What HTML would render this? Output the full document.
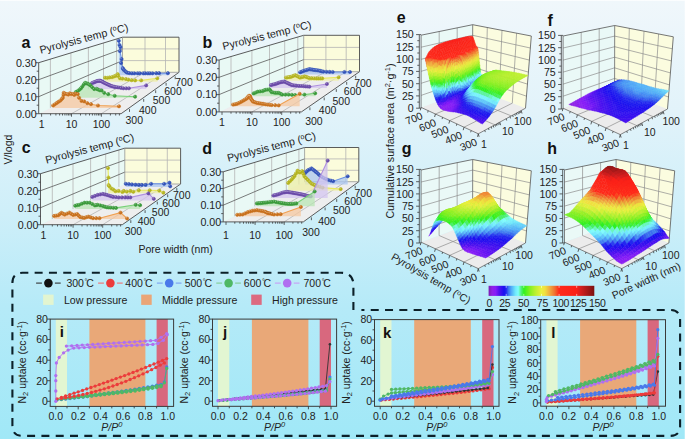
<!DOCTYPE html>
<html><head><meta charset="utf-8"><style>
html,body{margin:0;padding:0;width:685px;height:439px;overflow:hidden;background:#d8f0f8}
svg{display:block;font-family:"Liberation Sans", sans-serif}
</style></head><body>
<svg xmlns="http://www.w3.org/2000/svg" width="685" height="439" viewBox="0 0 685 439">
<defs><linearGradient id="bg" x1="0" y1="0" x2="0" y2="1">
<stop offset="0" stop-color="#f0f7fb"/>
<stop offset="0.25" stop-color="#e2f3fa"/>
<stop offset="0.48" stop-color="#cfeff9"/>
<stop offset="0.70" stop-color="#b5eaf8"/>
<stop offset="1" stop-color="#a0e8f7"/>
</linearGradient></defs>
<rect x="0" y="0" width="685" height="439" fill="url(#bg)"/>
<rect x="0" y="0" width="685" height="1" fill="#ffffff" fill-opacity="0.7"/>
<rect x="684" y="0" width="1" height="439" fill="#ffffff" fill-opacity="0.25"/>
<path d="M38.7 113.7L121.1 113.7L179 72.3L122.5 72.3Z" fill="#eeeeee"/>
<path d="M38.7 113.7L38.7 62.7L122.5 37.2L122.5 72.3Z" fill="#e9f9f5"/>
<path d="M122.5 72.3L179 72.3L179 37.2L122.5 37.2Z" fill="#fbfcdc"/>
<path d="M50.4 107.9L50.4 59.1M70.9 97.8L70.9 52.9M88.4 89.1L88.4 47.6M103.5 81.7L103.5 43M116.6 75.2L116.6 39M145 72.3L145 37.2M165.5 72.3L165.5 37.2M122.5 60.6L179 60.6M122.5 48.9L179 48.9M71.5 113.7L145 72.3M101.4 113.7L165.5 72.3" stroke="#b4b4b4" stroke-width="0.8" fill="none"/>
<path d="M38.7 96.7L122.5 60.6M38.7 79.7L122.5 48.9" stroke="#5a5a5a" stroke-width="0.8" fill="none"/>
<path d="M38.7 113.7L38.7 62.7L122.5 37.2L179 37.2L179 72.3L121.1 113.7L38.7 113.7" fill="none" stroke="#4a4a4a" stroke-width="0.9"/>
<path d="M122.5 37.2L122.5 72.3L179 72.3" fill="none" stroke="#8a8a8a" stroke-width="0.7"/>
<path d="M118.8 40.8L119.5 45L120.5 47.1L119.9 51.1L121.6 59.1L121.1 63L122.8 68.1L123.3 69.3L124.5 70.4L125.9 71.8L127.3 72.7L129.3 73.1L131.9 73.3L134.3 73.3L137.6 73.3L139.8 73.3L143.3 73.3L145.2 73.3L147.8 73.3L149.9 73.3L152.5 73.3L156.3 73.2L159.1 73.2L167.9 73.2L167.9 75.2L118.8 75.2Z" fill="#aac6f2" fill-opacity="0.75"/>
<path d="M118.8 40.8L119.5 45L120.5 47.1L119.9 51.1L121.6 59.1L121.1 63L122.8 68.1L123.3 69.3L124.5 70.4L125.9 71.8L127.3 72.7L129.3 73.1L131.9 73.3L134.3 73.3L137.6 73.3L139.8 73.3L143.3 73.3L145.2 73.3L147.8 73.3L149.9 73.3L152.5 73.3L156.3 73.2L159.1 73.2L167.9 73.2" fill="none" stroke="#6890e6" stroke-width="1.1"/>
<g fill="#3252b8" stroke="#3252b8" stroke-width="0.6"><circle cx="118.8" cy="40.8" r="1.6"/><circle cx="119.5" cy="45" r="1.6"/><circle cx="120.5" cy="47.1" r="1.6"/><circle cx="119.9" cy="51.1" r="1.6"/><circle cx="121.6" cy="59.1" r="1.6"/><circle cx="121.1" cy="63" r="1.6"/><circle cx="122.8" cy="68.1" r="1.6"/><circle cx="123.3" cy="69.3" r="1.6"/><circle cx="124.5" cy="70.4" r="1.6"/><circle cx="125.9" cy="71.8" r="1.6"/><circle cx="127.3" cy="72.7" r="1.6"/><circle cx="129.3" cy="73.1" r="1.6"/><circle cx="131.9" cy="73.3" r="1.6"/><circle cx="134.3" cy="73.3" r="1.6"/><circle cx="137.6" cy="73.3" r="1.6"/><circle cx="139.8" cy="73.3" r="1.6"/><circle cx="143.3" cy="73.3" r="1.6"/><circle cx="145.2" cy="73.3" r="1.6"/><circle cx="147.8" cy="73.3" r="1.6"/><circle cx="149.9" cy="73.3" r="1.6"/><circle cx="152.5" cy="73.3" r="1.6"/><circle cx="156.3" cy="73.2" r="1.6"/><circle cx="159.1" cy="73.2" r="1.6"/><circle cx="167.9" cy="73.2" r="1.6"/></g>
<g fill="#ffffff" fill-opacity="0.4"><circle cx="118.2" cy="40.1" r="0.55"/><circle cx="118.9" cy="44.3" r="0.55"/><circle cx="119.9" cy="46.4" r="0.55"/><circle cx="119.3" cy="50.4" r="0.55"/><circle cx="121" cy="58.4" r="0.55"/><circle cx="120.5" cy="62.3" r="0.55"/><circle cx="122.2" cy="67.4" r="0.55"/><circle cx="122.7" cy="68.6" r="0.55"/><circle cx="123.9" cy="69.7" r="0.55"/><circle cx="125.3" cy="71.1" r="0.55"/><circle cx="126.7" cy="72" r="0.55"/><circle cx="128.7" cy="72.4" r="0.55"/><circle cx="131.3" cy="72.6" r="0.55"/><circle cx="133.7" cy="72.6" r="0.55"/><circle cx="137" cy="72.6" r="0.55"/><circle cx="139.2" cy="72.6" r="0.55"/><circle cx="142.7" cy="72.6" r="0.55"/><circle cx="144.6" cy="72.6" r="0.55"/><circle cx="147.2" cy="72.6" r="0.55"/><circle cx="149.3" cy="72.6" r="0.55"/><circle cx="151.9" cy="72.6" r="0.55"/><circle cx="155.7" cy="72.5" r="0.55"/><circle cx="158.5" cy="72.5" r="0.55"/><circle cx="167.3" cy="72.5" r="0.55"/></g>
<path d="M105.1 77.7L107.4 77.8L109.6 77.4L112 77.2L113.8 76.5L115.4 75.9L116.5 75.3L117.7 74.2L118.2 75.9L120 78.3L122.4 78.6L125.9 79L128.3 79.6L131.6 80.2L135.1 80.4L141.2 80.4L157.3 78.3L157.3 81.7L105.1 81.7Z" fill="#eeeea4" fill-opacity="0.75"/>
<path d="M105.1 77.7L107.4 77.8L109.6 77.4L112 77.2L113.8 76.5L115.4 75.9L116.5 75.3L117.7 74.2L118.2 75.9L120 78.3L122.4 78.6L125.9 79L128.3 79.6L131.6 80.2L135.1 80.4L141.2 80.4L157.3 78.3" fill="none" stroke="#e8e860" stroke-width="1.1"/>
<g fill="#b4b41e" stroke="#b4b41e" stroke-width="0.6"><circle cx="105.1" cy="77.7" r="1.6"/><circle cx="107.4" cy="77.8" r="1.6"/><circle cx="109.6" cy="77.4" r="1.6"/><circle cx="112" cy="77.2" r="1.6"/><circle cx="113.8" cy="76.5" r="1.6"/><circle cx="115.4" cy="75.9" r="1.6"/><circle cx="116.5" cy="75.3" r="1.6"/><circle cx="117.7" cy="74.2" r="1.6"/><circle cx="118.2" cy="75.9" r="1.6"/><circle cx="120" cy="78.3" r="1.6"/><circle cx="122.4" cy="78.6" r="1.6"/><circle cx="125.9" cy="79" r="1.6"/><circle cx="128.3" cy="79.6" r="1.6"/><circle cx="131.6" cy="80.2" r="1.6"/><circle cx="135.1" cy="80.4" r="1.6"/><circle cx="141.2" cy="80.4" r="1.6"/><circle cx="157.3" cy="78.3" r="1.6"/></g>
<g fill="#ffffff" fill-opacity="0.4"><circle cx="104.5" cy="77" r="0.55"/><circle cx="106.8" cy="77.1" r="0.55"/><circle cx="109" cy="76.7" r="0.55"/><circle cx="111.4" cy="76.5" r="0.55"/><circle cx="113.2" cy="75.8" r="0.55"/><circle cx="114.8" cy="75.2" r="0.55"/><circle cx="115.9" cy="74.6" r="0.55"/><circle cx="117.1" cy="73.5" r="0.55"/><circle cx="117.6" cy="75.2" r="0.55"/><circle cx="119.4" cy="77.6" r="0.55"/><circle cx="121.8" cy="77.9" r="0.55"/><circle cx="125.3" cy="78.3" r="0.55"/><circle cx="127.7" cy="78.9" r="0.55"/><circle cx="131" cy="79.5" r="0.55"/><circle cx="134.5" cy="79.7" r="0.55"/><circle cx="140.6" cy="79.7" r="0.55"/><circle cx="156.7" cy="77.6" r="0.55"/></g>
<path d="M92.1 83L93.2 82.6L94.3 82.2L95.5 81.7L96.7 81.2L97.6 81L98.6 80.8L99.4 80.8L100.2 80.7L101.1 81.1L102 81.5L102.9 82L103.7 82.5L104.8 83L105.9 83.6L107.2 84.2L108.4 84.7L109.5 85.2L110.5 85.7L111.8 86.1L113 86.5L114.3 86.8L115.6 87.1L117.2 87.3L118.9 87.5L121.1 87.9L123.4 88.3L126.2 88.3L128.9 88.3L146.2 85.4L146.2 89.1L92.1 89.1Z" fill="#d4c6f0" fill-opacity="0.75"/>
<path d="M92.1 83L93.2 82.6L94.3 82.2L95.5 81.7L96.7 81.2L97.6 81L98.6 80.8L99.4 80.8L100.2 80.7L101.1 81.1L102 81.5L102.9 82L103.7 82.5L104.8 83L105.9 83.6L107.2 84.2L108.4 84.7L109.5 85.2L110.5 85.7L111.8 86.1L113 86.5L114.3 86.8L115.6 87.1L117.2 87.3L118.9 87.5L121.1 87.9L123.4 88.3L126.2 88.3L128.9 88.3L146.2 85.4" fill="none" stroke="#b090e0" stroke-width="1.1"/>
<g fill="#6a4aa8" stroke="#6a4aa8" stroke-width="0.6"><circle cx="92.1" cy="83" r="1.6"/><circle cx="93.2" cy="82.6" r="1.6"/><circle cx="94.3" cy="82.2" r="1.6"/><circle cx="95.5" cy="81.7" r="1.6"/><circle cx="96.7" cy="81.2" r="1.6"/><circle cx="97.6" cy="81" r="1.6"/><circle cx="98.6" cy="80.8" r="1.6"/><circle cx="99.4" cy="80.8" r="1.6"/><circle cx="100.2" cy="80.7" r="1.6"/><circle cx="101.1" cy="81.1" r="1.6"/><circle cx="102" cy="81.5" r="1.6"/><circle cx="102.9" cy="82" r="1.6"/><circle cx="103.7" cy="82.5" r="1.6"/><circle cx="104.8" cy="83" r="1.6"/><circle cx="105.9" cy="83.6" r="1.6"/><circle cx="107.2" cy="84.2" r="1.6"/><circle cx="108.4" cy="84.7" r="1.6"/><circle cx="109.5" cy="85.2" r="1.6"/><circle cx="110.5" cy="85.7" r="1.6"/><circle cx="111.8" cy="86.1" r="1.6"/><circle cx="113" cy="86.5" r="1.6"/><circle cx="114.3" cy="86.8" r="1.6"/><circle cx="115.6" cy="87.1" r="1.6"/><circle cx="117.2" cy="87.3" r="1.6"/><circle cx="118.9" cy="87.5" r="1.6"/><circle cx="121.1" cy="87.9" r="1.6"/><circle cx="123.4" cy="88.3" r="1.6"/><circle cx="126.2" cy="88.3" r="1.6"/><circle cx="128.9" cy="88.3" r="1.6"/><circle cx="146.2" cy="85.4" r="1.6"/></g>
<g fill="#ffffff" fill-opacity="0.4"><circle cx="91.5" cy="82.3" r="0.55"/><circle cx="92.6" cy="81.9" r="0.55"/><circle cx="93.7" cy="81.5" r="0.55"/><circle cx="94.9" cy="81" r="0.55"/><circle cx="96.1" cy="80.5" r="0.55"/><circle cx="97" cy="80.3" r="0.55"/><circle cx="98" cy="80.1" r="0.55"/><circle cx="98.8" cy="80.1" r="0.55"/><circle cx="99.6" cy="80" r="0.55"/><circle cx="100.5" cy="80.4" r="0.55"/><circle cx="101.4" cy="80.8" r="0.55"/><circle cx="102.3" cy="81.3" r="0.55"/><circle cx="103.1" cy="81.8" r="0.55"/><circle cx="104.2" cy="82.3" r="0.55"/><circle cx="105.3" cy="82.9" r="0.55"/><circle cx="106.6" cy="83.5" r="0.55"/><circle cx="107.8" cy="84" r="0.55"/><circle cx="108.9" cy="84.5" r="0.55"/><circle cx="109.9" cy="85" r="0.55"/><circle cx="111.2" cy="85.4" r="0.55"/><circle cx="112.4" cy="85.8" r="0.55"/><circle cx="113.7" cy="86.1" r="0.55"/><circle cx="115" cy="86.4" r="0.55"/><circle cx="116.6" cy="86.6" r="0.55"/><circle cx="118.3" cy="86.8" r="0.55"/><circle cx="120.5" cy="87.2" r="0.55"/><circle cx="122.8" cy="87.6" r="0.55"/><circle cx="125.6" cy="87.6" r="0.55"/><circle cx="128.3" cy="87.6" r="0.55"/><circle cx="145.6" cy="84.7" r="0.55"/></g>
<path d="M76 91.9L78.1 90.7L79.7 89.5L81.1 88.1L82.4 86.4L83.9 84.3L85.1 82.8L86.4 83.3L87.8 83.7L89.3 84.6L90.6 85.5L92.3 87.3L94.2 89.1L96.6 88.8L97.9 89.5L99.8 90.3L101.6 90.4L104.2 92.8L108.2 94.2L114.7 95.8L135.1 96.7L135.1 97.8L76 97.8Z" fill="#b8e6b4" fill-opacity="0.75"/>
<path d="M76 91.9L78.1 90.7L79.7 89.5L81.1 88.1L82.4 86.4L83.9 84.3L85.1 82.8L86.4 83.3L87.8 83.7L89.3 84.6L90.6 85.5L92.3 87.3L94.2 89.1L96.6 88.8L97.9 89.5L99.8 90.3L101.6 90.4L104.2 92.8L108.2 94.2L114.7 95.8L135.1 96.7" fill="none" stroke="#78d078" stroke-width="1.1"/>
<g fill="#3a9a3a" stroke="#3a9a3a" stroke-width="0.6"><circle cx="76" cy="91.9" r="1.6"/><circle cx="78.1" cy="90.7" r="1.6"/><circle cx="79.7" cy="89.5" r="1.6"/><circle cx="81.1" cy="88.1" r="1.6"/><circle cx="82.4" cy="86.4" r="1.6"/><circle cx="83.9" cy="84.3" r="1.6"/><circle cx="85.1" cy="82.8" r="1.6"/><circle cx="86.4" cy="83.3" r="1.6"/><circle cx="87.8" cy="83.7" r="1.6"/><circle cx="89.3" cy="84.6" r="1.6"/><circle cx="90.6" cy="85.5" r="1.6"/><circle cx="92.3" cy="87.3" r="1.6"/><circle cx="94.2" cy="89.1" r="1.6"/><circle cx="96.6" cy="88.8" r="1.6"/><circle cx="97.9" cy="89.5" r="1.6"/><circle cx="99.8" cy="90.3" r="1.6"/><circle cx="101.6" cy="90.4" r="1.6"/><circle cx="104.2" cy="92.8" r="1.6"/><circle cx="108.2" cy="94.2" r="1.6"/><circle cx="114.7" cy="95.8" r="1.6"/><circle cx="135.1" cy="96.7" r="1.6"/></g>
<g fill="#ffffff" fill-opacity="0.4"><circle cx="75.4" cy="91.2" r="0.55"/><circle cx="77.5" cy="90" r="0.55"/><circle cx="79.1" cy="88.8" r="0.55"/><circle cx="80.5" cy="87.4" r="0.55"/><circle cx="81.8" cy="85.7" r="0.55"/><circle cx="83.3" cy="83.6" r="0.55"/><circle cx="84.5" cy="82.1" r="0.55"/><circle cx="85.8" cy="82.6" r="0.55"/><circle cx="87.2" cy="83" r="0.55"/><circle cx="88.7" cy="83.9" r="0.55"/><circle cx="90" cy="84.8" r="0.55"/><circle cx="91.7" cy="86.6" r="0.55"/><circle cx="93.6" cy="88.4" r="0.55"/><circle cx="96" cy="88.1" r="0.55"/><circle cx="97.3" cy="88.8" r="0.55"/><circle cx="99.2" cy="89.6" r="0.55"/><circle cx="101" cy="89.7" r="0.55"/><circle cx="103.6" cy="92.1" r="0.55"/><circle cx="107.6" cy="93.5" r="0.55"/><circle cx="114.1" cy="95.1" r="0.55"/><circle cx="134.5" cy="96" r="0.55"/></g>
<path d="M53.1 105.5L54.9 104.3L56.9 102.9L58.6 101.7L60.4 100.6L61.8 99L62.8 97.8L63.5 94.9L63.7 92.8L65 93.6L66.8 94.1L68.3 94.6L69.7 93.3L71.3 94.1L73.1 93.8L74.3 94.9L75.8 93.6L77.8 94.1L79.1 97.8L81.5 100.9L84.2 101.4L87.4 103.2L91 104.2L98 105.5L119 106.3L119 107.9L53.1 107.9Z" fill="#f5c8a0" fill-opacity="0.75"/>
<path d="M53.1 105.5L54.9 104.3L56.9 102.9L58.6 101.7L60.4 100.6L61.8 99L62.8 97.8L63.5 94.9L63.7 92.8L65 93.6L66.8 94.1L68.3 94.6L69.7 93.3L71.3 94.1L73.1 93.8L74.3 94.9L75.8 93.6L77.8 94.1L79.1 97.8L81.5 100.9L84.2 101.4L87.4 103.2L91 104.2L98 105.5L119 106.3" fill="none" stroke="#f0a050" stroke-width="1.1"/>
<g fill="#c8701c" stroke="#c8701c" stroke-width="0.6"><circle cx="53.1" cy="105.5" r="1.6"/><circle cx="54.9" cy="104.3" r="1.6"/><circle cx="56.9" cy="102.9" r="1.6"/><circle cx="58.6" cy="101.7" r="1.6"/><circle cx="60.4" cy="100.6" r="1.6"/><circle cx="61.8" cy="99" r="1.6"/><circle cx="62.8" cy="97.8" r="1.6"/><circle cx="63.5" cy="94.9" r="1.6"/><circle cx="63.7" cy="92.8" r="1.6"/><circle cx="65" cy="93.6" r="1.6"/><circle cx="66.8" cy="94.1" r="1.6"/><circle cx="68.3" cy="94.6" r="1.6"/><circle cx="69.7" cy="93.3" r="1.6"/><circle cx="71.3" cy="94.1" r="1.6"/><circle cx="73.1" cy="93.8" r="1.6"/><circle cx="74.3" cy="94.9" r="1.6"/><circle cx="75.8" cy="93.6" r="1.6"/><circle cx="77.8" cy="94.1" r="1.6"/><circle cx="79.1" cy="97.8" r="1.6"/><circle cx="81.5" cy="100.9" r="1.6"/><circle cx="84.2" cy="101.4" r="1.6"/><circle cx="87.4" cy="103.2" r="1.6"/><circle cx="91" cy="104.2" r="1.6"/><circle cx="98" cy="105.5" r="1.6"/><circle cx="119" cy="106.3" r="1.6"/></g>
<g fill="#ffffff" fill-opacity="0.4"><circle cx="52.5" cy="104.8" r="0.55"/><circle cx="54.3" cy="103.6" r="0.55"/><circle cx="56.3" cy="102.2" r="0.55"/><circle cx="58" cy="101" r="0.55"/><circle cx="59.8" cy="99.9" r="0.55"/><circle cx="61.2" cy="98.3" r="0.55"/><circle cx="62.2" cy="97.1" r="0.55"/><circle cx="62.9" cy="94.2" r="0.55"/><circle cx="63.1" cy="92.1" r="0.55"/><circle cx="64.4" cy="92.9" r="0.55"/><circle cx="66.2" cy="93.4" r="0.55"/><circle cx="67.7" cy="93.9" r="0.55"/><circle cx="69.1" cy="92.6" r="0.55"/><circle cx="70.7" cy="93.4" r="0.55"/><circle cx="72.5" cy="93.1" r="0.55"/><circle cx="73.7" cy="94.2" r="0.55"/><circle cx="75.2" cy="92.9" r="0.55"/><circle cx="77.2" cy="93.4" r="0.55"/><circle cx="78.5" cy="97.1" r="0.55"/><circle cx="80.9" cy="100.2" r="0.55"/><circle cx="83.6" cy="100.7" r="0.55"/><circle cx="86.8" cy="102.5" r="0.55"/><circle cx="90.4" cy="103.5" r="0.55"/><circle cx="97.4" cy="104.8" r="0.55"/><circle cx="118.4" cy="105.6" r="0.55"/></g>
<path d="M38.7 113.7h-3M38.7 105.2h-2M38.7 96.7h-3M38.7 88.2h-2M38.7 79.7h-3M38.7 71.2h-2M38.7 62.7h-3M41.6 113.7v3M50.6 113.7v1.8M55.9 113.7v1.8M59.6 113.7v1.8M62.5 113.7v1.8M64.9 113.7v1.8M66.9 113.7v1.8M68.6 113.7v1.8M70.1 113.7v1.8M71.5 113.7v3M80.5 113.7v1.8M85.8 113.7v1.8M89.5 113.7v1.8M92.4 113.7v1.8M94.8 113.7v1.8M96.8 113.7v1.8M98.5 113.7v1.8M100 113.7v1.8M101.4 113.7v3M110.4 113.7v1.8M115.7 113.7v1.8M119.4 113.7v1.8M129.5 109.1v2.8M143.7 99v2.8M155.7 90.3v2.8M166.1 82.9v2.8M175.2 76.4v2.8" stroke="#3a3a3a" stroke-width="0.8" fill="none"/>
<text x="36.7" y="117.5" font-size="10.7" text-anchor="end" fill="#222">0.00</text>
<text x="36.7" y="100.5" font-size="10.7" text-anchor="end" fill="#222">0.10</text>
<text x="36.7" y="83.5" font-size="10.7" text-anchor="end" fill="#222">0.20</text>
<text x="36.7" y="66.5" font-size="10.7" text-anchor="end" fill="#222">0.30</text>
<text x="41.6" y="127.5" font-size="10.5" text-anchor="middle" fill="#222">1</text>
<text x="71.5" y="127.5" font-size="10.5" text-anchor="middle" fill="#222">10</text>
<text x="101.4" y="127.5" font-size="10.5" text-anchor="middle" fill="#222">100</text>
<text x="134.3" y="123.6" font-size="10.5" text-anchor="middle" fill="#222">300</text>
<text x="147.8" y="113.6" font-size="10.5" text-anchor="middle" fill="#222">400</text>
<text x="161.5" y="104.4" font-size="10.5" text-anchor="middle" fill="#222">500</text>
<text x="173" y="94.8" font-size="10.5" text-anchor="middle" fill="#222">600</text>
<text x="184" y="85.5" font-size="10.5" text-anchor="middle" fill="#222">700</text>
<text transform="translate(40.7 53.7) rotate(-14.7)" font-size="10.7" fill="#222">Pyrolysis temp (<tspan font-size="7" dy="-3.5">o</tspan><tspan dy="3.5">C)</tspan></text>
<text x="21.6" y="47.8" font-size="16" font-weight="bold" fill="#111">a</text>
<path d="M219.1 111.9L301.4 111.9L359.5 71.7L303.7 71.7Z" fill="#eeeeee"/>
<path d="M219.1 111.9L219.1 60L303.7 35.3L303.7 71.7Z" fill="#e9f9f5"/>
<path d="M303.7 71.7L359.5 71.7L359.5 35.3L303.7 35.3Z" fill="#fbfcdc"/>
<path d="M231 106.2L231 56.5M251.9 96.3L251.9 50.4M269.5 87.9L269.5 45.3M284.7 80.8L284.7 40.9M297.8 74.5L297.8 37M325.9 71.7L325.9 35.3M346.2 71.7L346.2 35.3M303.7 59.6L359.5 59.6M303.7 47.4L359.5 47.4M251.9 111.9L325.9 71.7M281.7 111.9L346.2 71.7" stroke="#b4b4b4" stroke-width="0.8" fill="none"/>
<path d="M219.1 94.6L303.7 59.6M219.1 77.3L303.7 47.4" stroke="#5a5a5a" stroke-width="0.8" fill="none"/>
<path d="M219.1 111.9L219.1 60L303.7 35.3L359.5 35.3L359.5 71.7L301.4 111.9L219.1 111.9" fill="none" stroke="#4a4a4a" stroke-width="0.9"/>
<path d="M303.7 35.3L303.7 71.7L359.5 71.7" fill="none" stroke="#8a8a8a" stroke-width="0.7"/>
<path d="M300.1 72.3L301.6 71.7L303.2 71.1L304.7 70.5L306.3 70.1L307.8 69.6L309.4 69.1L310.9 69.4L312.5 69.6L314 69.9L315.6 70.1L317.2 70.3L318.7 70.5L320.3 70.9L321.8 71.3L323.4 71.6L326.5 71.8L329.6 71.9L332.7 72L344.4 72L350 72L350 74.5L300.1 74.5Z" fill="#aac6f2" fill-opacity="0.75"/>
<path d="M300.1 72.3L301.6 71.7L303.2 71.1L304.7 70.5L306.3 70.1L307.8 69.6L309.4 69.1L310.9 69.4L312.5 69.6L314 69.9L315.6 70.1L317.2 70.3L318.7 70.5L320.3 70.9L321.8 71.3L323.4 71.6L326.5 71.8L329.6 71.9L332.7 72L344.4 72L350 72" fill="none" stroke="#6890e6" stroke-width="1.1"/>
<g fill="#3252b8" stroke="#3252b8" stroke-width="0.6"><circle cx="300.1" cy="72.3" r="1.6"/><circle cx="301.6" cy="71.7" r="1.6"/><circle cx="303.2" cy="71.1" r="1.6"/><circle cx="304.7" cy="70.5" r="1.6"/><circle cx="306.3" cy="70.1" r="1.6"/><circle cx="307.8" cy="69.6" r="1.6"/><circle cx="309.4" cy="69.1" r="1.6"/><circle cx="310.9" cy="69.4" r="1.6"/><circle cx="312.5" cy="69.6" r="1.6"/><circle cx="314" cy="69.9" r="1.6"/><circle cx="315.6" cy="70.1" r="1.6"/><circle cx="317.2" cy="70.3" r="1.6"/><circle cx="318.7" cy="70.5" r="1.6"/><circle cx="320.3" cy="70.9" r="1.6"/><circle cx="321.8" cy="71.3" r="1.6"/><circle cx="323.4" cy="71.6" r="1.6"/><circle cx="326.5" cy="71.8" r="1.6"/><circle cx="329.6" cy="71.9" r="1.6"/><circle cx="332.7" cy="72" r="1.6"/><circle cx="344.4" cy="72" r="1.6"/><circle cx="350" cy="72" r="1.6"/></g>
<g fill="#ffffff" fill-opacity="0.4"><circle cx="299.5" cy="71.6" r="0.55"/><circle cx="301" cy="71" r="0.55"/><circle cx="302.6" cy="70.4" r="0.55"/><circle cx="304.1" cy="69.8" r="0.55"/><circle cx="305.7" cy="69.4" r="0.55"/><circle cx="307.2" cy="68.9" r="0.55"/><circle cx="308.8" cy="68.4" r="0.55"/><circle cx="310.3" cy="68.7" r="0.55"/><circle cx="311.9" cy="68.9" r="0.55"/><circle cx="313.4" cy="69.2" r="0.55"/><circle cx="315" cy="69.4" r="0.55"/><circle cx="316.6" cy="69.6" r="0.55"/><circle cx="318.1" cy="69.8" r="0.55"/><circle cx="319.7" cy="70.2" r="0.55"/><circle cx="321.2" cy="70.6" r="0.55"/><circle cx="322.8" cy="70.9" r="0.55"/><circle cx="325.9" cy="71.1" r="0.55"/><circle cx="329" cy="71.2" r="0.55"/><circle cx="332.1" cy="71.3" r="0.55"/><circle cx="343.8" cy="71.3" r="0.55"/><circle cx="349.4" cy="71.3" r="0.55"/></g>
<path d="M286 77.6L287.6 77.3L289.1 77.1L290.7 76.9L292.3 76.3L293.8 75.7L295.4 75.2L296.9 76L298.5 76.8L300 77.6L301.6 77.2L303.2 76.8L304.7 76.4L306.3 76.9L307.8 77.5L309.4 78.1L311.7 78.2L314.1 78.3L316.4 78.4L318.3 78.4L320.3 78.4L322.2 78.4L338.6 77.3L338.6 80.8L286 80.8Z" fill="#eeeea4" fill-opacity="0.75"/>
<path d="M286 77.6L287.6 77.3L289.1 77.1L290.7 76.9L292.3 76.3L293.8 75.7L295.4 75.2L296.9 76L298.5 76.8L300 77.6L301.6 77.2L303.2 76.8L304.7 76.4L306.3 76.9L307.8 77.5L309.4 78.1L311.7 78.2L314.1 78.3L316.4 78.4L318.3 78.4L320.3 78.4L322.2 78.4L338.6 77.3" fill="none" stroke="#e8e860" stroke-width="1.1"/>
<g fill="#b4b41e" stroke="#b4b41e" stroke-width="0.6"><circle cx="286" cy="77.6" r="1.6"/><circle cx="287.6" cy="77.3" r="1.6"/><circle cx="289.1" cy="77.1" r="1.6"/><circle cx="290.7" cy="76.9" r="1.6"/><circle cx="292.3" cy="76.3" r="1.6"/><circle cx="293.8" cy="75.7" r="1.6"/><circle cx="295.4" cy="75.2" r="1.6"/><circle cx="296.9" cy="76" r="1.6"/><circle cx="298.5" cy="76.8" r="1.6"/><circle cx="300" cy="77.6" r="1.6"/><circle cx="301.6" cy="77.2" r="1.6"/><circle cx="303.2" cy="76.8" r="1.6"/><circle cx="304.7" cy="76.4" r="1.6"/><circle cx="306.3" cy="76.9" r="1.6"/><circle cx="307.8" cy="77.5" r="1.6"/><circle cx="309.4" cy="78.1" r="1.6"/><circle cx="311.7" cy="78.2" r="1.6"/><circle cx="314.1" cy="78.3" r="1.6"/><circle cx="316.4" cy="78.4" r="1.6"/><circle cx="318.3" cy="78.4" r="1.6"/><circle cx="320.3" cy="78.4" r="1.6"/><circle cx="322.2" cy="78.4" r="1.6"/><circle cx="338.6" cy="77.3" r="1.6"/></g>
<g fill="#ffffff" fill-opacity="0.4"><circle cx="285.4" cy="76.9" r="0.55"/><circle cx="287" cy="76.6" r="0.55"/><circle cx="288.5" cy="76.4" r="0.55"/><circle cx="290.1" cy="76.2" r="0.55"/><circle cx="291.7" cy="75.6" r="0.55"/><circle cx="293.2" cy="75" r="0.55"/><circle cx="294.8" cy="74.5" r="0.55"/><circle cx="296.3" cy="75.3" r="0.55"/><circle cx="297.9" cy="76.1" r="0.55"/><circle cx="299.4" cy="76.9" r="0.55"/><circle cx="301" cy="76.5" r="0.55"/><circle cx="302.6" cy="76.1" r="0.55"/><circle cx="304.1" cy="75.7" r="0.55"/><circle cx="305.7" cy="76.2" r="0.55"/><circle cx="307.2" cy="76.8" r="0.55"/><circle cx="308.8" cy="77.4" r="0.55"/><circle cx="311.1" cy="77.5" r="0.55"/><circle cx="313.5" cy="77.6" r="0.55"/><circle cx="315.8" cy="77.7" r="0.55"/><circle cx="317.7" cy="77.7" r="0.55"/><circle cx="319.7" cy="77.7" r="0.55"/><circle cx="321.6" cy="77.7" r="0.55"/><circle cx="338" cy="76.6" r="0.55"/></g>
<path d="M270.9 85.1L272.4 84.7L274 84.3L275.5 84L277.1 83.4L278.6 82.8L280.2 82.3L281.5 82L282.9 81.8L284.3 81.5L285.6 82.2L287 82.8L288.4 83.4L289.5 84L290.7 84.5L291.9 85.1L293.4 85.3L295 85.5L296.5 85.7L298.9 85.9L301.2 86L303.5 86.2L305.5 86.4L307.4 86.5L309.4 86.7L326.9 84L326.9 87.9L270.9 87.9Z" fill="#d4c6f0" fill-opacity="0.75"/>
<path d="M270.9 85.1L272.4 84.7L274 84.3L275.5 84L277.1 83.4L278.6 82.8L280.2 82.3L281.5 82L282.9 81.8L284.3 81.5L285.6 82.2L287 82.8L288.4 83.4L289.5 84L290.7 84.5L291.9 85.1L293.4 85.3L295 85.5L296.5 85.7L298.9 85.9L301.2 86L303.5 86.2L305.5 86.4L307.4 86.5L309.4 86.7L326.9 84" fill="none" stroke="#b090e0" stroke-width="1.1"/>
<g fill="#6a4aa8" stroke="#6a4aa8" stroke-width="0.6"><circle cx="270.9" cy="85.1" r="1.6"/><circle cx="272.4" cy="84.7" r="1.6"/><circle cx="274" cy="84.3" r="1.6"/><circle cx="275.5" cy="84" r="1.6"/><circle cx="277.1" cy="83.4" r="1.6"/><circle cx="278.6" cy="82.8" r="1.6"/><circle cx="280.2" cy="82.3" r="1.6"/><circle cx="281.5" cy="82" r="1.6"/><circle cx="282.9" cy="81.8" r="1.6"/><circle cx="284.3" cy="81.5" r="1.6"/><circle cx="285.6" cy="82.2" r="1.6"/><circle cx="287" cy="82.8" r="1.6"/><circle cx="288.4" cy="83.4" r="1.6"/><circle cx="289.5" cy="84" r="1.6"/><circle cx="290.7" cy="84.5" r="1.6"/><circle cx="291.9" cy="85.1" r="1.6"/><circle cx="293.4" cy="85.3" r="1.6"/><circle cx="295" cy="85.5" r="1.6"/><circle cx="296.5" cy="85.7" r="1.6"/><circle cx="298.9" cy="85.9" r="1.6"/><circle cx="301.2" cy="86" r="1.6"/><circle cx="303.5" cy="86.2" r="1.6"/><circle cx="305.5" cy="86.4" r="1.6"/><circle cx="307.4" cy="86.5" r="1.6"/><circle cx="309.4" cy="86.7" r="1.6"/><circle cx="326.9" cy="84" r="1.6"/></g>
<g fill="#ffffff" fill-opacity="0.4"><circle cx="270.3" cy="84.4" r="0.55"/><circle cx="271.8" cy="84" r="0.55"/><circle cx="273.4" cy="83.6" r="0.55"/><circle cx="274.9" cy="83.3" r="0.55"/><circle cx="276.5" cy="82.7" r="0.55"/><circle cx="278" cy="82.1" r="0.55"/><circle cx="279.6" cy="81.6" r="0.55"/><circle cx="280.9" cy="81.3" r="0.55"/><circle cx="282.3" cy="81.1" r="0.55"/><circle cx="283.7" cy="80.8" r="0.55"/><circle cx="285" cy="81.5" r="0.55"/><circle cx="286.4" cy="82.1" r="0.55"/><circle cx="287.8" cy="82.7" r="0.55"/><circle cx="288.9" cy="83.3" r="0.55"/><circle cx="290.1" cy="83.8" r="0.55"/><circle cx="291.3" cy="84.4" r="0.55"/><circle cx="292.8" cy="84.6" r="0.55"/><circle cx="294.4" cy="84.8" r="0.55"/><circle cx="295.9" cy="85" r="0.55"/><circle cx="298.3" cy="85.2" r="0.55"/><circle cx="300.6" cy="85.3" r="0.55"/><circle cx="302.9" cy="85.5" r="0.55"/><circle cx="304.9" cy="85.7" r="0.55"/><circle cx="306.8" cy="85.8" r="0.55"/><circle cx="308.8" cy="86" r="0.55"/><circle cx="326.3" cy="83.3" r="0.55"/></g>
<path d="M253.6 93.4L255.6 92.6L257.7 91.7L260 91.4L262.4 91.1L263.8 90.5L265.3 89.9L267.3 89.6L269.4 89.3L270.5 90.7L271.7 92.2L273.5 92.5L275.2 92.8L277 92.8L278.7 92.8L280.5 93.7L282.2 94.6L285.4 94.6L288.6 94.6L291.9 94.8L295.1 95L304.4 94.6L315.2 93.3L315.2 96.3L253.6 96.3Z" fill="#b8e6b4" fill-opacity="0.75"/>
<path d="M253.6 93.4L255.6 92.6L257.7 91.7L260 91.4L262.4 91.1L263.8 90.5L265.3 89.9L267.3 89.6L269.4 89.3L270.5 90.7L271.7 92.2L273.5 92.5L275.2 92.8L277 92.8L278.7 92.8L280.5 93.7L282.2 94.6L285.4 94.6L288.6 94.6L291.9 94.8L295.1 95L304.4 94.6L315.2 93.3" fill="none" stroke="#78d078" stroke-width="1.1"/>
<g fill="#3a9a3a" stroke="#3a9a3a" stroke-width="0.6"><circle cx="253.6" cy="93.4" r="1.6"/><circle cx="255.6" cy="92.6" r="1.6"/><circle cx="257.7" cy="91.7" r="1.6"/><circle cx="260" cy="91.4" r="1.6"/><circle cx="262.4" cy="91.1" r="1.6"/><circle cx="263.8" cy="90.5" r="1.6"/><circle cx="265.3" cy="89.9" r="1.6"/><circle cx="267.3" cy="89.6" r="1.6"/><circle cx="269.4" cy="89.3" r="1.6"/><circle cx="270.5" cy="90.7" r="1.6"/><circle cx="271.7" cy="92.2" r="1.6"/><circle cx="273.5" cy="92.5" r="1.6"/><circle cx="275.2" cy="92.8" r="1.6"/><circle cx="277" cy="92.8" r="1.6"/><circle cx="278.7" cy="92.8" r="1.6"/><circle cx="280.5" cy="93.7" r="1.6"/><circle cx="282.2" cy="94.6" r="1.6"/><circle cx="285.4" cy="94.6" r="1.6"/><circle cx="288.6" cy="94.6" r="1.6"/><circle cx="291.9" cy="94.8" r="1.6"/><circle cx="295.1" cy="95" r="1.6"/><circle cx="304.4" cy="94.6" r="1.6"/><circle cx="315.2" cy="93.3" r="1.6"/></g>
<g fill="#ffffff" fill-opacity="0.4"><circle cx="253" cy="92.7" r="0.55"/><circle cx="255" cy="91.9" r="0.55"/><circle cx="257.1" cy="91" r="0.55"/><circle cx="259.4" cy="90.7" r="0.55"/><circle cx="261.8" cy="90.4" r="0.55"/><circle cx="263.2" cy="89.8" r="0.55"/><circle cx="264.7" cy="89.2" r="0.55"/><circle cx="266.7" cy="88.9" r="0.55"/><circle cx="268.8" cy="88.6" r="0.55"/><circle cx="269.9" cy="90" r="0.55"/><circle cx="271.1" cy="91.5" r="0.55"/><circle cx="272.9" cy="91.8" r="0.55"/><circle cx="274.6" cy="92.1" r="0.55"/><circle cx="276.4" cy="92.1" r="0.55"/><circle cx="278.1" cy="92.1" r="0.55"/><circle cx="279.9" cy="93" r="0.55"/><circle cx="281.6" cy="93.9" r="0.55"/><circle cx="284.8" cy="93.9" r="0.55"/><circle cx="288" cy="93.9" r="0.55"/><circle cx="291.3" cy="94.1" r="0.55"/><circle cx="294.5" cy="94.3" r="0.55"/><circle cx="303.8" cy="93.9" r="0.55"/><circle cx="314.6" cy="92.6" r="0.55"/></g>
<path d="M233.1 104.6L234.9 104.3L236.7 103.9L238.5 103.1L240.2 102.3L241.9 101.4L243.7 100.4L245.1 99.5L246.6 98.6L247.2 97.9L247.8 97.1L248.4 96.5L249 95.8L249.5 96L250.1 96.3L250.7 97.8L251.3 99.3L252.2 100.4L253 101.6L254.8 102.2L256.5 102.8L258.3 103.1L260 103.4L261.8 103.7L263.5 103.9L265.6 104.3L267.6 104.6L269.7 104.8L271.7 105.1L275.2 105.2L278.7 105.4L299.7 93.8L299.7 106.2L233.1 106.2Z" fill="#f5c8a0" fill-opacity="0.75"/>
<path d="M233.1 104.6L234.9 104.3L236.7 103.9L238.5 103.1L240.2 102.3L241.9 101.4L243.7 100.4L245.1 99.5L246.6 98.6L247.2 97.9L247.8 97.1L248.4 96.5L249 95.8L249.5 96L250.1 96.3L250.7 97.8L251.3 99.3L252.2 100.4L253 101.6L254.8 102.2L256.5 102.8L258.3 103.1L260 103.4L261.8 103.7L263.5 103.9L265.6 104.3L267.6 104.6L269.7 104.8L271.7 105.1L275.2 105.2L278.7 105.4L299.7 93.8" fill="none" stroke="#f0a050" stroke-width="1.1"/>
<g fill="#c8701c" stroke="#c8701c" stroke-width="0.6"><circle cx="233.1" cy="104.6" r="1.6"/><circle cx="234.9" cy="104.3" r="1.6"/><circle cx="236.7" cy="103.9" r="1.6"/><circle cx="238.5" cy="103.1" r="1.6"/><circle cx="240.2" cy="102.3" r="1.6"/><circle cx="241.9" cy="101.4" r="1.6"/><circle cx="243.7" cy="100.4" r="1.6"/><circle cx="245.1" cy="99.5" r="1.6"/><circle cx="246.6" cy="98.6" r="1.6"/><circle cx="247.2" cy="97.9" r="1.6"/><circle cx="247.8" cy="97.1" r="1.6"/><circle cx="248.4" cy="96.5" r="1.6"/><circle cx="249" cy="95.8" r="1.6"/><circle cx="249.5" cy="96" r="1.6"/><circle cx="250.1" cy="96.3" r="1.6"/><circle cx="250.7" cy="97.8" r="1.6"/><circle cx="251.3" cy="99.3" r="1.6"/><circle cx="252.2" cy="100.4" r="1.6"/><circle cx="253" cy="101.6" r="1.6"/><circle cx="254.8" cy="102.2" r="1.6"/><circle cx="256.5" cy="102.8" r="1.6"/><circle cx="258.3" cy="103.1" r="1.6"/><circle cx="260" cy="103.4" r="1.6"/><circle cx="261.8" cy="103.7" r="1.6"/><circle cx="263.5" cy="103.9" r="1.6"/><circle cx="265.6" cy="104.3" r="1.6"/><circle cx="267.6" cy="104.6" r="1.6"/><circle cx="269.7" cy="104.8" r="1.6"/><circle cx="271.7" cy="105.1" r="1.6"/><circle cx="275.2" cy="105.2" r="1.6"/><circle cx="278.7" cy="105.4" r="1.6"/><circle cx="299.7" cy="93.8" r="1.6"/></g>
<g fill="#ffffff" fill-opacity="0.4"><circle cx="232.5" cy="103.9" r="0.55"/><circle cx="234.3" cy="103.6" r="0.55"/><circle cx="236.1" cy="103.2" r="0.55"/><circle cx="237.9" cy="102.4" r="0.55"/><circle cx="239.6" cy="101.6" r="0.55"/><circle cx="241.3" cy="100.7" r="0.55"/><circle cx="243.1" cy="99.7" r="0.55"/><circle cx="244.5" cy="98.8" r="0.55"/><circle cx="246" cy="97.9" r="0.55"/><circle cx="246.6" cy="97.2" r="0.55"/><circle cx="247.2" cy="96.4" r="0.55"/><circle cx="247.8" cy="95.8" r="0.55"/><circle cx="248.4" cy="95.1" r="0.55"/><circle cx="248.9" cy="95.3" r="0.55"/><circle cx="249.5" cy="95.6" r="0.55"/><circle cx="250.1" cy="97.1" r="0.55"/><circle cx="250.7" cy="98.6" r="0.55"/><circle cx="251.6" cy="99.7" r="0.55"/><circle cx="252.4" cy="100.9" r="0.55"/><circle cx="254.2" cy="101.5" r="0.55"/><circle cx="255.9" cy="102.1" r="0.55"/><circle cx="257.7" cy="102.4" r="0.55"/><circle cx="259.4" cy="102.7" r="0.55"/><circle cx="261.2" cy="103" r="0.55"/><circle cx="262.9" cy="103.2" r="0.55"/><circle cx="265" cy="103.6" r="0.55"/><circle cx="267" cy="103.9" r="0.55"/><circle cx="269.1" cy="104.1" r="0.55"/><circle cx="271.1" cy="104.4" r="0.55"/><circle cx="274.6" cy="104.5" r="0.55"/><circle cx="278.1" cy="104.7" r="0.55"/><circle cx="299.1" cy="93.1" r="0.55"/></g>
<path d="M219.1 111.9h-3M219.1 103.2h-2M219.1 94.6h-3M219.1 86h-2M219.1 77.3h-3M219.1 68.7h-2M219.1 60h-3M222 111.9v3M231 111.9v1.8M236.2 111.9v1.8M240 111.9v1.8M242.9 111.9v1.8M245.2 111.9v1.8M247.2 111.9v1.8M249 111.9v1.8M250.5 111.9v1.8M251.9 111.9v3M260.8 111.9v1.8M266.1 111.9v1.8M269.8 111.9v1.8M272.7 111.9v1.8M275.1 111.9v1.8M277.1 111.9v1.8M278.8 111.9v1.8M280.4 111.9v1.8M281.7 111.9v3M290.7 111.9v1.8M296 111.9v1.8M299.7 111.9v1.8M309.9 107.4v2.8M324.2 97.5v2.8M336.3 89.1v2.8M346.7 82v2.8M355.7 75.7v2.8" stroke="#3a3a3a" stroke-width="0.8" fill="none"/>
<text x="217.1" y="115.7" font-size="10.7" text-anchor="end" fill="#222">0.00</text>
<text x="217.1" y="98.4" font-size="10.7" text-anchor="end" fill="#222">0.10</text>
<text x="217.1" y="81.1" font-size="10.7" text-anchor="end" fill="#222">0.20</text>
<text x="217.1" y="63.8" font-size="10.7" text-anchor="end" fill="#222">0.30</text>
<text x="222" y="125.7" font-size="10.5" text-anchor="middle" fill="#222">1</text>
<text x="251.9" y="125.7" font-size="10.5" text-anchor="middle" fill="#222">10</text>
<text x="281.7" y="125.7" font-size="10.5" text-anchor="middle" fill="#222">100</text>
<text x="313.9" y="124.5" font-size="10.5" text-anchor="middle" fill="#222">300</text>
<text x="327.6" y="114.2" font-size="10.5" text-anchor="middle" fill="#222">400</text>
<text x="341.3" y="105.1" font-size="10.5" text-anchor="middle" fill="#222">500</text>
<text x="352.6" y="94.9" font-size="10.5" text-anchor="middle" fill="#222">600</text>
<text x="362.9" y="86.9" font-size="10.5" text-anchor="middle" fill="#222">700</text>
<text transform="translate(223.6 50) rotate(-14.1)" font-size="10.7" fill="#222">Pyrolysis temp (<tspan font-size="7" dy="-3.5">o</tspan><tspan dy="3.5">C)</tspan></text>
<text x="202.6" y="47.8" font-size="16" font-weight="bold" fill="#111">b</text>
<path d="M40.5 224.7L122.3 224.7L180.6 184L124.8 184Z" fill="#eeeeee"/>
<path d="M40.5 224.7L40.5 173.7L124.8 148.2L124.8 184Z" fill="#e9f9f5"/>
<path d="M124.8 184L180.6 184L180.6 148.2L124.8 148.2Z" fill="#fbfcdc"/>
<path d="M52.3 219L52.3 170.1M73 209L73 163.9M90.6 200.5L90.6 158.5M105.7 193.2L105.7 154M118.9 186.9L118.9 150M147 184L147 148.2M167.3 184L167.3 148.2M124.8 172.1L180.6 172.1M124.8 160.1L180.6 160.1M73.1 224.7L147 184M102.7 224.7L167.3 184" stroke="#b4b4b4" stroke-width="0.8" fill="none"/>
<path d="M40.5 207.7L124.8 172.1M40.5 190.7L124.8 160.1" stroke="#5a5a5a" stroke-width="0.8" fill="none"/>
<path d="M40.5 224.7L40.5 173.7L124.8 148.2L180.6 148.2L180.6 184L122.3 224.7L40.5 224.7" fill="none" stroke="#4a4a4a" stroke-width="0.9"/>
<path d="M124.8 148.2L124.8 184L180.6 184" fill="none" stroke="#8a8a8a" stroke-width="0.7"/>
<path d="M125.8 183.8L128.8 184L131.9 184.4L135.5 184.7L138.8 184.9L141.8 184.9L145.6 184.9L151.1 183.8L164.1 183.8L169.5 182.7L170.2 186.3L170.2 186.9L125.8 186.9Z" fill="#aac6f2" fill-opacity="0.75"/>
<path d="M125.8 183.8L128.8 184L131.9 184.4L135.5 184.7L138.8 184.9L141.8 184.9L145.6 184.9L151.1 183.8L164.1 183.8L169.5 182.7L170.2 186.3" fill="none" stroke="#6890e6" stroke-width="1.1"/>
<g fill="#3252b8" stroke="#3252b8" stroke-width="0.6"><circle cx="125.8" cy="183.8" r="1.6"/><circle cx="128.8" cy="184" r="1.6"/><circle cx="131.9" cy="184.4" r="1.6"/><circle cx="135.5" cy="184.7" r="1.6"/><circle cx="138.8" cy="184.9" r="1.6"/><circle cx="141.8" cy="184.9" r="1.6"/><circle cx="145.6" cy="184.9" r="1.6"/><circle cx="151.1" cy="183.8" r="1.6"/><circle cx="164.1" cy="183.8" r="1.6"/><circle cx="169.5" cy="182.7" r="1.6"/><circle cx="170.2" cy="186.3" r="1.6"/></g>
<g fill="#ffffff" fill-opacity="0.4"><circle cx="125.2" cy="183.1" r="0.55"/><circle cx="128.2" cy="183.3" r="0.55"/><circle cx="131.3" cy="183.7" r="0.55"/><circle cx="134.9" cy="184" r="0.55"/><circle cx="138.2" cy="184.2" r="0.55"/><circle cx="141.2" cy="184.2" r="0.55"/><circle cx="145" cy="184.2" r="0.55"/><circle cx="150.5" cy="183.1" r="0.55"/><circle cx="163.5" cy="183.1" r="0.55"/><circle cx="168.9" cy="182" r="0.55"/><circle cx="169.6" cy="185.6" r="0.55"/></g>
<path d="M108 168.1L108.4 177.5L108.6 185.1L109.4 186.3L111.4 188.5L113.3 189.5L115.5 191.2L118.6 190.9L122.4 192L123.8 190.9L126.8 191.6L130.4 190.9L133.3 191.8L138.8 190.3L149.7 190.3L159.3 190.6L163.4 192.7L163.4 193.2L108 193.2Z" fill="#eeeea4" fill-opacity="0.75"/>
<path d="M108 168.1L108.4 177.5L108.6 185.1L109.4 186.3L111.4 188.5L113.3 189.5L115.5 191.2L118.6 190.9L122.4 192L123.8 190.9L126.8 191.6L130.4 190.9L133.3 191.8L138.8 190.3L149.7 190.3L159.3 190.6L163.4 192.7" fill="none" stroke="#e8e860" stroke-width="1.1"/>
<g fill="#b4b41e" stroke="#b4b41e" stroke-width="0.6"><circle cx="108" cy="168.1" r="1.6"/><circle cx="108.4" cy="177.5" r="1.6"/><circle cx="108.6" cy="185.1" r="1.6"/><circle cx="109.4" cy="186.3" r="1.6"/><circle cx="111.4" cy="188.5" r="1.6"/><circle cx="113.3" cy="189.5" r="1.6"/><circle cx="115.5" cy="191.2" r="1.6"/><circle cx="118.6" cy="190.9" r="1.6"/><circle cx="122.4" cy="192" r="1.6"/><circle cx="123.8" cy="190.9" r="1.6"/><circle cx="126.8" cy="191.6" r="1.6"/><circle cx="130.4" cy="190.9" r="1.6"/><circle cx="133.3" cy="191.8" r="1.6"/><circle cx="138.8" cy="190.3" r="1.6"/><circle cx="149.7" cy="190.3" r="1.6"/><circle cx="159.3" cy="190.6" r="1.6"/><circle cx="163.4" cy="192.7" r="1.6"/></g>
<g fill="#ffffff" fill-opacity="0.4"><circle cx="107.4" cy="167.4" r="0.55"/><circle cx="107.8" cy="176.8" r="0.55"/><circle cx="108" cy="184.4" r="0.55"/><circle cx="108.8" cy="185.6" r="0.55"/><circle cx="110.8" cy="187.8" r="0.55"/><circle cx="112.7" cy="188.8" r="0.55"/><circle cx="114.9" cy="190.5" r="0.55"/><circle cx="118" cy="190.2" r="0.55"/><circle cx="121.8" cy="191.3" r="0.55"/><circle cx="123.2" cy="190.2" r="0.55"/><circle cx="126.2" cy="190.9" r="0.55"/><circle cx="129.8" cy="190.2" r="0.55"/><circle cx="132.7" cy="191.1" r="0.55"/><circle cx="138.2" cy="189.6" r="0.55"/><circle cx="149.1" cy="189.6" r="0.55"/><circle cx="158.7" cy="189.9" r="0.55"/><circle cx="162.8" cy="192" r="0.55"/></g>
<path d="M92.3 196.9L94.9 195.9L97.6 194.9L100.2 194.4L102.8 193.9L104.8 194.4L106.8 194.9L108.7 195.5L110.7 196.2L112 196.5L113.3 196.9L115.9 197.1L118.6 197.4L121.9 197.4L125.1 197.4L127.8 197.4L130.4 197.4L148.4 193.4L153.8 198.8L153.8 200.5L92.3 200.5Z" fill="#d4c6f0" fill-opacity="0.75"/>
<path d="M92.3 196.9L94.9 195.9L97.6 194.9L100.2 194.4L102.8 193.9L104.8 194.4L106.8 194.9L108.7 195.5L110.7 196.2L112 196.5L113.3 196.9L115.9 197.1L118.6 197.4L121.9 197.4L125.1 197.4L127.8 197.4L130.4 197.4L148.4 193.4L153.8 198.8" fill="none" stroke="#b090e0" stroke-width="1.1"/>
<g fill="#6a4aa8" stroke="#6a4aa8" stroke-width="0.6"><circle cx="92.3" cy="196.9" r="1.6"/><circle cx="94.9" cy="195.9" r="1.6"/><circle cx="97.6" cy="194.9" r="1.6"/><circle cx="100.2" cy="194.4" r="1.6"/><circle cx="102.8" cy="193.9" r="1.6"/><circle cx="104.8" cy="194.4" r="1.6"/><circle cx="106.8" cy="194.9" r="1.6"/><circle cx="108.7" cy="195.5" r="1.6"/><circle cx="110.7" cy="196.2" r="1.6"/><circle cx="112" cy="196.5" r="1.6"/><circle cx="113.3" cy="196.9" r="1.6"/><circle cx="115.9" cy="197.1" r="1.6"/><circle cx="118.6" cy="197.4" r="1.6"/><circle cx="121.9" cy="197.4" r="1.6"/><circle cx="125.1" cy="197.4" r="1.6"/><circle cx="127.8" cy="197.4" r="1.6"/><circle cx="130.4" cy="197.4" r="1.6"/><circle cx="148.4" cy="193.4" r="1.6"/><circle cx="153.8" cy="198.8" r="1.6"/></g>
<g fill="#ffffff" fill-opacity="0.4"><circle cx="91.7" cy="196.2" r="0.55"/><circle cx="94.3" cy="195.2" r="0.55"/><circle cx="97" cy="194.2" r="0.55"/><circle cx="99.6" cy="193.7" r="0.55"/><circle cx="102.2" cy="193.2" r="0.55"/><circle cx="104.2" cy="193.7" r="0.55"/><circle cx="106.2" cy="194.2" r="0.55"/><circle cx="108.1" cy="194.8" r="0.55"/><circle cx="110.1" cy="195.5" r="0.55"/><circle cx="111.4" cy="195.8" r="0.55"/><circle cx="112.7" cy="196.2" r="0.55"/><circle cx="115.3" cy="196.4" r="0.55"/><circle cx="118" cy="196.7" r="0.55"/><circle cx="121.3" cy="196.7" r="0.55"/><circle cx="124.5" cy="196.7" r="0.55"/><circle cx="127.2" cy="196.7" r="0.55"/><circle cx="129.8" cy="196.7" r="0.55"/><circle cx="147.8" cy="192.7" r="0.55"/><circle cx="153.2" cy="198.1" r="0.55"/></g>
<path d="M75.2 205.7L77.2 205.2L79.2 204.8L81.8 203.7L84.4 202.7L87 202.7L89.7 202.7L92.3 204L94.9 205.4L96.2 205.1L97.6 204.8L100.2 205.4L102.8 206L104.8 206.7L106.8 207.3L108.7 207.5L110.7 207.6L113.3 207.8L116 207.9L135.7 204.8L140.1 205.2L140.1 209L75.2 209Z" fill="#b8e6b4" fill-opacity="0.75"/>
<path d="M75.2 205.7L77.2 205.2L79.2 204.8L81.8 203.7L84.4 202.7L87 202.7L89.7 202.7L92.3 204L94.9 205.4L96.2 205.1L97.6 204.8L100.2 205.4L102.8 206L104.8 206.7L106.8 207.3L108.7 207.5L110.7 207.6L113.3 207.8L116 207.9L135.7 204.8L140.1 205.2" fill="none" stroke="#78d078" stroke-width="1.1"/>
<g fill="#3a9a3a" stroke="#3a9a3a" stroke-width="0.6"><circle cx="75.2" cy="205.7" r="1.6"/><circle cx="77.2" cy="205.2" r="1.6"/><circle cx="79.2" cy="204.8" r="1.6"/><circle cx="81.8" cy="203.7" r="1.6"/><circle cx="84.4" cy="202.7" r="1.6"/><circle cx="87" cy="202.7" r="1.6"/><circle cx="89.7" cy="202.7" r="1.6"/><circle cx="92.3" cy="204" r="1.6"/><circle cx="94.9" cy="205.4" r="1.6"/><circle cx="96.2" cy="205.1" r="1.6"/><circle cx="97.6" cy="204.8" r="1.6"/><circle cx="100.2" cy="205.4" r="1.6"/><circle cx="102.8" cy="206" r="1.6"/><circle cx="104.8" cy="206.7" r="1.6"/><circle cx="106.8" cy="207.3" r="1.6"/><circle cx="108.7" cy="207.5" r="1.6"/><circle cx="110.7" cy="207.6" r="1.6"/><circle cx="113.3" cy="207.8" r="1.6"/><circle cx="116" cy="207.9" r="1.6"/><circle cx="135.7" cy="204.8" r="1.6"/><circle cx="140.1" cy="205.2" r="1.6"/></g>
<g fill="#ffffff" fill-opacity="0.4"><circle cx="74.6" cy="205" r="0.55"/><circle cx="76.6" cy="204.5" r="0.55"/><circle cx="78.6" cy="204.1" r="0.55"/><circle cx="81.2" cy="203" r="0.55"/><circle cx="83.8" cy="202" r="0.55"/><circle cx="86.4" cy="202" r="0.55"/><circle cx="89.1" cy="202" r="0.55"/><circle cx="91.7" cy="203.3" r="0.55"/><circle cx="94.3" cy="204.7" r="0.55"/><circle cx="95.6" cy="204.4" r="0.55"/><circle cx="97" cy="204.1" r="0.55"/><circle cx="99.6" cy="204.7" r="0.55"/><circle cx="102.2" cy="205.3" r="0.55"/><circle cx="104.2" cy="206" r="0.55"/><circle cx="106.2" cy="206.6" r="0.55"/><circle cx="108.1" cy="206.8" r="0.55"/><circle cx="110.1" cy="206.9" r="0.55"/><circle cx="112.7" cy="207.1" r="0.55"/><circle cx="115.4" cy="207.2" r="0.55"/><circle cx="135.1" cy="204.1" r="0.55"/><circle cx="139.5" cy="204.5" r="0.55"/></g>
<path d="M54.1 215.9L56.2 215.6L58.2 215.3L59.8 214L61.4 212.8L63.1 213.7L64.7 214.6L67 213.6L69.3 212.6L71.3 213.8L73.2 214.9L75.2 214.5L77.2 214.1L78.8 215.7L80.5 217.2L82.4 217.5L84.4 217.9L86.4 217.2L88.4 216.6L90.7 217.4L93 218.2L96.2 218.2L99.5 218.2L120.5 212.6L127.1 218.5L127.1 219L54.1 219Z" fill="#f5c8a0" fill-opacity="0.75"/>
<path d="M54.1 215.9L56.2 215.6L58.2 215.3L59.8 214L61.4 212.8L63.1 213.7L64.7 214.6L67 213.6L69.3 212.6L71.3 213.8L73.2 214.9L75.2 214.5L77.2 214.1L78.8 215.7L80.5 217.2L82.4 217.5L84.4 217.9L86.4 217.2L88.4 216.6L90.7 217.4L93 218.2L96.2 218.2L99.5 218.2L120.5 212.6L127.1 218.5" fill="none" stroke="#f0a050" stroke-width="1.1"/>
<g fill="#c8701c" stroke="#c8701c" stroke-width="0.6"><circle cx="54.1" cy="215.9" r="1.6"/><circle cx="56.2" cy="215.6" r="1.6"/><circle cx="58.2" cy="215.3" r="1.6"/><circle cx="59.8" cy="214" r="1.6"/><circle cx="61.4" cy="212.8" r="1.6"/><circle cx="63.1" cy="213.7" r="1.6"/><circle cx="64.7" cy="214.6" r="1.6"/><circle cx="67" cy="213.6" r="1.6"/><circle cx="69.3" cy="212.6" r="1.6"/><circle cx="71.3" cy="213.8" r="1.6"/><circle cx="73.2" cy="214.9" r="1.6"/><circle cx="75.2" cy="214.5" r="1.6"/><circle cx="77.2" cy="214.1" r="1.6"/><circle cx="78.8" cy="215.7" r="1.6"/><circle cx="80.5" cy="217.2" r="1.6"/><circle cx="82.4" cy="217.5" r="1.6"/><circle cx="84.4" cy="217.9" r="1.6"/><circle cx="86.4" cy="217.2" r="1.6"/><circle cx="88.4" cy="216.6" r="1.6"/><circle cx="90.7" cy="217.4" r="1.6"/><circle cx="93" cy="218.2" r="1.6"/><circle cx="96.2" cy="218.2" r="1.6"/><circle cx="99.5" cy="218.2" r="1.6"/><circle cx="120.5" cy="212.6" r="1.6"/><circle cx="127.1" cy="218.5" r="1.6"/></g>
<g fill="#ffffff" fill-opacity="0.4"><circle cx="53.5" cy="215.2" r="0.55"/><circle cx="55.6" cy="214.9" r="0.55"/><circle cx="57.6" cy="214.6" r="0.55"/><circle cx="59.2" cy="213.3" r="0.55"/><circle cx="60.8" cy="212.1" r="0.55"/><circle cx="62.5" cy="213" r="0.55"/><circle cx="64.1" cy="213.9" r="0.55"/><circle cx="66.4" cy="212.9" r="0.55"/><circle cx="68.7" cy="211.9" r="0.55"/><circle cx="70.7" cy="213.1" r="0.55"/><circle cx="72.6" cy="214.2" r="0.55"/><circle cx="74.6" cy="213.8" r="0.55"/><circle cx="76.6" cy="213.4" r="0.55"/><circle cx="78.2" cy="215" r="0.55"/><circle cx="79.9" cy="216.5" r="0.55"/><circle cx="81.8" cy="216.8" r="0.55"/><circle cx="83.8" cy="217.2" r="0.55"/><circle cx="85.8" cy="216.5" r="0.55"/><circle cx="87.8" cy="215.9" r="0.55"/><circle cx="90.1" cy="216.7" r="0.55"/><circle cx="92.4" cy="217.5" r="0.55"/><circle cx="95.6" cy="217.5" r="0.55"/><circle cx="98.9" cy="217.5" r="0.55"/><circle cx="119.9" cy="211.9" r="0.55"/><circle cx="126.5" cy="217.8" r="0.55"/></g>
<path d="M40.5 224.7h-3M40.5 216.2h-2M40.5 207.7h-3M40.5 199.2h-2M40.5 190.7h-3M40.5 182.2h-2M40.5 173.7h-3M43.4 224.7v3M52.3 224.7v1.8M57.5 224.7v1.8M61.2 224.7v1.8M64.1 224.7v1.8M66.5 224.7v1.8M68.5 224.7v1.8M70.2 224.7v1.8M71.7 224.7v1.8M73.1 224.7v3M82 224.7v1.8M87.2 224.7v1.8M90.9 224.7v1.8M93.8 224.7v1.8M96.2 224.7v1.8M98.2 224.7v1.8M99.9 224.7v1.8M101.4 224.7v1.8M102.7 224.7v3M111.7 224.7v1.8M116.9 224.7v1.8M120.6 224.7v1.8M130.8 220.2v2.8M145.1 210.2v2.8M157.3 201.7v2.8M167.7 194.4v2.8M176.8 188.1v2.8" stroke="#3a3a3a" stroke-width="0.8" fill="none"/>
<text x="38.5" y="228.5" font-size="10.7" text-anchor="end" fill="#222">0.00</text>
<text x="38.5" y="211.5" font-size="10.7" text-anchor="end" fill="#222">0.10</text>
<text x="38.5" y="194.5" font-size="10.7" text-anchor="end" fill="#222">0.20</text>
<text x="38.5" y="177.5" font-size="10.7" text-anchor="end" fill="#222">0.30</text>
<text x="43.4" y="238.6" font-size="10.5" text-anchor="middle" fill="#222">1</text>
<text x="73.1" y="238.6" font-size="10.5" text-anchor="middle" fill="#222">10</text>
<text x="102.7" y="238.6" font-size="10.5" text-anchor="middle" fill="#222">100</text>
<text x="133.4" y="235.2" font-size="10.5" text-anchor="middle" fill="#222">300</text>
<text x="146.4" y="224.9" font-size="10.5" text-anchor="middle" fill="#222">400</text>
<text x="160.6" y="215.8" font-size="10.5" text-anchor="middle" fill="#222">500</text>
<text x="171" y="206.7" font-size="10.5" text-anchor="middle" fill="#222">600</text>
<text x="181.8" y="198.5" font-size="10.5" text-anchor="middle" fill="#222">700</text>
<text transform="translate(46.5 163.7) rotate(-14.6)" font-size="10.7" fill="#222">Pyrolysis temp (<tspan font-size="7" dy="-3.5">o</tspan><tspan dy="3.5">C)</tspan></text>
<text x="21.8" y="152.8" font-size="16" font-weight="bold" fill="#111">c</text>
<path d="M223.2 221.9L303.3 221.9L358.8 181.7L304.6 181.7Z" fill="#eeeeee"/>
<path d="M223.2 221.9L223.2 171.8L304.6 147.5L304.6 181.7Z" fill="#e9f9f5"/>
<path d="M304.6 181.7L358.8 181.7L358.8 147.5L304.6 147.5Z" fill="#fbfcdc"/>
<path d="M234.7 216.2L234.7 168.4M254.8 206.3L254.8 162.4M271.7 197.9L271.7 157.3M286.3 190.7L286.3 153M298.9 184.5L298.9 149.2M326.2 181.7L326.2 147.5M345.8 181.7L345.8 147.5M304.6 170.3L358.8 170.3M304.6 158.9L358.8 158.9M255.1 221.9L326.2 181.7M284.2 221.9L345.8 181.7" stroke="#b4b4b4" stroke-width="0.8" fill="none"/>
<path d="M223.2 205.2L304.6 170.3M223.2 188.5L304.6 158.9" stroke="#5a5a5a" stroke-width="0.8" fill="none"/>
<path d="M223.2 221.9L223.2 171.8L304.6 147.5L358.8 147.5L358.8 181.7L303.3 221.9L223.2 221.9" fill="none" stroke="#4a4a4a" stroke-width="0.9"/>
<path d="M304.6 147.5L304.6 181.7L358.8 181.7" fill="none" stroke="#8a8a8a" stroke-width="0.7"/>
<path d="M305.1 173L306.6 171.6L308 170.2L309.8 169.3L311.5 168.4L313 169.6L314.5 170.7L315.9 171.9L317.4 173L318.8 174.4L320.3 175.9L322.3 177.1L324.4 178.3L326.4 179.2L328.5 180L330.8 180.6L333.1 181.2L347.7 176.3L347.7 184.5L305.1 184.5Z" fill="#aac6f2" fill-opacity="0.75"/>
<path d="M305.1 173L306.6 171.6L308 170.2L309.8 169.3L311.5 168.4L313 169.6L314.5 170.7L315.9 171.9L317.4 173L318.8 174.4L320.3 175.9L322.3 177.1L324.4 178.3L326.4 179.2L328.5 180L330.8 180.6L333.1 181.2L347.7 176.3" fill="none" stroke="#6890e6" stroke-width="1.1"/>
<g fill="#3252b8" stroke="#3252b8" stroke-width="0.6"><circle cx="305.1" cy="173" r="1.6"/><circle cx="306.6" cy="171.6" r="1.6"/><circle cx="308" cy="170.2" r="1.6"/><circle cx="309.8" cy="169.3" r="1.6"/><circle cx="311.5" cy="168.4" r="1.6"/><circle cx="313" cy="169.6" r="1.6"/><circle cx="314.5" cy="170.7" r="1.6"/><circle cx="315.9" cy="171.9" r="1.6"/><circle cx="317.4" cy="173" r="1.6"/><circle cx="318.8" cy="174.4" r="1.6"/><circle cx="320.3" cy="175.9" r="1.6"/><circle cx="322.3" cy="177.1" r="1.6"/><circle cx="324.4" cy="178.3" r="1.6"/><circle cx="326.4" cy="179.2" r="1.6"/><circle cx="328.5" cy="180" r="1.6"/><circle cx="330.8" cy="180.6" r="1.6"/><circle cx="333.1" cy="181.2" r="1.6"/><circle cx="347.7" cy="176.3" r="1.6"/></g>
<g fill="#ffffff" fill-opacity="0.4"><circle cx="304.5" cy="172.3" r="0.55"/><circle cx="306" cy="170.9" r="0.55"/><circle cx="307.4" cy="169.5" r="0.55"/><circle cx="309.2" cy="168.6" r="0.55"/><circle cx="310.9" cy="167.7" r="0.55"/><circle cx="312.4" cy="168.9" r="0.55"/><circle cx="313.9" cy="170" r="0.55"/><circle cx="315.3" cy="171.2" r="0.55"/><circle cx="316.8" cy="172.3" r="0.55"/><circle cx="318.2" cy="173.7" r="0.55"/><circle cx="319.7" cy="175.2" r="0.55"/><circle cx="321.7" cy="176.4" r="0.55"/><circle cx="323.8" cy="177.6" r="0.55"/><circle cx="325.8" cy="178.5" r="0.55"/><circle cx="327.9" cy="179.3" r="0.55"/><circle cx="330.2" cy="179.9" r="0.55"/><circle cx="332.5" cy="180.5" r="0.55"/><circle cx="347.1" cy="175.6" r="0.55"/></g>
<path d="M288.2 182.9L289.9 181.2L291.7 179.4L293.1 177.7L294.6 176L296 173.4L297.5 170.7L298.7 171.6L299.8 172.5L301 171.8L302.2 171.2L303.4 173.9L304.5 176.5L306.3 178.3L308 180L309.8 181.8L311.5 183.6L313.3 184.4L315 185.3L316.2 185.7L317.4 186.1L320 186.8L322.6 187.6L340.7 189.1L340.7 190.7L288.2 190.7Z" fill="#eeeea4" fill-opacity="0.75"/>
<path d="M288.2 182.9L289.9 181.2L291.7 179.4L293.1 177.7L294.6 176L296 173.4L297.5 170.7L298.7 171.6L299.8 172.5L301 171.8L302.2 171.2L303.4 173.9L304.5 176.5L306.3 178.3L308 180L309.8 181.8L311.5 183.6L313.3 184.4L315 185.3L316.2 185.7L317.4 186.1L320 186.8L322.6 187.6L340.7 189.1" fill="none" stroke="#e8e860" stroke-width="1.1"/>
<g fill="#b4b41e" stroke="#b4b41e" stroke-width="0.6"><circle cx="288.2" cy="182.9" r="1.6"/><circle cx="289.9" cy="181.2" r="1.6"/><circle cx="291.7" cy="179.4" r="1.6"/><circle cx="293.1" cy="177.7" r="1.6"/><circle cx="294.6" cy="176" r="1.6"/><circle cx="296" cy="173.4" r="1.6"/><circle cx="297.5" cy="170.7" r="1.6"/><circle cx="298.7" cy="171.6" r="1.6"/><circle cx="299.8" cy="172.5" r="1.6"/><circle cx="301" cy="171.8" r="1.6"/><circle cx="302.2" cy="171.2" r="1.6"/><circle cx="303.4" cy="173.9" r="1.6"/><circle cx="304.5" cy="176.5" r="1.6"/><circle cx="306.3" cy="178.3" r="1.6"/><circle cx="308" cy="180" r="1.6"/><circle cx="309.8" cy="181.8" r="1.6"/><circle cx="311.5" cy="183.6" r="1.6"/><circle cx="313.3" cy="184.4" r="1.6"/><circle cx="315" cy="185.3" r="1.6"/><circle cx="316.2" cy="185.7" r="1.6"/><circle cx="317.4" cy="186.1" r="1.6"/><circle cx="320" cy="186.8" r="1.6"/><circle cx="322.6" cy="187.6" r="1.6"/><circle cx="340.7" cy="189.1" r="1.6"/></g>
<g fill="#ffffff" fill-opacity="0.4"><circle cx="287.6" cy="182.2" r="0.55"/><circle cx="289.3" cy="180.5" r="0.55"/><circle cx="291.1" cy="178.7" r="0.55"/><circle cx="292.5" cy="177" r="0.55"/><circle cx="294" cy="175.3" r="0.55"/><circle cx="295.4" cy="172.7" r="0.55"/><circle cx="296.9" cy="170" r="0.55"/><circle cx="298.1" cy="170.9" r="0.55"/><circle cx="299.2" cy="171.8" r="0.55"/><circle cx="300.4" cy="171.1" r="0.55"/><circle cx="301.6" cy="170.5" r="0.55"/><circle cx="302.8" cy="173.2" r="0.55"/><circle cx="303.9" cy="175.8" r="0.55"/><circle cx="305.7" cy="177.6" r="0.55"/><circle cx="307.4" cy="179.3" r="0.55"/><circle cx="309.2" cy="181.1" r="0.55"/><circle cx="310.9" cy="182.9" r="0.55"/><circle cx="312.7" cy="183.7" r="0.55"/><circle cx="314.4" cy="184.6" r="0.55"/><circle cx="315.6" cy="185" r="0.55"/><circle cx="316.8" cy="185.4" r="0.55"/><circle cx="319.4" cy="186.1" r="0.55"/><circle cx="322" cy="186.9" r="0.55"/><circle cx="340.1" cy="188.4" r="0.55"/></g>
<path d="M273.4 195.5L274.9 195.1L276.4 194.8L277.9 194.4L279.7 193.8L281.4 193.1L283.2 192.5L284.5 192.3L285.8 192.1L287.1 191.8L288.4 192.1L289.8 192.3L291.1 192.5L292.4 192.7L293.7 193L295 193.2L296.3 193.4L297.6 193.6L298.9 193.9L300.3 194.1L301.6 194.4L302.9 194.7L304.2 195L305.5 195.4L306.8 195.8L308.1 196L309.5 196.2L310.8 196.4L327.7 160.6L327.7 197.9L273.4 197.9Z" fill="#d4c6f0" fill-opacity="0.75"/>
<path d="M273.4 195.5L274.9 195.1L276.4 194.8L277.9 194.4L279.7 193.8L281.4 193.1L283.2 192.5L284.5 192.3L285.8 192.1L287.1 191.8L288.4 192.1L289.8 192.3L291.1 192.5L292.4 192.7L293.7 193L295 193.2L296.3 193.4L297.6 193.6L298.9 193.9L300.3 194.1L301.6 194.4L302.9 194.7L304.2 195L305.5 195.4L306.8 195.8L308.1 196L309.5 196.2L310.8 196.4L327.7 160.6" fill="none" stroke="#b090e0" stroke-width="1.1"/>
<g fill="#6a4aa8" stroke="#6a4aa8" stroke-width="0.6"><circle cx="273.4" cy="195.5" r="1.6"/><circle cx="274.9" cy="195.1" r="1.6"/><circle cx="276.4" cy="194.8" r="1.6"/><circle cx="277.9" cy="194.4" r="1.6"/><circle cx="279.7" cy="193.8" r="1.6"/><circle cx="281.4" cy="193.1" r="1.6"/><circle cx="283.2" cy="192.5" r="1.6"/><circle cx="284.5" cy="192.3" r="1.6"/><circle cx="285.8" cy="192.1" r="1.6"/><circle cx="287.1" cy="191.8" r="1.6"/><circle cx="288.4" cy="192.1" r="1.6"/><circle cx="289.8" cy="192.3" r="1.6"/><circle cx="291.1" cy="192.5" r="1.6"/><circle cx="292.4" cy="192.7" r="1.6"/><circle cx="293.7" cy="193" r="1.6"/><circle cx="295" cy="193.2" r="1.6"/><circle cx="296.3" cy="193.4" r="1.6"/><circle cx="297.6" cy="193.6" r="1.6"/><circle cx="298.9" cy="193.9" r="1.6"/><circle cx="300.3" cy="194.1" r="1.6"/><circle cx="301.6" cy="194.4" r="1.6"/><circle cx="302.9" cy="194.7" r="1.6"/><circle cx="304.2" cy="195" r="1.6"/><circle cx="305.5" cy="195.4" r="1.6"/><circle cx="306.8" cy="195.8" r="1.6"/><circle cx="308.1" cy="196" r="1.6"/><circle cx="309.5" cy="196.2" r="1.6"/><circle cx="310.8" cy="196.4" r="1.6"/><circle cx="327.7" cy="160.6" r="1.6"/></g>
<g fill="#ffffff" fill-opacity="0.4"><circle cx="272.8" cy="194.8" r="0.55"/><circle cx="274.3" cy="194.4" r="0.55"/><circle cx="275.8" cy="194.1" r="0.55"/><circle cx="277.3" cy="193.7" r="0.55"/><circle cx="279.1" cy="193.1" r="0.55"/><circle cx="280.8" cy="192.4" r="0.55"/><circle cx="282.6" cy="191.8" r="0.55"/><circle cx="283.9" cy="191.6" r="0.55"/><circle cx="285.2" cy="191.4" r="0.55"/><circle cx="286.5" cy="191.1" r="0.55"/><circle cx="287.8" cy="191.4" r="0.55"/><circle cx="289.2" cy="191.6" r="0.55"/><circle cx="290.5" cy="191.8" r="0.55"/><circle cx="291.8" cy="192" r="0.55"/><circle cx="293.1" cy="192.3" r="0.55"/><circle cx="294.4" cy="192.5" r="0.55"/><circle cx="295.7" cy="192.7" r="0.55"/><circle cx="297" cy="192.9" r="0.55"/><circle cx="298.3" cy="193.2" r="0.55"/><circle cx="299.7" cy="193.4" r="0.55"/><circle cx="301" cy="193.7" r="0.55"/><circle cx="302.3" cy="194" r="0.55"/><circle cx="303.6" cy="194.3" r="0.55"/><circle cx="304.9" cy="194.7" r="0.55"/><circle cx="306.2" cy="195.1" r="0.55"/><circle cx="307.5" cy="195.3" r="0.55"/><circle cx="308.9" cy="195.5" r="0.55"/><circle cx="310.2" cy="195.7" r="0.55"/><circle cx="327.1" cy="159.9" r="0.55"/></g>
<path d="M256.9 203.4L258.6 203.2L260.4 203.1L262.1 202.9L263.9 202.7L265.7 202.6L267.4 202.4L269.6 202.1L271.8 201.9L274 201.6L276.2 202.1L278.4 202.5L280.5 202.9L282.3 203.2L284.1 203.4L285.8 203.7L287.6 203.8L289.3 203.9L291.1 204L292.8 203.8L294.6 203.6L296.3 203.4L314.7 191.5L314.7 206.3L256.9 206.3Z" fill="#b8e6b4" fill-opacity="0.75"/>
<path d="M256.9 203.4L258.6 203.2L260.4 203.1L262.1 202.9L263.9 202.7L265.7 202.6L267.4 202.4L269.6 202.1L271.8 201.9L274 201.6L276.2 202.1L278.4 202.5L280.5 202.9L282.3 203.2L284.1 203.4L285.8 203.7L287.6 203.8L289.3 203.9L291.1 204L292.8 203.8L294.6 203.6L296.3 203.4L314.7 191.5" fill="none" stroke="#78d078" stroke-width="1.1"/>
<g fill="#3a9a3a" stroke="#3a9a3a" stroke-width="0.6"><circle cx="256.9" cy="203.4" r="1.6"/><circle cx="258.6" cy="203.2" r="1.6"/><circle cx="260.4" cy="203.1" r="1.6"/><circle cx="262.1" cy="202.9" r="1.6"/><circle cx="263.9" cy="202.7" r="1.6"/><circle cx="265.7" cy="202.6" r="1.6"/><circle cx="267.4" cy="202.4" r="1.6"/><circle cx="269.6" cy="202.1" r="1.6"/><circle cx="271.8" cy="201.9" r="1.6"/><circle cx="274" cy="201.6" r="1.6"/><circle cx="276.2" cy="202.1" r="1.6"/><circle cx="278.4" cy="202.5" r="1.6"/><circle cx="280.5" cy="202.9" r="1.6"/><circle cx="282.3" cy="203.2" r="1.6"/><circle cx="284.1" cy="203.4" r="1.6"/><circle cx="285.8" cy="203.7" r="1.6"/><circle cx="287.6" cy="203.8" r="1.6"/><circle cx="289.3" cy="203.9" r="1.6"/><circle cx="291.1" cy="204" r="1.6"/><circle cx="292.8" cy="203.8" r="1.6"/><circle cx="294.6" cy="203.6" r="1.6"/><circle cx="296.3" cy="203.4" r="1.6"/><circle cx="314.7" cy="191.5" r="1.6"/></g>
<g fill="#ffffff" fill-opacity="0.4"><circle cx="256.3" cy="202.7" r="0.55"/><circle cx="258" cy="202.5" r="0.55"/><circle cx="259.8" cy="202.4" r="0.55"/><circle cx="261.5" cy="202.2" r="0.55"/><circle cx="263.3" cy="202" r="0.55"/><circle cx="265.1" cy="201.9" r="0.55"/><circle cx="266.8" cy="201.7" r="0.55"/><circle cx="269" cy="201.4" r="0.55"/><circle cx="271.2" cy="201.2" r="0.55"/><circle cx="273.4" cy="200.9" r="0.55"/><circle cx="275.6" cy="201.4" r="0.55"/><circle cx="277.8" cy="201.8" r="0.55"/><circle cx="279.9" cy="202.2" r="0.55"/><circle cx="281.7" cy="202.5" r="0.55"/><circle cx="283.5" cy="202.7" r="0.55"/><circle cx="285.2" cy="203" r="0.55"/><circle cx="287" cy="203.1" r="0.55"/><circle cx="288.7" cy="203.2" r="0.55"/><circle cx="290.5" cy="203.3" r="0.55"/><circle cx="292.2" cy="203.1" r="0.55"/><circle cx="294" cy="202.9" r="0.55"/><circle cx="295.7" cy="202.7" r="0.55"/><circle cx="314.1" cy="190.8" r="0.55"/></g>
<path d="M237.2 214.8L239.9 214.6L242.5 214.5L245.1 213.4L247.7 212.2L250 211.5L252.3 210.8L254.6 210.5L256.9 210.2L258.9 210.5L260.8 210.8L262.8 211.2L264.8 211.6L266.1 212.2L267.4 212.9L268.7 213.2L270 213.5L272 214L274 214.5L277.3 214.3L280.6 214.2L300.9 207L300.9 216.2L237.2 216.2Z" fill="#f5c8a0" fill-opacity="0.75"/>
<path d="M237.2 214.8L239.9 214.6L242.5 214.5L245.1 213.4L247.7 212.2L250 211.5L252.3 210.8L254.6 210.5L256.9 210.2L258.9 210.5L260.8 210.8L262.8 211.2L264.8 211.6L266.1 212.2L267.4 212.9L268.7 213.2L270 213.5L272 214L274 214.5L277.3 214.3L280.6 214.2L300.9 207" fill="none" stroke="#f0a050" stroke-width="1.1"/>
<g fill="#c8701c" stroke="#c8701c" stroke-width="0.6"><circle cx="237.2" cy="214.8" r="1.6"/><circle cx="239.9" cy="214.6" r="1.6"/><circle cx="242.5" cy="214.5" r="1.6"/><circle cx="245.1" cy="213.4" r="1.6"/><circle cx="247.7" cy="212.2" r="1.6"/><circle cx="250" cy="211.5" r="1.6"/><circle cx="252.3" cy="210.8" r="1.6"/><circle cx="254.6" cy="210.5" r="1.6"/><circle cx="256.9" cy="210.2" r="1.6"/><circle cx="258.9" cy="210.5" r="1.6"/><circle cx="260.8" cy="210.8" r="1.6"/><circle cx="262.8" cy="211.2" r="1.6"/><circle cx="264.8" cy="211.6" r="1.6"/><circle cx="266.1" cy="212.2" r="1.6"/><circle cx="267.4" cy="212.9" r="1.6"/><circle cx="268.7" cy="213.2" r="1.6"/><circle cx="270" cy="213.5" r="1.6"/><circle cx="272" cy="214" r="1.6"/><circle cx="274" cy="214.5" r="1.6"/><circle cx="277.3" cy="214.3" r="1.6"/><circle cx="280.6" cy="214.2" r="1.6"/><circle cx="300.9" cy="207" r="1.6"/></g>
<g fill="#ffffff" fill-opacity="0.4"><circle cx="236.6" cy="214.1" r="0.55"/><circle cx="239.3" cy="213.9" r="0.55"/><circle cx="241.9" cy="213.8" r="0.55"/><circle cx="244.5" cy="212.7" r="0.55"/><circle cx="247.1" cy="211.5" r="0.55"/><circle cx="249.4" cy="210.8" r="0.55"/><circle cx="251.7" cy="210.1" r="0.55"/><circle cx="254" cy="209.8" r="0.55"/><circle cx="256.3" cy="209.5" r="0.55"/><circle cx="258.3" cy="209.8" r="0.55"/><circle cx="260.2" cy="210.1" r="0.55"/><circle cx="262.2" cy="210.5" r="0.55"/><circle cx="264.2" cy="210.9" r="0.55"/><circle cx="265.5" cy="211.5" r="0.55"/><circle cx="266.8" cy="212.2" r="0.55"/><circle cx="268.1" cy="212.5" r="0.55"/><circle cx="269.4" cy="212.8" r="0.55"/><circle cx="271.4" cy="213.3" r="0.55"/><circle cx="273.4" cy="213.8" r="0.55"/><circle cx="276.7" cy="213.6" r="0.55"/><circle cx="280" cy="213.5" r="0.55"/><circle cx="300.3" cy="206.3" r="0.55"/></g>
<path d="M223.2 221.9h-3M223.2 213.6h-2M223.2 205.2h-3M223.2 196.9h-2M223.2 188.5h-3M223.2 180.2h-2M223.2 171.8h-3M226 221.9v3M234.8 221.9v1.8M239.9 221.9v1.8M243.5 221.9v1.8M246.3 221.9v1.8M248.6 221.9v1.8M250.6 221.9v1.8M252.3 221.9v1.8M253.7 221.9v1.8M255.1 221.9v3M263.8 221.9v1.8M269 221.9v1.8M272.6 221.9v1.8M275.4 221.9v1.8M277.7 221.9v1.8M279.7 221.9v1.8M281.3 221.9v1.8M282.8 221.9v1.8M284.2 221.9v3M292.9 221.9v1.8M298 221.9v1.8M301.7 221.9v1.8M311.4 217.4v2.8M325.1 207.5v2.8M336.7 199.1v2.8M346.6 191.9v2.8M355.2 185.7v2.8" stroke="#3a3a3a" stroke-width="0.8" fill="none"/>
<text x="221.2" y="225.7" font-size="10.7" text-anchor="end" fill="#222">0.00</text>
<text x="221.2" y="209" font-size="10.7" text-anchor="end" fill="#222">0.10</text>
<text x="221.2" y="192.3" font-size="10.7" text-anchor="end" fill="#222">0.20</text>
<text x="221.2" y="175.6" font-size="10.7" text-anchor="end" fill="#222">0.30</text>
<text x="226" y="238.6" font-size="10.5" text-anchor="middle" fill="#222">1</text>
<text x="255.1" y="238.6" font-size="10.5" text-anchor="middle" fill="#222">10</text>
<text x="284.2" y="238.6" font-size="10.5" text-anchor="middle" fill="#222">100</text>
<text x="311" y="235.6" font-size="10.5" text-anchor="middle" fill="#222">300</text>
<text x="326.9" y="224.9" font-size="10.5" text-anchor="middle" fill="#222">400</text>
<text x="341.7" y="214" font-size="10.5" text-anchor="middle" fill="#222">500</text>
<text x="353.1" y="204.9" font-size="10.5" text-anchor="middle" fill="#222">600</text>
<text x="363.3" y="196.9" font-size="10.5" text-anchor="middle" fill="#222">700</text>
<text transform="translate(228.2 161.8) rotate(-14.4)" font-size="10.7" fill="#222">Pyrolysis temp (<tspan font-size="7" dy="-3.5">o</tspan><tspan dy="3.5">C)</tspan></text>
<text x="202.2" y="153.7" font-size="16" font-weight="bold" fill="#111">d</text>
<text transform="translate(11.5 149.5) rotate(-90)" font-size="10.5" text-anchor="middle" fill="#222">V/logd</text>
<text x="175.6" y="253" font-size="10.5" text-anchor="middle" fill="#222">Pore width (nm)</text>
<path d="M478.3 133.8L525.5 108.2L472.6 88.2L421.1 107.4Z" fill="#ececec"/>
<path d="M421.1 107.4L472.6 88.2L472.7 24.7L421.1 35.2Z" fill="#eaf9f7"/>
<path d="M472.6 88.2L525.5 108.2L531.3 36L472.7 24.7Z" fill="#fbfcdf"/>
<path d="M421.1 95.4L472.6 77.6M472.6 77.6L526.5 96.2M421.1 83.3L472.6 67M472.6 67L527.4 84.1M421.1 71.3L472.7 56.5M472.7 56.5L528.4 72.1M421.1 59.3L472.7 45.9M472.7 45.9L529.4 60.1M421.1 47.2L472.7 35.3M472.7 35.3L530.3 48M439.1 100.7L439.2 31.5M494.8 124.8L439.1 100.7M457.1 94L457.2 27.9M511.3 115.9L457.1 94M512.3 103.2L516.6 33.2M464 127.2L512.3 103.2M499.1 98.2L502 30.4M449.7 120.6L499.1 98.2M485.8 93.2L487.3 27.5M435.4 114L485.8 93.2" stroke="#8c8c8c" stroke-width="0.7" fill="none"/>
<path d="M421.1 35.2L472.7 24.7L531.3 36L525.5 108.2" fill="none" stroke="#555" stroke-width="0.8"/>
<path d="M472.6 88.2L472.7 24.7" fill="none" stroke="#666" stroke-width="0.8"/>
<path d="M421.1 35.2L421.1 107.4L478.3 133.8L525.5 108.2" fill="none" stroke="#666" stroke-width="0.8"/>
<g class="sf"><path class="q121" d="M471.7 37.9l1.8 0.5l-0.8-2l-1.8-0.2z"/><path class="q117" d="M472.5 40.2l1.9 0.7l-0.9-2.5l-1.8-0.5z"/><path class="q111" d="M473.4 42.8l1.8 0.6l-0.8-2.5l-1.9-0.7z"/><path class="q106" d="M474.2 45.1l1.8 0.4l-0.8-2.1l-1.8-0.6z"/><path class="q123" d="M469.9 37.2l1.8 0.7l-0.8-1.7l-1.9 0z"/><path class="q119" d="M470.7 39.2l1.8 1l-0.8-2.3l-1.8-0.7z"/><path class="q101" d="M475.9 47.6l1.8 0.3l-1.7-2.4l-1.8-0.4z"/><path class="q114" d="M471.6 41.7l1.8 1.1l-0.9-2.6l-1.8-1z"/><path class="q109" d="M472.4 44.2l1.8 0.9l-0.8-2.3l-1.8-1.1z"/><path class="q123" d="M468.9 38.2l1.8 1l-1.7-3l-1.8 0.4z"/><path class="q98" d="M476.3 48.6l1.8 1.2l-0.4-1.9l-1.8-0.3z"/><path class="q93" d="M476.7 50.7l1.7 1.9l-0.3-2.8l-1.8-1.2z"/><path class="q87" d="M477 53.6l1.8 2.3l-0.4-3.3l-1.7-1.9z"/><path class="q80" d="M477.4 57.1l1.8 2.5l-0.4-3.7l-1.8-2.3z"/><path class="q103" d="M474 47.9l1.9-0.3l-1.7-2.5l-1.8-0.9z"/><path class="q118" d="M469.7 40.3l1.9 1.4l-0.9-2.5l-1.8-1z"/><path class="q113" d="M470.6 42.8l1.8 1.4l-0.8-2.5l-1.9-1.4z"/><path class="q124" d="M467.1 37.6l1.8 0.6l-1.7-1.6l-1.8 0.4z"/><path class="q72" d="M477.7 60.1l1.8 2.5l-0.3-3l-1.8-2.5z"/><path class="q65" d="M478 63.2l1.8 2.3l-0.3-2.9l-1.8-2.5z"/><path class="q59" d="M478.3 66.3l1.8 2l-0.3-2.8l-1.8-2.3z"/><path class="q53" d="M478.6 69.2l1.8 1.5l-0.3-2.4l-1.8-2z"/><path class="q47" d="M478.9 71.7l1.7 1l-0.2-2l-1.8-1.5z"/><path class="q99" d="M475.5 48.5l0.9 0.7l-0.5-1.6l-1 0.2z"/><path class="q94" d="M476 51.2l0.9 1.3l-0.5-3.3l-0.9-0.7z"/><path class="q100" d="M474.6 48.3l0.9 0.2l-0.6-0.7l-0.9 0.1z"/><path class="q86" d="M476.5 55.3l0.9 1.8l-0.5-4.6l-0.9-1.3z"/><path class="q97" d="M475.1 49.9l0.9 1.3l-0.5-2.7l-0.9-0.2z"/><path class="q90" d="M475.6 53.5l0.9 1.8l-0.5-4.1l-0.9-1.3z"/><path class="q108" d="M471.4 45.3l1.8 1.1l-0.8-2.2l-1.8-1.4z"/><path class="q103" d="M472.2 47.4l1.8 0.5l-0.8-1.5l-1.8-1.1z"/><path class="q121" d="M467.9 39.1l1.8 1.2l-0.8-2.1l-1.8-0.6z"/><path class="q117" d="M468.8 41.3l1.8 1.5l-0.9-2.5l-1.8-1.2z"/><path class="q125" d="M465.3 37.8l1.8-0.2l-1.7-0.6l-1.8 0.4z"/><path class="q41" d="M479.6 75.7l1.8-1l-0.8-2l-1.7-1z"/><path class="q38" d="M480.4 76.1l1.8-1.1l-0.8-0.3l-1.8 1z"/><path class="q78" d="M476.8 58.3l0.9 1.8l-0.3-3l-0.9-1.8z"/><path class="q71" d="M477.1 61.4l0.9 1.8l-0.3-3.1l-0.9-1.8z"/><path class="q64" d="M477.4 64.6l0.9 1.7l-0.3-3.1l-0.9-1.8z"/><path class="q57" d="M477.7 67.7l0.9 1.5l-0.3-2.9l-0.9-1.7z"/><path class="q83" d="M475.9 56.2l0.9 2.1l-0.3-3l-0.9-1.8z"/><path class="q51" d="M478 70.6l0.9 1.1l-0.3-2.5l-0.9-1.5z"/><path class="q76" d="M476.2 59.3l0.9 2.1l-0.3-3.1l-0.9-2.1z"/><path class="q69" d="M476.5 62.5l0.9 2.1l-0.3-3.2l-0.9-2.1z"/><path class="q62" d="M476.8 65.8l0.9 1.9l-0.3-3.1l-0.9-2.1z"/><path class="q55" d="M477.1 68.9l0.9 1.7l-0.3-2.9l-0.9-1.9z"/><path class="q100" d="M474 48.6l0.9 0.2l-0.9-0.9l-0.9-0.2z"/><path class="q95" d="M474.8 51.7l0.8 1.8l-0.7-4.7l-0.9-0.2z"/><path class="q101" d="M473.1 48.7l0.9-0.1l-0.9-0.9l-0.9-0.3z"/><path class="q98" d="M473.9 50.2l0.9 1.5l-0.8-3.1l-0.9 0.1z"/><path class="q112" d="M469.6 43.9l1.8 1.4l-0.8-2.5l-1.8-1.5z"/><path class="q107" d="M470.4 46.4l1.8 1l-0.8-2.1l-1.8-1.4z"/><path class="q122" d="M467 40.1l1.8 1.2l-1.7-3.7l-1.8 0.2z"/><path class="q38" d="M482 76.4l1.8-1.2l-1.6-0.2l-1.8 1.1z"/><path class="q125" d="M463.4 38.3l1.9-0.5l-1.7-0.4l-1.9 0.5z"/><path class="q46" d="M477.6 73.4l1.8 1.4l-0.5-3.1l-1.8-2.8z"/><path class="q40" d="M478.1 76.5l1.8-0.5l-0.5-1.2l-1.8-1.4z"/><path class="q37" d="M478.6 77.5l1.8-1.4l-0.5-0.1l-1.8 0.5z"/><path class="q88" d="M475.1 54.1l0.8 2.1l-0.3-2.7l-0.8-1.8z"/><path class="q82" d="M475.4 56.9l0.8 2.4l-0.3-3.1l-0.8-2.1z"/><path class="q75" d="M475.7 60.1l0.8 2.4l-0.3-3.2l-0.8-2.4z"/><path class="q68" d="M475.9 63.5l0.9 2.3l-0.3-3.3l-0.8-2.4z"/><path class="q93" d="M474.2 52.1l0.9 2l-0.3-2.4l-0.9-1.5z"/><path class="q61" d="M476.2 66.8l0.9 2.1l-0.3-3.1l-0.9-2.3z"/><path class="q88" d="M474.5 54.6l0.9 2.3l-0.3-2.8l-0.9-2z"/><path class="q81" d="M474.8 57.5l0.9 2.6l-0.3-3.2l-0.9-2.3z"/><path class="q74" d="M475.1 60.8l0.8 2.7l-0.2-3.4l-0.9-2.6z"/><path class="q67" d="M475.4 64.2l0.8 2.6l-0.3-3.3l-0.8-2.7z"/><path class="q102" d="M472.1 49.5l1.8 0.7l-1.7-2.8l-1.8-1z"/><path class="q116" d="M467.8 42.4l1.8 1.5l-0.8-2.6l-1.8-1.2z"/><path class="q111" d="M468.6 45l1.8 1.4l-0.8-2.5l-1.8-1.5z"/><path class="q39" d="M483.6 76.2l1.8-1.1l-1.6 0.1l-1.8 1.2z"/><path class="q123" d="M465.1 39.4l1.9 0.7l-1.7-2.3l-1.9 0.5z"/><path class="q37" d="M480.2 77.8l1.8-1.4l-1.6-0.3l-1.8 1.4z"/><path class="q125" d="M461.6 38.7l1.8-0.4l-1.7-0.4l-1.8 0.4z"/><path class="q53" d="M476.6 70.7l0.9 1.7l-0.4-3.5l-0.9-2.1z"/><path class="q45" d="M476.9 74.1l0.9 1.1l-0.3-2.8l-0.9-1.7z"/><path class="q40" d="M477.3 76.7l0.9 0.3l-0.4-1.8l-0.9-1.1z"/><path class="q58" d="M475.7 68.5l0.9 2.2l-0.4-3.9l-0.8-2.6z"/><path class="q36" d="M477.7 78.1l0.9-0.6l-0.4-0.5l-0.9-0.3z"/><path class="q50" d="M476.1 72.4l0.8 1.7l-0.3-3.4l-0.9-2.2z"/><path class="q43" d="M476.4 75.7l0.9 1l-0.4-2.6l-0.8-1.7z"/><path class="q38" d="M476.8 78l0.9 0.1l-0.4-1.4l-0.9-1z"/><path class="q96" d="M473.4 50.9l0.9 1.7l-0.4-2.4l-0.9-0.8z"/><path class="q91" d="M473.8 53.7l0.8 2.3l-0.3-3.4l-0.9-1.7z"/><path class="q83" d="M474.1 57.3l0.9 2.7l-0.4-4l-0.8-2.3z"/><path class="q99" d="M472.5 49.9l0.9 1l-0.4-1.5l-0.9 0.1z"/><path class="q74" d="M474.5 61.4l0.9 2.8l-0.4-4.2l-0.9-2.7z"/><path class="q95" d="M472.9 51.7l0.9 2l-0.4-2.8l-0.9-1z"/><path class="q89" d="M473.3 54.7l0.8 2.6l-0.3-3.6l-0.9-2z"/><path class="q81" d="M473.6 58.6l0.9 2.8l-0.4-4.1l-0.8-2.6z"/><path class="q106" d="M469.4 47.4l1.8 1l-0.8-2l-1.8-1.4z"/><path class="q102" d="M470.3 49.3l1.8 0.2l-0.9-1.1l-1.8-1z"/><path class="q41" d="M485.3 75.7l1.8-1l-1.7 0.4l-1.8 1.1z"/><path class="q120" d="M466 41.4l1.8 1l-0.8-2.3l-1.9-0.7z"/><path class="q115" d="M466.8 43.8l1.8 1.2l-0.8-2.6l-1.8-1z"/><path class="q38" d="M481.8 77.5l1.8-1.3l-1.6 0.2l-1.8 1.4z"/><path class="q124" d="M463.3 39.3l1.8 0.1l-1.7-1.1l-1.8 0.4z"/><path class="q36" d="M478.4 79.2l1.8-1.4l-1.6-0.3l-1.8 0.5z"/><path class="q125" d="M459.8 39.1l1.8-0.4l-1.7-0.4l-1.8 0.4z"/><path class="q66" d="M474.8 65l0.8 2.7l-0.2-3.5l-0.9-2.8z"/><path class="q58" d="M475.1 68.5l0.8 2.4l-0.3-3.2l-0.8-2.7z"/><path class="q51" d="M475.3 71.8l0.9 2l-0.3-2.9l-0.8-2.4z"/><path class="q45" d="M475.6 74.7l0.9 1.5l-0.3-2.4l-0.9-2z"/><path class="q73" d="M473.9 62l0.9 3l-0.3-3.6l-0.9-2.8z"/><path class="q40" d="M475.9 77.2l0.9 0.8l-0.3-1.8l-0.9-1.5z"/><path class="q65" d="M474.2 65.7l0.9 2.8l-0.3-3.5l-0.9-3z"/><path class="q57" d="M474.5 69.3l0.8 2.5l-0.2-3.3l-0.9-2.8z"/><path class="q50" d="M474.8 72.7l0.8 2l-0.3-2.9l-0.8-2.5z"/><path class="q44" d="M475 75.7l0.9 1.5l-0.3-2.5l-0.8-2z"/><path class="q100" d="M471.7 49.9l0.9 0.5l-0.5-0.9l-0.9 0z"/><path class="q96" d="M472.3 51.7l0.8 1.9l-0.5-3.2l-0.9-0.5z"/><path class="q101" d="M470.8 50.1l0.9-0.2l-0.5-0.4l-0.9-0.2z"/><path class="q89" d="M472.8 55.9l0.8 2.7l-0.5-5l-0.8-1.9z"/><path class="q99" d="M471.4 50.6l0.9 1.1l-0.6-1.8l-0.9 0.2z"/><path class="q94" d="M471.9 53.6l0.9 2.3l-0.5-4.2l-0.9-1.1z"/><path class="q44" d="M486.9 75l1.8-0.9l-1.6 0.6l-1.8 1z"/><path class="q110" d="M467.6 46.5l1.8 0.9l-0.8-2.4l-1.8-1.2z"/><path class="q105" d="M468.5 48.8l1.8 0.5l-0.9-1.9l-1.8-0.9z"/><path class="q40" d="M483.5 76.9l1.8-1.2l-1.7 0.5l-1.8 1.3z"/><path class="q122" d="M464.2 40.8l1.8 0.6l-0.9-2l-1.8-0.1z"/><path class="q118" d="M465 43.1l1.8 0.7l-0.8-2.4l-1.8-0.6z"/><path class="q36" d="M480 78.9l1.8-1.4l-1.6 0.3l-1.8 1.4z"/><path class="q125" d="M461.5 39.5l1.8-0.2l-1.7-0.6l-1.8 0.4z"/><path class="q36" d="M475.8 80.4l1.8-1.2l-0.8-1.2l-1.8-2.3z"/><path class="q34" d="M476.6 80.7l1.8-1.5l-0.8 0l-1.8 1.2z"/><path class="q125" d="M458 39.6l1.8-0.5l-1.7-0.4l-1.8 0.5z"/><path class="q80" d="M473.1 59.1l0.8 2.9l-0.3-3.4l-0.8-2.7z"/><path class="q72" d="M473.3 62.7l0.9 3l-0.3-3.7l-0.8-2.9z"/><path class="q64" d="M473.6 66.5l0.9 2.8l-0.3-3.6l-0.9-3z"/><path class="q56" d="M473.9 70.2l0.9 2.5l-0.3-3.4l-0.9-2.8z"/><path class="q87" d="M472.2 56.5l0.9 2.6l-0.3-3.2l-0.9-2.3z"/><path class="q49" d="M474.2 73.6l0.8 2.1l-0.2-3l-0.9-2.5z"/><path class="q79" d="M472.5 59.9l0.8 2.8l-0.2-3.6l-0.9-2.6z"/><path class="q71" d="M472.8 63.6l0.8 2.9l-0.3-3.8l-0.8-2.8z"/><path class="q63" d="M473 67.5l0.9 2.7l-0.3-3.7l-0.8-2.9z"/><path class="q55" d="M473.3 71.3l0.9 2.3l-0.3-3.4l-0.9-2.7z"/><path class="q47" d="M488.6 74l1.7-0.8l-1.6 0.9l-1.8 0.9z"/><path class="q102" d="M469.3 50.4l1.8-0.2l-0.8-0.9l-1.8-0.5z"/><path class="q98" d="M470.1 51.3l1.8 2.3l-0.8-3.4l-1.8 0.2z"/><path class="q43" d="M485.1 76l1.8-1l-1.6 0.7l-1.8 1.2z"/><path class="q113" d="M465.8 45.7l1.8 0.8l-0.8-2.7l-1.8-0.7z"/><path class="q108" d="M466.6 48.2l1.9 0.6l-0.9-2.3l-1.8-0.8z"/><path class="q39" d="M481.7 78.1l1.8-1.2l-1.7 0.6l-1.8 1.4z"/><path class="q121" d="M463.2 42.3l1.8 0.8l-1.7-3.8l-1.8 0.2z"/><path class="q35" d="M478.2 80.3l1.8-1.4l-1.6 0.3l-1.8 1.5z"/><path class="q125" d="M459.7 40l1.8-0.5l-1.7-0.4l-1.8 0.5z"/><path class="q41" d="M474.6 78.4l0.9 1l-0.5-3.7l-0.8-2.1z"/><path class="q34" d="M475.1 81.1l0.9-0.4l-0.5-1.3l-0.9-1z"/><path class="q45" d="M473.8 76.9l0.8 1.5l-0.4-4.8l-0.9-2.3z"/><path class="q32" d="M475.7 81.4l0.9-0.7l-0.6 0l-0.9 0.4z"/><path class="q36" d="M474.2 80.8l0.9 0.3l-0.5-2.7l-0.8-1.5z"/><path class="q32" d="M474.8 82.1l0.9-0.7l-0.6-0.3l-0.9-0.3z"/><path class="q125" d="M456.1 40l1.9-0.4l-1.7-0.4l-1.9 0.4z"/><path class="q50" d="M490.2 72.7l1.8-0.8l-1.7 1.3l-1.7 0.8z"/><path class="q92" d="M471.3 54.3l0.9 2.2l-0.3-2.9l-0.9-1.6z"/><path class="q86" d="M471.6 57.3l0.9 2.6l-0.3-3.4l-0.9-2.2z"/><path class="q78" d="M471.9 60.8l0.9 2.8l-0.3-3.7l-0.9-2.6z"/><path class="q70" d="M472.2 64.7l0.8 2.8l-0.2-3.9l-0.9-2.8z"/><path class="q96" d="M470.4 53l0.9 1.3l-0.3-2.3l-0.9-0.7z"/><path class="q62" d="M472.4 68.8l0.9 2.5l-0.3-3.8l-0.8-2.8z"/><path class="q91" d="M470.7 55.6l0.9 1.7l-0.3-3l-0.9-1.3z"/><path class="q84" d="M471 59l0.9 1.8l-0.3-3.5l-0.9-1.7z"/><path class="q76" d="M471.3 62.8l0.9 1.9l-0.3-3.9l-0.9-1.8z"/><path class="q67" d="M471.6 66.9l0.8 1.9l-0.2-4.1l-0.9-1.9z"/><path class="q46" d="M486.8 74.9l1.8-0.9l-1.7 1l-1.8 1z"/><path class="q102" d="M468.3 51.4l1.8-0.1l-1.6-2.5l-1.9-0.6z"/><path class="q42" d="M483.3 77.2l1.8-1.2l-1.6 0.9l-1.8 1.2z"/><path class="q116" d="M464 44.8l1.8 0.9l-0.8-2.6l-1.8-0.8z"/><path class="q110" d="M464.8 47.4l1.8 0.8l-0.8-2.5l-1.8-0.9z"/><path class="q37" d="M479.8 79.5l1.9-1.4l-1.7 0.8l-1.8 1.4z"/><path class="q123" d="M461.4 41.7l1.8 0.6l-1.7-2.8l-1.8 0.5z"/><path class="q33" d="M476.4 81.6l1.8-1.3l-1.6 0.4l-1.8 1.4z"/><path class="q125" d="M457.8 40.4l1.9-0.4l-1.7-0.4l-1.9 0.4z"/><path class="q54" d="M491.9 71.4l1.8-0.6l-1.7 1.1l-1.8 0.8z"/><path class="q53" d="M472.7 72.6l0.9 2.2l-0.3-3.5l-0.9-2.5z"/><path class="q46" d="M473 76.2l0.9 1.6l-0.3-3l-0.9-2.2z"/><path class="q39" d="M473.3 79.2l0.9 1l-0.3-2.4l-0.9-1.6z"/><path class="q34" d="M473.6 81.4l0.9 0.3l-0.3-1.5l-0.9-1z"/><path class="q58" d="M471.8 71l0.9 1.6l-0.3-3.8l-0.8-1.9z"/><path class="q32" d="M473.9 82.6l0.9-0.5l-0.3-0.4l-0.9-0.3z"/><path class="q50" d="M472.1 74.9l0.9 1.3l-0.3-3.6l-0.9-1.6z"/><path class="q43" d="M472.4 78.4l0.9 0.8l-0.3-3l-0.9-1.3z"/><path class="q36" d="M472.7 81.1l0.9 0.3l-0.3-2.2l-0.9-0.8z"/><path class="q32" d="M473 82.9l0.9-0.3l-0.3-1.2l-0.9-0.3z"/><path class="q125" d="M454.3 40.5l1.8-0.5l-1.7-0.4l-1.8 0.5z"/><path class="q50" d="M488.4 73.4l1.8-0.7l-1.6 1.3l-1.8 0.9z"/><path class="q98" d="M469.5 52.2l0.9 0.8l-0.3-1.7l-0.9-0.1z"/><path class="q94" d="M469.8 54.3l0.9 1.3l-0.3-2.6l-0.9-0.8z"/><path class="q88" d="M470.1 57.3l0.9 1.7l-0.3-3.4l-0.9-1.3z"/><path class="q81" d="M470.4 61l0.9 1.8l-0.3-3.8l-0.9-1.7z"/><path class="q99" d="M468.6 51.7l0.9 0.5l-0.3-1l-0.9 0.2z"/><path class="q72" d="M470.7 65.2l0.9 1.7l-0.3-4.1l-0.9-1.8z"/><path class="q97" d="M469 53.1l0.8 1.2l-0.3-2.1l-0.9-0.5z"/><path class="q92" d="M469.3 55.7l0.8 1.6l-0.3-3l-0.8-1.2z"/><path class="q85" d="M469.5 59.2l0.9 1.8l-0.3-3.7l-0.8-1.6z"/><path class="q77" d="M469.8 63.3l0.9 1.9l-0.3-4.2l-0.9-1.8z"/><path class="q45" d="M485 75.9l1.8-1l-1.7 1.1l-1.8 1.2z"/><path class="q105" d="M465.7 49.8l1.8 0.5l-0.9-2.1l-1.8-0.8z"/><path class="q102" d="M466.5 51.5l1.8-0.1l-0.8-1.1l-1.8-0.5z"/><path class="q40" d="M481.5 78.4l1.8-1.2l-1.6 0.9l-1.9 1.4z"/><path class="q118" d="M462.2 43.9l1.8 0.9l-0.8-2.5l-1.8-0.6z"/><path class="q113" d="M463 46.5l1.8 0.9l-0.8-2.6l-1.8-0.9z"/><path class="q36" d="M478 80.8l1.8-1.3l-1.6 0.8l-1.8 1.3z"/><path class="q124" d="M459.6 41.4l1.8 0.3l-1.7-1.7l-1.9 0.4z"/><path class="q57" d="M493.6 70.8l1.7-0.6l-1.6 0.6l-1.8 0.6z"/><path class="q32" d="M474.6 83l1.8-1.4l-1.6 0.5l-1.8 0.8z"/><path class="q125" d="M456 40.9l1.8-0.5l-1.7-0.4l-1.8 0.5z"/><path class="q54" d="M490.1 72.1l1.8-0.7l-1.7 1.3l-1.8 0.7z"/><path class="q64" d="M470.9 68.7l0.9 1.6l-0.2-3.4l-0.9-1.7z"/><path class="q56" d="M471.1 72.3l0.9 1.4l-0.2-3.4l-0.9-1.6z"/><path class="q49" d="M471.4 75.6l0.9 1.1l-0.3-3l-0.9-1.4z"/><path class="q42" d="M471.6 78.6l0.9 0.8l-0.2-2.7l-0.9-1.1z"/><path class="q68" d="M470.1 66.9l0.8 1.8l-0.2-3.5l-0.9-1.9z"/><path class="q37" d="M471.8 81.1l0.9 0.4l-0.2-2.1l-0.9-0.8z"/><path class="q60" d="M470.3 70.6l0.8 1.7l-0.2-3.6l-0.8-1.8z"/><path class="q33" d="M472.1 82.9l0.9 0l-0.3-1.4l-0.9-0.4z"/><path class="q53" d="M470.5 74.2l0.9 1.4l-0.3-3.3l-0.8-1.7z"/><path class="q46" d="M470.7 77.5l0.9 1.1l-0.2-3l-0.9-1.4z"/><path class="q39" d="M470.9 80.4l0.9 0.7l-0.2-2.5l-0.9-1.1z"/><path class="q34" d="M471.2 82.7l0.9 0.2l-0.3-1.8l-0.9-0.7z"/><path class="q125" d="M452.5 41l1.8-0.5l-1.7-0.4l-1.8 0.4z"/><path class="q50" d="M486.6 74.3l1.8-0.9l-1.6 1.5l-1.8 1z"/><path class="q100" d="M467.8 51.8l0.9 0.1l-0.4-0.5l-0.9 0.1z"/><path class="q98" d="M468.2 53.1l0.9 1.2l-0.4-2.4l-0.9-0.1z"/><path class="q92" d="M468.6 56.5l0.9 1.8l-0.4-4l-0.9-1.2z"/><path class="q100" d="M466.9 52l0.9-0.2l-0.4-0.3l-0.9 0z"/><path class="q83" d="M469 61.2l0.8 2.1l-0.3-5l-0.9-1.8z"/><path class="q99" d="M467.3 52.4l0.9 0.7l-0.4-1.3l-0.9 0.2z"/><path class="q95" d="M467.7 54.8l0.9 1.7l-0.4-3.4l-0.9-0.7z"/><path class="q87" d="M468.1 59.1l0.9 2.1l-0.4-4.7l-0.9-1.7z"/><path class="q44" d="M483.2 77l1.8-1.1l-1.7 1.3l-1.8 1.2z"/><path class="q108" d="M463.9 49.1l1.8 0.7l-0.9-2.4l-1.8-0.9z"/><path class="q104" d="M464.7 51.3l1.8 0.2l-0.8-1.7l-1.8-0.7z"/><path class="q39" d="M479.7 79.7l1.8-1.3l-1.7 1.1l-1.8 1.3z"/><path class="q121" d="M460.4 43.2l1.8 0.7l-0.8-2.2l-1.8-0.3z"/><path class="q116" d="M461.2 45.6l1.8 0.9l-0.8-2.6l-1.8-0.7z"/><path class="q59" d="M495.2 70.8l1.8-0.6l-1.7 0l-1.7 0.6z"/><path class="q34" d="M476.2 82.1l1.8-1.3l-1.6 0.8l-1.8 1.4z"/><path class="q124" d="M457.7 41.4l1.9 0l-1.8-1l-1.8 0.5z"/><path class="q58" d="M491.8 71.4l1.8-0.6l-1.7 0.6l-1.8 0.7z"/><path class="q31" d="M472.8 84.4l1.8-1.4l-1.6-0.1l-1.8-0.2z"/><path class="q125" d="M454.2 41.4l1.8-0.5l-1.7-0.4l-1.8 0.5z"/><path class="q54" d="M488.3 72.7l1.8-0.6l-1.7 1.3l-1.8 0.9z"/><path class="q74" d="M469.1 64.3l0.9 2.1l-0.2-3.1l-0.8-2.1z"/><path class="q67" d="M469.3 67.6l0.9 1.9l-0.2-3.1l-0.9-2.1z"/><path class="q60" d="M469.5 70.9l0.9 1.8l-0.2-3.2l-0.9-1.9z"/><path class="q53" d="M469.7 74.1l0.9 1.6l-0.2-3l-0.9-1.8z"/><path class="q47" d="M469.9 77.2l0.9 1.2l-0.2-2.7l-0.9-1.6z"/><path class="q79" d="M468.3 62.1l0.8 2.2l-0.1-3.1l-0.9-2.1z"/><path class="q41" d="M470.1 79.9l0.9 0.9l-0.2-2.4l-0.9-1.2z"/><path class="q72" d="M468.5 65.4l0.8 2.2l-0.2-3.3l-0.8-2.2z"/><path class="q36" d="M470.3 82.2l0.9 0.5l-0.2-1.9l-0.9-0.9z"/><path class="q65" d="M468.7 68.8l0.8 2.1l-0.2-3.3l-0.8-2.2z"/><path class="q58" d="M468.8 72.3l0.9 1.8l-0.2-3.2l-0.8-2.1z"/><path class="q51" d="M469 75.6l0.9 1.6l-0.2-3.1l-0.9-1.8z"/><path class="q44" d="M469.2 78.7l0.9 1.2l-0.2-2.7l-0.9-1.6z"/><path class="q38" d="M469.4 81.4l0.9 0.8l-0.2-2.3l-0.9-1.2z"/><path class="q125" d="M450.7 41.5l1.8-0.5l-1.7-0.5l-1.8 0.5z"/><path class="q49" d="M484.8 75.2l1.8-0.9l-1.6 1.6l-1.8 1.1z"/><path class="q100" d="M466.4 52.4l0.9 0l-0.8-0.9l-0.9-0.1z"/><path class="q94" d="M467.2 57.1l0.9 2l-0.8-6.7l-0.9 0z"/><path class="q101" d="M465.5 52.6l0.9-0.2l-0.8-1l-0.9-0.1z"/><path class="q96" d="M466.3 55.3l0.9 1.8l-0.8-4.7l-0.9 0.2z"/><path class="q43" d="M481.4 78.1l1.8-1.1l-1.7 1.4l-1.8 1.3z"/><path class="q111" d="M462.1 48.3l1.8 0.8l-0.9-2.6l-1.8-0.9z"/><path class="q106" d="M462.9 50.8l1.8 0.5l-0.8-2.2l-1.8-0.8z"/><path class="q60" d="M496.8 70.9l1.8-0.5l-1.6-0.2l-1.8 0.6z"/><path class="q38" d="M477.9 81l1.8-1.3l-1.7 1.1l-1.8 1.3z"/><path class="q123" d="M458.6 42.7l1.8 0.5l-0.8-1.8l-1.9 0z"/><path class="q119" d="M459.4 44.9l1.8 0.7l-0.8-2.4l-1.8-0.5z"/><path class="q59" d="M493.4 71.3l1.8-0.5l-1.6 0l-1.8 0.6z"/><path class="q32" d="M474.4 83.6l1.8-1.5l-1.6 0.9l-1.8 1.4z"/><path class="q125" d="M455.9 41.8l1.8-0.4l-1.7-0.5l-1.8 0.5z"/><path class="q58" d="M490 72l1.8-0.6l-1.7 0.7l-1.8 0.6z"/><path class="q31" d="M470.2 86.2l1.8-1.5l-0.8-2l-1.8-1.3z"/><path class="q29" d="M471 85.9l1.8-1.5l-0.8 0.3l-1.8 1.5z"/><path class="q125" d="M452.4 41.9l1.8-0.5l-1.7-0.4l-1.8 0.5z"/><path class="q54" d="M486.5 73.5l1.8-0.8l-1.7 1.6l-1.8 0.9z"/><path class="q84" d="M467.4 59.9l0.9 2.2l-0.2-3l-0.9-2z"/><path class="q78" d="M467.6 63.1l0.9 2.3l-0.2-3.3l-0.9-2.2z"/><path class="q71" d="M467.8 66.6l0.9 2.2l-0.2-3.4l-0.9-2.3z"/><path class="q63" d="M468 70.2l0.8 2.1l-0.1-3.5l-0.9-2.2z"/><path class="q56" d="M468.2 73.7l0.8 1.9l-0.2-3.3l-0.8-2.1z"/><path class="q90" d="M466.5 57.7l0.9 2.2l-0.2-2.8l-0.9-1.8z"/><path class="q48" d="M468.4 77.1l0.8 1.6l-0.2-3.1l-0.8-1.9z"/><path class="q83" d="M466.7 60.7l0.9 2.4l-0.2-3.2l-0.9-2.2z"/><path class="q42" d="M468.5 80.2l0.9 1.2l-0.2-2.7l-0.8-1.6z"/><path class="q76" d="M466.9 64.1l0.9 2.5l-0.2-3.5l-0.9-2.4z"/><path class="q69" d="M467.1 67.8l0.9 2.4l-0.2-3.6l-0.9-2.5z"/><path class="q61" d="M467.3 71.6l0.9 2.1l-0.2-3.5l-0.9-2.4z"/><path class="q53" d="M467.5 75.2l0.9 1.9l-0.2-3.4l-0.9-2.1z"/><path class="q46" d="M467.7 78.7l0.8 1.5l-0.1-3.1l-0.9-1.9z"/><path class="q124" d="M448.8 42l1.9-0.5l-1.7-0.5l-1.9 0.5z"/><path class="q48" d="M483.1 76.2l1.7-1l-1.6 1.8l-1.8 1.1z"/><path class="q100" d="M464.5 53.5l1.8 1.8l-1.6-4l-1.8-0.5z"/><path class="q61" d="M498.5 71.2l1.7-0.6l-1.6-0.2l-1.8 0.5z"/><path class="q42" d="M479.6 79.3l1.8-1.2l-1.7 1.6l-1.8 1.3z"/><path class="q114" d="M460.2 47.5l1.9 0.8l-0.9-2.7l-1.8-0.7z"/><path class="q109" d="M461.1 50.1l1.8 0.7l-0.8-2.5l-1.9-0.8z"/><path class="q60" d="M495.1 71.5l1.7-0.6l-1.6-0.1l-1.8 0.5z"/><path class="q36" d="M476.1 82.4l1.8-1.4l-1.7 1.1l-1.8 1.5z"/><path class="q122" d="M457.6 44.4l1.8 0.5l-1.7-3.5l-1.8 0.4z"/><path class="q60" d="M491.6 71.9l1.8-0.6l-1.6 0.1l-1.8 0.6z"/><path class="q31" d="M472.6 85.1l1.8-1.5l-1.6 0.8l-1.8 1.5z"/><path class="q125" d="M454.1 42.3l1.8-0.5l-1.7-0.4l-1.8 0.5z"/><path class="q57" d="M488.2 72.7l1.8-0.7l-1.7 0.7l-1.8 0.8z"/><path class="q35" d="M468.1 85.1l1.8 0.4l-0.5-4.1l-1.7-2.7z"/><path class="q28" d="M468.6 87.5l1.8-1.4l-0.5-0.6l-1.8-0.4z"/><path class="q27" d="M469.2 87.3l1.8-1.4l-0.6 0.2l-1.8 1.4z"/><path class="q124" d="M450.6 42.4l1.8-0.5l-1.7-0.4l-1.9 0.5z"/><path class="q53" d="M484.7 74.3l1.8-0.8l-1.7 1.7l-1.7 1z"/><path class="q94" d="M465.7 55.9l0.8 1.8l-0.2-2.4l-0.9-1.3z"/><path class="q89" d="M465.9 58.5l0.8 2.2l-0.2-3l-0.8-1.8z"/><path class="q82" d="M466.1 61.7l0.8 2.4l-0.2-3.4l-0.8-2.2z"/><path class="q75" d="M466.2 65.3l0.9 2.5l-0.2-3.7l-0.8-2.4z"/><path class="q67" d="M466.4 69.1l0.9 2.5l-0.2-3.8l-0.9-2.5z"/><path class="q98" d="M464.8 54.5l0.9 1.4l-0.3-1.9l-0.9-0.5z"/><path class="q59" d="M466.6 73.1l0.9 2.1l-0.2-3.6l-0.9-2.5z"/><path class="q94" d="M465 56.5l0.9 2l-0.2-2.6l-0.9-1.4z"/><path class="q51" d="M466.8 76.9l0.9 1.8l-0.2-3.5l-0.9-2.1z"/><path class="q88" d="M465.2 59.3l0.9 2.4l-0.2-3.2l-0.9-2z"/><path class="q81" d="M465.4 62.7l0.8 2.6l-0.1-3.6l-0.9-2.4z"/><path class="q73" d="M465.6 66.6l0.8 2.5l-0.2-3.8l-0.8-2.6z"/><path class="q64" d="M465.8 70.7l0.8 2.4l-0.2-4l-0.8-2.5z"/><path class="q56" d="M465.9 74.8l0.9 2.1l-0.2-3.8l-0.8-2.4z"/><path class="q124" d="M447 42.5l1.8-0.5l-1.7-0.5l-1.8 0.6z"/><path class="q61" d="M500.1 71.4l1.8-0.5l-1.7-0.3l-1.7 0.6z"/><path class="q47" d="M481.3 77.2l1.8-1l-1.7 1.9l-1.8 1.2z"/><path class="q103" d="M462.7 53.8l1.8-0.3l-1.6-2.7l-1.8-0.7z"/><path class="q61" d="M496.7 71.7l1.8-0.5l-1.7-0.3l-1.7 0.6z"/><path class="q40" d="M477.8 80.6l1.8-1.3l-1.7 1.7l-1.8 1.4z"/><path class="q116" d="M458.4 46.8l1.8 0.7l-0.8-2.6l-1.8-0.5z"/><path class="q111" d="M459.3 49.5l1.8 0.6l-0.9-2.6l-1.8-0.7z"/><path class="q61" d="M493.3 72l1.8-0.5l-1.7-0.2l-1.8 0.6z"/><path class="q34" d="M474.3 83.9l1.8-1.5l-1.7 1.2l-1.8 1.5z"/><path class="q123" d="M455.8 44.2l1.8 0.2l-1.7-2.6l-1.8 0.5z"/><path class="q60" d="M489.9 72.5l1.7-0.6l-1.6 0.1l-1.8 0.7z"/><path class="q29" d="M470.8 86.6l1.8-1.5l-1.6 0.8l-1.8 1.4z"/><path class="q124" d="M452.3 42.8l1.8-0.5l-1.7-0.4l-1.8 0.5z"/><path class="q57" d="M486.4 73.4l1.8-0.7l-1.7 0.8l-1.8 0.8z"/><path class="q41" d="M467.1 82.7l0.9 1.1l-0.3-5.1l-0.9-1.8z"/><path class="q31" d="M467.5 86.8l0.9 0.1l-0.4-3.1l-0.9-1.1z"/><path class="q27" d="M467.9 88.1l0.9-0.7l-0.4-0.5l-0.9-0.1z"/><path class="q45" d="M466.2 81.3l0.9 1.4l-0.3-5.8l-0.9-2.1z"/><path class="q26" d="M468.3 88l0.9-0.7l-0.4 0.1l-0.9 0.7z"/><path class="q34" d="M466.6 86.3l0.9 0.5l-0.4-4.1l-0.9-1.4z"/><path class="q27" d="M467 88.7l0.9-0.6l-0.4-1.3l-0.9-0.5z"/><path class="q25" d="M467.4 88.7l0.9-0.7l-0.4 0.1l-0.9 0.6z"/><path class="q124" d="M448.7 43l1.9-0.6l-1.8-0.4l-1.8 0.5z"/><path class="q62" d="M501.8 71.6l1.7-0.6l-1.6-0.1l-1.8 0.5z"/><path class="q53" d="M483 75.2l1.7-0.9l-1.6 1.9l-1.8 1z"/><path class="q99" d="M463.9 53.9l0.9 0.8l-0.3-1.2l-0.9 0.1z"/><path class="q96" d="M464.2 55.6l0.9 1.7l-0.3-2.6l-0.9-0.8z"/><path class="q90" d="M464.4 58.6l0.9 2.3l-0.2-3.6l-0.9-1.7z"/><path class="q82" d="M464.6 62.7l0.9 2.6l-0.2-4.4l-0.9-2.3z"/><path class="q100" d="M463 54l0.9-0.1l-0.3-0.3l-0.9 0.2z"/><path class="q73" d="M464.9 67.4l0.8 2.6l-0.2-4.7l-0.9-2.6z"/><path class="q99" d="M463.3 54.5l0.9 1.1l-0.3-1.7l-0.9 0.1z"/><path class="q62" d="M465.1 72.4l0.8 2.4l-0.2-4.8l-0.8-2.6z"/><path class="q95" d="M463.5 56.7l0.9 1.9l-0.2-3l-0.9-1.1z"/><path class="q88" d="M463.8 60.3l0.8 2.4l-0.2-4.1l-0.9-1.9z"/><path class="q79" d="M464 64.8l0.9 2.6l-0.3-4.7l-0.8-2.4z"/><path class="q68" d="M464.2 69.9l0.9 2.5l-0.2-5l-0.9-2.6z"/><path class="q124" d="M445.2 43.1l1.8-0.6l-1.7-0.4l-1.8 0.5z"/><path class="q62" d="M498.4 71.9l1.7-0.5l-1.6-0.2l-1.8 0.5z"/><path class="q46" d="M479.5 78.3l1.8-1.1l-1.7 2.1l-1.8 1.3z"/><path class="q106" d="M460.1 52l1.8 0.4l-0.8-2.3l-1.8-0.6z"/><path class="q102" d="M460.9 53.9l1.8-0.1l-0.8-1.4l-1.8-0.4z"/><path class="q61" d="M494.9 72.2l1.8-0.5l-1.6-0.2l-1.8 0.5z"/><path class="q39" d="M476 82.1l1.8-1.5l-1.7 1.8l-1.8 1.5z"/><path class="q118" d="M456.6 46.4l1.8 0.4l-0.8-2.4l-1.8-0.2z"/><path class="q113" d="M457.5 49.1l1.8 0.4l-0.9-2.7l-1.8-0.4z"/><path class="q61" d="M491.5 72.6l1.8-0.6l-1.7-0.1l-1.7 0.6z"/><path class="q32" d="M472.5 85.5l1.8-1.6l-1.7 1.2l-1.8 1.5z"/><path class="q123" d="M454 44.2l1.8 0l-1.7-1.9l-1.8 0.5z"/><path class="q59" d="M488.1 73.2l1.8-0.7l-1.7 0.2l-1.8 0.7z"/><path class="q27" d="M469 88.2l1.8-1.6l-1.6 0.7l-1.8 1.4z"/><path class="q124" d="M450.4 43.4l1.9-0.6l-1.7-0.4l-1.9 0.6z"/><path class="q63" d="M503.4 71.8l1.8-0.6l-1.7-0.2l-1.7 0.6z"/><path class="q57" d="M484.6 74.1l1.8-0.7l-1.7 0.9l-1.7 0.9z"/><path class="q52" d="M465.3 77.4l0.8 1.9l-0.2-4.5l-0.8-2.4z"/><path class="q43" d="M465.5 81.9l0.9 1.3l-0.3-3.9l-0.8-1.9z"/><path class="q34" d="M465.7 85.6l0.9 0.7l-0.2-3.1l-0.9-1.3z"/><path class="q28" d="M465.9 88.2l0.9 0.1l-0.2-2l-0.9-0.7z"/><path class="q58" d="M464.4 75.2l0.9 2.2l-0.2-5l-0.9-2.5z"/><path class="q25" d="M466.2 89.4l0.9-0.6l-0.3-0.5l-0.9-0.1z"/><path class="q47" d="M464.6 80.2l0.9 1.7l-0.2-4.5l-0.9-2.2z"/><path class="q25" d="M466.5 89.4l0.9-0.7l-0.3 0.1l-0.9 0.6z"/><path class="q38" d="M464.8 84.6l0.9 1l-0.2-3.7l-0.9-1.7z"/><path class="q30" d="M465 87.9l0.9 0.3l-0.2-2.6l-0.9-1z"/><path class="q26" d="M465.3 89.8l0.9-0.4l-0.3-1.2l-0.9-0.3z"/><path class="q24" d="M465.6 90.1l0.9-0.7l-0.3 0l-0.9 0.4z"/><path class="q124" d="M446.9 43.5l1.8-0.5l-1.7-0.5l-1.8 0.6z"/><path class="q62" d="M500 72.1l1.8-0.5l-1.7-0.2l-1.7 0.5z"/><path class="q52" d="M481.2 76.1l1.8-0.9l-1.7 2l-1.8 1.1z"/><path class="q100" d="M462.2 54.2l0.9-0.2l-0.4-0.2l-0.9 0z"/><path class="q99" d="M462.5 54.5l0.9 0.7l-0.3-1.2l-0.9 0.2z"/><path class="q96" d="M462.8 56.8l0.9 1.9l-0.3-3.5l-0.9-0.7z"/><path class="q87" d="M463.1 61.4l0.9 2.5l-0.3-5.2l-0.9-1.9z"/><path class="q101" d="M461.3 54.3l0.9-0.1l-0.4-0.4l-0.9 0.1z"/><path class="q76" d="M463.3 67.4l0.9 2.5l-0.2-6l-0.9-2.5z"/><path class="q100" d="M461.6 54.6l0.9-0.1l-0.3-0.3l-0.9 0.1z"/><path class="q98" d="M461.9 55.6l0.9 1.2l-0.3-2.3l-0.9 0.1z"/><path class="q92" d="M462.2 59.3l0.9 2.1l-0.3-4.6l-0.9-1.2z"/><path class="q81" d="M462.5 65l0.8 2.4l-0.2-6l-0.9-2.1z"/><path class="q123" d="M443.4 43.7l1.8-0.6l-1.7-0.5l-1.8 0.7z"/><path class="q62" d="M496.6 72.4l1.8-0.5l-1.7-0.2l-1.8 0.5z"/><path class="q44" d="M477.7 79.7l1.8-1.4l-1.7 2.3l-1.8 1.5z"/><path class="q108" d="M458.3 51.7l1.8 0.3l-0.8-2.5l-1.8-0.4z"/><path class="q104" d="M459.1 53.8l1.8 0.1l-0.8-1.9l-1.8-0.3z"/><path class="q61" d="M493.2 72.8l1.7-0.6l-1.6-0.2l-1.8 0.6z"/><path class="q37" d="M474.1 83.7l1.9-1.6l-1.7 1.8l-1.8 1.6z"/><path class="q120" d="M454.8 46.3l1.8 0.1l-0.8-2.2l-1.8 0z"/><path class="q115" d="M455.6 48.9l1.9 0.2l-0.9-2.7l-1.8-0.1z"/><path class="q61" d="M489.7 73.3l1.8-0.7l-1.6-0.1l-1.8 0.7z"/><path class="q30" d="M470.7 87.2l1.8-1.7l-1.7 1.1l-1.8 1.6z"/><path class="q123" d="M452.2 44.6l1.8-0.4l-1.7-1.4l-1.9 0.6z"/><path class="q63" d="M505 72l1.8-0.6l-1.6-0.2l-1.8 0.6z"/><path class="q59" d="M486.3 73.9l1.8-0.7l-1.7 0.2l-1.8 0.7z"/><path class="q25" d="M467.2 89.8l1.8-1.6l-1.6 0.5l-1.8 1.4z"/><path class="q124" d="M448.6 44l1.8-0.6l-1.7-0.4l-1.8 0.5z"/><path class="q63" d="M501.6 72.3l1.8-0.5l-1.6-0.2l-1.8 0.5z"/><path class="q56" d="M482.9 75l1.7-0.9l-1.6 1.1l-1.8 0.9z"/><path class="q65" d="M463.5 71.5l0.9 2.4l-0.2-4l-0.9-2.5z"/><path class="q56" d="M463.6 75.7l0.9 2.1l-0.1-3.9l-0.9-2.4z"/><path class="q48" d="M463.8 79.7l0.9 1.7l-0.2-3.6l-0.9-2.1z"/><path class="q40" d="M463.9 83.4l0.9 1.2l-0.1-3.2l-0.9-1.7z"/><path class="q33" d="M464.1 86.5l0.9 0.7l-0.2-2.6l-0.9-1.2z"/><path class="q71" d="M462.6 69.2l0.9 2.3l-0.2-4.1l-0.8-2.4z"/><path class="q28" d="M464.3 88.9l0.9 0.2l-0.2-1.9l-0.9-0.7z"/><path class="q62" d="M462.8 73.5l0.8 2.2l-0.1-4.2l-0.9-2.3z"/><path class="q25" d="M464.5 90.4l0.9-0.4l-0.2-0.9l-0.9-0.2z"/><path class="q53" d="M462.9 77.9l0.9 1.8l-0.2-4l-0.8-2.2z"/><path class="q23" d="M464.7 90.8l0.9-0.7l-0.2-0.1l-0.9 0.4z"/><path class="q44" d="M463.1 82l0.8 1.4l-0.1-3.7l-0.9-1.8z"/><path class="q37" d="M463.2 85.6l0.9 0.9l-0.2-3.1l-0.8-1.4z"/><path class="q30" d="M463.4 88.5l0.9 0.4l-0.2-2.4l-0.9-0.9z"/><path class="q25" d="M463.6 90.6l0.9-0.2l-0.2-1.5l-0.9-0.4z"/><path class="q23" d="M463.8 91.5l0.9-0.7l-0.2-0.4l-0.9 0.2z"/><path class="q123" d="M445.1 44.2l1.8-0.7l-1.7-0.4l-1.8 0.6z"/><path class="q63" d="M498.2 72.6l1.8-0.5l-1.6-0.2l-1.8 0.5z"/><path class="q51" d="M479.4 77.4l1.8-1.3l-1.7 2.2l-1.8 1.4z"/><path class="q101" d="M460.6 54.7l0.9-0.2l-0.6-0.6l-0.9-0.1z"/><path class="q99" d="M461.1 55.5l0.9 1l-0.5-2l-0.9 0.2z"/><path class="q101" d="M459.7 54.8l0.9-0.1l-0.6-0.9l-0.9 0z"/><path class="q89" d="M461.6 62.8l0.9 2.2l-0.5-8.5l-0.9-1z"/><path class="q100" d="M460.2 55.2l0.9 0.3l-0.5-0.8l-0.9 0.1z"/><path class="q93" d="M460.7 60.9l0.9 1.9l-0.5-7.3l-0.9-0.3z"/><path class="q123" d="M441.5 44.4l1.9-0.7l-1.7-0.4l-1.9 0.7z"/><path class="q62" d="M494.8 73l1.8-0.6l-1.7-0.2l-1.7 0.6z"/><path class="q43" d="M475.9 81.3l1.8-1.6l-1.7 2.4l-1.9 1.6z"/><path class="q110" d="M456.5 51.6l1.8 0.1l-0.8-2.6l-1.9-0.2z"/><path class="q105" d="M457.3 53.9l1.8-0.1l-0.8-2.1l-1.8-0.1z"/><path class="q62" d="M491.4 73.4l1.8-0.6l-1.7-0.2l-1.8 0.7z"/><path class="q35" d="M472.3 85.4l1.8-1.7l-1.6 1.8l-1.8 1.7z"/><path class="q120" d="M453 46.5l1.8-0.2l-0.8-2.1l-1.8 0.4z"/><path class="q116" d="M453.8 49l1.8-0.1l-0.8-2.6l-1.8 0.2z"/><path class="q64" d="M506.7 72.2l1.7-0.6l-1.6-0.2l-1.8 0.6z"/><path class="q61" d="M488 73.9l1.7-0.6l-1.6-0.1l-1.8 0.7z"/><path class="q28" d="M468.9 88.9l1.8-1.7l-1.7 1l-1.8 1.6z"/><path class="q123" d="M450.3 45l1.9-0.4l-1.8-1.2l-1.8 0.6z"/><path class="q63" d="M503.3 72.5l1.7-0.5l-1.6-0.2l-1.8 0.5z"/><path class="q59" d="M484.5 74.7l1.8-0.8l-1.7 0.2l-1.7 0.9z"/><path class="q24" d="M465.4 91.4l1.8-1.6l-1.6 0.3l-1.8 1.4z"/><path class="q123" d="M446.8 44.6l1.8-0.6l-1.7-0.5l-1.8 0.7z"/><path class="q63" d="M499.9 72.9l1.7-0.6l-1.6-0.2l-1.8 0.5z"/><path class="q56" d="M481.1 76.1l1.8-1.1l-1.7 1.1l-1.8 1.3z"/><path class="q77" d="M461.7 66.4l0.9 2.3l-0.1-3.7l-0.9-2.2z"/><path class="q69" d="M461.9 70.3l0.8 2.2l-0.1-3.8l-0.9-2.3z"/><path class="q60" d="M462 74.4l0.9 2l-0.2-3.9l-0.8-2.2z"/><path class="q52" d="M462.1 78.5l0.9 1.7l-0.1-3.8l-0.9-2z"/><path class="q44" d="M462.3 82.3l0.8 1.3l-0.1-3.4l-0.9-1.7z"/><path class="q37" d="M462.4 85.8l0.9 0.8l-0.2-3l-0.8-1.3z"/><path class="q82" d="M460.9 64.4l0.8 2l-0.1-3.6l-0.9-1.9z"/><path class="q31" d="M462.5 88.6l0.9 0.5l-0.1-2.5l-0.9-0.8z"/><path class="q74" d="M461 68.3l0.9 2l-0.2-3.9l-0.8-2z"/><path class="q26" d="M462.7 90.8l0.9-0.1l-0.2-1.6l-0.9-0.5z"/><path class="q65" d="M461.1 72.5l0.9 1.9l-0.1-4.1l-0.9-2z"/><path class="q23" d="M462.9 92l0.9-0.5l-0.2-0.8l-0.9 0.1z"/><path class="q57" d="M461.3 76.8l0.8 1.7l-0.1-4.1l-0.9-1.9z"/><path class="q48" d="M461.4 81l0.9 1.3l-0.2-3.8l-0.8-1.7z"/><path class="q40" d="M461.5 84.8l0.9 1l-0.1-3.5l-0.9-1.3z"/><path class="q33" d="M461.7 88.1l0.8 0.5l-0.1-2.8l-0.9-1z"/><path class="q27" d="M461.8 90.7l0.9 0.1l-0.2-2.2l-0.8-0.5z"/><path class="q23" d="M462 92.4l0.9-0.4l-0.2-1.2l-0.9-0.1z"/><path class="q123" d="M443.3 44.9l1.8-0.7l-1.7-0.5l-1.9 0.7z"/><path class="q63" d="M496.5 73.2l1.7-0.6l-1.6-0.2l-1.8 0.6z"/><path class="q49" d="M477.6 78.9l1.8-1.5l-1.7 2.3l-1.8 1.6z"/><path class="q102" d="M458.1 55.4l1.8-0.3l-0.8-1.3l-1.8 0.1z"/><path class="q96" d="M459 58.4l1.7 2.5l-0.8-5.8l-1.8 0.3z"/><path class="q122" d="M439.7 45.2l1.8-0.8l-1.7-0.4l-1.8 0.8z"/><path class="q62" d="M493 73.7l1.8-0.7l-1.6-0.2l-1.8 0.6z"/><path class="q40" d="M474 83l1.9-1.7l-1.8 2.4l-1.8 1.7z"/><path class="q111" d="M454.7 51.7l1.8-0.1l-0.9-2.7l-1.8 0.1z"/><path class="q106" d="M455.5 54.1l1.8-0.2l-0.8-2.3l-1.8 0.1z"/><path class="q64" d="M508.3 72.4l1.8-0.6l-1.7-0.2l-1.7 0.6z"/><path class="q62" d="M489.6 74.1l1.8-0.7l-1.7-0.1l-1.7 0.6z"/><path class="q32" d="M470.5 87.3l1.8-1.9l-1.6 1.8l-1.8 1.7z"/><path class="q121" d="M451.2 46.9l1.8-0.4l-0.8-1.9l-1.9 0.4z"/><path class="q116" d="M452 49.4l1.8-0.4l-0.8-2.5l-1.8 0.4z"/><path class="q64" d="M504.9 72.8l1.8-0.6l-1.7-0.2l-1.7 0.5z"/><path class="q60" d="M486.2 74.7l1.8-0.8l-1.7 0l-1.8 0.8z"/><path class="q26" d="M467.1 90.8l1.8-1.9l-1.7 0.9l-1.8 1.6z"/><path class="q123" d="M448.5 45.7l1.8-0.7l-1.7-1l-1.8 0.6z"/><path class="q64" d="M501.5 73.1l1.8-0.6l-1.7-0.2l-1.7 0.6z"/><path class="q58" d="M482.7 75.8l1.8-1.1l-1.6 0.3l-1.8 1.1z"/><path class="q22" d="M463.6 93l1.8-1.6l-1.6 0.1l-1.8 0.9z"/><path class="q123" d="M445 45.4l1.8-0.8l-1.7-0.4l-1.8 0.7z"/><path class="q63" d="M498.1 73.4l1.8-0.5l-1.7-0.3l-1.7 0.6z"/><path class="q54" d="M479.3 77.6l1.8-1.5l-1.7 1.3l-1.8 1.5z"/><path class="q88" d="M459.1 61l1.8 3l-0.2-3.1l-1.7-2.5z"/><path class="q82" d="M459.2 64.3l1.8 3.2l-0.1-3.5l-1.8-3z"/><path class="q74" d="M459.3 68.1l1.8 3.1l-0.1-3.7l-1.8-3.2z"/><path class="q66" d="M459.5 72.2l1.7 2.9l-0.1-3.9l-1.8-3.1z"/><path class="q58" d="M459.6 76.4l1.7 2.5l-0.1-3.8l-1.7-2.9z"/><path class="q49" d="M459.7 80.5l1.7 2l-0.1-3.6l-1.7-2.5z"/><path class="q41" d="M459.8 84.4l1.8 1.5l-0.2-3.4l-1.7-2z"/><path class="q34" d="M459.9 87.9l1.8 0.8l-0.1-2.8l-1.8-1.5z"/><path class="q28" d="M460 90.9l1.8 0l-0.1-2.2l-1.8-0.8z"/><path class="q23" d="M460.2 93l1.8-0.6l-0.2-1.5l-1.8 0z"/><path class="q122" d="M441.4 45.7l1.9-0.8l-1.8-0.5l-1.8 0.8z"/><path class="q63" d="M494.7 73.8l1.8-0.6l-1.7-0.2l-1.8 0.7z"/><path class="q47" d="M475.8 80.5l1.8-1.6l-1.7 2.4l-1.9 1.7z"/><path class="q102" d="M456.3 55.8l1.8-0.4l-0.8-1.5l-1.8 0.2z"/><path class="q98" d="M457.2 57.5l1.8 0.9l-0.9-3l-1.8 0.4z"/><path class="q121" d="M437.9 46.2l1.8-1l-1.7-0.4l-1.8 0.9z"/><path class="q65" d="M510 72.7l1.7-0.7l-1.6-0.2l-1.8 0.6z"/><path class="q62" d="M491.3 74.3l1.7-0.6l-1.6-0.3l-1.8 0.7z"/><path class="q38" d="M472.2 84.8l1.8-1.8l-1.7 2.4l-1.8 1.9z"/><path class="q111" d="M452.8 52l1.9-0.3l-0.9-2.7l-1.8 0.4z"/><path class="q106" d="M453.7 54.5l1.8-0.4l-0.8-2.4l-1.9 0.3z"/><path class="q65" d="M506.6 73l1.7-0.6l-1.6-0.2l-1.8 0.6z"/><path class="q61" d="M487.8 74.8l1.8-0.7l-1.6-0.2l-1.8 0.8z"/><path class="q30" d="M468.7 89.2l1.8-1.9l-1.6 1.6l-1.8 1.9z"/><path class="q120" d="M449.4 47.5l1.8-0.6l-0.9-1.9l-1.8 0.7z"/><path class="q116" d="M450.2 50l1.8-0.6l-0.8-2.5l-1.8 0.6z"/><path class="q64" d="M503.2 73.3l1.7-0.5l-1.6-0.3l-1.8 0.6z"/><path class="q60" d="M484.4 75.7l1.8-1l-1.7 0l-1.8 1.1z"/><path class="q24" d="M465.2 92.6l1.9-1.8l-1.7 0.6l-1.8 1.6z"/><path class="q122" d="M446.7 46.5l1.8-0.8l-1.7-1.1l-1.8 0.8z"/><path class="q64" d="M499.8 73.7l1.7-0.6l-1.6-0.2l-1.8 0.5z"/><path class="q57" d="M480.9 77.1l1.8-1.3l-1.6 0.3l-1.8 1.5z"/><path class="q21" d="M461.8 94.6l1.8-1.6l-1.6-0.6l-1.8 0.6z"/><path class="q122" d="M443.2 46.2l1.8-0.8l-1.7-0.5l-1.9 0.8z"/><path class="q63" d="M496.4 74.1l1.7-0.7l-1.6-0.2l-1.8 0.6z"/><path class="q52" d="M477.4 79.1l1.9-1.5l-1.7 1.3l-1.8 1.6z"/><path class="q94" d="M457.3 59.6l1.8 1.4l-0.1-2.6l-1.8-0.9z"/><path class="q88" d="M457.4 62.7l1.8 1.6l-0.1-3.3l-1.8-1.4z"/><path class="q80" d="M457.6 66.5l1.7 1.6l-0.1-3.8l-1.8-1.6z"/><path class="q72" d="M457.7 70.7l1.8 1.5l-0.2-4.1l-1.7-1.6z"/><path class="q63" d="M457.8 75.2l1.8 1.2l-0.1-4.2l-1.8-1.5z"/><path class="q54" d="M457.9 79.8l1.8 0.7l-0.1-4.1l-1.8-1.2z"/><path class="q45" d="M458 84.2l1.8 0.2l-0.1-3.9l-1.8-0.7z"/><path class="q37" d="M458.1 88.2l1.8-0.3l-0.1-3.5l-1.8-0.2z"/><path class="q29" d="M458.2 91.5l1.8-0.6l-0.1-3l-1.8 0.3z"/><path class="q24" d="M458.4 94.1l1.8-1.1l-0.2-2.1l-1.8 0.6z"/><path class="q121" d="M439.6 46.7l1.8-1l-1.7-0.5l-1.8 1z"/><path class="q66" d="M511.6 72.9l1.8-0.6l-1.7-0.3l-1.7 0.7z"/><path class="q63" d="M492.9 74.5l1.8-0.7l-1.7-0.1l-1.7 0.6z"/><path class="q45" d="M473.9 82.4l1.9-1.9l-1.8 2.5l-1.8 1.8z"/><path class="q101" d="M455.4 57.5l1.8 0l-1.7-3.4l-1.8 0.4z"/><path class="q120" d="M436.1 47.3l1.8-1.1l-1.7-0.5l-1.8 1.1z"/><path class="q65" d="M508.2 73.3l1.8-0.6l-1.7-0.3l-1.7 0.6z"/><path class="q62" d="M489.5 75l1.8-0.7l-1.7-0.2l-1.8 0.7z"/><path class="q35" d="M470.4 86.8l1.8-2l-1.7 2.5l-1.8 1.9z"/><path class="q111" d="M451 52.6l1.8-0.6l-0.8-2.6l-1.8 0.6z"/><path class="q106" d="M451.9 55l1.8-0.5l-0.9-2.5l-1.8 0.6z"/><path class="q65" d="M504.8 73.6l1.8-0.6l-1.7-0.2l-1.7 0.5z"/><path class="q61" d="M486.1 75.8l1.7-1l-1.6-0.1l-1.8 1z"/><path class="q27" d="M466.9 91.1l1.8-1.9l-1.6 1.6l-1.9 1.8z"/><path class="q120" d="M447.5 48.4l1.9-0.9l-0.9-1.8l-1.8 0.8z"/><path class="q116" d="M448.4 50.8l1.8-0.8l-0.8-2.5l-1.9 0.9z"/><path class="q64" d="M501.4 74l1.8-0.7l-1.7-0.2l-1.7 0.6z"/><path class="q59" d="M482.6 76.9l1.8-1.2l-1.7 0.1l-1.8 1.3z"/><path class="q22" d="M463.4 94.3l1.8-1.7l-1.6 0.4l-1.8 1.6z"/><path class="q121" d="M444.9 47.5l1.8-1l-1.7-1.1l-1.8 0.8z"/><path class="q64" d="M498 74.3l1.8-0.6l-1.7-0.3l-1.7 0.7z"/><path class="q55" d="M479.1 78.6l1.8-1.5l-1.6 0.5l-1.9 1.5z"/><path class="q20" d="M460 96.2l1.8-1.6l-1.6-1.6l-1.8 1.1z"/><path class="q121" d="M441.3 47.1l1.9-0.9l-1.8-0.5l-1.8 1z"/><path class="q66" d="M513.3 73.2l1.7-0.7l-1.6-0.2l-1.8 0.6z"/><path class="q63" d="M494.6 74.7l1.8-0.6l-1.7-0.3l-1.8 0.7z"/><path class="q50" d="M475.6 80.9l1.8-1.8l-1.6 1.4l-1.9 1.9z"/><path class="q96" d="M455.5 59.3l1.8 0.1l-0.1-1.9l-1.8 0z"/><path class="q92" d="M455.6 62l1.8 0.1l-0.1-2.7l-1.8-0.1z"/><path class="q85" d="M455.7 65.5l1.8-0.1l-0.1-3.3l-1.8-0.1z"/><path class="q77" d="M455.8 69.6l1.8-0.5l-0.1-3.7l-1.8 0.1z"/><path class="q69" d="M455.9 73.9l1.8-0.7l-0.1-4.1l-1.8 0.5z"/><path class="q60" d="M456 78.5l1.8-1.2l-0.1-4.1l-1.8 0.7z"/><path class="q51" d="M456.1 82.9l1.8-1.5l-0.1-4.1l-1.8 1.2z"/><path class="q42" d="M456.2 87.1l1.8-1.8l-0.1-3.9l-1.8 1.5z"/><path class="q34" d="M456.3 90.9l1.8-2.1l-0.1-3.5l-1.8 1.8z"/><path class="q27" d="M456.4 93.9l1.9-2.1l-0.2-3l-1.8 2.1z"/><path class="q22" d="M456.6 96.1l1.8-2l-0.1-2.3l-1.9 2.1z"/><path class="q120" d="M437.8 47.8l1.8-1.1l-1.7-0.5l-1.8 1.1z"/><path class="q66" d="M509.9 73.5l1.7-0.6l-1.6-0.2l-1.8 0.6z"/><path class="q63" d="M491.2 75.2l1.7-0.7l-1.6-0.2l-1.8 0.7z"/><path class="q42" d="M472.1 84.4l1.8-2l-1.7 2.4l-1.8 2z"/><path class="q101" d="M453.5 58.2l1.9-0.7l-1.7-3l-1.8 0.5z"/><path class="q118" d="M434.2 48.7l1.9-1.4l-1.7-0.5l-1.9 1.4z"/><path class="q65" d="M506.5 73.9l1.7-0.6l-1.6-0.3l-1.8 0.6z"/><path class="q62" d="M487.7 75.9l1.8-0.9l-1.7-0.2l-1.7 1z"/><path class="q33" d="M468.6 88.9l1.8-2.1l-1.7 2.4l-1.8 1.9z"/><path class="q111" d="M449.2 53.4l1.8-0.8l-0.8-2.6l-1.8 0.8z"/><path class="q106" d="M450 55.7l1.9-0.7l-0.9-2.4l-1.8 0.8z"/><path class="q65" d="M503.1 74.2l1.7-0.6l-1.6-0.3l-1.8 0.7z"/><path class="q60" d="M484.3 76.9l1.8-1.1l-1.7-0.1l-1.8 1.2z"/><path class="q25" d="M465.1 93.1l1.8-2l-1.7 1.5l-1.8 1.7z"/><path class="q119" d="M445.7 49.4l1.8-1l-0.8-1.9l-1.8 1z"/><path class="q115" d="M446.6 51.8l1.8-1l-0.9-2.4l-1.8 1z"/><path class="q65" d="M499.7 74.6l1.7-0.6l-1.6-0.3l-1.8 0.6z"/><path class="q57" d="M480.8 78.2l1.8-1.3l-1.7 0.2l-1.8 1.5z"/><path class="q20" d="M461.6 96l1.8-1.7l-1.6 0.3l-1.8 1.6z"/><path class="q120" d="M443 48.7l1.9-1.2l-1.7-1.3l-1.9 0.9z"/><path class="q66" d="M514.9 73.6l1.8-0.7l-1.7-0.4l-1.7 0.7z"/><path class="q64" d="M496.2 75l1.8-0.7l-1.6-0.2l-1.8 0.6z"/><path class="q53" d="M477.3 80.2l1.8-1.6l-1.7 0.5l-1.8 1.8z"/><path class="q18" d="M458.2 97.7l1.8-1.5l-1.6-2.1l-1.8 2z"/><path class="q120" d="M439.5 48.3l1.8-1.2l-1.7-0.4l-1.8 1.1z"/><path class="q66" d="M511.5 73.9l1.8-0.7l-1.7-0.3l-1.7 0.6z"/><path class="q63" d="M492.8 75.5l1.8-0.8l-1.7-0.2l-1.7 0.7z"/><path class="q47" d="M473.8 82.8l1.8-1.9l-1.7 1.5l-1.8 2z"/><path class="q97" d="M453.7 60.3l1.8-1l-0.1-1.8l-1.9 0.7z"/><path class="q91" d="M453.8 63.4l1.8-1.4l-0.1-2.7l-1.8 1z"/><path class="q84" d="M453.9 67.4l1.8-1.9l-0.1-3.5l-1.8 1.4z"/><path class="q76" d="M454 72l1.8-2.4l-0.1-4.1l-1.8 1.9z"/><path class="q67" d="M454.1 76.8l1.8-2.9l-0.1-4.3l-1.8 2.4z"/><path class="q57" d="M454.2 81.8l1.8-3.3l-0.1-4.6l-1.8 2.9z"/><path class="q47" d="M454.3 86.5l1.8-3.6l-0.1-4.4l-1.8 3.3z"/><path class="q38" d="M454.4 90.8l1.8-3.7l-0.1-4.2l-1.8 3.6z"/><path class="q30" d="M454.5 94.4l1.8-3.5l-0.1-3.8l-1.8 3.7z"/><path class="q23" d="M454.6 97.1l1.8-3.2l-0.1-3l-1.8 3.5z"/><path class="q18" d="M454.8 98.6l1.8-2.5l-0.2-2.2l-1.8 3.2z"/><path class="q118" d="M436 49.2l1.8-1.4l-1.7-0.5l-1.9 1.4z"/><path class="q66" d="M508.1 74.2l1.8-0.7l-1.7-0.2l-1.7 0.6z"/><path class="q62" d="M489.4 76.1l1.8-0.9l-1.7-0.2l-1.8 0.9z"/><path class="q39" d="M470.3 86.5l1.8-2.1l-1.7 2.4l-1.8 2.1z"/><path class="q101" d="M451.7 59.6l1.8-1.4l-1.6-3.2l-1.9 0.7z"/><path class="q116" d="M432.4 50.4l1.8-1.7l-1.7-0.5l-1.8 1.7z"/><path class="q65" d="M504.7 74.6l1.8-0.7l-1.7-0.3l-1.7 0.6z"/><path class="q61" d="M485.9 77l1.8-1.1l-1.6-0.1l-1.8 1.1z"/><path class="q30" d="M466.8 91l1.8-2.1l-1.7 2.2l-1.8 2z"/><path class="q110" d="M447.4 54.3l1.8-0.9l-0.8-2.6l-1.8 1z"/><path class="q105" d="M448.2 56.5l1.8-0.8l-0.8-2.3l-1.8 0.9z"/><path class="q65" d="M501.3 74.9l1.8-0.7l-1.7-0.2l-1.7 0.6z"/><path class="q59" d="M482.5 78l1.8-1.1l-1.7 0l-1.8 1.3z"/><path class="q22" d="M463.3 95l1.8-1.9l-1.7 1.2l-1.8 1.7z"/><path class="q117" d="M443.9 50.6l1.8-1.2l-0.8-1.9l-1.9 1.2z"/><path class="q113" d="M444.7 53l1.9-1.2l-0.9-2.4l-1.8 1.2z"/><path class="q67" d="M516.6 73.9l1.7-0.7l-1.6-0.3l-1.8 0.7z"/><path class="q64" d="M497.9 75.3l1.8-0.7l-1.7-0.3l-1.8 0.7z"/><path class="q56" d="M479 79.6l1.8-1.4l-1.7 0.4l-1.8 1.6z"/><path class="q18" d="M459.8 97.7l1.8-1.7l-1.6 0.2l-1.8 1.5z"/><path class="q119" d="M441.2 50.1l1.8-1.4l-1.7-1.6l-1.8 1.2z"/><path class="q66" d="M513.2 74.3l1.7-0.7l-1.6-0.4l-1.8 0.7z"/><path class="q64" d="M494.5 75.8l1.7-0.8l-1.6-0.3l-1.8 0.8z"/><path class="q51" d="M475.5 81.9l1.8-1.7l-1.7 0.7l-1.8 1.9z"/><path class="q16" d="M456.4 99.3l1.8-1.6l-1.6-1.6l-1.8 2.5z"/><path class="q118" d="M437.7 49.6l1.8-1.3l-1.7-0.5l-1.8 1.4z"/><path class="q66" d="M509.8 74.6l1.7-0.7l-1.6-0.4l-1.8 0.7z"/><path class="q63" d="M491 76.4l1.8-0.9l-1.6-0.3l-1.8 0.9z"/><path class="q44" d="M472 84.9l1.8-2.1l-1.7 1.6l-1.8 2.1z"/><path class="q95" d="M451.8 62.6l1.9-2.3l-0.2-2.1l-1.8 1.4z"/><path class="q88" d="M452 66.5l1.8-3.1l-0.1-3.1l-1.9 2.3z"/><path class="q80" d="M452.1 71.3l1.8-3.9l-0.1-4l-1.8 3.1z"/><path class="q71" d="M452.2 76.4l1.8-4.4l-0.1-4.6l-1.8 3.9z"/><path class="q60" d="M452.3 81.8l1.8-5l-0.1-4.8l-1.8 4.4z"/><path class="q50" d="M452.4 86.9l1.8-5.1l-0.1-5l-1.8 5z"/><path class="q39" d="M452.5 91.6l1.8-5.1l-0.1-4.7l-1.8 5.1z"/><path class="q30" d="M452.6 95.6l1.8-4.8l-0.1-4.3l-1.8 5.1z"/><path class="q23" d="M452.7 98.5l1.8-4.1l-0.1-3.6l-1.8 4.8z"/><path class="q17" d="M452.8 100l1.8-2.9l-0.1-2.7l-1.8 4.1z"/><path class="q14" d="M453 100.2l1.8-1.6l-0.2-1.5l-1.8 2.9z"/><path class="q116" d="M434.1 50.9l1.9-1.7l-1.8-0.5l-1.8 1.7z"/><path class="q66" d="M506.4 74.9l1.7-0.7l-1.6-0.3l-1.8 0.7z"/><path class="q62" d="M487.6 77.1l1.8-1l-1.7-0.2l-1.8 1.1z"/><path class="q36" d="M468.5 88.8l1.8-2.3l-1.7 2.4l-1.8 2.1z"/><path class="q102" d="M449.1 58l1.8-0.7l-0.9-1.6l-1.8 0.8z"/><path class="q97" d="M449.9 62.6l1.8-3l-0.8-2.3l-1.8 0.7z"/><path class="q113" d="M430.6 52.5l1.8-2.1l-1.7-0.5l-1.8 2.1z"/><path class="q65" d="M503 75.3l1.7-0.7l-1.6-0.4l-1.8 0.7z"/><path class="q60" d="M484.1 77.9l1.8-0.9l-1.6-0.1l-1.8 1.1z"/><path class="q27" d="M465 93.2l1.8-2.2l-1.7 2.1l-1.8 1.9z"/><path class="q109" d="M445.6 55.3l1.8-1l-0.8-2.5l-1.9 1.2z"/><path class="q105" d="M446.4 57.3l1.8-0.8l-0.8-2.2l-1.8 1z"/><path class="q67" d="M518.2 74.3l1.7-0.8l-1.6-0.3l-1.7 0.7z"/><path class="q65" d="M499.5 75.7l1.8-0.8l-1.6-0.3l-1.8 0.7z"/><path class="q58" d="M480.7 79.2l1.8-1.2l-1.7 0.2l-1.8 1.4z"/><path class="q20" d="M461.5 97l1.8-2l-1.7 1l-1.8 1.7z"/><path class="q116" d="M442.1 52l1.8-1.4l-0.9-1.9l-1.8 1.4z"/><path class="q112" d="M442.9 54.3l1.8-1.3l-0.8-2.4l-1.8 1.4z"/><path class="q67" d="M514.8 74.6l1.8-0.7l-1.7-0.3l-1.7 0.7z"/><path class="q64" d="M496.1 76.1l1.8-0.8l-1.7-0.3l-1.7 0.8z"/><path class="q54" d="M477.2 81.2l1.8-1.6l-1.7 0.6l-1.8 1.7z"/><path class="q16" d="M458 99.4l1.8-1.7l-1.6 0l-1.8 1.6z"/><path class="q117" d="M439.4 51.7l1.8-1.6l-1.7-1.8l-1.8 1.3z"/><path class="q66" d="M511.4 75l1.8-0.7l-1.7-0.4l-1.7 0.7z"/><path class="q64" d="M492.7 76.7l1.8-0.9l-1.7-0.3l-1.8 0.9z"/><path class="q48" d="M473.7 83.9l1.8-2l-1.7 0.9l-1.8 2.1z"/><path class="q13" d="M454.6 100.7l1.8-1.4l-1.6-0.7l-1.8 1.6z"/><path class="q116" d="M435.9 51.7l1.8-2.1l-1.7-0.4l-1.9 1.7z"/><path class="q66" d="M508 75.3l1.8-0.7l-1.7-0.4l-1.7 0.7z"/><path class="q63" d="M489.3 77.4l1.7-1l-1.6-0.3l-1.8 1z"/><path class="q41" d="M470.2 87.2l1.8-2.3l-1.7 1.6l-1.8 2.3z"/><path class="q90" d="M450 66.6l1.8-4l-0.1-3l-1.8 3z"/><path class="q82" d="M450.1 71.6l1.9-5.1l-0.2-3.9l-1.8 4z"/><path class="q72" d="M450.2 77l1.9-5.7l-0.1-4.8l-1.9 5.1z"/><path class="q61" d="M450.3 82.6l1.9-6.2l-0.1-5.1l-1.9 5.7z"/><path class="q50" d="M450.4 88l1.9-6.2l-0.1-5.4l-1.9 6.2z"/><path class="q39" d="M450.5 92.9l1.9-6l-0.1-5.1l-1.9 6.2z"/><path class="q29" d="M450.6 97l1.9-5.4l-0.1-4.7l-1.9 6z"/><path class="q21" d="M450.7 100l1.9-4.4l-0.1-4l-1.9 5.4z"/><path class="q16" d="M450.9 101.4l1.8-2.9l-0.1-2.9l-1.9 4.4z"/><path class="q13" d="M451 101.5l1.8-1.5l-0.1-1.5l-1.8 2.9z"/><path class="q12" d="M451.2 101.6l1.8-1.4l-0.2-0.2l-1.8 1.5z"/><path class="q113" d="M432.3 53.4l1.8-2.5l-1.7-0.5l-1.8 2.1z"/><path class="q66" d="M504.6 75.7l1.8-0.8l-1.7-0.3l-1.7 0.7z"/><path class="q61" d="M485.8 78l1.8-0.9l-1.7-0.1l-1.8 0.9z"/><path class="q33" d="M466.7 91.3l1.8-2.5l-1.7 2.2l-1.8 2.2z"/><path class="q102" d="M447.9 57.9l0.9-0.3l-0.6-1.1l-0.9 0.4z"/><path class="q101" d="M448.5 58.5l0.9-0.3l-0.6-0.6l-0.9 0.3z"/><path class="q102" d="M447 58.3l0.9-0.4l-0.6-1l-0.9 0.4z"/><path class="q95" d="M449 64.8l0.9-2.2l-0.5-4.4l-0.9 0.3z"/><path class="q100" d="M447.5 58.8l1-0.3l-0.6-0.6l-0.9 0.4z"/><path class="q92" d="M448 67.4l1-2.6l-0.5-6.3l-1 0.3z"/><path class="q110" d="M429.7 54.2l0.9-1.7l-1.7-0.5l-0.9 1.3z"/><path class="q106" d="M428.8 57.3l0.9-3.1l-1.7-0.9l-0.9 2.1z"/><path class="q67" d="M519.8 74.7l1.8-0.8l-1.7-0.4l-1.7 0.8z"/><path class="q65" d="M501.2 76l1.8-0.7l-1.7-0.4l-1.8 0.8z"/><path class="q59" d="M482.4 79l1.7-1.1l-1.6 0.1l-1.8 1.2z"/><path class="q24" d="M463.2 95.6l1.8-2.4l-1.7 1.8l-1.8 2z"/><path class="q107" d="M443.8 56.4l1.8-1.1l-0.9-2.3l-1.8 1.3z"/><path class="q104" d="M444.6 58.2l1.8-0.9l-0.8-2l-1.8 1.1z"/><path class="q67" d="M516.4 75.1l1.8-0.8l-1.6-0.4l-1.8 0.7z"/><path class="q65" d="M497.8 76.4l1.7-0.7l-1.6-0.4l-1.8 0.8z"/><path class="q56" d="M478.9 80.6l1.8-1.4l-1.7 0.4l-1.8 1.6z"/><path class="q18" d="M459.7 99l1.8-2l-1.7 0.7l-1.8 1.7z"/><path class="q112" d="M441.1 55.6l1.8-1.3l-1.7-4.2l-1.8 1.6z"/><path class="q67" d="M513.1 75.4l1.7-0.8l-1.6-0.3l-1.8 0.7z"/><path class="q64" d="M494.4 77l1.7-0.9l-1.6-0.3l-1.8 0.9z"/><path class="q51" d="M475.4 83l1.8-1.8l-1.7 0.7l-1.8 2z"/><path class="q14" d="M456.3 101l1.7-1.6l-1.6-0.1l-1.8 1.4z"/><path class="q113" d="M437.6 54.7l1.8-3l-1.7-2.1l-1.8 2.1z"/><path class="q66" d="M509.7 75.7l1.7-0.7l-1.6-0.4l-1.8 0.7z"/><path class="q63" d="M490.9 77.7l1.8-1l-1.7-0.3l-1.7 1z"/><path class="q45" d="M471.9 86.2l1.8-2.3l-1.7 1l-1.8 2.3z"/><path class="q12" d="M452.8 102.1l1.8-1.4l-1.6-0.5l-1.8 1.4z"/><path class="q111" d="M434 56l1.9-4.3l-1.8-0.8l-1.8 2.5z"/><path class="q66" d="M506.3 76.1l1.7-0.8l-1.6-0.4l-1.8 0.8z"/><path class="q62" d="M487.5 78.3l1.8-0.9l-1.7-0.3l-1.8 0.9z"/><path class="q38" d="M468.4 89.8l1.8-2.6l-1.7 1.6l-1.8 2.5z"/><path class="q85" d="M449.1 69.4l0.9-2.8l-0.1-4l-0.9 2.2z"/><path class="q75" d="M449.2 74.7l0.9-3.1l-0.1-5l-0.9 2.8z"/><path class="q64" d="M449.3 80.3l0.9-3.3l-0.1-5.4l-0.9 3.1z"/><path class="q53" d="M449.4 85.9l0.9-3.3l-0.1-5.6l-0.9 3.3z"/><path class="q41" d="M449.5 91.2l0.9-3.2l-0.1-5.4l-0.9 3.3z"/><path class="q31" d="M449.6 95.8l0.9-2.9l-0.1-4.9l-0.9 3.2z"/><path class="q22" d="M449.7 99.4l0.9-2.4l-0.1-4.1l-0.9 2.9z"/><path class="q80" d="M448.1 72.4l1-3l-0.1-4.6l-1 2.6z"/><path class="q15" d="M449.8 101.5l0.9-1.5l-0.1-3l-0.9 2.4z"/><path class="q69" d="M448.2 77.9l1-3.2l-0.1-5.3l-1 3z"/><path class="q12" d="M450 102.1l0.9-0.7l-0.2-1.4l-0.9 1.5z"/><path class="q58" d="M448.3 83.6l1-3.3l-0.1-5.6l-1 3.2z"/><path class="q11" d="M450.1 102.1l0.9-0.6l-0.1-0.1l-0.9 0.7z"/><path class="q46" d="M448.4 89.1l1-3.2l-0.1-5.6l-1 3.3z"/><path class="q11" d="M450.3 102.2l0.9-0.6l-0.2-0.1l-0.9 0.6z"/><path class="q35" d="M448.5 94.1l1-2.9l-0.1-5.3l-1 3.2z"/><path class="q25" d="M448.7 98.3l0.9-2.5l-0.1-4.6l-1 2.9z"/><path class="q18" d="M448.8 101.2l0.9-1.8l-0.1-3.6l-0.9 2.5z"/><path class="q13" d="M448.9 102.5l0.9-1l-0.1-2.1l-0.9 1.8z"/><path class="q10" d="M449.1 102.6l0.9-0.5l-0.2-0.6l-0.9 1zM449.2 102.7l0.9-0.6l-0.1 0l-0.9 0.5zM449.4 102.8l0.9-0.6l-0.2-0.1l-0.9 0.6z"/><path class="q108" d="M431.4 56.4l0.9-3l-1.7-0.9l-0.9 1.7z"/><path class="q104" d="M430.5 58.7l0.9-2.3l-1.7-2.2l-0.9 3.1z"/><path class="q67" d="M521.5 75.1l1.7-0.8l-1.6-0.4l-1.8 0.8z"/><path class="q66" d="M502.8 76.4l1.8-0.7l-1.6-0.4l-1.8 0.7z"/><path class="q60" d="M484 79l1.8-1l-1.7-0.1l-1.7 1.1z"/><path class="q29" d="M464.9 94.1l1.8-2.8l-1.7 1.9l-1.8 2.4z"/><path class="q101" d="M445.9 58.4l0.9-0.3l-0.4-0.8l-0.9 0.5zM446.4 58.9l0.9-0.3l-0.5-0.5l-0.9 0.3z"/><path class="q99" d="M446.8 60.2l0.9-1.1l-0.4-0.5l-0.9 0.3z"/><path class="q101" d="M445 58.8l0.9-0.4l-0.4-0.6l-0.9 0.4z"/><path class="q89" d="M447.1 70.4l0.9-3l-0.3-8.3l-0.9 1.1z"/><path class="q100" d="M445.4 59.2l1-0.3l-0.5-0.5l-0.9 0.4z"/><path class="q98" d="M445.9 61.9l0.9-1.7l-0.4-1.3l-1 0.3z"/><path class="q85" d="M446.2 73.4l0.9-3l-0.3-10.2l-0.9 1.7z"/><path class="q103" d="M427 57.6l0.6-1.6l-0.5-0.6l-0.7 1.7z"/><path class="q102" d="M427.6 58l0.6-1.4l-0.6-0.6l-0.6 1.6z"/><path class="q101" d="M426.4 58.2l0.6-0.6l-0.6-0.5l-0.6 0.9zM428.2 58.3l0.6-1l-0.6-0.7l-0.6 1.4z"/><path class="q100" d="M427 59.3l0.6-1.3l-0.6-0.4l-0.6 0.6z"/><path class="q99" d="M425.8 61.2l0.6-3l-0.6-0.2l-0.6 0.2z"/><path class="q98" d="M427.5 62.4l0.7-4.1l-0.6-0.3l-0.6 1.3z"/><path class="q95" d="M426.4 64.1l0.6-4.8l-0.6-1.1l-0.6 3z"/><path class="q90" d="M426.9 67l0.6-4.6l-0.5-3.1l-0.6 4.8z"/><path class="q67" d="M518.1 75.5l1.7-0.8l-1.6-0.4l-1.8 0.8z"/><path class="q65" d="M499.4 76.8l1.8-0.8l-1.7-0.3l-1.7 0.7z"/><path class="q58" d="M480.6 80.2l1.8-1.2l-1.7 0.2l-1.8 1.4z"/><path class="q21" d="M461.4 98.1l1.8-2.5l-1.7 1.4l-1.8 2z"/><path class="q105" d="M442.8 59l1.8-0.8l-1.7-3.9l-1.8 1.3z"/><path class="q67" d="M514.7 75.9l1.7-0.8l-1.6-0.5l-1.7 0.8z"/><path class="q64" d="M496 77.4l1.8-1l-1.7-0.3l-1.7 0.9z"/><path class="q54" d="M477.1 82.2l1.8-1.6l-1.7 0.6l-1.8 1.8z"/><path class="q15" d="M457.9 100.9l1.8-1.9l-1.7 0.4l-1.7 1.6z"/><path class="q108" d="M439.3 58.2l1.8-2.6l-1.7-3.9l-1.8 3z"/><path class="q66" d="M511.3 76.2l1.8-0.8l-1.7-0.4l-1.7 0.7z"/><path class="q63" d="M492.6 78.1l1.8-1.1l-1.7-0.3l-1.8 1z"/><path class="q48" d="M473.6 85.1l1.8-2.1l-1.7 0.9l-1.8 2.3z"/><path class="q12" d="M454.5 102.5l1.8-1.5l-1.7-0.3l-1.8 1.4z"/><path class="q108" d="M435.7 58.6l1.9-3.9l-1.7-3l-1.9 4.3z"/><path class="q66" d="M507.9 76.6l1.8-0.9l-1.7-0.4l-1.7 0.8z"/><path class="q62" d="M489.1 78.6l1.8-0.9l-1.6-0.3l-1.8 0.9z"/><path class="q41" d="M470.1 88.8l1.8-2.6l-1.7 1l-1.8 2.6z"/><path class="q11" d="M451 103.4l1.8-1.3l-1.6-0.5l-1.8 1.2z"/><path class="q107" d="M432.6 56.6l0.6-2l-0.9-1.2l-0.6 1.9z"/><path class="q104" d="M431.9 58.4l0.7-1.8l-0.9-1.3l-0.6 2.1z"/><path class="q105" d="M433.4 57.8l0.6-1.8l-0.8-1.4l-0.6 2z"/><path class="q100" d="M431.3 61.1l0.6-2.7l-0.8-1l-0.6 1.3z"/><path class="q102" d="M432.8 59.1l0.6-1.3l-0.8-1.2l-0.7 1.8z"/><path class="q96" d="M432.2 66.5l0.6-7.4l-0.9-0.7l-0.6 2.7z"/><path class="q68" d="M523.1 75.5l1.8-0.8l-1.7-0.4l-1.7 0.8z"/><path class="q66" d="M504.5 76.9l1.8-0.8l-1.7-0.4l-1.8 0.7z"/><path class="q61" d="M485.7 79.2l1.8-0.9l-1.7-0.3l-1.8 1z"/><path class="q33" d="M466.6 92.9l1.8-3.1l-1.7 1.5l-1.8 2.8z"/><path class="q74" d="M447.2 76.2l1-3.2l-0.2-5.6l-0.9 3z"/><path class="q61" d="M447.3 82.4l1-3.3l-0.1-6.1l-1 3.2z"/><path class="q49" d="M447.4 88.4l1-3.1l-0.1-6.2l-1 3.3z"/><path class="q37" d="M447.6 94l0.9-2.8l-0.1-5.9l-1 3.1z"/><path class="q26" d="M447.7 98.6l0.9-2.3l-0.1-5.1l-0.9 2.8z"/><path class="q17" d="M447.8 101.8l0.9-1.6l-0.1-3.9l-0.9 2.3z"/><path class="q12" d="M448 103.1l0.9-0.8l-0.2-2.1l-0.9 1.6z"/><path class="q68" d="M446.3 79.3l0.9-3.1l-0.1-5.8l-0.9 3z"/><path class="q10" d="M448.1 103.2l0.9-0.6l-0.1-0.3l-0.9 0.8z"/><path class="q56" d="M446.4 85.4l0.9-3l-0.1-6.2l-0.9 3.1z"/><path class="q10" d="M448.3 103.2l0.9-0.5l-0.2-0.1l-0.9 0.6z"/><path class="q43" d="M446.5 91.2l0.9-2.8l-0.1-6l-0.9 3z"/><path class="q10" d="M448.5 103.3l0.9-0.5l-0.2-0.1l-0.9 0.5z"/><path class="q32" d="M446.6 96.3l1-2.3l-0.2-5.6l-0.9 2.8z"/><path class="q22" d="M446.8 100.3l0.9-1.7l-0.1-4.6l-1 2.3z"/><path class="q14" d="M446.9 102.9l0.9-1.1l-0.1-3.2l-0.9 1.7z"/><path class="q10" d="M447.1 103.6l0.9-0.5l-0.2-1.3l-0.9 1.1z"/><path class="q9" d="M447.2 103.7l0.9-0.5l-0.1-0.1l-0.9 0.5zM447.4 103.7l0.9-0.5l-0.2 0l-0.9 0.5zM447.6 103.8l0.9-0.5l-0.2-0.1l-0.9 0.5z"/><path class="q101" d="M429.3 58.6l0.3-0.5l-0.8-0.8l-0.4 0.8z"/><path class="q99" d="M428.9 61.6l0.4-3l-0.9-0.5l-0.4 0.3z"/><path class="q94" d="M428.5 65.8l0.4-4.2l-0.9-3.2l-0.3 2.8z"/><path class="q99" d="M430.1 61.5l0.4-2.8l-0.9-0.6l-0.3 0.5z"/><path class="q87" d="M428.2 68.9l0.3-3.1l-0.8-4.6l-0.4 3.4z"/><path class="q93" d="M429.7 66.4l0.4-4.9l-0.8-2.9l-0.4 3z"/><path class="q81" d="M427.8 71l0.4-2.1l-0.9-4.3l-0.4 2.4z"/><path class="q85" d="M429.4 70.1l0.3-3.7l-0.8-4.8l-0.4 4.2z"/><path class="q78" d="M429 73l0.4-2.9l-0.9-4.3l-0.3 3.1z"/><path class="q73" d="M428.6 74.9l0.4-1.9l-0.8-4.1l-0.4 2.1z"/><path class="q67" d="M519.7 75.9l1.8-0.8l-1.7-0.4l-1.7 0.8z"/><path class="q65" d="M501.1 77.3l1.7-0.9l-1.6-0.4l-1.8 0.8z"/><path class="q60" d="M482.3 80.1l1.7-1.1l-1.6 0l-1.8 1.2z"/><path class="q25" d="M463.1 97l1.8-2.9l-1.7 1.5l-1.8 2.5z"/><path class="q101" d="M444 59.1l0.9-0.4l-0.3-0.5l-0.9 0.4z"/><path class="q100" d="M444.4 59.4l0.9-0.3l-0.4-0.4l-0.9 0.4zM444.7 60l0.9-0.7l-0.3-0.2l-0.9 0.3z"/><path class="q94" d="M445 66l0.9-2.4l-0.3-4.3l-0.9 0.7z"/><path class="q101" d="M443.1 59.4l0.9-0.3l-0.3-0.5l-0.9 0.4z"/><path class="q79" d="M445.3 76.2l0.9-2.8l-0.3-9.8l-0.9 2.4z"/><path class="q100" d="M443.5 59.6l0.9-0.2l-0.4-0.3l-0.9 0.3z"/><path class="q99" d="M443.8 61.3l0.9-1.3l-0.3-0.6l-0.9 0.2z"/><path class="q91" d="M444.1 68.4l0.9-2.4l-0.3-6l-0.9 1.3z"/><path class="q74" d="M444.3 78.8l1-2.6l-0.3-10.2l-0.9 2.4z"/><path class="q67" d="M516.3 76.3l1.8-0.8l-1.7-0.4l-1.7 0.8z"/><path class="q65" d="M497.7 77.8l1.7-1l-1.6-0.4l-1.8 1z"/><path class="q56" d="M478.8 81.7l1.8-1.5l-1.7 0.4l-1.8 1.6z"/><path class="q18" d="M459.6 100.6l1.8-2.5l-1.7 0.9l-1.8 1.9z"/><path class="q101" d="M441 62.3l1.8-3.3l-1.7-3.4l-1.8 2.6z"/><path class="q66" d="M512.9 76.7l1.8-0.8l-1.6-0.5l-1.8 0.8z"/><path class="q64" d="M494.2 78.5l1.8-1.1l-1.6-0.4l-1.8 1.1z"/><path class="q52" d="M475.3 84.2l1.8-2l-1.7 0.8l-1.8 2.1z"/><path class="q13" d="M456.1 102.7l1.8-1.8l-1.6 0.1l-1.8 1.5z"/><path class="q105" d="M437.5 58.2l0.9-1.7l-0.8-1.8l-1 2z"/><path class="q103" d="M438.4 59.3l0.9-1.1l-0.9-1.7l-0.9 1.7z"/><path class="q102" d="M436.6 59.5l0.9-1.3l-0.9-1.5l-0.9 1.9z"/><path class="q99" d="M437.4 63.4l1-4.1l-0.9-1.1l-0.9 1.3z"/><path class="q66" d="M509.5 77.1l1.8-0.9l-1.6-0.5l-1.8 0.9z"/><path class="q63" d="M490.8 79.1l1.8-1l-1.7-0.4l-1.8 0.9z"/><path class="q45" d="M471.8 87.7l1.8-2.6l-1.7 1.1l-1.8 2.6z"/><path class="q11" d="M452.7 103.8l1.8-1.3l-1.7-0.4l-1.8 1.3z"/><path class="q104" d="M434.2 57.9l0.4-1l-0.6-0.9l-0.3 1.1z"/><path class="q102" d="M433.9 58.8l0.3-0.9l-0.5-0.8l-0.4 1z"/><path class="q103" d="M434.8 58.7l0.4-0.9l-0.6-0.9l-0.4 1z"/><path class="q101" d="M433.5 59.3l0.4-0.5l-0.6-0.7l-0.4 0.8zM434.4 59.3l0.4-0.6l-0.6-0.8l-0.3 0.9z"/><path class="q102" d="M435.4 59.3l0.3-0.7l-0.5-0.8l-0.4 0.9z"/><path class="q97" d="M433.1 64.5l0.4-5.2l-0.6-0.4l-0.3 1.6z"/><path class="q99" d="M434.1 62.2l0.3-2.9l-0.5-0.5l-0.4 0.5z"/><path class="q100" d="M435 60l0.4-0.7l-0.6-0.6l-0.4 0.6z"/><path class="q88" d="M432.7 69.9l0.4-5.4l-0.5-4l-0.4 6z"/><path class="q91" d="M433.7 68.3l0.4-6.1l-0.6-2.9l-0.4 5.2z"/><path class="q95" d="M434.6 66.4l0.4-6.4l-0.6-0.7l-0.3 2.9z"/><path class="q80" d="M433.3 73.3l0.4-5l-0.6-3.8l-0.4 5.4z"/><path class="q84" d="M434.2 71.9l0.4-5.5l-0.5-4.2l-0.4 6.1z"/><path class="q74" d="M433.8 76.5l0.4-4.6l-0.5-3.6l-0.4 5z"/><path class="q68" d="M524.7 75.9l1.8-0.8l-1.6-0.4l-1.8 0.8z"/><path class="q66" d="M506.1 77.4l1.8-0.8l-1.6-0.5l-1.8 0.8z"/><path class="q62" d="M487.4 79.6l1.7-1l-1.6-0.3l-1.8 0.9z"/><path class="q37" d="M468.2 91.9l1.9-3.1l-1.7 1l-1.8 3.1z"/><path class="q10" d="M449.2 104.4l1.8-1l-1.6-0.6l-1.8 1z"/><path class="q94" d="M431 66.5l0.3-5.4l-0.8-2.4l-0.4 2.8z"/><path class="q85" d="M430.6 70.9l0.4-4.4l-0.9-5l-0.4 4.9z"/><path class="q77" d="M430.2 74.3l0.4-3.4l-0.9-4.5l-0.3 3.7z"/><path class="q85" d="M431.8 71.3l0.4-4.8l-0.9-5.4l-0.3 5.4z"/><path class="q70" d="M429.8 76.9l0.4-2.6l-0.8-4.2l-0.4 2.9z"/><path class="q76" d="M431.4 75.2l0.4-3.9l-0.8-4.8l-0.4 4.4z"/><path class="q66" d="M429.5 78.6l0.3-1.7l-0.8-3.9l-0.4 1.9z"/><path class="q68" d="M431 78.3l0.4-3.1l-0.8-4.3l-0.4 3.4z"/><path class="q63" d="M430.7 80.5l0.3-2.2l-0.8-4l-0.4 2.6z"/><path class="q59" d="M430.3 82.1l0.4-1.6l-0.9-3.6l-0.3 1.7z"/><path class="q67" d="M521.4 76.4l1.7-0.9l-1.6-0.4l-1.8 0.8z"/><path class="q65" d="M502.7 77.8l1.8-0.9l-1.7-0.5l-1.7 0.9z"/><path class="q61" d="M483.9 80.4l1.8-1.2l-1.7-0.2l-1.7 1.1z"/><path class="q29" d="M464.7 96.1l1.9-3.2l-1.7 1.2l-1.8 2.9z"/><path class="q61" d="M445.4 83.6l0.9-2.8l-0.1-7.4l-0.9 2.8z"/><path class="q46" d="M445.6 90.7l0.9-2.4l-0.2-7.5l-0.9 2.8z"/><path class="q32" d="M445.7 97l0.9-1.9l-0.1-6.8l-0.9 2.4z"/><path class="q20" d="M445.9 101.6l0.9-1.3l-0.2-5.2l-0.9 1.9z"/><path class="q12" d="M446.1 103.9l0.9-0.7l-0.2-2.9l-0.9 1.3z"/><path class="q56" d="M444.5 85.8l0.9-2.2l-0.1-7.4l-1 2.6z"/><path class="q9" d="M446.3 104.1l0.9-0.5l-0.2-0.4l-0.9 0.7z"/><path class="q42" d="M444.6 92.5l1-1.8l-0.2-7.1l-0.9 2.2z"/><path class="q9" d="M446.5 104.2l0.9-0.5l-0.2-0.1l-0.9 0.5z"/><path class="q28" d="M444.8 98.3l0.9-1.3l-0.1-6.3l-1 1.8z"/><path class="q9" d="M446.7 104.3l0.9-0.5l-0.2-0.1l-0.9 0.5z"/><path class="q18" d="M445 102.4l0.9-0.8l-0.2-4.6l-0.9 1.3z"/><path class="q11" d="M445.2 104.4l0.9-0.5l-0.2-2.3l-0.9 0.8z"/><path class="q9" d="M445.4 104.6l0.9-0.5l-0.2-0.2l-0.9 0.5zM445.6 104.7l0.9-0.5l-0.2-0.1l-0.9 0.5zM445.8 104.7l0.9-0.4l-0.2-0.1l-0.9 0.5z"/><path class="q67" d="M518 76.8l1.7-0.9l-1.6-0.4l-1.8 0.8z"/><path class="q65" d="M499.3 78.3l1.8-1l-1.7-0.5l-1.7 1z"/><path class="q58" d="M480.5 81.5l1.8-1.4l-1.7 0.1l-1.8 1.5z"/><path class="q21" d="M461.2 99.9l1.9-2.9l-1.7 1.1l-1.8 2.5z"/><path class="q100" d="M442.4 59.6l0.6-0.3l-0.2-0.3l-0.6 0.4zM442.7 59.8l0.6-0.3l-0.3-0.2l-0.6 0.3z"/><path class="q98" d="M442.9 63.8l0.6-4.1l-0.2-0.2l-0.6 0.3z"/><path class="q100" d="M441.8 60.3l0.6-0.7l-0.2-0.2l-0.6 0.3z"/><path class="q93" d="M443.1 68.6l0.7-7.9l-0.3-1l-0.6 4.1z"/><path class="q97" d="M442 64.6l0.7-4.8l-0.3-0.2l-0.6 0.7z"/><path class="q85" d="M443.3 73.5l0.7-8.7l-0.2-4.1l-0.7 7.9z"/><path class="q91" d="M442.2 69l0.7-5.2l-0.2-4l-0.7 4.8z"/><path class="q75" d="M443.5 78.3l0.7-7.2l-0.2-6.3l-0.7 8.7z"/><path class="q95" d="M441.2 66.2l0.6-5.9l-0.2-0.6l-0.6 2.6z"/><path class="q82" d="M442.5 73.3l0.6-4.7l-0.2-4.8l-0.7 5.2z"/><path class="q63" d="M443.7 83.1l0.6-4.3l-0.1-7.7l-0.7 7.2z"/><path class="q89" d="M441.4 70l0.6-5.4l-0.2-4.3l-0.6 5.9z"/><path class="q73" d="M442.7 77.6l0.6-4.1l-0.2-4.9l-0.6 4.7z"/><path class="q81" d="M441.6 73.8l0.6-4.8l-0.2-4.4l-0.6 5.4z"/><path class="q63" d="M442.9 81.8l0.6-3.5l-0.2-4.8l-0.6 4.1z"/><path class="q73" d="M441.8 77.5l0.7-4.2l-0.3-4.3l-0.6 4.8z"/><path class="q54" d="M443.1 86.1l0.6-3l-0.2-4.8l-0.6 3.5z"/><path class="q64" d="M442 81.3l0.7-3.7l-0.2-4.3l-0.7 4.2z"/><path class="q56" d="M442.2 84.9l0.7-3.1l-0.2-4.2l-0.7 3.7z"/><path class="q48" d="M442.5 88.5l0.6-2.4l-0.2-4.3l-0.7 3.1z"/><path class="q66" d="M514.6 77.2l1.7-0.9l-1.6-0.4l-1.8 0.8z"/><path class="q64" d="M495.9 79l1.8-1.2l-1.7-0.4l-1.8 1.1z"/><path class="q54" d="M477 83.6l1.8-1.9l-1.7 0.5l-1.8 2z"/><path class="q15" d="M457.8 102.7l1.8-2.1l-1.7 0.3l-1.8 1.8z"/><path class="q102" d="M439.2 59.1l0.4-0.4l-0.3-0.5l-0.4 0.5z"/><path class="q101" d="M439.6 59.5l0.3-0.3l-0.3-0.5l-0.4 0.4zM438.9 59.5l0.3-0.4l-0.3-0.4l-0.4 0.4z"/><path class="q100" d="M439.9 59.8l0.4-0.2l-0.4-0.4l-0.3 0.3zM439.2 59.8l0.4-0.3l-0.4-0.4l-0.3 0.4zM438.5 59.8l0.4-0.3l-0.4-0.4l-0.3 0.4zM440.3 61.1l0.3-1.3l-0.3-0.2l-0.4 0.2zM439.6 60.7l0.3-0.9l-0.3-0.3l-0.4 0.3zM438.8 61l0.4-1.2l-0.3-0.3l-0.4 0.3z"/><path class="q99" d="M438.1 61.9l0.4-2.1l-0.3-0.3l-0.4 0.3z"/><path class="q95" d="M440.6 66.1l0.4-3.8l-0.4-2.5l-0.3 1.3z"/><path class="q96" d="M439.9 65.3l0.4-4.2l-0.4-1.3l-0.3 0.9zM439.2 65.2l0.4-4.5l-0.4-0.9l-0.4 1.2z"/><path class="q95" d="M438.5 65.7l0.3-4.7l-0.3-1.2l-0.4 2.1z"/><path class="q94" d="M437.7 66.8l0.4-4.9l-0.3-2.1l-0.4 3.6z"/><path class="q89" d="M440.2 69.8l0.4-3.7l-0.3-5l-0.4 4.2z"/><path class="q90" d="M439.5 69.3l0.4-4l-0.3-4.6l-0.4 4.5z"/><path class="q89" d="M438.8 69.5l0.4-4.3l-0.4-4.2l-0.3 4.7z"/><path class="q87" d="M438.1 70.2l0.4-4.5l-0.4-3.8l-0.4 4.9z"/><path class="q81" d="M439.8 73.4l0.4-3.6l-0.3-4.5l-0.4 4zM439.1 73.1l0.4-3.8l-0.3-4.1l-0.4 4.3z"/><path class="q80" d="M438.4 73.5l0.4-4l-0.3-3.8l-0.4 4.5z"/><path class="q73" d="M439.4 76.8l0.4-3.4l-0.3-4.1l-0.4 3.8zM438.7 76.8l0.4-3.7l-0.3-3.6l-0.4 4z"/><path class="q66" d="M439 80l0.4-3.2l-0.3-3.7l-0.4 3.7zM511.2 77.6l1.7-0.9l-1.6-0.5l-1.8 0.9z"/><path class="q63" d="M492.5 79.5l1.7-1l-1.6-0.4l-1.8 1z"/><path class="q48" d="M473.5 86.8l1.8-2.6l-1.7 0.9l-1.8 2.6z"/><path class="q12" d="M454.3 104.2l1.8-1.5l-1.6-0.2l-1.8 1.3z"/><path class="q101" d="M436 59.6l0.3-0.3l-0.6-0.7l-0.3 0.6z"/><path class="q99" d="M435.7 62.6l0.3-3l-0.6-0.4l-0.3 0.3zM436.6 62.5l0.3-2.8l-0.6-0.4l-0.3 0.3z"/><path class="q92" d="M435.4 67.7l0.3-5.1l-0.6-3.1l-0.3 3.8z"/><path class="q93" d="M436.2 67.4l0.4-4.9l-0.6-2.9l-0.3 3z"/><path class="q83" d="M435 72.3l0.4-4.6l-0.6-4.4l-0.3 5.1z"/><path class="q93" d="M437.1 67.8l0.3-4.4l-0.5-3.7l-0.3 2.8z"/><path class="q84" d="M435.9 72l0.3-4.6l-0.5-4.8l-0.3 5.1z"/><path class="q74" d="M434.7 76.2l0.3-3.9l-0.5-3.9l-0.3 4.4z"/><path class="q84" d="M436.8 72.1l0.3-4.3l-0.5-5.3l-0.4 4.9z"/><path class="q75" d="M435.6 76.1l0.3-4.1l-0.5-4.3l-0.4 4.6z"/><path class="q66" d="M434.4 79.6l0.3-3.4l-0.5-3.4l-0.4 3.7z"/><path class="q75" d="M436.5 76.1l0.3-4l-0.6-4.7l-0.3 4.6z"/><path class="q67" d="M435.3 79.6l0.3-3.5l-0.6-3.8l-0.3 3.9zM436.1 79.7l0.4-3.6l-0.6-4.1l-0.3 4.1z"/><path class="q60" d="M434.9 82.6l0.4-3l-0.6-3.4l-0.3 3.4zM435.8 82.8l0.3-3.1l-0.5-3.6l-0.3 3.5z"/><path class="q54" d="M435.5 85.5l0.3-2.7l-0.5-3.2l-0.4 3z"/><path class="q68" d="M526.4 76.3l1.7-0.8l-1.6-0.4l-1.8 0.8z"/><path class="q66" d="M507.8 77.9l1.7-0.8l-1.6-0.5l-1.8 0.8z"/><path class="q62" d="M489 80.1l1.8-1l-1.7-0.5l-1.7 1z"/><path class="q40" d="M469.9 90.9l1.9-3.2l-1.7 1.1l-1.9 3.1z"/><path class="q10" d="M450.9 105l1.8-1.2l-1.7-0.4l-1.8 1z"/><path class="q76" d="M432.3 75.4l0.4-5.5l-0.5-3.4l-0.5 5.9z"/><path class="q66" d="M431.8 79.5l0.5-4.1l-0.6-3l-0.5 4.4z"/><path class="q70" d="M432.8 78.3l0.5-5l-0.6-3.4l-0.4 5.5z"/><path class="q59" d="M431.3 82.4l0.5-2.9l-0.6-2.7l-0.4 3.2z"/><path class="q61" d="M432.4 82l0.4-3.7l-0.5-2.9l-0.5 4.1z"/><path class="q64" d="M433.4 81l0.4-4.5l-0.5-3.2l-0.5 5z"/><path class="q54" d="M430.9 84.3l0.4-1.9l-0.5-2.4l-0.5 2.1zM431.9 84.7l0.5-2.7l-0.6-2.5l-0.5 2.9z"/><path class="q56" d="M432.9 84.4l0.5-3.4l-0.6-2.7l-0.4 3.7z"/><path class="q49" d="M431.4 86.5l0.5-1.8l-0.6-2.3l-0.4 1.9z"/><path class="q50" d="M432.4 86.9l0.5-2.5l-0.5-2.4l-0.5 2.7z"/><path class="q45" d="M432 88.5l0.4-1.6l-0.5-2.2l-0.5 1.8z"/><path class="q67" d="M523 76.8l1.7-0.9l-1.6-0.4l-1.7 0.9z"/><path class="q65" d="M504.4 78.3l1.7-0.9l-1.6-0.5l-1.8 0.9z"/><path class="q61" d="M485.6 80.8l1.8-1.2l-1.7-0.4l-1.8 1.2z"/><path class="q32" d="M466.4 95.3l1.8-3.4l-1.6 1l-1.9 3.2z"/><path class="q9" d="M447.4 105.4l1.8-1l-1.6-0.6l-1.8 0.9z"/><path class="q67" d="M519.6 77.3l1.8-0.9l-1.7-0.5l-1.7 0.9z"/><path class="q65" d="M501 78.8l1.7-1l-1.6-0.5l-1.8 1z"/><path class="q59" d="M482.1 81.8l1.8-1.4l-1.6-0.3l-1.8 1.4z"/><path class="q24" d="M462.9 99.3l1.8-3.2l-1.6 0.9l-1.9 2.9z"/><path class="q50" d="M443.9 87.9l0.6-1.1l-0.2-8l-0.6 4.3z"/><path class="q37" d="M444.1 92.7l0.6 1.6l-0.2-7.5l-0.6 1.1z"/><path class="q26" d="M444.3 97.5l0.6 2.8l-0.2-6l-0.6-1.6z"/><path class="q45" d="M443.3 90.2l0.6-2.3l-0.2-4.8l-0.6 3z"/><path class="q16" d="M444.5 102.1l0.6 1.8l-0.2-3.6l-0.6-2.8z"/><path class="q36" d="M443.5 94.3l0.6-1.6l-0.2-4.8l-0.6 2.3z"/><path class="q10" d="M444.7 104.8l0.6-0.3l-0.2-0.6l-0.6-1.8z"/><path class="q27" d="M443.7 98.4l0.6-0.9l-0.2-4.8l-0.6 1.6z"/><path class="q9" d="M445 104.9l0.5-0.3l-0.2-0.1l-0.6 0.3z"/><path class="q41" d="M442.7 92.1l0.6-1.9l-0.2-4.1l-0.6 2.4z"/><path class="q18" d="M443.9 102.3l0.6-0.2l-0.2-4.6l-0.6 0.9z"/><path class="q9" d="M445.2 105l0.6-0.3l-0.3-0.1l-0.5 0.3z"/><path class="q33" d="M442.9 95.5l0.6-1.2l-0.2-4.1l-0.6 1.9z"/><path class="q11" d="M444.1 105.1l0.6-0.3l-0.2-2.7l-0.6 0.2z"/><path class="q25" d="M443.1 98.9l0.6-0.5l-0.2-4.1l-0.6 1.2z"/><path class="q9" d="M444.4 105.2l0.6-0.3l-0.3-0.1l-0.6 0.3z"/><path class="q18" d="M443.3 102.1l0.6 0.2l-0.2-3.9l-0.6 0.5z"/><path class="q9" d="M444.6 105.3l0.6-0.3l-0.2-0.1l-0.6 0.3z"/><path class="q12" d="M443.5 105l0.6 0.1l-0.2-2.8l-0.6-0.2z"/><path class="q9" d="M443.8 105.5l0.6-0.3l-0.3-0.1l-0.6-0.1zM444 105.6l0.6-0.3l-0.2-0.1l-0.6 0.3z"/><path class="q66" d="M516.2 77.7l1.8-0.9l-1.7-0.5l-1.7 0.9z"/><path class="q64" d="M497.5 79.5l1.8-1.2l-1.6-0.5l-1.8 1.2z"/><path class="q56" d="M478.7 83.4l1.8-1.9l-1.7 0.2l-1.8 1.9z"/><path class="q17" d="M459.4 102.5l1.8-2.6l-1.6 0.7l-1.8 2.1z"/><path class="q88" d="M440.8 69.6l0.4-3.4l-0.2-3.9l-0.4 3.8z"/><path class="q80" d="M441 73.1l0.4-3.1l-0.2-3.8l-0.4 3.4zM440.4 73l0.4-3.4l-0.2-3.5l-0.4 3.7z"/><path class="q73" d="M441.2 76.6l0.4-2.8l-0.2-3.8l-0.4 3.1z"/><path class="q74" d="M440.6 76.1l0.4-3l-0.2-3.5l-0.4 3.4z"/><path class="q66" d="M441.4 80l0.4-2.5l-0.2-3.7l-0.4 2.8z"/><path class="q73" d="M440 76.2l0.4-3.2l-0.2-3.2l-0.4 3.6z"/><path class="q67" d="M440.8 79.2l0.4-2.6l-0.2-3.5l-0.4 3z"/><path class="q58" d="M441.7 83.3l0.3-2l-0.2-3.8l-0.4 2.5z"/><path class="q67" d="M440.2 79l0.4-2.9l-0.2-3.1l-0.4 3.2z"/><path class="q61" d="M441.1 82.3l0.3-2.3l-0.2-3.4l-0.4 2.6z"/><path class="q51" d="M441.9 86.6l0.3-1.7l-0.2-3.6l-0.3 2z"/><path class="q67" d="M439.6 79.3l0.4-3.1l-0.2-2.8l-0.4 3.4z"/><path class="q62" d="M440.5 81.8l0.3-2.6l-0.2-3.1l-0.4 2.9z"/><path class="q54" d="M441.3 85.3l0.4-2l-0.3-3.3l-0.3 2.3z"/><path class="q44" d="M442.1 89.9l0.4-1.4l-0.3-3.6l-0.3 1.7z"/><path class="q62" d="M439.9 81.8l0.3-2.8l-0.2-2.8l-0.4 3.1z"/><path class="q56" d="M440.7 84.5l0.4-2.2l-0.3-3.1l-0.3 2.6z"/><path class="q48" d="M441.5 88.2l0.4-1.6l-0.2-3.3l-0.4 2z"/><path class="q61" d="M439.3 82.2l0.3-2.9l-0.2-2.5l-0.4 3.2z"/><path class="q56" d="M440.1 84.2l0.4-2.4l-0.3-2.8l-0.3 2.8z"/><path class="q50" d="M440.9 87.2l0.4-1.9l-0.2-3l-0.4 2.2z"/><path class="q42" d="M441.7 91.1l0.4-1.2l-0.2-3.3l-0.4 1.6z"/><path class="q56" d="M439.5 84.4l0.4-2.6l-0.3-2.5l-0.3 2.9z"/><path class="q51" d="M440.3 86.6l0.4-2.1l-0.2-2.7l-0.4 2.4z"/><path class="q44" d="M441.1 89.8l0.4-1.6l-0.2-2.9l-0.4 1.9z"/><path class="q51" d="M439.7 86.5l0.4-2.3l-0.2-2.4l-0.4 2.6z"/><path class="q46" d="M440.5 88.9l0.4-1.7l-0.2-2.7l-0.4 2.1z"/><path class="q39" d="M441.4 92.3l0.3-1.2l-0.2-2.9l-0.4 1.6z"/><path class="q47" d="M439.9 88.6l0.4-2l-0.2-2.4l-0.4 2.3z"/><path class="q41" d="M440.8 91.2l0.3-1.4l-0.2-2.6l-0.4 1.7z"/><path class="q43" d="M440.2 90.6l0.3-1.7l-0.2-2.3l-0.4 2z"/><path class="q37" d="M441 93.5l0.4-1.2l-0.3-2.5l-0.3 1.4z"/><path class="q38" d="M440.4 92.6l0.4-1.4l-0.3-2.3l-0.3 1.7z"/><path class="q34" d="M440.6 94.5l0.4-1l-0.2-2.3l-0.4 1.4z"/><path class="q66" d="M512.8 78.2l1.8-1l-1.7-0.5l-1.7 0.9z"/><path class="q63" d="M494.1 80.1l1.8-1.1l-1.7-0.5l-1.7 1z"/><path class="q51" d="M475.2 86.1l1.8-2.5l-1.7 0.6l-1.8 2.6z"/><path class="q13" d="M456 104.6l1.8-1.9l-1.7 0l-1.8 1.5z"/><path class="q85" d="M437.4 70.9l0.3-4.1l-0.3-3.4l-0.3 4.4z"/><path class="q79" d="M437.7 73.9l0.4-3.7l-0.4-3.4l-0.3 4.1z"/><path class="q77" d="M437.1 74.8l0.3-3.9l-0.3-3.1l-0.3 4.3z"/><path class="q72" d="M438.1 76.8l0.3-3.3l-0.3-3.3l-0.4 3.7z"/><path class="q71" d="M437.4 77.5l0.3-3.6l-0.3-3l-0.3 3.9z"/><path class="q69" d="M436.8 78.5l0.3-3.7l-0.3-2.7l-0.3 4z"/><path class="q66" d="M438.4 79.7l0.3-2.9l-0.3-3.3l-0.3 3.3z"/><path class="q65" d="M437.7 80.1l0.4-3.3l-0.4-2.9l-0.3 3.6z"/><path class="q64" d="M437.1 80.9l0.3-3.4l-0.3-2.7l-0.3 3.7z"/><path class="q61" d="M436.5 81.8l0.3-3.3l-0.3-2.4l-0.4 3.6z"/><path class="q60" d="M438.7 82.6l0.3-2.6l-0.3-3.2l-0.3 2.9zM438.1 82.7l0.3-3l-0.3-2.9l-0.4 3.3z"/><path class="q59" d="M437.4 83.2l0.3-3.1l-0.3-2.6l-0.3 3.4z"/><path class="q57" d="M436.8 83.9l0.3-3l-0.3-2.4l-0.3 3.3z"/><path class="q55" d="M436.1 84.7l0.4-2.9l-0.4-2.1l-0.3 3.1zM438.4 85.2l0.3-2.6l-0.3-2.9l-0.3 3z"/><path class="q54" d="M437.8 85.4l0.3-2.7l-0.4-2.6l-0.3 3.1z"/><path class="q53" d="M437.1 85.9l0.3-2.7l-0.3-2.3l-0.3 3z"/><path class="q51" d="M436.5 86.5l0.3-2.6l-0.3-2.1l-0.4 2.9z"/><path class="q49" d="M435.8 87.1l0.3-2.4l-0.3-1.9l-0.3 2.7zM438.1 87.6l0.3-2.4l-0.3-2.5l-0.3 2.7zM437.4 87.8l0.4-2.4l-0.4-2.2l-0.3 2.7z"/><path class="q47" d="M436.8 88.3l0.3-2.4l-0.3-2l-0.3 2.6z"/><path class="q46" d="M436.2 88.7l0.3-2.2l-0.4-1.8l-0.3 2.4z"/><path class="q45" d="M437.8 89.7l0.3-2.1l-0.3-2.2l-0.4 2.4z"/><path class="q44" d="M437.1 90l0.3-2.2l-0.3-1.9l-0.3 2.4z"/><path class="q43" d="M436.5 90.3l0.3-2l-0.3-1.8l-0.3 2.2z"/><path class="q40" d="M437.5 91.6l0.3-1.9l-0.4-1.9l-0.3 2.2zM436.8 91.8l0.3-1.8l-0.3-1.7l-0.3 2z"/><path class="q37" d="M437.1 93.3l0.4-1.7l-0.4-1.6l-0.3 1.8z"/><path class="q66" d="M509.4 78.5l1.8-0.9l-1.7-0.5l-1.7 0.8z"/><path class="q62" d="M490.7 80.7l1.8-1.2l-1.7-0.4l-1.8 1z"/><path class="q44" d="M471.6 89.9l1.9-3.1l-1.7 0.9l-1.9 3.2z"/><path class="q10" d="M452.5 105.5l1.8-1.3l-1.6-0.4l-1.8 1.2z"/><path class="q57" d="M433.8 84.8l0.6-5.2l-0.6-3.1l-0.6 5.8z"/><path class="q52" d="M434.3 87.3l0.6-4.7l-0.5-3l-0.6 5.2z"/><path class="q48" d="M433.2 88.3l0.6-3.5l-0.6-2.5l-0.6 3.9z"/><path class="q47" d="M434.9 89.6l0.6-4.1l-0.6-2.9l-0.6 4.7z"/><path class="q44" d="M433.7 90.4l0.6-3.1l-0.5-2.5l-0.6 3.5z"/><path class="q42" d="M432.5 90.5l0.7-2.2l-0.6-2.1l-0.6 2.3z"/><path class="q40" d="M434.3 92.4l0.6-2.8l-0.6-2.3l-0.6 3.1z"/><path class="q39" d="M433.1 92.3l0.6-1.9l-0.5-2.1l-0.7 2.2z"/><path class="q35" d="M433.7 94.1l0.6-1.7l-0.6-2l-0.6 1.9z"/><path class="q67" d="M524.6 77.3l1.8-1l-1.7-0.4l-1.7 0.9z"/><path class="q65" d="M506 78.9l1.8-1l-1.7-0.5l-1.7 0.9z"/><path class="q61" d="M487.2 81.3l1.8-1.2l-1.6-0.5l-1.8 1.2z"/><path class="q35" d="M468.1 94.3l1.8-3.4l-1.7 1l-1.8 3.4z"/><path class="q9" d="M449.1 106l1.8-1l-1.7-0.6l-1.8 1z"/><path class="q67" d="M521.3 77.8l1.7-1l-1.6-0.4l-1.8 0.9z"/><path class="q65" d="M502.6 79.4l1.8-1.1l-1.7-0.5l-1.7 1z"/><path class="q60" d="M483.8 82.3l1.8-1.5l-1.7-0.4l-1.8 1.4z"/><path class="q27" d="M464.6 98.6l1.8-3.3l-1.7 0.8l-1.8 3.2z"/><path class="q9" d="M445.7 106.3l1.7-0.9l-1.6-0.7l-1.8 0.9z"/><path class="q66" d="M517.9 78.2l1.7-0.9l-1.6-0.5l-1.8 0.9z"/><path class="q64" d="M499.2 80l1.8-1.2l-1.7-0.5l-1.8 1.2z"/><path class="q57" d="M480.3 83.6l1.8-1.8l-1.6-0.3l-1.8 1.9z"/><path class="q19" d="M461.1 102.1l1.8-2.8l-1.7 0.6l-1.8 2.6z"/><path class="q35" d="M441.8 95.4l1-1.9l-0.3-5l-1 3.2z"/><path class="q27" d="M442.2 98.9l0.9-0.7l-0.3-4.7l-1 1.9z"/><path class="q19" d="M442.5 102.1l0.9 0.6l-0.3-4.5l-0.9 0.7z"/><path class="q12" d="M442.8 105l0.9 0.5l-0.3-2.8l-0.9-0.6z"/><path class="q31" d="M440.9 97.1l0.9-1.7l-0.3-3.7l-0.9 2.8z"/><path class="q9" d="M443.1 106l0.9-0.4l-0.3-0.1l-0.9-0.5z"/><path class="q25" d="M441.3 99.6l0.9-0.7l-0.4-3.5l-0.9 1.7z"/><path class="q19" d="M441.6 101.9l0.9 0.2l-0.3-3.2l-0.9 0.7z"/><path class="q14" d="M441.9 103.9l0.9 1.1l-0.3-2.9l-0.9-0.2z"/><path class="q10" d="M442.2 105.7l0.9 0.3l-0.3-1l-0.9-1.1z"/><path class="q66" d="M514.5 78.7l1.7-1l-1.6-0.5l-1.8 1z"/><path class="q63" d="M495.8 80.6l1.7-1.1l-1.6-0.5l-1.8 1.1z"/><path class="q53" d="M476.8 85.9l1.9-2.5l-1.7 0.2l-1.8 2.5z"/><path class="q14" d="M457.7 104.6l1.7-2.1l-1.6 0.2l-1.8 1.9z"/><path class="q52" d="M439 87.1l0.4-3.3l-0.4-3.8l-0.4 3.9z"/><path class="q46" d="M439.4 90.2l0.4-2.6l-0.4-3.8l-0.4 3.3zM438.5 90.2l0.5-3.1l-0.4-3.2l-0.5 3.7z"/><path class="q39" d="M439.8 93.1l0.4-2l-0.4-3.5l-0.4 2.6z"/><path class="q40" d="M438.9 92.7l0.5-2.5l-0.4-3.1l-0.5 3.1z"/><path class="q39" d="M438 92.8l0.5-2.6l-0.4-2.6l-0.5 3.1z"/><path class="q33" d="M440.2 95.9l0.4-1.4l-0.4-3.4l-0.4 2z"/><path class="q35" d="M439.3 95.1l0.5-2l-0.4-2.9l-0.5 2.5zM438.4 94.9l0.5-2.2l-0.4-2.5l-0.5 2.6z"/><path class="q34" d="M437.6 95l0.4-2.2l-0.4-2.1l-0.5 2.6z"/><path class="q30" d="M439.7 97.3l0.5-1.4l-0.4-2.8l-0.5 2z"/><path class="q31" d="M438.8 96.8l0.5-1.7l-0.4-2.4l-0.5 2.2zM438 96.7l0.4-1.8l-0.4-2.1l-0.4 2.2z"/><path class="q27" d="M439.2 98.6l0.5-1.3l-0.4-2.2l-0.5 1.7z"/><path class="q28" d="M438.4 98.3l0.4-1.5l-0.4-1.9l-0.4 1.8z"/><path class="q24" d="M438.8 99.8l0.4-1.2l-0.4-1.8l-0.4 1.5z"/><path class="q66" d="M511.1 79.1l1.7-0.9l-1.6-0.6l-1.8 0.9z"/><path class="q62" d="M492.3 81.3l1.8-1.2l-1.6-0.6l-1.8 1.2z"/><path class="q47" d="M473.3 89.2l1.9-3.1l-1.7 0.7l-1.9 3.1z"/><path class="q11" d="M454.2 105.9l1.8-1.3l-1.7-0.4l-1.8 1.3z"/><path class="q41" d="M435.7 92.9l0.6-3.4l-0.8-4l-0.6 4.1z"/><path class="q35" d="M435.1 95.2l0.6-2.3l-0.8-3.3l-0.6 2.8z"/><path class="q34" d="M436.5 95.9l0.6-2.6l-0.8-3.8l-0.6 3.4z"/><path class="q31" d="M434.5 96.6l0.6-1.4l-0.8-2.8l-0.6 1.7z"/><path class="q30" d="M435.9 97.7l0.6-1.8l-0.8-3l-0.6 2.3z"/><path class="q27" d="M435.3 98.9l0.6-1.2l-0.8-2.5l-0.6 1.4z"/><path class="q65" d="M507.7 79.5l1.7-1l-1.6-0.6l-1.8 1z"/><path class="q61" d="M488.9 81.9l1.8-1.2l-1.7-0.6l-1.8 1.2z"/><path class="q38" d="M469.8 93.4l1.8-3.5l-1.7 1l-1.8 3.4z"/><path class="q10" d="M450.8 106.6l1.7-1.1l-1.6-0.5l-1.8 1z"/><path class="q67" d="M522.9 78.2l1.7-0.9l-1.6-0.5l-1.7 1z"/><path class="q65" d="M504.3 80l1.7-1.1l-1.6-0.6l-1.8 1.1z"/><path class="q60" d="M485.5 82.8l1.7-1.5l-1.6-0.5l-1.8 1.5z"/><path class="q30" d="M466.3 97.7l1.8-3.4l-1.7 1l-1.8 3.3z"/><path class="q9" d="M447.3 107l1.8-1l-1.7-0.6l-1.7 0.9z"/><path class="q66" d="M519.5 78.8l1.8-1l-1.7-0.5l-1.7 0.9z"/><path class="q64" d="M500.8 80.6l1.8-1.2l-1.6-0.6l-1.8 1.2z"/><path class="q58" d="M482 84.2l1.8-1.9l-1.7-0.5l-1.8 1.8z"/><path class="q22" d="M462.8 101.6l1.8-3l-1.7 0.7l-1.8 2.8z"/><path class="q9" d="M443.9 107.2l1.8-0.9l-1.7-0.7l-1.8 0.1z"/><path class="q66" d="M516.1 79.3l1.8-1.1l-1.7-0.5l-1.7 1z"/><path class="q63" d="M497.4 81.2l1.8-1.2l-1.7-0.5l-1.7 1.1z"/><path class="q54" d="M478.5 86.1l1.8-2.5l-1.6-0.2l-1.9 2.5z"/><path class="q16" d="M459.3 104.4l1.8-2.3l-1.7 0.4l-1.7 2.1z"/><path class="q25" d="M440.2 100.1l0.9-1.3l-0.5-4.3l-0.9 2.8z"/><path class="q19" d="M440.8 102.6l0.9 0l-0.6-3.8l-0.9 1.3z"/><path class="q22" d="M439.3 101.6l0.9-1.5l-0.5-2.8l-0.9 2.5z"/><path class="q14" d="M441.3 104.8l0.9 0.9l-0.5-3.1l-0.9 0z"/><path class="q18" d="M439.9 103.3l0.9-0.7l-0.6-2.5l-0.9 1.5z"/><path class="q14" d="M440.4 104.8l0.9 0l-0.5-2.2l-0.9 0.7z"/><path class="q66" d="M512.7 79.7l1.8-1l-1.7-0.5l-1.7 0.9z"/><path class="q62" d="M494 81.9l1.8-1.3l-1.7-0.5l-1.8 1.2z"/><path class="q49" d="M475 89l1.8-3.1l-1.6 0.2l-1.9 3.1z"/><path class="q12" d="M455.9 106.2l1.8-1.6l-1.7 0l-1.8 1.3z"/><path class="q28" d="M437.1 99.4l0.9-2.7l-0.9-3.4l-0.9 3.6z"/><path class="q23" d="M437.9 101.6l0.9-1.8l-0.8-3.1l-0.9 2.7zM436.1 100.9l1-1.5l-0.9-2.5l-0.9 2z"/><path class="q20" d="M437 102.8l0.9-1.2l-0.8-2.2l-1 1.5z"/><path class="q65" d="M509.3 80.1l1.8-1l-1.7-0.6l-1.7 1z"/><path class="q61" d="M490.6 82.6l1.7-1.3l-1.6-0.6l-1.8 1.2z"/><path class="q41" d="M471.5 92.7l1.8-3.5l-1.7 0.7l-1.8 3.5z"/><path class="q10" d="M452.4 107.1l1.8-1.2l-1.7-0.4l-1.7 1.1z"/><path class="q65" d="M505.9 80.7l1.8-1.2l-1.7-0.6l-1.7 1.1z"/><path class="q60" d="M487.1 83.5l1.8-1.6l-1.7-0.6l-1.7 1.5z"/><path class="q33" d="M468 96.9l1.8-3.5l-1.7 0.9l-1.8 3.4z"/><path class="q9" d="M449 107.5l1.8-0.9l-1.7-0.6l-1.8 1z"/><path class="q66" d="M521.1 79.3l1.8-1.1l-1.6-0.4l-1.8 1z"/><path class="q64" d="M502.5 81.3l1.8-1.3l-1.7-0.6l-1.8 1.2z"/><path class="q58" d="M483.7 84.8l1.8-2l-1.7-0.5l-1.8 1.9z"/><path class="q25" d="M464.5 100.9l1.8-3.2l-1.7 0.9l-1.8 3z"/><path class="q8" d="M445.5 107.8l1.8-0.8l-1.6-0.7l-1.8 0.9z"/><path class="q66" d="M517.7 79.8l1.8-1l-1.6-0.6l-1.8 1.1z"/><path class="q63" d="M499.1 81.8l1.7-1.2l-1.6-0.6l-1.8 1.2z"/><path class="q55" d="M480.2 86.6l1.8-2.4l-1.7-0.6l-1.8 2.5z"/><path class="q18" d="M461 104l1.8-2.4l-1.7 0.5l-1.8 2.3z"/><path class="q10" d="M442.1 107.9l1.8-0.7l-1.7-1.5l-1.8-0.9z"/><path class="q65" d="M514.4 80.3l1.7-1l-1.6-0.6l-1.8 1z"/><path class="q62" d="M495.6 82.5l1.8-1.3l-1.6-0.6l-1.8 1.3z"/><path class="q50" d="M476.7 89.2l1.8-3.1l-1.7-0.2l-1.8 3.1z"/><path class="q13" d="M457.5 106.1l1.8-1.7l-1.6 0.2l-1.8 1.6z"/><path class="q18" d="M437.8 104.5l1.8-2l-0.8-2.7l-1.8 3z"/><path class="q14" d="M438.6 105.9l1.8-1.1l-0.8-2.3l-1.8 2z"/><path class="q65" d="M511 80.8l1.7-1.1l-1.6-0.6l-1.8 1z"/><path class="q61" d="M492.2 83.3l1.8-1.4l-1.7-0.6l-1.7 1.3z"/><path class="q43" d="M473.2 92.5l1.8-3.5l-1.7 0.2l-1.8 3.5z"/><path class="q11" d="M454.1 107.4l1.8-1.2l-1.7-0.3l-1.8 1.2z"/><path class="q64" d="M507.5 81.3l1.8-1.2l-1.6-0.6l-1.8 1.2z"/><path class="q59" d="M488.8 84.2l1.8-1.6l-1.7-0.7l-1.8 1.6z"/><path class="q36" d="M469.7 96.3l1.8-3.6l-1.7 0.7l-1.8 3.5z"/><path class="q9" d="M450.7 108.1l1.7-1l-1.6-0.5l-1.8 0.9z"/><path class="q64" d="M504.1 82l1.8-1.3l-1.6-0.7l-1.8 1.3z"/><path class="q58" d="M485.3 85.4l1.8-1.9l-1.6-0.7l-1.8 2z"/><path class="q27" d="M466.2 100.1l1.8-3.2l-1.7 0.8l-1.8 3.2z"/><path class="q9" d="M447.2 108.4l1.8-0.9l-1.7-0.5l-1.8 0.8z"/><path class="q66" d="M519.4 80.3l1.7-1l-1.6-0.5l-1.8 1z"/><path class="q63" d="M500.7 82.5l1.8-1.2l-1.7-0.7l-1.7 1.2z"/><path class="q55" d="M481.8 87.2l1.9-2.4l-1.7-0.6l-1.8 2.4z"/><path class="q20" d="M462.7 103.4l1.8-2.5l-1.7 0.7l-1.8 2.4z"/><path class="q8" d="M443.8 108.7l1.7-0.9l-1.6-0.6l-1.8 0.7z"/><path class="q65" d="M516 80.9l1.7-1.1l-1.6-0.5l-1.7 1z"/><path class="q62" d="M497.3 83.2l1.8-1.4l-1.7-0.6l-1.8 1.3z"/><path class="q50" d="M478.3 89.7l1.9-3.1l-1.7-0.5l-1.8 3.1z"/><path class="q15" d="M459.2 105.8l1.8-1.8l-1.7 0.4l-1.8 1.7z"/><path class="q11" d="M440.3 108.2l1.8-0.3l-1.7-3.1l-1.8 1.1z"/><path class="q65" d="M512.6 81.4l1.8-1.1l-1.7-0.6l-1.7 1.1z"/><path class="q61" d="M493.9 83.9l1.7-1.4l-1.6-0.6l-1.8 1.4z"/><path class="q45" d="M474.8 92.7l1.9-3.5l-1.7-0.2l-1.8 3.5z"/><path class="q12" d="M455.8 107.4l1.7-1.3l-1.6 0.1l-1.8 1.2z"/><path class="q64" d="M509.2 82l1.8-1.2l-1.7-0.7l-1.8 1.2z"/><path class="q59" d="M490.4 84.9l1.8-1.6l-1.6-0.7l-1.8 1.6z"/><path class="q38" d="M471.3 96.1l1.9-3.6l-1.7 0.2l-1.8 3.6z"/><path class="q10" d="M452.3 108.4l1.8-1l-1.7-0.3l-1.7 1z"/><path class="q63" d="M505.8 82.7l1.7-1.4l-1.6-0.6l-1.8 1.3z"/><path class="q57" d="M487 86.2l1.8-2l-1.7-0.7l-1.8 1.9z"/><path class="q30" d="M467.8 99.5l1.9-3.2l-1.7 0.6l-1.8 3.2z"/><path class="q9" d="M448.9 108.9l1.8-0.8l-1.7-0.6l-1.8 0.9z"/><path class="q62" d="M502.4 83.2l1.7-1.2l-1.6-0.7l-1.8 1.2z"/><path class="q55" d="M483.5 87.9l1.8-2.5l-1.6-0.6l-1.9 2.4z"/><path class="q23" d="M464.4 102.7l1.8-2.6l-1.7 0.8l-1.8 2.5z"/><path class="q8" d="M445.4 109.2l1.8-0.8l-1.7-0.6l-1.7 0.9z"/><path class="q65" d="M517.6 81.4l1.8-1.1l-1.7-0.5l-1.7 1.1z"/><path class="q62" d="M498.9 83.9l1.8-1.4l-1.6-0.7l-1.8 1.4z"/><path class="q51" d="M480 90.2l1.8-3l-1.6-0.6l-1.9 3.1z"/><path class="q18" d="M460.9 105.3l1.8-1.9l-1.7 0.6l-1.8 1.8z"/><path class="q8" d="M442 109.5l1.8-0.8l-1.7-0.8l-1.8 0.3z"/><path class="q65" d="M514.2 82l1.8-1.1l-1.6-0.6l-1.8 1.1z"/><path class="q60" d="M495.5 84.6l1.8-1.4l-1.7-0.7l-1.7 1.4z"/><path class="q45" d="M476.5 93.1l1.8-3.4l-1.6-0.5l-1.9 3.5z"/><path class="q14" d="M457.4 107.3l1.8-1.5l-1.7 0.3l-1.7 1.3z"/><path class="q64" d="M510.8 82.7l1.8-1.3l-1.6-0.6l-1.8 1.2z"/><path class="q59" d="M492.1 85.6l1.8-1.7l-1.7-0.6l-1.8 1.6z"/><path class="q39" d="M473 96.3l1.8-3.6l-1.6-0.2l-1.9 3.6z"/><path class="q11" d="M454 108.5l1.8-1.1l-1.7 0l-1.8 1z"/><path class="q63" d="M507.4 83.4l1.8-1.4l-1.7-0.7l-1.7 1.4z"/><path class="q57" d="M488.6 86.9l1.8-2l-1.6-0.7l-1.8 2z"/><path class="q32" d="M469.5 99.4l1.8-3.3l-1.6 0.2l-1.9 3.2z"/><path class="q10" d="M450.6 109.3l1.7-0.9l-1.6-0.3l-1.8 0.8z"/><path class="q62" d="M504 83.9l1.8-1.2l-1.7-0.7l-1.7 1.2z"/><path class="q54" d="M485.2 88.6l1.8-2.4l-1.7-0.8l-1.8 2.5z"/><path class="q26" d="M466 102.2l1.8-2.7l-1.6 0.6l-1.8 2.6z"/><path class="q9" d="M447.1 109.8l1.8-0.9l-1.7-0.5l-1.8 0.8z"/><path class="q61" d="M500.6 84.6l1.8-1.4l-1.7-0.7l-1.8 1.4z"/><path class="q50" d="M481.7 90.9l1.8-3l-1.7-0.7l-1.8 3z"/><path class="q20" d="M462.6 104.7l1.8-2l-1.7 0.7l-1.8 1.9z"/><path class="q8" d="M443.7 110.1l1.7-0.9l-1.6-0.5l-1.8 0.8z"/><path class="q64" d="M515.9 82.6l1.7-1.2l-1.6-0.5l-1.8 1.1z"/><path class="q60" d="M497.2 85.3l1.7-1.4l-1.6-0.7l-1.8 1.4z"/><path class="q45" d="M478.2 93.7l1.8-3.5l-1.7-0.5l-1.8 3.4z"/><path class="q16" d="M459.1 106.9l1.8-1.6l-1.7 0.5l-1.8 1.5z"/><path class="q64" d="M512.5 83.3l1.7-1.3l-1.6-0.6l-1.8 1.3z"/><path class="q59" d="M493.7 86.3l1.8-1.7l-1.6-0.7l-1.8 1.7z"/><path class="q40" d="M474.7 96.6l1.8-3.5l-1.7-0.4l-1.8 3.6z"/><path class="q13" d="M455.7 108.5l1.7-1.2l-1.6 0.1l-1.8 1.1z"/><path class="q63" d="M509.1 84l1.7-1.3l-1.6-0.7l-1.8 1.4z"/><path class="q57" d="M490.3 87.6l1.8-2l-1.7-0.7l-1.8 2z"/><path class="q34" d="M471.2 99.6l1.8-3.3l-1.7-0.2l-1.8 3.3z"/><path class="q11" d="M452.2 109.5l1.8-1l-1.7-0.1l-1.7 0.9z"/><path class="q62" d="M505.6 84.7l1.8-1.3l-1.6-0.7l-1.8 1.2z"/><path class="q54" d="M486.8 89.4l1.8-2.5l-1.6-0.7l-1.8 2.4z"/><path class="q28" d="M467.7 102.1l1.8-2.7l-1.7 0.1l-1.8 2.7z"/><path class="q9" d="M448.8 110.1l1.8-0.8l-1.7-0.4l-1.8 0.9z"/><path class="q61" d="M502.2 85.3l1.8-1.4l-1.6-0.7l-1.8 1.4z"/><path class="q50" d="M483.3 91.7l1.9-3.1l-1.7-0.7l-1.8 3z"/><path class="q23" d="M464.3 104.3l1.7-2.1l-1.6 0.5l-1.8 2z"/><path class="q9" d="M445.3 110.6l1.8-0.8l-1.7-0.6l-1.7 0.9z"/><path class="q60" d="M498.8 86.1l1.8-1.5l-1.7-0.7l-1.7 1.4z"/><path class="q45" d="M479.8 94.3l1.9-3.4l-1.7-0.7l-1.8 3.5z"/><path class="q18" d="M460.8 106.5l1.8-1.8l-1.7 0.6l-1.8 1.6z"/><path class="q63" d="M514.1 83.9l1.8-1.3l-1.7-0.6l-1.7 1.3z"/><path class="q58" d="M495.4 87.1l1.8-1.8l-1.7-0.7l-1.8 1.7z"/><path class="q40" d="M476.3 97.1l1.9-3.4l-1.7-0.6l-1.8 3.5z"/><path class="q14" d="M457.4 108.3l1.7-1.4l-1.7 0.4l-1.7 1.2z"/><path class="q62" d="M510.7 84.7l1.8-1.4l-1.7-0.6l-1.7 1.3z"/><path class="q56" d="M491.9 88.3l1.8-2l-1.6-0.7l-1.8 2z"/><path class="q34" d="M472.9 99.9l1.8-3.3l-1.7-0.3l-1.8 3.3z"/><path class="q12" d="M453.9 109.6l1.8-1.1l-1.7 0l-1.8 1z"/><path class="q61" d="M507.3 85.4l1.8-1.4l-1.7-0.6l-1.8 1.3z"/><path class="q54" d="M488.5 90.1l1.8-2.5l-1.7-0.7l-1.8 2.5z"/><path class="q29" d="M469.4 102.3l1.8-2.7l-1.7-0.2l-1.8 2.7z"/><path class="q10" d="M450.5 110.4l1.7-0.9l-1.6-0.2l-1.8 0.8z"/><path class="q60" d="M503.9 86.1l1.7-1.4l-1.6-0.8l-1.8 1.4z"/><path class="q50" d="M485 92.4l1.8-3l-1.6-0.8l-1.9 3.1z"/><path class="q24" d="M465.9 104.3l1.8-2.2l-1.7 0.1l-1.7 2.1z"/><path class="q9" d="M447 111l1.8-0.9l-1.7-0.3l-1.8 0.8z"/><path class="q59" d="M500.5 86.9l1.7-1.6l-1.6-0.7l-1.8 1.5z"/><path class="q45" d="M481.5 95l1.8-3.3l-1.6-0.8l-1.9 3.4z"/><path class="q20" d="M462.5 106.2l1.8-1.9l-1.7 0.4l-1.8 1.8z"/><path class="q58" d="M497 87.8l1.8-1.7l-1.6-0.8l-1.8 1.8z"/><path class="q40" d="M478 97.7l1.8-3.4l-1.6-0.6l-1.9 3.4z"/><path class="q16" d="M459 108.1l1.8-1.6l-1.7 0.4l-1.7 1.4z"/><path class="q62" d="M512.3 85.3l1.8-1.4l-1.6-0.6l-1.8 1.4z"/><path class="q56" d="M493.6 89.1l1.8-2l-1.7-0.8l-1.8 2z"/><path class="q35" d="M474.5 100.4l1.8-3.3l-1.6-0.5l-1.8 3.3z"/><path class="q13" d="M455.6 109.5l1.8-1.2l-1.7 0.2l-1.8 1.1z"/><path class="q61" d="M508.9 86.1l1.8-1.4l-1.6-0.7l-1.8 1.4z"/><path class="q53" d="M490.1 90.8l1.8-2.5l-1.6-0.7l-1.8 2.5z"/><path class="q30" d="M471.1 102.6l1.8-2.7l-1.7-0.3l-1.8 2.7z"/><path class="q11" d="M452.1 110.6l1.8-1l-1.7-0.1l-1.7 0.9z"/><path class="q60" d="M505.5 86.8l1.8-1.4l-1.7-0.7l-1.7 1.4z"/><path class="q50" d="M486.6 93.1l1.9-3l-1.7-0.7l-1.8 3z"/><path class="q26" d="M467.6 104.5l1.8-2.2l-1.7-0.2l-1.8 2.2z"/><path class="q10" d="M448.7 111.3l1.8-0.9l-1.7-0.3l-1.8 0.9z"/><path class="q59" d="M502.1 87.6l1.8-1.5l-1.7-0.8l-1.7 1.6z"/><path class="q45" d="M483.2 95.7l1.8-3.3l-1.7-0.7l-1.8 3.3z"/><path class="q22" d="M464.2 106.3l1.7-2l-1.6 0l-1.8 1.9z"/><path class="q58" d="M498.7 88.6l1.8-1.7l-1.7-0.8l-1.8 1.7z"/><path class="q40" d="M479.7 98.3l1.8-3.3l-1.7-0.7l-1.8 3.4z"/><path class="q18" d="M460.7 107.9l1.8-1.7l-1.7 0.3l-1.8 1.6z"/><path class="q56" d="M495.2 89.9l1.8-2.1l-1.6-0.7l-1.8 2z"/><path class="q35" d="M476.2 100.9l1.8-3.2l-1.7-0.6l-1.8 3.3z"/><path class="q15" d="M457.3 109.5l1.7-1.4l-1.6 0.2l-1.8 1.2z"/><path class="q61" d="M510.6 86.7l1.7-1.4l-1.6-0.6l-1.8 1.4z"/><path class="q53" d="M491.8 91.6l1.8-2.5l-1.7-0.8l-1.8 2.5z"/><path class="q30" d="M472.7 103l1.8-2.6l-1.6-0.5l-1.8 2.7z"/><path class="q13" d="M453.8 110.7l1.8-1.2l-1.7 0.1l-1.8 1z"/><path class="q60" d="M507.2 87.5l1.7-1.4l-1.6-0.7l-1.8 1.4z"/><path class="q49" d="M488.3 93.8l1.8-3l-1.6-0.7l-1.9 3z"/><path class="q26" d="M469.3 104.8l1.8-2.2l-1.7-0.3l-1.8 2.2z"/><path class="q11" d="M450.4 111.6l1.7-1l-1.6-0.2l-1.8 0.9z"/><path class="q59" d="M503.8 88.4l1.7-1.6l-1.6-0.7l-1.8 1.5z"/><path class="q45" d="M484.8 96.3l1.8-3.2l-1.6-0.7l-1.8 3.3z"/><path class="q23" d="M465.8 106.5l1.8-2l-1.7-0.2l-1.7 2z"/><path class="q57" d="M500.3 89.4l1.8-1.8l-1.6-0.7l-1.8 1.7z"/><path class="q40" d="M481.3 99l1.9-3.3l-1.7-0.7l-1.8 3.3z"/><path class="q20" d="M462.4 108l1.8-1.7l-1.7-0.1l-1.8 1.7z"/><path class="q55" d="M496.9 90.7l1.8-2.1l-1.7-0.8l-1.8 2.1z"/><path class="q35" d="M477.9 101.5l1.8-3.2l-1.7-0.6l-1.8 3.2z"/><path class="q17" d="M459 109.5l1.7-1.6l-1.7 0.2l-1.7 1.4z"/><path class="q53" d="M493.4 92.4l1.8-2.5l-1.6-0.8l-1.8 2.5z"/><path class="q31" d="M474.4 103.5l1.8-2.6l-1.7-0.5l-1.8 2.6z"/><path class="q14" d="M455.5 110.7l1.8-1.2l-1.7 0l-1.8 1.2z"/><path class="q60" d="M508.8 88.2l1.8-1.5l-1.7-0.6l-1.7 1.4z"/><path class="q49" d="M490 94.5l1.8-2.9l-1.7-0.8l-1.8 3z"/><path class="q27" d="M471 105.3l1.7-2.3l-1.6-0.4l-1.8 2.2z"/><path class="q12" d="M452.1 111.8l1.7-1.1l-1.7-0.1l-1.7 1z"/><path class="q58" d="M505.4 89.1l1.8-1.6l-1.7-0.7l-1.7 1.6z"/><path class="q45" d="M486.5 97l1.8-3.2l-1.7-0.7l-1.8 3.2z"/><path class="q24" d="M467.5 106.9l1.8-2.1l-1.7-0.3l-1.8 2z"/><path class="q57" d="M502 90.2l1.8-1.8l-1.7-0.8l-1.8 1.8z"/><path class="q40" d="M483 99.6l1.8-3.3l-1.6-0.6l-1.9 3.3z"/><path class="q21" d="M464.1 108.4l1.7-1.9l-1.6-0.2l-1.8 1.7z"/><path class="q55" d="M498.5 91.5l1.8-2.1l-1.6-0.8l-1.8 2.1z"/><path class="q35" d="M479.5 102.1l1.8-3.1l-1.6-0.7l-1.8 3.2z"/><path class="q18" d="M460.6 109.7l1.8-1.7l-1.7-0.1l-1.7 1.6z"/><path class="q52" d="M495.1 93.2l1.8-2.5l-1.7-0.8l-1.8 2.5z"/><path class="q31" d="M476.1 104.1l1.8-2.6l-1.7-0.6l-1.8 2.6z"/><path class="q15" d="M457.2 110.9l1.8-1.4l-1.7 0l-1.8 1.2z"/><path class="q49" d="M491.6 95.3l1.8-2.9l-1.6-0.8l-1.8 2.9z"/><path class="q27" d="M472.6 105.7l1.8-2.2l-1.7-0.5l-1.7 2.3z"/><path class="q13" d="M453.8 111.9l1.7-1.2l-1.7 0l-1.7 1.1z"/><path class="q58" d="M507.1 89.8l1.7-1.6l-1.6-0.7l-1.8 1.6z"/><path class="q45" d="M488.1 97.8l1.9-3.3l-1.7-0.7l-1.8 3.2z"/><path class="q24" d="M469.2 107.3l1.8-2l-1.7-0.5l-1.8 2.1z"/><path class="q56" d="M503.6 90.9l1.8-1.8l-1.6-0.7l-1.8 1.8z"/><path class="q40" d="M484.7 100.3l1.8-3.3l-1.7-0.7l-1.8 3.3z"/><path class="q21" d="M465.8 108.7l1.7-1.8l-1.7-0.4l-1.7 1.9z"/><path class="q54" d="M500.2 92.2l1.8-2l-1.7-0.8l-1.8 2.1z"/><path class="q35" d="M481.2 102.7l1.8-3.1l-1.7-0.6l-1.8 3.1z"/><path class="q19" d="M462.3 110l1.8-1.6l-1.7-0.4l-1.8 1.7z"/><path class="q52" d="M496.7 94l1.8-2.5l-1.6-0.8l-1.8 2.5z"/><path class="q31" d="M477.7 104.7l1.8-2.6l-1.6-0.6l-1.8 2.6z"/><path class="q16" d="M458.9 111.1l1.7-1.4l-1.6-0.2l-1.8 1.4z"/><path class="q48" d="M493.3 96.1l1.8-2.9l-1.7-0.8l-1.8 2.9z"/><path class="q28" d="M474.3 106.3l1.8-2.2l-1.7-0.6l-1.8 2.2z"/><path class="q14" d="M455.4 112.1l1.8-1.2l-1.7-0.2l-1.7 1.2z"/><path class="q44" d="M489.8 98.6l1.8-3.3l-1.6-0.8l-1.9 3.3z"/><path class="q25" d="M470.9 107.7l1.7-2l-1.6-0.4l-1.8 2z"/><path class="q56" d="M505.3 91.6l1.8-1.8l-1.7-0.7l-1.8 1.8z"/><path class="q40" d="M486.3 101.1l1.8-3.3l-1.6-0.8l-1.8 3.3z"/><path class="q22" d="M467.4 109.1l1.8-1.8l-1.7-0.4l-1.7 1.8z"/><path class="q54" d="M501.8 93l1.8-2.1l-1.6-0.7l-1.8 2z"/><path class="q35" d="M482.8 103.4l1.9-3.1l-1.7-0.7l-1.8 3.1z"/><path class="q20" d="M464 110.4l1.8-1.7l-1.7-0.3l-1.8 1.6z"/><path class="q51" d="M498.4 94.8l1.8-2.6l-1.7-0.7l-1.8 2.5z"/><path class="q31" d="M479.4 105.3l1.8-2.6l-1.7-0.6l-1.8 2.6z"/><path class="q17" d="M460.6 111.5l1.7-1.5l-1.7-0.3l-1.7 1.4z"/><path class="q48" d="M494.9 97l1.8-3l-1.6-0.8l-1.8 2.9z"/><path class="q28" d="M476 106.9l1.7-2.2l-1.6-0.6l-1.8 2.2z"/><path class="q15" d="M457.1 112.5l1.8-1.4l-1.7-0.2l-1.8 1.2z"/><path class="q44" d="M491.4 99.4l1.9-3.3l-1.7-0.8l-1.8 3.3z"/><path class="q25" d="M472.5 108.3l1.8-2l-1.7-0.6l-1.7 2z"/><path class="q39" d="M488 101.9l1.8-3.3l-1.7-0.8l-1.8 3.3z"/><path class="q23" d="M469.1 109.6l1.8-1.9l-1.7-0.4l-1.8 1.8z"/><path class="q54" d="M503.5 93.7l1.8-2.1l-1.7-0.7l-1.8 2.1z"/><path class="q35" d="M484.5 104.2l1.8-3.1l-1.6-0.8l-1.9 3.1z"/><path class="q20" d="M465.7 110.8l1.7-1.7l-1.6-0.4l-1.8 1.7z"/><path class="q51" d="M500 95.5l1.8-2.5l-1.6-0.8l-1.8 2.6z"/><path class="q31" d="M481.1 106l1.7-2.6l-1.6-0.7l-1.8 2.6z"/><path class="q18" d="M462.2 111.9l1.8-1.5l-1.7-0.4l-1.7 1.5z"/><path class="q48" d="M496.6 97.8l1.8-3l-1.7-0.8l-1.8 3z"/><path class="q28" d="M477.6 107.5l1.8-2.2l-1.7-0.6l-1.7 2.2z"/><path class="q16" d="M458.8 112.9l1.8-1.4l-1.7-0.4l-1.8 1.4z"/><path class="q43" d="M493.1 100.2l1.8-3.2l-1.6-0.9l-1.9 3.3z"/><path class="q25" d="M474.2 108.9l1.8-2l-1.7-0.6l-1.8 2z"/><path class="q39" d="M489.6 102.7l1.8-3.3l-1.6-0.8l-1.8 3.3z"/><path class="q23" d="M470.8 110.1l1.7-1.8l-1.6-0.6l-1.8 1.9z"/><path class="q35" d="M486.2 105l1.8-3.1l-1.7-0.8l-1.8 3.1z"/><path class="q21" d="M467.4 111.3l1.7-1.7l-1.7-0.5l-1.7 1.7z"/><path class="q51" d="M501.7 96.2l1.8-2.5l-1.7-0.7l-1.8 2.5z"/><path class="q31" d="M482.7 106.8l1.8-2.6l-1.7-0.8l-1.7 2.6z"/><path class="q19" d="M463.9 112.3l1.8-1.5l-1.7-0.4l-1.8 1.5z"/><path class="q47" d="M498.2 98.5l1.8-3l-1.6-0.7l-1.8 3z"/><path class="q28" d="M479.3 108.2l1.8-2.2l-1.7-0.7l-1.8 2.2z"/><path class="q17" d="M460.5 113.3l1.7-1.4l-1.6-0.4l-1.8 1.4z"/><path class="q43" d="M494.7 101l1.9-3.2l-1.7-0.8l-1.8 3.2z"/><path class="q25" d="M475.9 109.5l1.7-2l-1.6-0.6l-1.8 2z"/><path class="q39" d="M491.3 103.5l1.8-3.3l-1.7-0.8l-1.8 3.3z"/><path class="q23" d="M472.5 110.7l1.7-1.8l-1.7-0.6l-1.7 1.8z"/><path class="q34" d="M487.8 105.8l1.8-3.1l-1.6-0.8l-1.8 3.1z"/><path class="q21" d="M469 111.8l1.8-1.7l-1.7-0.5l-1.7 1.7z"/><path class="q31" d="M484.4 107.6l1.8-2.6l-1.7-0.8l-1.8 2.6z"/><path class="q19" d="M465.6 112.8l1.8-1.5l-1.7-0.5l-1.8 1.5z"/><path class="q47" d="M499.9 99.2l1.8-3l-1.7-0.7l-1.8 3z"/><path class="q28" d="M481 109l1.7-2.2l-1.6-0.8l-1.8 2.2z"/><path class="q17" d="M462.2 113.7l1.7-1.4l-1.7-0.4l-1.7 1.4z"/><path class="q43" d="M496.4 101.8l1.8-3.3l-1.6-0.7l-1.9 3.2z"/><path class="q25" d="M477.5 110.3l1.8-2.1l-1.7-0.7l-1.7 2z"/><path class="q38" d="M492.9 104.3l1.8-3.3l-1.6-0.8l-1.8 3.3z"/><path class="q23" d="M474.1 111.4l1.8-1.9l-1.7-0.6l-1.7 1.8z"/><path class="q34" d="M489.5 106.6l1.8-3.1l-1.7-0.8l-1.8 3.1z"/><path class="q21" d="M470.7 112.4l1.8-1.7l-1.7-0.6l-1.8 1.7z"/><path class="q30" d="M486 108.4l1.8-2.6l-1.6-0.8l-1.8 2.6z"/><path class="q19" d="M467.3 113.3l1.7-1.5l-1.6-0.5l-1.8 1.5z"/><path class="q28" d="M482.6 109.9l1.8-2.3l-1.7-0.8l-1.7 2.2z"/><path class="q18" d="M463.9 114.2l1.7-1.4l-1.7-0.5l-1.7 1.4z"/><path class="q42" d="M498 102.5l1.9-3.3l-1.7-0.7l-1.8 3.3z"/><path class="q25" d="M479.2 111.1l1.8-2.1l-1.7-0.8l-1.8 2.1z"/><path class="q38" d="M494.6 105.1l1.8-3.3l-1.7-0.8l-1.8 3.3z"/><path class="q23" d="M475.8 112.2l1.7-1.9l-1.6-0.8l-1.8 1.9z"/><path class="q34" d="M491.1 107.4l1.8-3.1l-1.6-0.8l-1.8 3.1z"/><path class="q21" d="M472.4 113.1l1.7-1.7l-1.6-0.7l-1.8 1.7z"/><path class="q30" d="M487.7 109.3l1.8-2.7l-1.7-0.8l-1.8 2.6z"/><path class="q20" d="M469 113.9l1.7-1.5l-1.7-0.6l-1.7 1.5z"/><path class="q27" d="M484.3 110.7l1.7-2.3l-1.6-0.8l-1.8 2.3z"/><path class="q18" d="M465.5 114.7l1.8-1.4l-1.7-0.5l-1.7 1.4z"/><path class="q25" d="M480.9 112l1.7-2.1l-1.6-0.9l-1.8 2.1z"/><path class="q38" d="M496.2 105.8l1.8-3.3l-1.6-0.7l-1.8 3.3z"/><path class="q23" d="M477.5 113.1l1.7-2l-1.7-0.8l-1.7 1.9z"/><path class="q33" d="M492.8 108.2l1.8-3.1l-1.7-0.8l-1.8 3.1z"/><path class="q21" d="M474 113.9l1.8-1.7l-1.7-0.8l-1.7 1.7z"/><path class="q30" d="M489.3 110.1l1.8-2.7l-1.6-0.8l-1.8 2.7z"/><path class="q20" d="M470.6 114.7l1.8-1.6l-1.7-0.7l-1.7 1.5z"/><path class="q27" d="M485.9 111.6l1.8-2.3l-1.7-0.9l-1.7 2.3z"/><path class="q18" d="M467.2 115.3l1.8-1.4l-1.7-0.6l-1.8 1.4z"/><path class="q25" d="M482.5 112.9l1.8-2.2l-1.7-0.8l-1.7 2.1z"/><path class="q23" d="M479.1 114l1.8-2l-1.7-0.9l-1.7 2z"/><path class="q33" d="M494.4 108.9l1.8-3.1l-1.6-0.7l-1.8 3.1z"/><path class="q21" d="M475.7 114.9l1.8-1.8l-1.7-0.9l-1.8 1.7z"/><path class="q29" d="M491 110.9l1.8-2.7l-1.7-0.8l-1.8 2.7z"/><path class="q20" d="M472.3 115.5l1.7-1.6l-1.6-0.8l-1.8 1.6z"/><path class="q27" d="M487.6 112.5l1.7-2.4l-1.6-0.8l-1.8 2.3z"/><path class="q19" d="M468.9 116.1l1.7-1.4l-1.6-0.8l-1.8 1.4z"/><path class="q24" d="M484.2 113.8l1.7-2.2l-1.6-0.9l-1.8 2.2z"/><path class="q22" d="M480.8 114.9l1.7-2l-1.6-0.9l-1.8 2z"/><path class="q21" d="M477.4 115.8l1.7-1.8l-1.6-0.9l-1.8 1.8z"/><path class="q29" d="M492.7 111.7l1.7-2.8l-1.6-0.7l-1.8 2.7z"/><path class="q19" d="M474 116.5l1.7-1.6l-1.7-1l-1.7 1.6z"/><path class="q26" d="M489.3 113.3l1.7-2.4l-1.7-0.8l-1.7 2.4z"/><path class="q18" d="M470.6 117l1.7-1.5l-1.7-0.8l-1.7 1.4z"/><path class="q24" d="M485.8 114.7l1.8-2.2l-1.7-0.9l-1.7 2.2z"/><path class="q22" d="M482.4 115.9l1.8-2.1l-1.7-0.9l-1.7 2z"/><path class="q20" d="M479 116.8l1.8-1.9l-1.7-0.9l-1.7 1.8z"/><path class="q19" d="M475.7 117.5l1.7-1.7l-1.7-0.9l-1.7 1.6z"/><path class="q26" d="M490.9 114.1l1.8-2.4l-1.7-0.8l-1.7 2.4z"/><path class="q18" d="M472.3 117.9l1.7-1.4l-1.7-1l-1.7 1.5z"/><path class="q23" d="M487.5 115.6l1.8-2.3l-1.7-0.8l-1.8 2.2z"/><path class="q21" d="M484.1 116.8l1.7-2.1l-1.6-0.9l-1.8 2.1z"/><path class="q20" d="M480.7 117.8l1.7-1.9l-1.6-1l-1.8 1.9z"/><path class="q18" d="M477.3 118.5l1.7-1.7l-1.6-1l-1.7 1.7zM473.9 118.9l1.8-1.4l-1.7-1l-1.7 1.4z"/><path class="q23" d="M489.2 116.4l1.7-2.3l-1.6-0.8l-1.8 2.3z"/><path class="q21" d="M485.8 117.7l1.7-2.1l-1.7-0.9l-1.7 2.1z"/><path class="q19" d="M482.4 118.8l1.7-2l-1.7-0.9l-1.7 1.9z"/><path class="q18" d="M479 119.5l1.7-1.7l-1.7-1l-1.7 1.7z"/><path class="q17" d="M475.6 120l1.7-1.5l-1.6-1l-1.8 1.4z"/><path class="q21" d="M487.4 118.6l1.8-2.2l-1.7-0.8l-1.7 2.1z"/><path class="q19" d="M484 119.7l1.8-2l-1.7-0.9l-1.7 2z"/><path class="q17" d="M480.7 120.6l1.7-1.8l-1.7-1l-1.7 1.7z"/><path class="q16" d="M477.3 121.1l1.7-1.6l-1.7-1l-1.7 1.5z"/><path class="q18" d="M485.7 120.6l1.7-2l-1.6-0.9l-1.8 2z"/><path class="q17" d="M482.3 121.5l1.7-1.8l-1.6-0.9l-1.7 1.8z"/><path class="q16" d="M478.9 122.1l1.8-1.5l-1.7-1.1l-1.7 1.6zM484 122.4l1.7-1.8l-1.7-0.9l-1.7 1.8z"/><path class="q15" d="M480.6 123.1l1.7-1.6l-1.6-0.9l-1.8 1.5zM482.3 124l1.7-1.6l-1.7-0.9l-1.7 1.6z"/></g>
<path d="M419.3 108.2V34.6M419.3 108.2h-3.2M419.3 102.1h-2M419.3 95.9h-3.2M419.3 89.8h-2M419.3 83.7h-3.2M419.3 77.5h-2M419.3 71.4h-3.2M419.3 65.3h-2M419.3 59.1h-3.2M419.3 53h-2M419.3 46.9h-3.2M419.3 40.7h-2M419.3 34.6h-3.2M419.3 34.6H421.1M419.3 108.2H421.1M421.1 107.4l-0.8 3M428.2 110.7l-0.5 1.8M435.4 114l-0.8 3M442.6 117.3l-0.5 1.8M449.7 120.6l-0.8 3M456.9 123.9l-0.5 1.8M464 127.2l-0.8 3M471.2 130.5l-0.5 1.8M478.3 133.8l-0.8 3M478.3 133.8l0.8 3M484.8 130.3l0.5 1.8M488.5 128.2l0.5 1.8M491.2 126.8l0.5 1.8M493.3 125.7l0.5 1.8M495 124.7l0.5 1.8M496.4 124l0.5 1.8M497.7 123.3l0.5 1.8M498.8 122.7l0.5 1.8M499.8 122.2l0.8 3M506.2 118.7l0.5 1.8M510 116.6l0.5 1.8M512.7 115.2l0.5 1.8M514.8 114l0.5 1.8M516.4 113.1l0.5 1.8M517.9 112.3l0.5 1.8M519.1 111.7l0.5 1.8M520.2 111.1l0.5 1.8M521.2 110.5l0.8 3" stroke="#3a3a3a" stroke-width="0.8" fill="none"/>
<text x="413.7" y="112" font-size="10.6" text-anchor="end" fill="#222">0</text>
<text x="413.7" y="99.7" font-size="10.6" text-anchor="end" fill="#222">25</text>
<text x="413.7" y="87.5" font-size="10.6" text-anchor="end" fill="#222">50</text>
<text x="413.7" y="75.2" font-size="10.6" text-anchor="end" fill="#222">75</text>
<text x="413.7" y="62.9" font-size="10.6" text-anchor="end" fill="#222">100</text>
<text x="413.7" y="50.7" font-size="10.6" text-anchor="end" fill="#222">125</text>
<text x="413.7" y="38.4" font-size="10.6" text-anchor="end" fill="#222">150</text>
<text transform="translate(415.4 121.8) rotate(-22)" font-size="10.5" text-anchor="middle" fill="#222">700</text>
<text transform="translate(428.9 128.6) rotate(-22)" font-size="10.5" text-anchor="middle" fill="#222">600</text>
<text transform="translate(441.2 135.3) rotate(-22)" font-size="10.5" text-anchor="middle" fill="#222">500</text>
<text transform="translate(454.9 141.2) rotate(-22)" font-size="10.5" text-anchor="middle" fill="#222">400</text>
<text transform="translate(469.8 148) rotate(-22)" font-size="10.5" text-anchor="middle" fill="#222">300</text>
<text x="483.8" y="148" font-size="10.5" text-anchor="middle" fill="#222">1</text>
<text x="507.8" y="135.2" font-size="10.5" text-anchor="middle" fill="#222">10</text>
<text x="522.8" y="124.6" font-size="10.5" text-anchor="middle" fill="#222">100</text>
<text x="396.8" y="22.8" font-size="16" font-weight="bold" fill="#111">e</text>
<path d="M620.3 134.6L667.5 109L614.6 89L563.1 108.2Z" fill="#ececec"/>
<path d="M563.1 108.2L614.6 89L614.7 25.5L563.1 36Z" fill="#eaf9f7"/>
<path d="M614.6 89L667.5 109L673.3 36.8L614.7 25.5Z" fill="#fbfcdf"/>
<path d="M563.1 96.2L614.6 78.4M614.6 78.4L668.5 97M563.1 84.1L614.6 67.8M614.6 67.8L669.4 84.9M563.1 72.1L614.6 57.2M614.6 57.2L670.4 72.9M563.1 60.1L614.7 46.7M614.7 46.7L671.4 60.9M563.1 48L614.7 36.1M614.7 36.1L672.3 48.8M581.1 101.5L581.2 32.3M636.8 125.6L581.1 101.5M599.1 94.8L599.2 28.7M653.3 116.7L599.1 94.8M654.3 104L658.6 34M606 128L654.3 104M641 99L644 31.2M591.7 121.4L641 99M627.8 94L629.3 28.3M577.4 114.8L627.8 94" stroke="#8c8c8c" stroke-width="0.7" fill="none"/>
<path d="M563.1 36L614.7 25.5L673.3 36.8L667.5 109" fill="none" stroke="#555" stroke-width="0.8"/>
<path d="M614.6 89L614.7 25.5" fill="none" stroke="#666" stroke-width="0.8"/>
<path d="M563.1 36L563.1 108.2L620.3 134.6L667.5 109" fill="none" stroke="#666" stroke-width="0.8"/>
<g class="sf"><path class="q17" d="M615 82.4l2.1-0.8l-2.5 1.1l-2.1 0.8zM612.9 83.2l2.1-0.8l-2.5 1.1l-2.1 0.8z"/><path class="q22" d="M617.4 80.8l2.1-0.8l-2.4 1.6l-2.1 0.8z"/><path class="q17" d="M610.8 84.1l2.1-0.9l-2.5 1.1l-2 0.9z"/><path class="q22" d="M615.4 81.6l2-0.8l-2.4 1.6l-2.1 0.8z"/><path class="q26" d="M619.9 80.6l2.1-0.8l-2.5 0.2l-2.1 0.8z"/><path class="q16" d="M608.7 85l2.1-0.9l-2.4 1.1l-2.1 0.9z"/><path class="q22" d="M613.3 82.5l2.1-0.9l-2.5 1.6l-2.1 0.9z"/><path class="q26" d="M617.8 81.4l2.1-0.8l-2.5 0.2l-2 0.8z"/><path class="q28" d="M622.4 80.7l2-0.8l-2.4-0.1l-2.1 0.8z"/><path class="q16" d="M606.7 86l2-1l-2.4 1.1l-2.1 0.8z"/><path class="q21" d="M611.2 83.5l2.1-1l-2.5 1.6l-2.1 0.9z"/><path class="q26" d="M615.8 82.3l2-0.9l-2.4 0.2l-2.1 0.9z"/><path class="q28" d="M620.3 81.5l2.1-0.8l-2.5-0.1l-2.1 0.8z"/><path class="q30" d="M624.9 81l2-0.8l-2.5-0.3l-2 0.8z"/><path class="q16" d="M604.6 87l2.1-1l-2.5 0.9l-2.1 0.9z"/><path class="q21" d="M609.2 84.6l2-1.1l-2.5 1.5l-2 1z"/><path class="q26" d="M613.7 83.3l2.1-1l-2.5 0.2l-2.1 1z"/><path class="q28" d="M618.3 82.4l2-0.9l-2.5-0.1l-2 0.9z"/><path class="q30" d="M622.8 81.9l2.1-0.9l-2.5-0.3l-2.1 0.8z"/><path class="q31" d="M627.3 81.5l2.1-0.8l-2.5-0.5l-2 0.8z"/><path class="q15" d="M602.5 88.1l2.1-1.1l-2.5 0.8l-2.1 0.9z"/><path class="q20" d="M607.1 85.9l2.1-1.3l-2.5 1.4l-2.1 1z"/><path class="q25" d="M611.6 84.5l2.1-1.2l-2.5 0.2l-2 1.1z"/><path class="q28" d="M616.2 83.5l2.1-1.1l-2.5-0.1l-2.1 1z"/><path class="q29" d="M620.7 82.8l2.1-0.9l-2.5-0.4l-2 0.9z"/><path class="q31" d="M625.3 82.3l2-0.8l-2.4-0.5l-2.1 0.9zM629.8 82.1l2-0.8l-2.4-0.6l-2.1 0.8z"/><path class="q15" d="M600.4 89.1l2.1-1l-2.5 0.6l-2.1 0.8z"/><path class="q19" d="M605 87.1l2.1-1.2l-2.5 1.1l-2.1 1.1z"/><path class="q24" d="M609.6 85.8l2-1.3l-2.4 0.1l-2.1 1.3z"/><path class="q27" d="M614.1 84.7l2.1-1.2l-2.5-0.2l-2.1 1.2z"/><path class="q29" d="M618.7 83.8l2-1l-2.4-0.4l-2.1 1.1z"/><path class="q31" d="M623.2 83.3l2.1-1l-2.5-0.4l-2.1 0.9zM627.8 83l2-0.9l-2.5-0.6l-2 0.8z"/><path class="q32" d="M632.3 82.8l2-0.8l-2.5-0.7l-2 0.8z"/><path class="q14" d="M598.4 90.1l2-1l-2.5 0.4l-2 0.9z"/><path class="q18" d="M602.9 88.3l2.1-1.2l-2.5 1l-2.1 1z"/><path class="q22" d="M607.5 87.2l2.1-1.4l-2.5 0.1l-2.1 1.2z"/><path class="q26" d="M612.1 86.1l2-1.4l-2.5-0.2l-2 1.3z"/><path class="q28" d="M616.6 85.1l2.1-1.3l-2.5-0.3l-2.1 1.2z"/><path class="q30" d="M621.2 84.3l2-1l-2.5-0.5l-2 1z"/><path class="q31" d="M625.7 83.9l2.1-0.9l-2.5-0.7l-2.1 1z"/><path class="q32" d="M630.2 83.6l2.1-0.8l-2.5-0.7l-2 0.9zM634.7 83.5l2.1-0.8l-2.5-0.7l-2 0.8z"/><path class="q14" d="M596.3 91.1l2.1-1l-2.5 0.3l-2.1 0.9z"/><path class="q18" d="M600.9 89.5l2-1.2l-2.5 0.8l-2 1z"/><path class="q21" d="M605.4 88.5l2.1-1.3l-2.5-0.1l-2.1 1.2z"/><path class="q24" d="M610 87.5l2.1-1.4l-2.5-0.3l-2.1 1.4z"/><path class="q27" d="M614.6 86.5l2-1.4l-2.5-0.4l-2 1.4z"/><path class="q29" d="M619.1 85.6l2.1-1.3l-2.5-0.5l-2.1 1.3z"/><path class="q31" d="M623.7 85l2-1.1l-2.5-0.6l-2 1z"/><path class="q32" d="M628.2 84.6l2-1l-2.4-0.6l-2.1 0.9zM632.7 84.4l2-0.9l-2.4-0.7l-2.1 0.8z"/><path class="q13" d="M594.2 92.2l2.1-1.1l-2.5 0.2l-2.1 1z"/><path class="q33" d="M637.2 84.2l2-0.8l-2.4-0.7l-2.1 0.8z"/><path class="q17" d="M598.8 90.7l2.1-1.2l-2.5 0.6l-2.1 1z"/><path class="q20" d="M603.4 89.7l2-1.2l-2.5-0.2l-2 1.2z"/><path class="q23" d="M607.9 88.9l2.1-1.4l-2.5-0.3l-2.1 1.3z"/><path class="q25" d="M612.5 88l2.1-1.5l-2.5-0.4l-2.1 1.4z"/><path class="q28" d="M617.1 87l2-1.4l-2.5-0.5l-2 1.4z"/><path class="q30" d="M621.6 86.2l2.1-1.2l-2.5-0.7l-2.1 1.3z"/><path class="q31" d="M626.2 85.7l2-1.1l-2.5-0.7l-2 1.1z"/><path class="q32" d="M630.7 85.3l2-0.9l-2.5-0.8l-2 1z"/><path class="q13" d="M592.1 93.3l2.1-1.1l-2.5 0.1l-2.1 1z"/><path class="q32" d="M635.2 85.1l2-0.9l-2.5-0.7l-2 0.9z"/><path class="q16" d="M596.7 91.9l2.1-1.2l-2.5 0.4l-2.1 1.1z"/><path class="q33" d="M639.7 84.9l2-0.8l-2.5-0.7l-2 0.8z"/><path class="q19" d="M601.3 91l2.1-1.3l-2.5-0.2l-2.1 1.2z"/><path class="q22" d="M605.9 90.2l2-1.3l-2.5-0.4l-2 1.2z"/><path class="q24" d="M610.4 89.4l2.1-1.4l-2.5-0.5l-2.1 1.4z"/><path class="q26" d="M615 88.5l2.1-1.5l-2.5-0.5l-2.1 1.5z"/><path class="q29" d="M619.6 87.6l2-1.4l-2.5-0.6l-2 1.4z"/><path class="q30" d="M624.1 86.9l2.1-1.2l-2.5-0.7l-2.1 1.2z"/><path class="q31" d="M628.6 86.4l2.1-1.1l-2.5-0.7l-2 1.1z"/><path class="q12" d="M590 94.4l2.1-1.1l-2.5 0l-2.1 1z"/><path class="q32" d="M633.2 86l2-0.9l-2.5-0.7l-2 0.9z"/><path class="q15" d="M594.6 93.1l2.1-1.2l-2.5 0.3l-2.1 1.1z"/><path class="q33" d="M637.7 85.8l2-0.9l-2.5-0.7l-2 0.9z"/><path class="q18" d="M599.2 92.3l2.1-1.3l-2.5-0.3l-2.1 1.2z"/><path class="q33" d="M642.2 85.7l2-0.9l-2.5-0.7l-2 0.8z"/><path class="q20" d="M603.8 91.6l2.1-1.4l-2.5-0.5l-2.1 1.3z"/><path class="q23" d="M608.4 90.8l2-1.4l-2.5-0.5l-2 1.3z"/><path class="q25" d="M613 89.9l2-1.4l-2.5-0.5l-2.1 1.4z"/><path class="q27" d="M617.5 89.1l2.1-1.5l-2.5-0.6l-2.1 1.5z"/><path class="q29" d="M622.1 88.3l2-1.4l-2.5-0.7l-2 1.4z"/><path class="q31" d="M626.6 87.6l2-1.2l-2.4-0.7l-2.1 1.2z"/><path class="q11" d="M588 95.6l2-1.2l-2.5-0.1l-2.1 1.1z"/><path class="q32" d="M631.1 87.1l2.1-1.1l-2.5-0.7l-2.1 1.1z"/><path class="q14" d="M592.6 94.3l2-1.2l-2.5 0.2l-2.1 1.1z"/><path class="q32" d="M635.6 86.8l2.1-1l-2.5-0.7l-2 0.9z"/><path class="q17" d="M597.2 93.6l2-1.3l-2.5-0.4l-2.1 1.2z"/><path class="q33" d="M640.1 86.6l2.1-0.9l-2.5-0.8l-2 0.9z"/><path class="q19" d="M601.7 93l2.1-1.4l-2.5-0.6l-2.1 1.3z"/><path class="q33" d="M644.6 86.5l2-0.9l-2.4-0.8l-2 0.9z"/><path class="q21" d="M606.3 92.3l2.1-1.5l-2.5-0.6l-2.1 1.4z"/><path class="q23" d="M610.9 91.4l2.1-1.5l-2.6-0.5l-2 1.4z"/><path class="q26" d="M615.5 90.6l2-1.5l-2.5-0.6l-2 1.4z"/><path class="q28" d="M620 89.8l2.1-1.5l-2.5-0.7l-2.1 1.5z"/><path class="q30" d="M624.6 89l2-1.4l-2.5-0.7l-2 1.4z"/><path class="q10" d="M585.9 96.7l2.1-1.1l-2.6-0.2l-2 1.1z"/><path class="q31" d="M629.1 88.4l2-1.3l-2.5-0.7l-2 1.2z"/><path class="q13" d="M590.5 95.5l2.1-1.2l-2.6 0.1l-2 1.2z"/><path class="q32" d="M633.6 87.9l2-1.1l-2.4-0.8l-2.1 1.1z"/><path class="q16" d="M595.1 94.9l2.1-1.3l-2.6-0.5l-2 1.2z"/><path class="q33" d="M638.1 87.6l2-1l-2.4-0.8l-2.1 1z"/><path class="q18" d="M599.7 94.4l2-1.4l-2.5-0.7l-2 1.3z"/><path class="q33" d="M642.6 87.4l2-0.9l-2.4-0.8l-2.1 0.9z"/><path class="q20" d="M604.3 93.7l2-1.4l-2.5-0.7l-2.1 1.4z"/><path class="q33" d="M647.1 87.3l2-0.9l-2.5-0.8l-2 0.9z"/><path class="q22" d="M608.8 92.9l2.1-1.5l-2.5-0.6l-2.1 1.5z"/><path class="q24" d="M613.4 92l2.1-1.4l-2.5-0.7l-2.1 1.5z"/><path class="q26" d="M618 91.2l2-1.4l-2.5-0.7l-2 1.5z"/><path class="q28" d="M622.5 90.4l2.1-1.4l-2.5-0.7l-2.1 1.5z"/><path class="q9" d="M583.8 97.9l2.1-1.2l-2.5-0.2l-2.1 1.2z"/><path class="q30" d="M627.1 89.7l2-1.3l-2.5-0.8l-2 1.4z"/><path class="q12" d="M588.4 96.7l2.1-1.2l-2.5 0.1l-2.1 1.1z"/><path class="q31" d="M631.6 89.1l2-1.2l-2.5-0.8l-2 1.3z"/><path class="q15" d="M593 96.1l2.1-1.2l-2.5-0.6l-2.1 1.2z"/><path class="q32" d="M636.1 88.7l2-1.1l-2.5-0.8l-2 1.1z"/><path class="q17" d="M597.6 95.7l2.1-1.3l-2.5-0.8l-2.1 1.3z"/><path class="q33" d="M640.6 88.4l2-1l-2.5-0.8l-2 1z"/><path class="q18" d="M602.2 95.1l2.1-1.4l-2.6-0.7l-2 1.4z"/><path class="q33" d="M645.1 88.2l2-0.9l-2.5-0.8l-2 0.9z"/><path class="q21" d="M606.8 94.4l2-1.5l-2.5-0.6l-2 1.4z"/><path class="q33" d="M649.6 88.1l2-1l-2.5-0.7l-2 0.9z"/><path class="q23" d="M611.4 93.5l2-1.5l-2.5-0.6l-2.1 1.5z"/><path class="q25" d="M615.9 92.6l2.1-1.4l-2.5-0.6l-2.1 1.4z"/><path class="q27" d="M620.5 91.8l2-1.4l-2.5-0.6l-2 1.4z"/><path class="q9" d="M581.7 99.1l2.1-1.2l-2.5-0.2l-2.1 1.1z"/><path class="q29" d="M625 91.1l2.1-1.4l-2.5-0.7l-2.1 1.4z"/><path class="q11" d="M586.4 98l2-1.3l-2.5 0l-2.1 1.2z"/><path class="q30" d="M629.6 90.5l2-1.4l-2.5-0.7l-2 1.3z"/><path class="q14" d="M591 97.4l2-1.3l-2.5-0.6l-2.1 1.2z"/><path class="q31" d="M634.1 89.9l2-1.2l-2.5-0.8l-2 1.2z"/><path class="q16" d="M595.6 97l2-1.3l-2.5-0.8l-2.1 1.2z"/><path class="q32" d="M638.6 89.5l2-1.1l-2.5-0.8l-2 1.1z"/><path class="q17" d="M600.2 96.5l2-1.4l-2.5-0.7l-2.1 1.3z"/><path class="q33" d="M643.1 89.2l2-1l-2.5-0.8l-2 1z"/><path class="q19" d="M604.7 95.8l2.1-1.4l-2.5-0.7l-2.1 1.4z"/><path class="q33" d="M647.6 89.1l2-1l-2.5-0.8l-2 0.9z"/><path class="q21" d="M609.3 95l2.1-1.5l-2.6-0.6l-2 1.5z"/><path class="q34" d="M652 88.8l2-1l-2.4-0.7l-2 1z"/><path class="q23" d="M613.9 94.1l2-1.5l-2.5-0.6l-2 1.5z"/><path class="q26" d="M618.4 93.3l2.1-1.5l-2.5-0.6l-2.1 1.4z"/><path class="q8" d="M579.7 100.3l2-1.2l-2.5-0.3l-2.1 1.2z"/><path class="q27" d="M623 92.5l2-1.4l-2.5-0.7l-2 1.4z"/><path class="q10" d="M584.3 99.2l2.1-1.2l-2.6-0.1l-2.1 1.2z"/><path class="q29" d="M627.5 91.9l2.1-1.4l-2.5-0.8l-2.1 1.4z"/><path class="q13" d="M588.9 98.6l2.1-1.2l-2.6-0.7l-2 1.3z"/><path class="q30" d="M632.1 91.3l2-1.4l-2.5-0.8l-2 1.4z"/><path class="q15" d="M593.5 98.2l2.1-1.2l-2.6-0.9l-2 1.3z"/><path class="q32" d="M636.6 90.8l2-1.3l-2.5-0.8l-2 1.2z"/><path class="q16" d="M598.1 97.8l2.1-1.3l-2.6-0.8l-2 1.3z"/><path class="q32" d="M641.1 90.4l2-1.2l-2.5-0.8l-2 1.1z"/><path class="q18" d="M602.7 97.2l2-1.4l-2.5-0.7l-2 1.4z"/><path class="q33" d="M645.6 90.1l2-1l-2.5-0.9l-2 1z"/><path class="q20" d="M607.3 96.5l2-1.5l-2.5-0.6l-2.1 1.4z"/><path class="q33" d="M650 89.9l2-1.1l-2.4-0.7l-2 1z"/><path class="q22" d="M611.8 95.6l2.1-1.5l-2.5-0.6l-2.1 1.5z"/><path class="q34" d="M654.5 89.5l2-1.1l-2.5-0.6l-2 1z"/><path class="q24" d="M616.4 94.7l2-1.4l-2.5-0.7l-2 1.5z"/><path class="q7" d="M577.6 101.6l2.1-1.3l-2.6-0.3l-2.1 1.1z"/><path class="q26" d="M621 93.9l2-1.4l-2.5-0.7l-2.1 1.5z"/><path class="q9" d="M582.2 100.5l2.1-1.3l-2.6-0.1l-2 1.2z"/><path class="q28" d="M625.5 93.3l2-1.4l-2.5-0.8l-2 1.4z"/><path class="q12" d="M586.8 99.9l2.1-1.3l-2.5-0.6l-2.1 1.2z"/><path class="q29" d="M630 92.7l2.1-1.4l-2.5-0.8l-2.1 1.4z"/><path class="q14" d="M591.4 99.5l2.1-1.3l-2.5-0.8l-2.1 1.2z"/><path class="q31" d="M634.6 92.1l2-1.3l-2.5-0.9l-2 1.4z"/><path class="q15" d="M596 99l2.1-1.2l-2.5-0.8l-2.1 1.2z"/><path class="q32" d="M639.1 91.6l2-1.2l-2.5-0.9l-2 1.3z"/><path class="q17" d="M600.6 98.5l2.1-1.3l-2.5-0.7l-2.1 1.3z"/><path class="q32" d="M643.6 91.3l2-1.2l-2.5-0.9l-2 1.2z"/><path class="q19" d="M605.2 97.8l2.1-1.3l-2.6-0.7l-2 1.4z"/><path class="q33" d="M648.1 91l1.9-1.1l-2.4-0.8l-2 1z"/><path class="q21" d="M609.8 97.1l2-1.5l-2.5-0.6l-2 1.5z"/><path class="q33" d="M652.5 90.7l2-1.2l-2.5-0.7l-2 1.1z"/><path class="q23" d="M614.4 96.2l2-1.5l-2.5-0.6l-2.1 1.5z"/><path class="q6" d="M575.5 102.9l2.1-1.3l-2.6-0.5l-2.1 1.2z"/><path class="q34" d="M657 90.1l2-1.2l-2.5-0.5l-2 1.1z"/><path class="q25" d="M618.9 95.4l2.1-1.5l-2.6-0.6l-2 1.4z"/><path class="q8" d="M580.1 101.9l2.1-1.4l-2.5-0.2l-2.1 1.3z"/><path class="q27" d="M623.5 94.7l2-1.4l-2.5-0.8l-2 1.4z"/><path class="q11" d="M584.8 101.2l2-1.3l-2.5-0.7l-2.1 1.3z"/><path class="q28" d="M628 94.1l2-1.4l-2.5-0.8l-2 1.4z"/><path class="q13" d="M589.4 100.7l2-1.2l-2.5-0.9l-2.1 1.3z"/><path class="q29" d="M632.5 93.5l2.1-1.4l-2.5-0.8l-2.1 1.4z"/><path class="q14" d="M594 100.3l2-1.3l-2.5-0.8l-2.1 1.3z"/><path class="q31" d="M637.1 93l2-1.4l-2.5-0.8l-2 1.3z"/><path class="q16" d="M598.6 99.8l2-1.3l-2.5-0.7l-2.1 1.2z"/><path class="q32" d="M641.6 92.6l2-1.3l-2.5-0.9l-2 1.2z"/><path class="q17" d="M603.2 99.2l2-1.4l-2.5-0.6l-2.1 1.3z"/><path class="q32" d="M646.1 92.2l2-1.2l-2.5-0.9l-2 1.2z"/><path class="q19" d="M607.8 98.5l2-1.4l-2.5-0.6l-2.1 1.3z"/><path class="q33" d="M650.5 91.9l2-1.2l-2.5-0.8l-1.9 1.1z"/><path class="q21" d="M612.3 97.7l2.1-1.5l-2.6-0.6l-2 1.5z"/><path class="q5" d="M573.4 104.1l2.1-1.2l-2.6-0.6l-2.1 1.1z"/><path class="q34" d="M655 91.4l2-1.3l-2.5-0.6l-2 1.2z"/><path class="q23" d="M616.9 96.9l2-1.5l-2.5-0.7l-2 1.5z"/><path class="q7" d="M578.1 103.3l2-1.4l-2.5-0.3l-2.1 1.3z"/><path class="q35" d="M659.5 90.6l2-1.3l-2.5-0.4l-2 1.2z"/><path class="q25" d="M621.4 96.1l2.1-1.4l-2.5-0.8l-2.1 1.5z"/><path class="q10" d="M582.7 102.6l2.1-1.4l-2.6-0.7l-2.1 1.4z"/><path class="q27" d="M626 95.5l2-1.4l-2.5-0.8l-2 1.4z"/><path class="q12" d="M587.3 102l2.1-1.3l-2.6-0.8l-2 1.3z"/><path class="q28" d="M630.5 94.9l2-1.4l-2.5-0.8l-2 1.4z"/><path class="q13" d="M591.9 101.6l2.1-1.3l-2.6-0.8l-2 1.2z"/><path class="q30" d="M635 94.4l2.1-1.4l-2.5-0.9l-2.1 1.4z"/><path class="q15" d="M596.5 101l2.1-1.2l-2.6-0.8l-2 1.3z"/><path class="q31" d="M639.6 93.9l2-1.3l-2.5-1l-2 1.4z"/><path class="q16" d="M601.1 100.5l2.1-1.3l-2.6-0.7l-2 1.3z"/><path class="q31" d="M644 93.5l2.1-1.3l-2.5-0.9l-2 1.3z"/><path class="q18" d="M605.7 99.8l2.1-1.3l-2.6-0.7l-2 1.4z"/><path class="q32" d="M648.5 93.2l2-1.3l-2.4-0.9l-2 1.2z"/><path class="q20" d="M610.3 99.1l2-1.4l-2.5-0.6l-2 1.4z"/><path class="q4" d="M571.3 105.3l2.1-1.2l-2.6-0.7l-2 1.1z"/><path class="q33" d="M653 92.8l2-1.4l-2.5-0.7l-2 1.2z"/><path class="q22" d="M614.9 98.3l2-1.4l-2.5-0.7l-2.1 1.5z"/><path class="q6" d="M576 104.6l2.1-1.3l-2.6-0.4l-2.1 1.2z"/><path class="q34" d="M657.5 92.2l2-1.6l-2.5-0.5l-2 1.3z"/><path class="q24" d="M619.4 97.6l2-1.5l-2.5-0.7l-2 1.5z"/><path class="q9" d="M580.6 104l2.1-1.4l-2.6-0.7l-2 1.4z"/><path class="q36" d="M662 91.2l2-1.5l-2.5-0.4l-2 1.3z"/><path class="q26" d="M624 96.9l2-1.4l-2.5-0.8l-2.1 1.4z"/><path class="q10" d="M585.3 103.4l2-1.4l-2.5-0.8l-2.1 1.4z"/><path class="q27" d="M628.5 96.3l2-1.4l-2.5-0.8l-2 1.4z"/><path class="q12" d="M589.9 102.8l2-1.2l-2.5-0.9l-2.1 1.3z"/><path class="q28" d="M633 95.8l2-1.4l-2.5-0.9l-2 1.4z"/><path class="q14" d="M594.5 102.3l2-1.3l-2.5-0.7l-2.1 1.3z"/><path class="q30" d="M637.5 95.4l2.1-1.5l-2.5-0.9l-2.1 1.4z"/><path class="q15" d="M599.1 101.8l2-1.3l-2.5-0.7l-2.1 1.2z"/><path class="q30" d="M642 94.9l2-1.4l-2.4-0.9l-2 1.3z"/><path class="q17" d="M603.7 101.1l2-1.3l-2.5-0.6l-2.1 1.3z"/><path class="q31" d="M646.5 94.6l2-1.4l-2.4-1l-2.1 1.3z"/><path class="q19" d="M608.3 100.4l2-1.3l-2.5-0.6l-2.1 1.3z"/><path class="q32" d="M651 94.2l2-1.4l-2.5-0.9l-2 1.3z"/><path class="q21" d="M612.8 99.7l2.1-1.4l-2.6-0.6l-2 1.4z"/><path class="q5" d="M573.9 105.9l2.1-1.3l-2.6-0.5l-2.1 1.2z"/><path class="q33" d="M655.5 93.8l2-1.6l-2.5-0.8l-2 1.4z"/><path class="q23" d="M617.4 99l2-1.4l-2.5-0.7l-2 1.4z"/><path class="q7" d="M578.6 105.4l2-1.4l-2.5-0.7l-2.1 1.3z"/><path class="q34" d="M660 92.9l2-1.7l-2.5-0.6l-2 1.6z"/><path class="q24" d="M621.9 98.4l2.1-1.5l-2.6-0.8l-2 1.5z"/><path class="q9" d="M583.2 104.8l2.1-1.4l-2.6-0.8l-2.1 1.4z"/><path class="q36" d="M664.5 91.8l2-1.6l-2.5-0.5l-2 1.5z"/><path class="q26" d="M626.5 97.8l2-1.5l-2.5-0.8l-2 1.4z"/><path class="q11" d="M587.8 104.2l2.1-1.4l-2.6-0.8l-2 1.4z"/><path class="q27" d="M631 97.2l2-1.4l-2.5-0.9l-2 1.4z"/><path class="q13" d="M592.5 103.6l2-1.3l-2.6-0.7l-2 1.2z"/><path class="q28" d="M635.5 96.8l2-1.4l-2.5-1l-2 1.4z"/><path class="q14" d="M597.1 103l2-1.2l-2.6-0.8l-2 1.3z"/><path class="q29" d="M640 96.4l2-1.5l-2.4-1l-2.1 1.5z"/><path class="q16" d="M601.6 102.4l2.1-1.3l-2.6-0.6l-2 1.3z"/><path class="q30" d="M644.5 96l2-1.4l-2.5-1.1l-2 1.4z"/><path class="q18" d="M606.2 101.8l2.1-1.4l-2.6-0.6l-2 1.3z"/><path class="q31" d="M649 95.7l2-1.5l-2.5-1l-2 1.4z"/><path class="q20" d="M610.8 101.1l2-1.4l-2.5-0.6l-2 1.3z"/><path class="q32" d="M653.5 95.4l2-1.6l-2.5-1l-2 1.4z"/><path class="q22" d="M615.4 100.4l2-1.4l-2.5-0.7l-2.1 1.4z"/><path class="q6" d="M576.5 106.6l2.1-1.2l-2.6-0.8l-2.1 1.3z"/><path class="q33" d="M657.9 94.8l2.1-1.9l-2.5-0.7l-2 1.6z"/><path class="q23" d="M619.9 99.8l2-1.4l-2.5-0.8l-2 1.4z"/><path class="q8" d="M581.2 106.1l2-1.3l-2.6-0.8l-2 1.4z"/><path class="q35" d="M662.4 93.7l2.1-1.9l-2.5-0.6l-2 1.7z"/><path class="q25" d="M624.5 99.2l2-1.4l-2.5-0.9l-2.1 1.5z"/><path class="q10" d="M585.8 105.5l2-1.3l-2.5-0.8l-2.1 1.4z"/><path class="q37" d="M667 92.4l2-1.7l-2.5-0.5l-2 1.6z"/><path class="q26" d="M629 98.6l2-1.4l-2.5-0.9l-2 1.5z"/><path class="q12" d="M590.4 104.9l2.1-1.3l-2.6-0.8l-2.1 1.4z"/><path class="q27" d="M633.5 98.2l2-1.4l-2.5-1l-2 1.4z"/><path class="q13" d="M595 104.3l2.1-1.3l-2.6-0.7l-2 1.3z"/><path class="q28" d="M638 97.8l2-1.4l-2.5-1l-2 1.4z"/><path class="q15" d="M599.6 103.7l2-1.3l-2.5-0.6l-2 1.2z"/><path class="q29" d="M642.5 97.5l2-1.5l-2.5-1.1l-2 1.5z"/><path class="q17" d="M604.2 103.1l2-1.3l-2.5-0.7l-2.1 1.3z"/><path class="q30" d="M647 97.2l2-1.5l-2.5-1.1l-2 1.4z"/><path class="q19" d="M608.8 102.4l2-1.3l-2.5-0.7l-2.1 1.4z"/><path class="q30" d="M651.5 96.9l2-1.5l-2.5-1.2l-2 1.5z"/><path class="q20" d="M613.3 101.8l2.1-1.4l-2.6-0.7l-2 1.4z"/><path class="q31" d="M655.9 96.5l2-1.7l-2.4-1l-2 1.6z"/><path class="q22" d="M617.9 101.2l2-1.4l-2.5-0.8l-2 1.4z"/><path class="q7" d="M579.1 107.4l2.1-1.3l-2.6-0.7l-2.1 1.2z"/><path class="q33" d="M660.4 95.7l2-2l-2.4-0.8l-2.1 1.9z"/><path class="q24" d="M622.5 100.6l2-1.4l-2.6-0.8l-2 1.4z"/><path class="q9" d="M583.7 106.9l2.1-1.4l-2.6-0.7l-2 1.3z"/><path class="q35" d="M664.9 94.5l2.1-2.1l-2.5-0.6l-2.1 1.9z"/><path class="q25" d="M627 100.1l2-1.5l-2.5-0.8l-2 1.4z"/><path class="q11" d="M588.4 106.2l2-1.3l-2.6-0.7l-2 1.3z"/><path class="q26" d="M631.5 99.6l2-1.4l-2.5-1l-2 1.4z"/><path class="q12" d="M593 105.6l2-1.3l-2.5-0.7l-2.1 1.3z"/><path class="q27" d="M636 99.2l2-1.4l-2.5-1l-2 1.4z"/><path class="q14" d="M597.6 105l2-1.3l-2.5-0.7l-2.1 1.3z"/><path class="q28" d="M640.5 98.9l2-1.4l-2.5-1.1l-2 1.4z"/><path class="q16" d="M602.2 104.4l2-1.3l-2.6-0.7l-2 1.3z"/><path class="q29" d="M645 98.7l2-1.5l-2.5-1.2l-2 1.5z"/><path class="q18" d="M606.8 103.8l2-1.4l-2.6-0.6l-2 1.3z"/><path class="q29" d="M649.5 98.5l2-1.6l-2.5-1.2l-2 1.5z"/><path class="q19" d="M611.3 103.2l2-1.4l-2.5-0.7l-2 1.3z"/><path class="q30" d="M653.9 98.1l2-1.6l-2.4-1.1l-2 1.5z"/><path class="q21" d="M615.9 102.6l2-1.4l-2.5-0.8l-2.1 1.4z"/><path class="q31" d="M658.4 97.6l2-1.9l-2.5-0.9l-2 1.7z"/><path class="q22" d="M620.4 102l2.1-1.4l-2.6-0.8l-2 1.4z"/><path class="q8" d="M581.7 108.1l2-1.2l-2.5-0.8l-2.1 1.3z"/><path class="q33" d="M662.9 96.6l2-2.1l-2.5-0.8l-2 2z"/><path class="q24" d="M625 101.5l2-1.4l-2.5-0.9l-2 1.4z"/><path class="q10" d="M586.3 107.5l2.1-1.3l-2.6-0.7l-2.1 1.4z"/><path class="q25" d="M629.5 101l2-1.4l-2.5-1l-2 1.5z"/><path class="q11" d="M590.9 106.9l2.1-1.3l-2.6-0.7l-2 1.3z"/><path class="q26" d="M634 100.6l2-1.4l-2.5-1l-2 1.4z"/><path class="q13" d="M595.5 106.3l2.1-1.3l-2.6-0.7l-2 1.3z"/><path class="q27" d="M638.5 100.3l2-1.4l-2.5-1.1l-2 1.4z"/><path class="q15" d="M600.1 105.7l2.1-1.3l-2.6-0.7l-2 1.3z"/><path class="q27" d="M643 100.2l2-1.5l-2.5-1.2l-2 1.4z"/><path class="q17" d="M604.7 105.1l2.1-1.3l-2.6-0.7l-2 1.3z"/><path class="q28" d="M647.5 100l2-1.5l-2.5-1.3l-2 1.5z"/><path class="q18" d="M609.3 104.5l2-1.3l-2.5-0.8l-2 1.4z"/><path class="q28" d="M651.9 99.8l2-1.7l-2.4-1.2l-2 1.6z"/><path class="q20" d="M613.9 103.9l2-1.3l-2.6-0.8l-2 1.4z"/><path class="q29" d="M656.4 99.3l2-1.7l-2.5-1.1l-2 1.6z"/><path class="q21" d="M618.4 103.3l2-1.3l-2.5-0.8l-2 1.4z"/><path class="q31" d="M660.9 98.6l2-2l-2.5-0.9l-2 1.9z"/><path class="q23" d="M623 102.8l2-1.3l-2.5-0.9l-2.1 1.4z"/><path class="q9" d="M584.3 108.7l2-1.2l-2.6-0.6l-2 1.2z"/><path class="q24" d="M627.5 102.4l2-1.4l-2.5-0.9l-2 1.4z"/><path class="q11" d="M588.9 108.2l2-1.3l-2.5-0.7l-2.1 1.3z"/><path class="q25" d="M632 102l2-1.4l-2.5-1l-2 1.4z"/><path class="q12" d="M593.5 107.5l2-1.2l-2.5-0.7l-2.1 1.3z"/><path class="q26" d="M636.5 101.7l2-1.4l-2.5-1.1l-2 1.4z"/><path class="q14" d="M598.1 106.9l2-1.2l-2.5-0.7l-2.1 1.3z"/><path class="q26" d="M641 101.6l2-1.4l-2.5-1.3l-2 1.4z"/><path class="q16" d="M602.7 106.3l2-1.2l-2.5-0.7l-2.1 1.3z"/><path class="q27" d="M645.5 101.5l2-1.5l-2.5-1.3l-2 1.5z"/><path class="q17" d="M607.3 105.8l2-1.3l-2.5-0.7l-2.1 1.3z"/><path class="q27" d="M650 101.4l1.9-1.6l-2.4-1.3l-2 1.5z"/><path class="q19" d="M611.9 105.2l2-1.3l-2.6-0.7l-2 1.3z"/><path class="q28" d="M654.4 101l2-1.7l-2.5-1.2l-2 1.7z"/><path class="q20" d="M616.4 104.7l2-1.4l-2.5-0.7l-2 1.3z"/><path class="q29" d="M658.9 100.4l2-1.8l-2.5-1l-2 1.7z"/><path class="q22" d="M621 104.2l2-1.4l-2.6-0.8l-2 1.3z"/><path class="q23" d="M625.5 103.8l2-1.4l-2.5-0.9l-2 1.3z"/><path class="q10" d="M586.9 109.4l2-1.2l-2.6-0.7l-2 1.2z"/><path class="q24" d="M630 103.4l2-1.4l-2.5-1l-2 1.4z"/><path class="q11" d="M591.5 108.8l2-1.3l-2.6-0.6l-2 1.3z"/><path class="q25" d="M634.6 103.2l1.9-1.5l-2.5-1.1l-2 1.4z"/><path class="q13" d="M596.1 108.1l2-1.2l-2.6-0.6l-2 1.2z"/><path class="q25" d="M639 103l2-1.4l-2.5-1.3l-2 1.4z"/><path class="q15" d="M600.7 107.6l2-1.3l-2.6-0.6l-2 1.2z"/><path class="q26" d="M643.5 102.9l2-1.4l-2.5-1.3l-2 1.4z"/><path class="q17" d="M605.3 107l2-1.2l-2.6-0.7l-2 1.2z"/><path class="q26" d="M648 102.9l2-1.5l-2.5-1.4l-2 1.5z"/><path class="q18" d="M609.9 106.5l2-1.3l-2.6-0.7l-2 1.3z"/><path class="q26" d="M652.4 102.7l2-1.7l-2.5-1.2l-1.9 1.6z"/><path class="q20" d="M614.4 106l2-1.3l-2.5-0.8l-2 1.3z"/><path class="q27" d="M656.9 102.2l2-1.8l-2.5-1.1l-2 1.7z"/><path class="q21" d="M619 105.5l2-1.3l-2.6-0.9l-2 1.4z"/><path class="q22" d="M623.5 105.1l2-1.3l-2.5-1l-2 1.4z"/><path class="q23" d="M628.1 104.7l1.9-1.3l-2.5-1l-2 1.4z"/><path class="q11" d="M589.5 109.9l2-1.1l-2.6-0.6l-2 1.2z"/><path class="q24" d="M632.6 104.5l2-1.3l-2.6-1.2l-2 1.4z"/><path class="q13" d="M594.1 109.3l2-1.2l-2.6-0.6l-2 1.3z"/><path class="q24" d="M637.1 104.4l1.9-1.4l-2.5-1.3l-1.9 1.5z"/><path class="q14" d="M598.7 108.8l2-1.2l-2.6-0.7l-2 1.2z"/><path class="q25" d="M641.5 104.3l2-1.4l-2.5-1.3l-2 1.4z"/><path class="q16" d="M603.3 108.2l2-1.2l-2.6-0.7l-2 1.3z"/><path class="q25" d="M646 104.3l2-1.4l-2.5-1.4l-2 1.4z"/><path class="q17" d="M607.9 107.8l2-1.3l-2.6-0.7l-2 1.2z"/><path class="q25" d="M650.5 104.2l1.9-1.5l-2.4-1.3l-2 1.5z"/><path class="q19" d="M612.4 107.2l2-1.2l-2.5-0.8l-2 1.3z"/><path class="q26" d="M654.9 103.9l2-1.7l-2.5-1.2l-2 1.7z"/><path class="q20" d="M617 106.7l2-1.2l-2.6-0.8l-2 1.3z"/><path class="q21" d="M621.5 106.3l2-1.2l-2.5-0.9l-2 1.3z"/><path class="q22" d="M626.1 106l2-1.3l-2.6-0.9l-2 1.3z"/><path class="q23" d="M630.6 105.8l2-1.3l-2.6-1.1l-1.9 1.3z"/><path class="q12" d="M592.1 110.5l2-1.2l-2.6-0.5l-2 1.1z"/><path class="q23" d="M635.1 105.8l2-1.4l-2.5-1.2l-2 1.3z"/><path class="q14" d="M596.7 109.9l2-1.1l-2.6-0.7l-2 1.2z"/><path class="q24" d="M639.6 105.7l1.9-1.4l-2.5-1.3l-1.9 1.4z"/><path class="q15" d="M601.3 109.4l2-1.2l-2.6-0.6l-2 1.2z"/><path class="q24" d="M644 105.7l2-1.4l-2.5-1.4l-2 1.4z"/><path class="q17" d="M605.8 108.9l2.1-1.1l-2.6-0.8l-2 1.2z"/><path class="q24" d="M648.5 105.7l2-1.5l-2.5-1.3l-2 1.4z"/><path class="q18" d="M610.4 108.4l2-1.2l-2.5-0.7l-2 1.3z"/><path class="q24" d="M652.9 105.4l2-1.5l-2.5-1.2l-1.9 1.5z"/><path class="q19" d="M615 108l2-1.3l-2.6-0.7l-2 1.2z"/><path class="q20" d="M619.5 107.5l2-1.2l-2.5-0.8l-2 1.2z"/><path class="q21" d="M624.1 107.2l2-1.2l-2.6-0.9l-2 1.2z"/><path class="q22" d="M628.6 107.1l2-1.3l-2.5-1.1l-2 1.3z"/><path class="q23" d="M633.1 107l2-1.2l-2.5-1.3l-2 1.3z"/><path class="q13" d="M594.6 111l2.1-1.1l-2.6-0.6l-2 1.2z"/><path class="q23" d="M637.6 107.1l2-1.4l-2.5-1.3l-2 1.4z"/><path class="q14" d="M599.3 110.6l2-1.2l-2.6-0.6l-2 1.1z"/><path class="q23" d="M642.1 107.1l1.9-1.4l-2.5-1.4l-1.9 1.4z"/><path class="q16" d="M603.8 110.1l2-1.2l-2.5-0.7l-2 1.2z"/><path class="q23" d="M646.5 107l2-1.3l-2.5-1.4l-2 1.4z"/><path class="q17" d="M608.4 109.6l2-1.2l-2.5-0.6l-2.1 1.1z"/><path class="q23" d="M651 106.9l1.9-1.5l-2.4-1.2l-2 1.5z"/><path class="q19" d="M613 109.2l2-1.2l-2.6-0.8l-2 1.2z"/><path class="q20" d="M617.6 108.7l1.9-1.2l-2.5-0.8l-2 1.3z"/><path class="q21" d="M622.1 108.4l2-1.2l-2.6-0.9l-2 1.2zM626.6 108.3l2-1.2l-2.5-1.1l-2 1.2z"/><path class="q22" d="M631.1 108.3l2-1.3l-2.5-1.2l-2 1.3zM635.6 108.4l2-1.3l-2.5-1.3l-2 1.2z"/><path class="q14" d="M597.2 111.6l2.1-1l-2.6-0.7l-2.1 1.1z"/><path class="q22" d="M640.1 108.4l2-1.3l-2.5-1.4l-2 1.4z"/><path class="q15" d="M601.8 111.2l2-1.1l-2.5-0.7l-2 1.2z"/><path class="q22" d="M644.6 108.4l1.9-1.4l-2.5-1.3l-1.9 1.4z"/><path class="q17" d="M606.4 110.8l2-1.2l-2.6-0.7l-2 1.2z"/><path class="q22" d="M649 108.3l2-1.4l-2.5-1.2l-2 1.3z"/><path class="q18" d="M611 110.3l2-1.1l-2.6-0.8l-2 1.2z"/><path class="q19" d="M615.6 109.9l2-1.2l-2.6-0.7l-2 1.2z"/><path class="q20" d="M620.1 109.6l2-1.2l-2.6-0.9l-1.9 1.2z"/><path class="q21" d="M624.6 109.5l2-1.2l-2.5-1.1l-2 1.2zM629.2 109.5l1.9-1.2l-2.5-1.2l-2 1.2zM633.7 109.6l1.9-1.2l-2.5-1.4l-2 1.3zM638.1 109.7l2-1.3l-2.5-1.3l-2 1.3z"/><path class="q15" d="M599.8 112.3l2-1.1l-2.5-0.6l-2.1 1z"/><path class="q21" d="M642.6 109.7l2-1.3l-2.5-1.3l-2 1.3z"/><path class="q16" d="M604.4 111.9l2-1.1l-2.6-0.7l-2 1.1z"/><path class="q22" d="M647.1 109.6l1.9-1.3l-2.5-1.3l-1.9 1.4z"/><path class="q17" d="M609 111.5l2-1.2l-2.6-0.7l-2 1.2z"/><path class="q19" d="M613.6 111.1l2-1.2l-2.6-0.7l-2 1.1z"/><path class="q20" d="M618.1 110.8l2-1.2l-2.5-0.9l-2 1.2zM622.7 110.6l1.9-1.1l-2.5-1.1l-2 1.2z"/><path class="q21" d="M627.2 110.6l2-1.1l-2.6-1.2l-2 1.2zM631.7 110.8l2-1.2l-2.6-1.3l-1.9 1.2zM636.2 110.9l1.9-1.2l-2.5-1.3l-1.9 1.2zM640.7 111l1.9-1.3l-2.5-1.3l-2 1.3z"/><path class="q16" d="M602.4 112.9l2-1l-2.6-0.7l-2 1.1z"/><path class="q21" d="M645.1 110.9l2-1.3l-2.5-1.2l-2 1.3z"/><path class="q17" d="M607 112.6l2-1.1l-2.6-0.7l-2 1.1z"/><path class="q18" d="M611.6 112.2l2-1.1l-2.6-0.8l-2 1.2z"/><path class="q19" d="M616.2 111.9l1.9-1.1l-2.5-0.9l-2 1.2z"/><path class="q20" d="M620.7 111.8l2-1.2l-2.6-1l-2 1.2zM625.2 111.8l2-1.2l-2.6-1.1l-1.9 1.1zM629.7 111.9l2-1.1l-2.5-1.3l-2 1.1zM634.2 112.1l2-1.2l-2.5-1.3l-2 1.2zM638.7 112.2l2-1.2l-2.6-1.3l-1.9 1.2zM643.2 112.2l1.9-1.3l-2.5-1.2l-1.9 1.3z"/><path class="q17" d="M605 113.6l2-1l-2.6-0.7l-2 1z"/><path class="q18" d="M609.6 113.3l2-1.1l-2.6-0.7l-2 1.1z"/><path class="q19" d="M614.2 113.1l2-1.2l-2.6-0.8l-2 1.1zM618.7 112.9l2-1.1l-2.6-1l-1.9 1.1z"/><path class="q20" d="M623.3 113l1.9-1.2l-2.5-1.2l-2 1.2zM627.8 113.1l1.9-1.2l-2.5-1.3l-2 1.2zM632.3 113.3l1.9-1.2l-2.5-1.3l-2 1.1zM636.8 113.4l1.9-1.2l-2.5-1.3l-2 1.2zM641.2 113.4l2-1.2l-2.5-1.2l-2 1.2z"/><path class="q17" d="M607.6 114.4l2-1.1l-2.6-0.7l-2 1z"/><path class="q18" d="M612.2 114.2l2-1.1l-2.6-0.9l-2 1.1z"/><path class="q19" d="M616.8 114.1l1.9-1.2l-2.5-1l-2 1.2zM621.3 114.1l2-1.1l-2.6-1.2l-2 1.1zM625.8 114.2l2-1.1l-2.6-1.3l-1.9 1.2zM630.3 114.4l2-1.1l-2.6-1.4l-1.9 1.2zM634.8 114.6l2-1.2l-2.6-1.3l-1.9 1.2zM639.3 114.6l1.9-1.2l-2.5-1.2l-1.9 1.2z"/><path class="q18" d="M610.2 115.2l2-1l-2.6-0.9l-2 1.1z"/><path class="q19" d="M614.8 115.2l2-1.1l-2.6-1l-2 1.1zM619.3 115.3l2-1.2l-2.6-1.2l-1.9 1.2zM623.9 115.4l1.9-1.2l-2.5-1.2l-2 1.1zM628.4 115.6l1.9-1.2l-2.5-1.3l-2 1.1zM632.9 115.7l1.9-1.1l-2.5-1.3l-2 1.1zM637.4 115.8l1.9-1.2l-2.5-1.2l-2 1.2z"/><path class="q18" d="M612.8 116.3l2-1.1l-2.6-1l-2 1z"/><path class="q19" d="M617.4 116.4l1.9-1.1l-2.5-1.2l-2 1.1zM621.9 116.6l2-1.2l-2.6-1.3l-2 1.2zM626.4 116.8l2-1.2l-2.6-1.4l-1.9 1.2z"/><path class="q18" d="M630.9 116.9l2-1.2l-2.6-1.3l-1.9 1.2zM635.4 116.9l2-1.1l-2.6-1.2l-1.9 1.1zM615.4 117.5l2-1.1l-2.6-1.2l-2 1.1zM620 117.7l1.9-1.1l-2.6-1.3l-1.9 1.1zM624.5 117.9l1.9-1.1l-2.5-1.4l-2 1.2zM629 118.1l1.9-1.2l-2.5-1.3l-2 1.2zM633.5 118.1l1.9-1.2l-2.5-1.2l-2 1.2zM618 118.8l2-1.1l-2.6-1.3l-2 1.1zM622.5 119.1l2-1.2l-2.6-1.3l-1.9 1.1zM627 119.3l2-1.2l-2.6-1.3l-1.9 1.1zM631.6 119.3l1.9-1.2l-2.6-1.2l-1.9 1.2z"/><path class="q17" d="M620.6 120.2l1.9-1.1l-2.5-1.4l-2 1.1zM625.1 120.5l1.9-1.2l-2.5-1.4l-2 1.2zM629.6 120.5l2-1.2l-2.6-1.2l-2 1.2zM623.2 121.6l1.9-1.1l-2.6-1.4l-1.9 1.1zM627.7 121.7l1.9-1.2l-2.6-1.2l-1.9 1.2z"/><path class="q16" d="M625.8 122.9l1.9-1.2l-2.6-1.2l-1.9 1.1z"/></g>
<path d="M561.3 109V35.4M561.3 109h-3.2M561.3 102.9h-2M561.3 96.7h-3.2M561.3 90.6h-2M561.3 84.5h-3.2M561.3 78.3h-2M561.3 72.2h-3.2M561.3 66.1h-2M561.3 59.9h-3.2M561.3 53.8h-2M561.3 47.7h-3.2M561.3 41.5h-2M561.3 35.4h-3.2M561.3 35.4H563.1M561.3 109H563.1M563.1 108.2l-0.8 3M570.2 111.5l-0.5 1.8M577.4 114.8l-0.8 3M584.5 118.1l-0.5 1.8M591.7 121.4l-0.8 3M598.8 124.7l-0.5 1.8M606 128l-0.8 3M613.1 131.3l-0.5 1.8M620.3 134.6l-0.8 3M620.3 134.6l0.8 3M626.8 131.1l0.5 1.8M630.5 129l0.5 1.8M633.2 127.6l0.5 1.8M635.3 126.5l0.5 1.8M637 125.5l0.5 1.8M638.4 124.8l0.5 1.8M639.7 124.1l0.5 1.8M640.8 123.5l0.5 1.8M641.8 123l0.8 3M648.2 119.5l0.5 1.8M652 117.4l0.5 1.8M654.7 116l0.5 1.8M656.8 114.8l0.5 1.8M658.4 113.9l0.5 1.8M659.9 113.1l0.5 1.8M661.1 112.5l0.5 1.8M662.2 111.9l0.5 1.8M663.2 111.3l0.8 3" stroke="#3a3a3a" stroke-width="0.8" fill="none"/>
<text x="555.7" y="112.8" font-size="10.6" text-anchor="end" fill="#222">0</text>
<text x="555.7" y="100.5" font-size="10.6" text-anchor="end" fill="#222">25</text>
<text x="555.7" y="88.3" font-size="10.6" text-anchor="end" fill="#222">50</text>
<text x="555.7" y="76" font-size="10.6" text-anchor="end" fill="#222">75</text>
<text x="555.7" y="63.7" font-size="10.6" text-anchor="end" fill="#222">100</text>
<text x="555.7" y="51.5" font-size="10.6" text-anchor="end" fill="#222">125</text>
<text x="555.7" y="39.2" font-size="10.6" text-anchor="end" fill="#222">150</text>
<text transform="translate(557.4 122.6) rotate(-22)" font-size="10.5" text-anchor="middle" fill="#222">700</text>
<text transform="translate(570.9 129.3) rotate(-22)" font-size="10.5" text-anchor="middle" fill="#222">600</text>
<text transform="translate(583.1 136.2) rotate(-22)" font-size="10.5" text-anchor="middle" fill="#222">500</text>
<text transform="translate(596.9 141.9) rotate(-22)" font-size="10.5" text-anchor="middle" fill="#222">400</text>
<text transform="translate(611.8 148.8) rotate(-22)" font-size="10.5" text-anchor="middle" fill="#222">300</text>
<text x="625.8" y="148.8" font-size="10.5" text-anchor="middle" fill="#222">1</text>
<text x="649.8" y="136" font-size="10.5" text-anchor="middle" fill="#222">10</text>
<text x="671.2" y="125.4" font-size="10.5" text-anchor="middle" fill="#222">100</text>
<text x="547.6" y="25.9" font-size="16" font-weight="bold" fill="#111">f</text>
<path d="M478.3 268.6L525.5 243L472.6 223L421.1 242.2Z" fill="#ececec"/>
<path d="M421.1 242.2L472.6 223L472.7 159.5L421.1 170Z" fill="#eaf9f7"/>
<path d="M472.6 223L525.5 243L531.3 170.8L472.7 159.5Z" fill="#fbfcdf"/>
<path d="M421.1 230.2L472.6 212.4M472.6 212.4L526.5 231M421.1 218.1L472.6 201.8M472.6 201.8L527.4 218.9M421.1 206.1L472.7 191.2M472.7 191.2L528.4 206.9M421.1 194.1L472.7 180.7M472.7 180.7L529.4 194.9M421.1 182L472.7 170.1M472.7 170.1L530.3 182.8M439.1 235.5L439.2 166.3M494.8 259.6L439.1 235.5M457.1 228.8L457.2 162.6M511.3 250.7L457.1 228.8M512.3 238L516.6 168M464 262L512.3 238M499.1 233L502 165.2M449.7 255.4L499.1 233M485.8 228L487.3 162.3M435.4 248.8L485.8 228" stroke="#8c8c8c" stroke-width="0.7" fill="none"/>
<path d="M421.1 170L472.7 159.5L531.3 170.8L525.5 243" fill="none" stroke="#555" stroke-width="0.8"/>
<path d="M472.6 223L472.7 159.5" fill="none" stroke="#666" stroke-width="0.8"/>
<path d="M421.1 170L421.1 242.2L478.3 268.6L525.5 243" fill="none" stroke="#666" stroke-width="0.8"/>
<g class="sf"><path class="q47" d="M473.1 204l2-0.1l-2.5 0l-2 0.2z"/><path class="q48" d="M471.2 203.8l1.9 0.2l-2.5 0.1l-2-0.1z"/><path class="q49" d="M475.6 203.5l2 0.1l-2.5 0.3l-2 0.1z"/><path class="q50" d="M469.2 203.7l2 0.1l-2.6 0.2l-1.9 0z"/><path class="q51" d="M473.7 203.1l1.9 0.4l-2.5 0.5l-1.9-0.2zM478.2 203.3l1.9 0.3l-2.5 0l-2-0.1zM467.2 204l2-0.3l-2.5 0.3l-2 0.4z"/><path class="q53" d="M471.7 202.8l2 0.3l-2.5 0.7l-2-0.1z"/><path class="q54" d="M476.2 202.6l2 0.7l-2.6 0.2l-1.9-0.4z"/><path class="q53" d="M480.7 203.1l1.9 0.6l-2.5-0.1l-1.9-0.3z"/><path class="q51" d="M465.2 204.9l2-0.9l-2.5 0.4l-2 0.8z"/><path class="q54" d="M469.7 202.9l2-0.1l-2.5 0.9l-2 0.3z"/><path class="q56" d="M474.2 201.8l2 0.8l-2.5 0.5l-2-0.3z"/><path class="q57" d="M478.7 201.8l2 1.3l-2.5 0.2l-2-0.7z"/><path class="q55" d="M483.2 202.8l1.9 1l-2.5-0.1l-1.9-0.6z"/><path class="q50" d="M463.2 206l2-1.1l-2.5 0.3l-2 1.2z"/><path class="q55" d="M467.7 203.7l2-0.8l-2.5 1.1l-2 0.9z"/><path class="q59" d="M472.3 201.7l1.9 0.1l-2.5 1l-2 0.1z"/><path class="q60" d="M476.8 200.6l1.9 1.2l-2.5 0.8l-2-0.8z"/><path class="q59" d="M481.3 201l1.9 1.8l-2.5 0.3l-2-1.3z"/><path class="q57" d="M485.7 202.6l1.9 1.4l-2.5-0.2l-1.9-1z"/><path class="q49" d="M461.2 207.4l2-1.4l-2.5 0.4l-2 1.4z"/><path class="q54" d="M465.8 204.8l1.9-1.1l-2.5 1.2l-2 1.1z"/><path class="q59" d="M470.3 202.3l2-0.6l-2.6 1.2l-2 0.8z"/><path class="q63" d="M474.8 200.1l2 0.5l-2.6 1.2l-1.9-0.1z"/><path class="q64" d="M479.4 199.3l1.9 1.7l-2.6 0.8l-1.9-1.2z"/><path class="q62" d="M483.8 200.2l1.9 2.4l-2.5 0.2l-1.9-1.8z"/><path class="q47" d="M459.2 208.6l2-1.2l-2.5 0.4l-2 1.4z"/><path class="q59" d="M488.3 202.3l1.9 2l-2.6-0.3l-1.9-1.4z"/><path class="q53" d="M463.8 206l2-1.2l-2.6 1.2l-2 1.4z"/><path class="q59" d="M468.3 203.3l2-1l-2.6 1.4l-1.9 1.1z"/><path class="q64" d="M472.9 200.6l1.9-0.5l-2.5 1.6l-2 0.6z"/><path class="q68" d="M477.4 198.4l2 0.9l-2.6 1.3l-2-0.5zM481.9 197.9l1.9 2.3l-2.5 0.8l-1.9-1.7z"/><path class="q46" d="M457.2 209.7l2-1.1l-2.5 0.6l-2 1.4z"/><path class="q63" d="M487.3 200.8l1 1.5l-2.6 0.3l-0.9-1.1z"/><path class="q67" d="M486.4 199.2l0.9 1.6l-2.5 0.7l-1-1.3z"/><path class="q51" d="M461.8 207l2-1l-2.6 1.4l-2 1.2z"/><path class="q60" d="M490.8 202.2l1.9 2.4l-2.5-0.3l-1.9-2z"/><path class="q58" d="M466.3 204.4l2-1.1l-2.5 1.5l-2 1.2z"/><path class="q64" d="M470.9 201.4l2-0.8l-2.6 1.7l-2 1z"/><path class="q70" d="M475.5 198.7l1.9-0.3l-2.6 1.7l-1.9 0.5z"/><path class="q73" d="M480 196.6l1.9 1.3l-2.5 1.4l-2-0.9z"/><path class="q44" d="M455.3 210.8l1.9-1.1l-2.5 0.9l-2 1.4z"/><path class="q71" d="M485.5 197.6l0.9 1.6l-2.6 1l-0.9-1.2z"/><path class="q75" d="M484.6 196.1l0.9 1.5l-2.6 1.4l-1-1.1z"/><path class="q51" d="M459.8 207.7l2-0.7l-2.6 1.6l-2 1.1z"/><path class="q66" d="M489.9 200.4l0.9 1.8l-2.5 0.1l-1-1.5z"/><path class="q71" d="M489 198.4l0.9 2l-2.6 0.4l-0.9-1.6z"/><path class="q57" d="M464.3 205.3l2-0.9l-2.5 1.6l-2 1z"/><path class="q61" d="M493.4 202.7l1.8 2.6l-2.5-0.7l-1.9-2.4z"/><path class="q63" d="M468.9 202.3l2-0.9l-2.6 1.9l-2 1.1z"/><path class="q70" d="M473.5 199.4l2-0.7l-2.6 1.9l-2 0.8z"/><path class="q76" d="M478.1 196.9l1.9-0.3l-2.6 1.8l-1.9 0.3z"/><path class="q43" d="M453.3 211.9l2-1.1l-2.6 1.2l-2 1.5z"/><path class="q79" d="M482.7 194.4l1.9 1.7l-2.7 1.8l-1.9-1.3z"/><path class="q50" d="M457.8 208.5l2-0.8l-2.6 2l-1.9 1.1z"/><path class="q75" d="M488.1 196.4l0.9 2l-2.6 0.8l-0.9-1.6z"/><path class="q80" d="M487.2 194.6l0.9 1.8l-2.6 1.2l-0.9-1.5z"/><path class="q56" d="M462.4 205.9l1.9-0.6l-2.5 1.7l-2 0.7z"/><path class="q67" d="M492.5 200.7l0.9 2l-2.6-0.5l-0.9-1.8z"/><path class="q73" d="M491.6 198.5l0.9 2.2l-2.6-0.3l-0.9-2z"/><path class="q63" d="M466.9 203.1l2-0.8l-2.6 2.1l-2 0.9z"/><path class="q61" d="M495.8 204.2l1.9 2.3l-2.5-1.2l-1.8-2.6z"/><path class="q70" d="M471.5 200.2l2-0.8l-2.6 2l-2 0.9z"/><path class="q76" d="M476.1 197.5l2-0.6l-2.6 1.8l-2 0.7z"/><path class="q41" d="M451.3 213l2-1.1l-2.6 1.6l-2 1.7z"/><path class="q82" d="M480.7 194.5l2-0.1l-2.7 2.2l-1.9 0.3z"/><path class="q47" d="M454.6 210.6l1.9-0.9l-1.2 1.1l-2 1.1z"/><path class="q51" d="M455.8 209.1l2-0.6l-1.3 1.2l-1.9 0.9z"/><path class="q85" d="M485.3 192.6l1.9 2l-2.6 1.5l-1.9-1.7z"/><path class="q56" d="M460.4 206.5l2-0.6l-2.6 1.8l-2 0.8z"/><path class="q78" d="M490.7 196.4l0.9 2.1l-2.6-0.1l-0.9-2z"/><path class="q83" d="M489.8 194.5l0.9 1.9l-2.6 0l-0.9-1.8z"/><path class="q63" d="M465 203.8l1.9-0.7l-2.6 2.2l-1.9 0.6z"/><path class="q67" d="M495 202.4l0.8 1.8l-2.4-1.5l-0.9-2z"/><path class="q72" d="M494.1 200.5l0.9 1.9l-2.5-1.7l-0.9-2.2z"/><path class="q69" d="M469.5 201l2-0.8l-2.6 2.1l-2 0.8z"/><path class="q59" d="M498.3 206.4l1.8 1.7l-2.4-1.6l-1.9-2.3z"/><path class="q76" d="M474.1 198.4l2-0.9l-2.6 1.9l-2 0.8z"/><path class="q40" d="M449.3 214.2l2-1.2l-2.6 2.2l-2 1.7z"/><path class="q82" d="M478.7 195.3l2-0.8l-2.6 2.4l-2 0.6z"/><path class="q47" d="M452.6 211.4l2-0.8l-1.3 1.3l-2 1.1z"/><path class="q51" d="M453.9 209.8l1.9-0.7l-1.2 1.5l-2 0.8z"/><path class="q88" d="M483.3 192.7l2-0.1l-2.6 1.8l-2 0.1z"/><path class="q56" d="M458.4 207.1l2-0.6l-2.6 2l-2 0.6z"/><path class="q88" d="M487.9 192.3l1.9 2.2l-2.6 0.1l-1.9-2z"/><path class="q63" d="M463 204.3l2-0.5l-2.6 2.1l-2 0.6z"/><path class="q77" d="M493.2 198.6l0.9 1.9l-2.5-2l-0.9-2.1z"/><path class="q82" d="M492.3 196.9l0.9 1.7l-2.5-2.2l-0.9-1.9z"/><path class="q69" d="M467.6 201.7l1.9-0.7l-2.6 2.1l-1.9 0.7z"/><path class="q64" d="M497.4 205.1l0.9 1.3l-2.5-2.2l-0.8-1.8z"/><path class="q68" d="M496.5 203.6l0.9 1.5l-2.4-2.7l-0.9-1.9z"/><path class="q75" d="M472.1 199.4l2-1l-2.6 1.8l-2 0.8z"/><path class="q56" d="M500.7 209.2l1.9 1l-2.5-2.1l-1.8-1.7z"/><path class="q35" d="M446 217.4l2-1.5l-1.3 1l-1.9 1.8z"/><path class="q40" d="M447.3 215.3l2-1.1l-1.3 1.7l-2 1.5z"/><path class="q82" d="M476.8 196.6l1.9-1.3l-2.6 2.2l-2 0.9z"/><path class="q46" d="M450.6 212.2l2-0.8l-1.3 1.6l-2 1.2z"/><path class="q51" d="M451.9 210.3l2-0.5l-1.3 1.6l-2 0.8z"/><path class="q88" d="M481.4 193.5l1.9-0.8l-2.6 1.8l-2 0.8z"/><path class="q56" d="M456.4 207.7l2-0.6l-2.6 2l-1.9 0.7z"/><path class="q92" d="M486 192.3l1.9 0l-2.6 0.3l-2 0.1z"/><path class="q63" d="M461 204.9l2-0.6l-2.6 2.2l-2 0.6z"/><path class="q87" d="M490.4 194.9l1.9 2l-2.5-2.4l-1.9-2.2z"/><path class="q69" d="M465.6 202.4l2-0.7l-2.6 2.1l-2 0.5z"/><path class="q73" d="M495.6 202.1l0.9 1.5l-2.4-3.1l-0.9-1.9z"/><path class="q77" d="M494.7 200.8l0.9 1.3l-2.4-3.5l-0.9-1.7z"/><path class="q75" d="M470.2 200.3l1.9-0.9l-2.6 1.6l-1.9 0.7z"/><path class="q61" d="M498.9 207.5l1.8 1.7l-2.4-2.8l-1.8-2.8z"/><path class="q33" d="M444 218.9l2-1.5l-1.2 1.3l-2 1.9z"/><path class="q38" d="M445.3 216.2l2-0.9l-1.3 2.1l-2 1.5z"/><path class="q81" d="M474.8 197.9l2-1.3l-2.7 1.8l-2 1z"/><path class="q52" d="M503.1 212.4l1.9 0.1l-2.4-2.3l-1.9-1z"/><path class="q45" d="M448.6 212.8l2-0.6l-1.3 2l-2 1.1z"/><path class="q51" d="M449.9 210.6l2-0.3l-1.3 1.9l-2 0.6z"/><path class="q87" d="M479.4 195.2l2-1.7l-2.7 1.8l-1.9 1.3z"/><path class="q56" d="M454.5 208.2l1.9-0.5l-2.5 2.1l-2 0.5z"/><path class="q92" d="M484 193.3l2-1l-2.7 0.4l-1.9 0.8z"/><path class="q63" d="M459 205.6l2-0.7l-2.6 2.2l-2 0.6z"/><path class="q91" d="M488.5 194.9l1.9 0l-2.5-2.6l-1.9 0z"/><path class="q69" d="M463.6 203.1l2-0.7l-2.6 1.9l-2 0.6z"/><path class="q84" d="M491.6 197l1.9 1.8l-1.2-1.9l-1.9-2z"/><path class="q80" d="M492.8 199.3l1.9 1.5l-1.2-2l-1.9-1.8z"/><path class="q74" d="M468.2 201.2l2-0.9l-2.6 1.4l-2 0.7z"/><path class="q70" d="M495.9 203.1l1.8 2.3l-1.2-1.8l-1.8-2.8z"/><path class="q66" d="M497.1 205.9l1.8 1.6l-1.2-2.1l-1.8-2.3z"/><path class="q31" d="M442.1 220.6l1.9-1.7l-1.2 1.7l-2 2.1z"/><path class="q37" d="M443.3 217.3l2-1.1l-1.3 2.7l-1.9 1.7z"/><path class="q79" d="M472.8 199.2l2-1.3l-2.7 1.5l-1.9 0.9z"/><path class="q55" d="M501.2 211.9l1.9 0.5l-2.4-3.2l-1.8-1.7z"/><path class="q45" d="M446.6 213.3l2-0.5l-1.3 2.5l-2 0.9z"/><path class="q52" d="M447.9 210.7l2-0.1l-1.3 2.2l-2 0.5z"/><path class="q85" d="M477.4 196.9l2-1.7l-2.6 1.4l-2 1.3z"/><path class="q48" d="M505.5 214.8l1.9-0.3l-2.4-2l-1.9-0.1z"/><path class="q57" d="M452.5 208.6l2-0.4l-2.6 2.1l-2 0.3z"/><path class="q91" d="M482 195.1l2-1.8l-2.6 0.2l-2 1.7z"/><path class="q63" d="M457.1 206.3l1.9-0.7l-2.6 2.1l-1.9 0.5z"/><path class="q91" d="M486.5 195.7l2-0.8l-2.5-2.6l-2 1z"/><path class="q69" d="M461.7 203.9l1.9-0.8l-2.6 1.8l-2 0.7z"/><path class="q87" d="M489.7 197.1l1.9-0.1l-1.2-2.1l-1.9 0z"/><path class="q83" d="M490.9 199.5l1.9-0.2l-1.2-2.3l-1.9 0.1z"/><path class="q74" d="M466.2 202.2l2-1l-2.6 1.2l-2 0.7z"/><path class="q76" d="M494 202l1.9 1.1l-1.2-2.3l-1.9-1.5z"/><path class="q71" d="M495.2 205.2l1.9 0.7l-1.2-2.8l-1.9-1.1z"/><path class="q28" d="M440.1 222.4l2-1.8l-1.3 2.1l-2 2.1z"/><path class="q35" d="M441.4 218.6l1.9-1.3l-1.2 3.3l-2 1.8z"/><path class="q78" d="M470.8 200.6l2-1.4l-2.6 1.1l-2 0.9z"/><path class="q61" d="M498.2 208.7l1.9 1l-1.2-2.2l-1.8-1.6z"/><path class="q57" d="M499.4 211.4l1.8 0.5l-1.1-2.2l-1.9-1z"/><path class="q44" d="M444.2 214.9l2-0.7l-0.9 2l-2 1.1z"/><path class="q49" d="M445.1 212.6l2-0.3l-0.9 1.9l-2 0.7z"/><path class="q54" d="M445.9 210.8l2-0.1l-0.8 1.6l-2 0.3z"/><path class="q83" d="M475.4 198.6l2-1.7l-2.6 1l-2 1.3z"/><path class="q50" d="M503.6 214.9l1.9-0.1l-2.4-2.4l-1.9-0.5z"/><path class="q58" d="M450.5 208.8l2-0.2l-2.6 2l-2 0.1z"/><path class="q88" d="M480 197l2-1.9l-2.6 0.1l-2 1.7z"/><path class="q45" d="M507.9 217.1l1.9-0.6l-2.4-2l-1.9 0.3z"/><path class="q63" d="M455.1 207.1l2-0.8l-2.6 1.9l-2 0.4z"/><path class="q90" d="M484.5 197.2l2-1.5l-2.5-2.4l-2 1.8z"/><path class="q68" d="M459.7 205l2-1.1l-2.7 1.7l-1.9 0.7z"/><path class="q88" d="M487.7 197.7l2-0.6l-1.2-2.2l-2 0.8z"/><path class="q83" d="M489 200.2l1.9-0.7l-1.2-2.4l-2 0.6z"/><path class="q73" d="M464.3 203.4l1.9-1.2l-2.6 0.9l-1.9 0.8z"/><path class="q78" d="M492.1 202.4l1.9-0.4l-1.2-2.7l-1.9 0.2z"/><path class="q72" d="M493.3 205.8l1.9-0.6l-1.2-3.2l-1.9 0.4z"/><path class="q24" d="M437.6 225.4l2-2l-0.8 1.4l-2 2.1z"/><path class="q29" d="M438.5 223l2-1.8l-0.9 2.2l-2 2z"/><path class="q35" d="M439.4 220.2l2-1.6l-0.9 2.6l-2 1.8z"/><path class="q77" d="M468.8 202.1l2-1.5l-2.6 0.6l-2 1z"/><path class="q65" d="M496.3 208.5l1.9 0.2l-1.1-2.8l-1.9-0.7z"/><path class="q59" d="M497.5 211.7l1.9-0.3l-1.2-2.7l-1.9-0.2z"/><path class="q43" d="M442.2 215.8l2-0.9l-0.9 2.4l-1.9 1.3z"/><path class="q49" d="M443.1 213.3l2-0.7l-0.9 2.3l-2 0.9z"/><path class="q54" d="M444 211.2l1.9-0.4l-0.8 1.8l-2 0.7z"/><path class="q81" d="M473.4 200.5l2-1.9l-2.6 0.6l-2 1.4z"/><path class="q52" d="M501.8 215.1l1.8-0.2l-2.4-3l-1.8-0.5z"/><path class="q59" d="M448.5 209l2-0.2l-2.6 1.9l-2 0.1z"/><path class="q86" d="M478 199l2-2l-2.6-0.1l-2 1.7z"/><path class="q46" d="M506 217.6l1.9-0.5l-2.4-2.3l-1.9 0.1z"/><path class="q63" d="M453.1 207.9l2-0.8l-2.6 1.5l-2 0.2z"/><path class="q87" d="M482.5 199.1l2-1.9l-2.5-2.1l-2 1.9z"/><path class="q42" d="M510.3 219.3l1.9-0.8l-2.4-2l-1.9 0.6z"/><path class="q68" d="M457.7 206.3l2-1.3l-2.6 1.3l-2 0.8z"/><path class="q87" d="M485.8 199.1l1.9-1.4l-1.2-2l-2 1.5z"/><path class="q83" d="M487 201.4l2-1.2l-1.3-2.5l-1.9 1.4z"/><path class="q72" d="M462.3 204.7l2-1.3l-2.6 0.5l-2 1.1z"/><path class="q79" d="M490.2 203.2l1.9-0.8l-1.2-2.9l-1.9 0.7z"/><path class="q72" d="M491.3 206.8l2-1l-1.2-3.4l-1.9 0.8z"/><path class="q21" d="M435.7 227.5l1.9-2.1l-0.8 1.5l-2 2.2z"/><path class="q26" d="M436.5 225.1l2-2.1l-0.9 2.4l-1.9 2.1z"/><path class="q32" d="M437.4 222.2l2-2l-0.9 2.8l-2 2.1z"/><path class="q75" d="M466.8 204.1l2-2l-2.6 0.1l-1.9 1.2z"/><path class="q66" d="M494.4 209.4l1.9-0.9l-1.1-3.3l-1.9 0.6z"/><path class="q60" d="M495.5 212.7l2-1l-1.2-3.2l-1.9 0.9z"/><path class="q41" d="M440.2 217.2l2-1.4l-0.8 2.8l-2 1.6z"/><path class="q48" d="M441.1 214.4l2-1.1l-0.9 2.5l-2 1.4z"/><path class="q54" d="M442 212.3l2-1.1l-0.9 2.1l-2 1.1z"/><path class="q79" d="M471.4 202.7l2-2.2l-2.6 0.1l-2 1.5z"/><path class="q53" d="M499.8 215.8l2-0.7l-2.4-3.7l-1.9 0.3z"/><path class="q59" d="M446.6 209.5l1.9-0.5l-2.6 1.8l-1.9 0.4z"/><path class="q83" d="M476 201.4l2-2.4l-2.6-0.4l-2 1.9z"/><path class="q47" d="M504.1 218.2l1.9-0.6l-2.4-2.7l-1.8 0.2z"/><path class="q63" d="M451.1 208.8l2-0.9l-2.6 0.9l-2 0.2z"/><path class="q85" d="M480.5 201.2l2-2.1l-2.5-2.1l-2 2z"/><path class="q43" d="M508.4 220.1l1.9-0.8l-2.4-2.2l-1.9 0.5z"/><path class="q67" d="M455.7 207.7l2-1.4l-2.6 0.8l-2 0.8z"/><path class="q82" d="M485 203.3l2-1.9l-2.5-4.2l-2 1.9z"/><path class="q40" d="M512.8 221l1.9-1l-2.5-1.5l-1.9 0.8z"/><path class="q71" d="M460.3 206.4l2-1.7l-2.6 0.3l-2 1.3z"/><path class="q78" d="M488.2 204.5l2-1.3l-1.2-3l-2 1.2z"/><path class="q71" d="M489.3 208.3l2-1.5l-1.1-3.6l-2 1.3z"/><path class="q17" d="M433.7 229.9l2-2.4l-0.9 1.6l-2 2.4z"/><path class="q22" d="M434.5 227.6l2-2.5l-0.8 2.4l-2 2.4z"/><path class="q29" d="M435.4 224.7l2-2.5l-0.9 2.9l-2 2.5z"/><path class="q74" d="M464.9 205.5l1.9-1.4l-2.5-0.7l-2 1.3z"/><path class="q66" d="M492.4 210.7l2-1.3l-1.1-3.6l-2 1z"/><path class="q59" d="M493.6 214.3l1.9-1.6l-1.1-3.3l-2 1.3z"/><path class="q39" d="M438.2 219.2l2-2l-0.8 3l-2 2z"/><path class="q46" d="M439.1 216.4l2-2l-0.9 2.8l-2 2z"/><path class="q52" d="M440 214.1l2-1.8l-0.9 2.1l-2 2z"/><path class="q76" d="M469.4 204.9l2-2.2l-2.6-0.6l-2 2z"/><path class="q53" d="M497.9 217.1l1.9-1.3l-2.3-4.1l-2 1z"/><path class="q59" d="M444.6 210.6l2-1.1l-2.6 1.7l-2 1.1z"/><path class="q79" d="M474 203.9l2-2.5l-2.6-0.9l-2 2.2z"/><path class="q47" d="M502.2 219.2l1.9-1l-2.3-3.1l-2 0.7z"/><path class="q63" d="M449.2 209.9l1.9-1.1l-2.6 0.2l-1.9 0.5z"/><path class="q81" d="M478.5 203.8l2-2.6l-2.5-2.2l-2 2.4z"/><path class="q43" d="M506.5 221.1l1.9-1l-2.4-2.5l-1.9 0.6z"/><path class="q66" d="M453.7 209.3l2-1.6l-2.6 0.2l-2 0.9z"/><path class="q80" d="M483 205.4l2-2.1l-2.5-4.2l-2 2.1z"/><path class="q40" d="M510.9 222l1.9-1l-2.5-1.7l-1.9 0.8z"/><path class="q69" d="M458.3 208.3l2-1.9l-2.6-0.1l-2 1.4z"/><path class="q76" d="M486.2 206.4l2-1.9l-1.2-3.1l-2 1.9z"/><path class="q69" d="M487.4 210.2l1.9-1.9l-1.1-3.8l-2 1.9z"/><path class="q39" d="M515.2 222.3l1.9-1.1l-2.4-1.2l-1.9 1z"/><path class="q14" d="M431.7 232.5l2-2.6l-0.9 1.6l-2 2.4z"/><path class="q19" d="M432.5 230.2l2-2.6l-0.8 2.3l-2 2.6z"/><path class="q25" d="M433.4 227.5l2-2.8l-0.9 2.9l-2 2.6z"/><path class="q72" d="M462.9 207.5l2-2l-2.6-0.8l-2 1.7z"/><path class="q64" d="M490.5 212.4l1.9-1.7l-1.1-3.9l-2 1.5z"/><path class="q57" d="M491.6 216.1l2-1.8l-1.2-3.6l-1.9 1.7z"/><path class="q36" d="M436.3 221.8l1.9-2.6l-0.8 3l-2 2.5z"/><path class="q43" d="M437.1 219l2-2.6l-0.9 2.8l-1.9 2.6z"/><path class="q49" d="M438 216.8l2-2.7l-0.9 2.3l-2 2.6z"/><path class="q73" d="M467.4 207l2-2.1l-2.6-0.8l-1.9 1.4z"/><path class="q52" d="M495.9 218.8l2-1.7l-2.4-4.4l-1.9 1.6z"/><path class="q57" d="M442.6 212.4l2-1.8l-2.6 1.7l-2 1.8z"/><path class="q76" d="M472 206.5l2-2.6l-2.6-1.2l-2 2.2z"/><path class="q47" d="M500.3 220.7l1.9-1.5l-2.4-3.4l-1.9 1.3z"/><path class="q62" d="M447.2 211.5l2-1.6l-2.6-0.4l-2 1.1z"/><path class="q77" d="M476.5 206.5l2-2.7l-2.5-2.4l-2 2.5z"/><path class="q42" d="M504.6 222.3l1.9-1.2l-2.4-2.9l-1.9 1z"/><path class="q64" d="M451.8 211l1.9-1.7l-2.6-0.5l-1.9 1.1z"/><path class="q76" d="M481 207.9l2-2.5l-2.5-4.2l-2 2.6z"/><path class="q40" d="M508.9 223.1l2-1.1l-2.5-1.9l-1.9 1z"/><path class="q66" d="M456.3 210.3l2-2l-2.6-0.6l-2 1.6z"/><path class="q73" d="M484.2 208.4l2-2l-1.2-3.1l-2 2.1z"/><path class="q67" d="M485.4 212.2l2-2l-1.2-3.8l-2 2z"/><path class="q38" d="M513.3 223.4l1.9-1.1l-2.4-1.3l-1.9 1z"/><path class="q11" d="M430.1 233.9l2-2.5l-1.3 2.5l-2 2.3z"/><path class="q19" d="M431.4 230.2l2-2.7l-1.3 3.9l-2 2.5z"/><path class="q69" d="M460.9 209.7l2-2.2l-2.6-1.1l-2 1.9z"/><path class="q62" d="M488.5 214.3l2-1.9l-1.2-4.1l-1.9 1.9z"/><path class="q55" d="M489.6 218l2-1.9l-1.1-3.7l-2 1.9z"/><path class="q38" d="M517.7 223.5l1.8-1.1l-2.4-1.2l-1.9 1.1z"/><path class="q31" d="M434.3 224.7l2-2.9l-0.9 2.9l-2 2.8z"/><path class="q38" d="M435.1 222l2-3l-0.8 2.8l-2 2.9z"/><path class="q44" d="M436 219.8l2-3l-0.9 2.2l-2 3z"/><path class="q71" d="M465.5 209.3l1.9-2.3l-2.5-1.5l-2 2z"/><path class="q50" d="M494 220.7l1.9-1.9l-2.3-4.5l-2 1.8z"/><path class="q54" d="M440.6 214.9l2-2.5l-2.6 1.7l-2 2.7z"/><path class="q72" d="M470 209l2-2.5l-2.6-1.6l-2 2.1z"/><path class="q45" d="M498.3 222.5l2-1.8l-2.4-3.6l-2 1.7z"/><path class="q60" d="M445.2 213.2l2-1.7l-2.6-0.9l-2 1.8z"/><path class="q73" d="M474.5 209.4l2-2.9l-2.5-2.6l-2 2.6z"/><path class="q41" d="M502.7 223.9l1.9-1.6l-2.4-3.1l-1.9 1.5z"/><path class="q62" d="M449.8 212.7l2-1.7l-2.6-1.1l-2 1.6z"/><path class="q72" d="M479 210.6l2-2.7l-2.5-4.1l-2 2.7z"/><path class="q39" d="M507 224.5l1.9-1.4l-2.4-2l-1.9 1.2z"/><path class="q64" d="M454.4 212.3l1.9-2l-2.6-1l-1.9 1.7z"/><path class="q70" d="M482.2 210.9l2-2.5l-1.2-3l-2 2.5z"/><path class="q64" d="M483.4 214.5l2-2.3l-1.2-3.8l-2 2.5z"/><path class="q38" d="M511.4 224.7l1.9-1.3l-2.4-1.4l-2 1.1z"/><path class="q66" d="M458.9 211.9l2-2.2l-2.6-1.4l-2 2z"/><path class="q59" d="M486.5 216.2l2-1.9l-1.1-4.1l-2 2z"/><path class="q52" d="M487.7 219.9l1.9-1.9l-1.1-3.7l-2 1.9z"/><path class="q37" d="M515.7 224.8l2-1.3l-2.5-1.2l-1.9 1.1z"/><path class="q27" d="M432.3 227.5l2-2.8l-0.9 2.8l-2 2.7z"/><path class="q33" d="M433.2 225l1.9-3l-0.8 2.7l-2 2.8z"/><path class="q39" d="M434 222.9l2-3.1l-0.9 2.2l-1.9 3z"/><path class="q67" d="M463.5 211.7l2-2.4l-2.6-1.8l-2 2.2z"/><path class="q47" d="M492 222.7l2-2l-2.4-4.6l-2 1.9z"/><path class="q37" d="M520.1 224.7l1.9-1.1l-2.5-1.2l-1.8 1.1z"/><path class="q50" d="M438.6 217.8l2-2.9l-2.6 1.9l-2 3z"/><path class="q68" d="M468 211.5l2-2.5l-2.6-2l-1.9 2.3z"/><path class="q43" d="M496.4 224.5l1.9-2l-2.4-3.7l-1.9 1.9z"/><path class="q57" d="M443.2 215.2l2-2l-2.6-0.8l-2 2.5z"/><path class="q69" d="M472.5 212l2-2.6l-2.5-2.9l-2 2.5z"/><path class="q39" d="M500.7 225.7l2-1.8l-2.4-3.2l-2 1.8z"/><path class="q60" d="M447.8 214.5l2-1.8l-2.6-1.2l-2 1.7z"/><path class="q67" d="M477 213.5l2-2.9l-2.5-4.1l-2 2.9z"/><path class="q37" d="M505.1 226.2l1.9-1.7l-2.4-2.2l-1.9 1.6z"/><path class="q61" d="M452.4 214.2l2-1.9l-2.6-1.3l-2 1.7z"/><path class="q66" d="M480.2 213.5l2-2.6l-1.2-3l-2 2.7z"/><path class="q60" d="M481.4 217l2-2.5l-1.2-3.6l-2 2.6z"/><path class="q37" d="M509.5 226.2l1.9-1.5l-2.5-1.6l-1.9 1.4z"/><path class="q63" d="M456.9 214.1l2-2.2l-2.6-1.6l-1.9 2z"/><path class="q57" d="M484.6 218.3l1.9-2.1l-1.1-4l-2 2.3z"/><path class="q50" d="M485.7 221.8l2-1.9l-1.2-3.7l-1.9 2.1z"/><path class="q36" d="M513.8 226.1l1.9-1.3l-2.4-1.4l-1.9 1.3z"/><path class="q64" d="M461.5 214.1l2-2.4l-2.6-2l-2 2.2z"/><path class="q45" d="M490.1 224.4l1.9-1.7l-2.4-4.7l-1.9 1.9z"/><path class="q36" d="M518.2 226l1.9-1.3l-2.4-1.2l-2 1.3z"/><path class="q45" d="M436.6 220.6l2-2.8l-2.6 2l-2 3.1z"/><path class="q65" d="M466 214l2-2.5l-2.5-2.2l-2 2.4z"/><path class="q40" d="M494.4 226.4l2-1.9l-2.4-3.8l-2 2z"/><path class="q36" d="M522.6 225.8l1.8-1.1l-2.4-1.1l-1.9 1.1z"/><path class="q54" d="M441.2 217.7l2-2.5l-2.6-0.3l-2 2.9z"/><path class="q65" d="M470.5 214.7l2-2.7l-2.5-3l-2 2.5z"/><path class="q37" d="M498.8 227.7l1.9-2l-2.4-3.2l-1.9 2z"/><path class="q58" d="M445.8 216.4l2-1.9l-2.6-1.3l-2 2z"/><path class="q63" d="M475 216.2l2-2.7l-2.5-4.1l-2 2.6z"/><path class="q36" d="M503.1 228.1l2-1.9l-2.4-2.3l-2 1.8z"/><path class="q59" d="M450.4 215.9l2-1.7l-2.6-1.5l-2 1.8z"/><path class="q62" d="M478.2 216.2l2-2.7l-1.2-2.9l-2 2.9z"/><path class="q56" d="M479.4 219.5l2-2.5l-1.2-3.5l-2 2.7z"/><path class="q35" d="M507.5 227.9l2-1.7l-2.5-1.7l-1.9 1.7z"/><path class="q60" d="M455 216.1l1.9-2l-2.5-1.8l-2 1.9z"/><path class="q53" d="M482.6 220.6l2-2.3l-1.2-3.8l-2 2.5z"/><path class="q47" d="M483.8 223.9l1.9-2.1l-1.1-3.5l-2 2.3z"/><path class="q35" d="M511.9 227.6l1.9-1.5l-2.4-1.4l-1.9 1.5z"/><path class="q61" d="M459.5 216.3l2-2.2l-2.6-2.2l-2 2.2z"/><path class="q43" d="M488.1 226.2l2-1.8l-2.4-4.5l-2 1.9z"/><path class="q35" d="M516.3 227.4l1.9-1.4l-2.5-1.2l-1.9 1.3z"/><path class="q61" d="M464 216.6l2-2.6l-2.5-2.3l-2 2.4z"/><path class="q38" d="M492.5 228l1.9-1.6l-2.4-3.7l-1.9 1.7z"/><path class="q36" d="M520.7 227.1l1.9-1.3l-2.5-1.1l-1.9 1.3z"/><path class="q50" d="M439.3 220.1l1.9-2.4l-2.6 0.1l-2 2.8z"/><path class="q61" d="M468.6 217.4l1.9-2.7l-2.5-3.2l-2 2.5z"/><path class="q35" d="M496.8 229.6l2-1.9l-2.4-3.2l-2 1.9z"/><path class="q36" d="M525 226.9l1.9-1.2l-2.5-1l-1.8 1.1z"/><path class="q55" d="M443.9 218.4l1.9-2l-2.6-1.2l-2 2.5z"/><path class="q59" d="M473 218.8l2-2.6l-2.5-4.2l-2 2.7z"/><path class="q33" d="M501.2 230l1.9-1.9l-2.4-2.4l-1.9 2z"/><path class="q57" d="M448.4 217.7l2-1.8l-2.6-1.4l-2 1.9zM476.2 218.9l2-2.7l-1.2-2.7l-2 2.7z"/><path class="q52" d="M477.4 222.1l2-2.6l-1.2-3.3l-2 2.7z"/><path class="q33" d="M505.6 229.7l1.9-1.8l-2.4-1.7l-2 1.9z"/><path class="q58" d="M453 217.8l2-1.7l-2.6-1.9l-2 1.7z"/><path class="q50" d="M480.6 223l2-2.4l-1.2-3.6l-2 2.5z"/><path class="q44" d="M481.8 226.1l2-2.2l-1.2-3.3l-2 2.4z"/><path class="q34" d="M510 229.3l1.9-1.7l-2.4-1.4l-2 1.7z"/><path class="q58" d="M457.5 218.4l2-2.1l-2.6-2.2l-1.9 2z"/><path class="q40" d="M486.2 228.1l1.9-1.9l-2.4-4.4l-1.9 2.1z"/><path class="q34" d="M514.4 228.9l1.9-1.5l-2.5-1.3l-1.9 1.5z"/><path class="q58" d="M462.1 219l1.9-2.4l-2.5-2.5l-2 2.2z"/><path class="q36" d="M490.5 229.8l2-1.8l-2.4-3.6l-2 1.8z"/><path class="q35" d="M518.8 228.6l1.9-1.5l-2.5-1.1l-1.9 1.4z"/><path class="q57" d="M466.6 220l2-2.6l-2.6-3.4l-2 2.6z"/><path class="q33" d="M494.9 231.2l1.9-1.6l-2.4-3.2l-1.9 1.6z"/><path class="q35" d="M523.1 228.2l1.9-1.3l-2.4-1.1l-1.9 1.3z"/><path class="q51" d="M441.9 220.4l2-2l-2.7-0.7l-1.9 2.4z"/><path class="q55" d="M471.1 221.6l1.9-2.8l-2.5-4.1l-1.9 2.7z"/><path class="q31" d="M499.3 231.9l1.9-1.9l-2.4-2.3l-2 1.9z"/><path class="q54" d="M446.5 219.4l1.9-1.7l-2.6-1.3l-1.9 2z"/><path class="q53" d="M474.3 221.5l1.9-2.6l-1.2-2.7l-2 2.6z"/><path class="q48" d="M475.5 224.7l1.9-2.6l-1.2-3.2l-1.9 2.6z"/><path class="q31" d="M503.7 231.7l1.9-2l-2.5-1.6l-1.9 1.9z"/><path class="q55" d="M451 219.4l2-1.6l-2.6-1.9l-2 1.8z"/><path class="q46" d="M478.6 225.3l2-2.3l-1.2-3.5l-2 2.6z"/><path class="q41" d="M479.8 228.4l2-2.3l-1.2-3.1l-2 2.3z"/><path class="q32" d="M508.1 231.2l1.9-1.9l-2.5-1.4l-1.9 1.8z"/><path class="q55" d="M455.6 220.1l1.9-1.7l-2.5-2.3l-2 1.7z"/><path class="q38" d="M484.2 230.1l2-2l-2.4-4.2l-2 2.2z"/><path class="q33" d="M512.5 230.6l1.9-1.7l-2.5-1.3l-1.9 1.7z"/><path class="q54" d="M460.1 221.1l2-2.1l-2.6-2.7l-2 2.1z"/><path class="q34" d="M488.6 231.5l1.9-1.7l-2.4-3.6l-1.9 1.9z"/><path class="q33" d="M516.8 230.1l2-1.5l-2.5-1.2l-1.9 1.5z"/><path class="q53" d="M464.6 222.6l2-2.6l-2.6-3.4l-1.9 2.4z"/><path class="q31" d="M493 232.8l1.9-1.6l-2.4-3.2l-2 1.8z"/><path class="q34" d="M521.2 229.7l1.9-1.5l-2.4-1.1l-1.9 1.5z"/><path class="q51" d="M469.1 224.3l2-2.7l-2.5-4.2l-2 2.6z"/><path class="q29" d="M497.4 233.5l1.9-1.6l-2.5-2.3l-1.9 1.6z"/><path class="q52" d="M444.5 221.1l2-1.7l-2.6-1l-2 2z"/><path class="q49" d="M472.3 224.3l2-2.8l-1.3-2.7l-1.9 2.8z"/><path class="q45" d="M473.5 227.4l2-2.7l-1.2-3.2l-2 2.8z"/><path class="q29" d="M501.7 233.5l2-1.8l-2.5-1.7l-1.9 1.9z"/><path class="q53" d="M449.1 220.9l1.9-1.5l-2.6-1.7l-1.9 1.7z"/><path class="q43" d="M476.7 227.9l1.9-2.6l-1.2-3.2l-1.9 2.6z"/><path class="q37" d="M477.9 230.8l1.9-2.4l-1.2-3.1l-1.9 2.6z"/><path class="q30" d="M506.1 233.1l2-1.9l-2.5-1.5l-1.9 2z"/><path class="q53" d="M453.6 221.6l2-1.5l-2.6-2.3l-2 1.6z"/><path class="q35" d="M482.3 232.2l1.9-2.1l-2.4-4l-2 2.3z"/><path class="q31" d="M510.5 232.5l2-1.9l-2.5-1.3l-1.9 1.9z"/><path class="q52" d="M458.1 222.9l2-1.8l-2.6-2.7l-1.9 1.7z"/><path class="q32" d="M486.7 233.3l1.9-1.8l-2.4-3.4l-2 2zM514.9 231.8l1.9-1.7l-2.4-1.2l-1.9 1.7z"/><path class="q50" d="M462.6 224.9l2-2.3l-2.5-3.6l-2 2.1z"/><path class="q30" d="M491.1 234.5l1.9-1.7l-2.5-3l-1.9 1.7z"/><path class="q33" d="M519.3 231.3l1.9-1.6l-2.4-1.1l-2 1.5z"/><path class="q47" d="M467.1 226.9l2-2.6l-2.5-4.3l-2 2.6z"/><path class="q28" d="M495.4 235.1l2-1.6l-2.5-2.3l-1.9 1.6z"/><path class="q45" d="M470.3 227l2-2.7l-1.2-2.7l-2 2.7z"/><path class="q41" d="M471.5 230.1l2-2.7l-1.2-3.1l-2 2.7z"/><path class="q27" d="M499.8 235.1l1.9-1.6l-2.4-1.6l-1.9 1.6z"/><path class="q52" d="M447.1 222.3l2-1.4l-2.6-1.5l-2 1.7z"/><path class="q39" d="M474.7 230.5l2-2.6l-1.2-3.2l-2 2.7z"/><path class="q34" d="M475.9 233.3l2-2.5l-1.2-2.9l-2 2.6z"/><path class="q28" d="M504.2 234.9l1.9-1.8l-2.4-1.4l-2 1.8z"/><path class="q52" d="M451.7 223l1.9-1.4l-2.6-2.2l-1.9 1.5z"/><path class="q32" d="M480.3 234.4l2-2.2l-2.5-3.8l-1.9 2.4z"/><path class="q29" d="M508.6 234.4l1.9-1.9l-2.4-1.3l-2 1.9z"/><path class="q50" d="M456.2 224.4l1.9-1.5l-2.5-2.8l-2 1.5z"/><path class="q30" d="M484.7 235.2l2-1.9l-2.5-3.2l-1.9 2.1zM513 233.6l1.9-1.8l-2.4-1.2l-2 1.9z"/><path class="q47" d="M460.7 226.9l1.9-2l-2.5-3.8l-2 1.8z"/><path class="q28" d="M489.1 236.2l2-1.7l-2.5-3l-1.9 1.8z"/><path class="q31" d="M517.4 233l1.9-1.7l-2.5-1.2l-1.9 1.7z"/><path class="q44" d="M465.1 229.4l2-2.5l-2.5-4.3l-2 2.3z"/><path class="q26" d="M493.5 236.7l1.9-1.6l-2.4-2.3l-1.9 1.7z"/><path class="q42" d="M468.3 229.7l2-2.7l-1.2-2.7l-2 2.6z"/><path class="q37" d="M469.6 232.8l1.9-2.7l-1.2-3.1l-2 2.7z"/><path class="q26" d="M497.9 236.7l1.9-1.6l-2.4-1.6l-2 1.6z"/><path class="q35" d="M472.7 233.2l2-2.7l-1.2-3.1l-2 2.7z"/><path class="q30" d="M474 236l1.9-2.7l-1.2-2.8l-2 2.7z"/><path class="q26" d="M502.3 236.5l1.9-1.6l-2.5-1.4l-1.9 1.6z"/><path class="q50" d="M449.7 224.2l2-1.2l-2.6-2.1l-2 1.4z"/><path class="q29" d="M478.4 236.7l1.9-2.3l-2.4-3.6l-2 2.5z"/><path class="q27" d="M506.7 236.2l1.9-1.8l-2.5-1.3l-1.9 1.8z"/><path class="q49" d="M454.2 225.8l2-1.4l-2.6-2.8l-1.9 1.4z"/><path class="q27" d="M482.8 237.2l1.9-2l-2.4-3l-2 2.2z"/><path class="q28" d="M511.1 235.5l1.9-1.9l-2.5-1.1l-1.9 1.9z"/><path class="q45" d="M458.7 228.8l2-1.9l-2.6-4l-1.9 1.5z"/><path class="q26" d="M487.2 237.9l1.9-1.7l-2.4-2.9l-2 1.9z"/><path class="q30" d="M515.5 234.8l1.9-1.8l-2.5-1.2l-1.9 1.8z"/><path class="q41" d="M463.2 231.7l1.9-2.3l-2.5-4.5l-1.9 2z"/><path class="q25" d="M491.6 238.3l1.9-1.6l-2.4-2.2l-2 1.7z"/><path class="q38" d="M466.4 232.2l1.9-2.5l-1.2-2.8l-2 2.5z"/><path class="q33" d="M467.6 235.2l2-2.4l-1.3-3.1l-1.9 2.5z"/><path class="q24" d="M496 238.3l1.9-1.6l-2.5-1.6l-1.9 1.6z"/><path class="q31" d="M470.8 235.8l1.9-2.6l-1.2-3.1l-1.9 2.7z"/><path class="q27" d="M472 238.5l2-2.5l-1.3-2.8l-1.9 2.6z"/><path class="q25" d="M500.4 238.1l1.9-1.6l-2.5-1.4l-1.9 1.6z"/><path class="q26" d="M476.4 239.2l2-2.5l-2.5-3.4l-1.9 2.7z"/><path class="q25" d="M504.8 237.8l1.9-1.6l-2.5-1.3l-1.9 1.6z"/><path class="q47" d="M452.3 227l1.9-1.2l-2.5-2.8l-2 1.2z"/><path class="q25" d="M480.9 239.3l1.9-2.1l-2.5-2.8l-1.9 2.3z"/><path class="q26" d="M509.2 237.3l1.9-1.8l-2.5-1.1l-1.9 1.8z"/><path class="q43" d="M456.8 230.6l1.9-1.8l-2.5-4.4l-2 1.4z"/><path class="q24" d="M485.3 239.6l1.9-1.7l-2.5-2.7l-1.9 2z"/><path class="q28" d="M513.6 236.7l1.9-1.9l-2.5-1.2l-1.9 1.9z"/><path class="q38" d="M461.2 233.8l2-2.1l-2.5-4.8l-2 1.9z"/><path class="q23" d="M489.7 239.9l1.9-1.6l-2.5-2.1l-1.9 1.7z"/><path class="q35" d="M464.4 234.4l2-2.2l-1.3-2.8l-1.9 2.3z"/><path class="q30" d="M465.7 237.4l1.9-2.2l-1.2-3l-2 2.2z"/><path class="q23" d="M494.1 239.9l1.9-1.6l-2.5-1.6l-1.9 1.6z"/><path class="q28" d="M468.8 238.3l2-2.5l-1.2-3l-2 2.4z"/><path class="q23" d="M470.1 240.9l1.9-2.4l-1.2-2.7l-2 2.5zM498.5 239.7l1.9-1.6l-2.5-1.4l-1.9 1.6z"/><path class="q22" d="M474.5 241.5l1.9-2.3l-2.4-3.2l-2 2.5z"/><path class="q24" d="M502.9 239.4l1.9-1.6l-2.5-1.3l-1.9 1.6z"/><path class="q22" d="M479 241.4l1.9-2.1l-2.5-2.6l-2 2.5z"/><path class="q25" d="M507.3 238.9l1.9-1.6l-2.5-1.1l-1.9 1.6z"/><path class="q44" d="M453.6 229.4l1.9-1.4l-1.3-2.2l-1.9 1.2z"/><path class="q40" d="M454.8 232.1l2-1.5l-1.3-2.6l-1.9 1.4z"/><path class="q22" d="M483.4 241.4l1.9-1.8l-2.5-2.4l-1.9 2.1z"/><path class="q26" d="M511.7 238.5l1.9-1.8l-2.5-1.2l-1.9 1.8z"/><path class="q38" d="M458 233.2l2-1.9l-1.3-2.5l-1.9 1.8z"/><path class="q33" d="M459.3 235.9l1.9-2.1l-1.2-2.5l-2 1.9z"/><path class="q21" d="M487.8 241.5l1.9-1.6l-2.5-2l-1.9 1.7z"/><path class="q32" d="M462.5 236.6l1.9-2.2l-1.2-2.7l-2 2.1z"/><path class="q27" d="M463.7 239.6l2-2.2l-1.3-3l-1.9 2.2z"/><path class="q21" d="M492.2 241.5l1.9-1.6l-2.5-1.6l-1.9 1.6z"/><path class="q25" d="M466.9 240.4l1.9-2.1l-1.2-3.1l-1.9 2.2z"/><path class="q20" d="M468.1 243l2-2.1l-1.3-2.6l-1.9 2.1z"/><path class="q22" d="M496.6 241.3l1.9-1.6l-2.5-1.4l-1.9 1.6z"/><path class="q19" d="M472.6 243.7l1.9-2.2l-2.5-3l-1.9 2.4z"/><path class="q22" d="M501 241l1.9-1.6l-2.5-1.3l-1.9 1.6z"/><path class="q19" d="M477 243.5l2-2.1l-2.6-2.2l-1.9 2.3z"/><path class="q23" d="M505.4 240.6l1.9-1.7l-2.5-1.1l-1.9 1.6z"/><path class="q20" d="M481.5 243.2l1.9-1.8l-2.5-2.1l-1.9 2.1z"/><path class="q24" d="M509.8 240.1l1.9-1.6l-2.5-1.2l-1.9 1.6z"/><path class="q36" d="M456.1 235l1.9-1.8l-1.2-2.6l-2 1.5z"/><path class="q31" d="M457.3 237.8l2-1.9l-1.3-2.7l-1.9 1.8z"/><path class="q20" d="M485.9 243.2l1.9-1.7l-2.5-1.9l-1.9 1.8z"/><path class="q29" d="M460.5 238.7l2-2.1l-1.3-2.8l-1.9 2.1z"/><path class="q25" d="M461.8 241.6l1.9-2l-1.2-3l-2 2.1z"/><path class="q20" d="M490.3 243l1.9-1.5l-2.5-1.6l-1.9 1.6z"/><path class="q22" d="M465 242.5l1.9-2.1l-1.2-3l-2 2.2z"/><path class="q18" d="M466.2 245l1.9-2l-1.2-2.6l-1.9 2.1z"/><path class="q20" d="M494.7 242.9l1.9-1.6l-2.5-1.4l-1.9 1.6z"/><path class="q17" d="M470.6 245.7l2-2l-2.5-2.8l-2 2.1z"/><path class="q21" d="M499.1 242.6l1.9-1.6l-2.5-1.3l-1.9 1.6z"/><path class="q17" d="M475.1 245.4l1.9-1.9l-2.5-2l-1.9 2.2z"/><path class="q22" d="M503.5 242.2l1.9-1.6l-2.5-1.2l-1.9 1.6z"/><path class="q18" d="M479.6 245l1.9-1.8l-2.5-1.8l-2 2.1z"/><path class="q23" d="M507.9 241.7l1.9-1.6l-2.5-1.2l-1.9 1.7z"/><path class="q18" d="M484 244.8l1.9-1.6l-2.5-1.8l-1.9 1.8z"/><path class="q27" d="M458.6 240.6l1.9-1.9l-1.2-2.8l-2 1.9z"/><path class="q22" d="M459.9 243.5l1.9-1.9l-1.3-2.9l-1.9 1.9z"/><path class="q19" d="M488.4 244.6l1.9-1.6l-2.5-1.5l-1.9 1.7z"/><path class="q20" d="M463 244.5l2-2l-1.3-2.9l-1.9 2z"/><path class="q16" d="M464.3 246.8l1.9-1.8l-1.2-2.5l-2 2z"/><path class="q19" d="M492.8 244.4l1.9-1.5l-2.5-1.4l-1.9 1.5z"/><path class="q15" d="M468.7 247.5l1.9-1.8l-2.5-2.7l-1.9 2z"/><path class="q20" d="M497.2 244.1l1.9-1.5l-2.5-1.3l-1.9 1.6z"/><path class="q15" d="M473.2 247.2l1.9-1.8l-2.5-1.7l-2 2z"/><path class="q20" d="M501.6 243.8l1.9-1.6l-2.5-1.2l-1.9 1.6z"/><path class="q16" d="M477.7 246.7l1.9-1.7l-2.6-1.5l-1.9 1.9z"/><path class="q21" d="M506 243.4l1.9-1.7l-2.5-1.1l-1.9 1.6z"/><path class="q16" d="M482.1 246.4l1.9-1.6l-2.5-1.6l-1.9 1.8z"/><path class="q17" d="M486.5 246.1l1.9-1.5l-2.5-1.4l-1.9 1.6z"/><path class="q18" d="M461.1 246.3l1.9-1.8l-1.2-2.9l-1.9 1.9z"/><path class="q14" d="M462.4 248.6l1.9-1.8l-1.3-2.3l-1.9 1.8z"/><path class="q18" d="M490.9 245.9l1.9-1.5l-2.5-1.4l-1.9 1.6z"/><path class="q13" d="M466.8 249.3l1.9-1.8l-2.5-2.5l-1.9 1.8z"/><path class="q18" d="M495.3 245.6l1.9-1.5l-2.5-1.2l-1.9 1.5z"/><path class="q13" d="M471.3 248.9l1.9-1.7l-2.6-1.5l-1.9 1.8z"/><path class="q19" d="M499.7 245.4l1.9-1.6l-2.5-1.2l-1.9 1.5z"/><path class="q14" d="M475.8 248.3l1.9-1.6l-2.6-1.3l-1.9 1.8z"/><path class="q20" d="M504.1 245l1.9-1.6l-2.5-1.2l-1.9 1.6z"/><path class="q15" d="M480.2 248l1.9-1.6l-2.5-1.4l-1.9 1.7z"/><path class="q16" d="M484.6 247.6l1.9-1.5l-2.5-1.3l-1.9 1.6z"/><path class="q17" d="M489.1 247.3l1.8-1.4l-2.5-1.3l-1.9 1.5z"/><path class="q11" d="M464.9 251l1.9-1.7l-2.5-2.5l-1.9 1.8z"/><path class="q17" d="M493.5 247.1l1.8-1.5l-2.5-1.2l-1.9 1.5z"/><path class="q11" d="M469.4 250.6l1.9-1.7l-2.6-1.4l-1.9 1.8z"/><path class="q18" d="M497.9 246.8l1.8-1.4l-2.5-1.3l-1.9 1.5z"/><path class="q12" d="M473.9 249.9l1.9-1.6l-2.6-1.1l-1.9 1.7z"/><path class="q19" d="M502.3 246.5l1.8-1.5l-2.5-1.2l-1.9 1.6z"/><path class="q14" d="M478.3 249.5l1.9-1.5l-2.5-1.3l-1.9 1.6z"/><path class="q15" d="M482.8 249.1l1.8-1.5l-2.5-1.2l-1.9 1.6zM487.2 248.8l1.9-1.5l-2.6-1.2l-1.9 1.5z"/><path class="q16" d="M491.6 248.5l1.9-1.4l-2.6-1.2l-1.8 1.4z"/><path class="q9" d="M467.5 252.2l1.9-1.6l-2.6-1.3l-1.9 1.7z"/><path class="q17" d="M496 248.2l1.9-1.4l-2.6-1.2l-1.8 1.5z"/><path class="q11" d="M472 251.5l1.9-1.6l-2.6-1l-1.9 1.7z"/><path class="q18" d="M500.4 248l1.9-1.5l-2.6-1.1l-1.8 1.4z"/><path class="q12" d="M476.4 251l1.9-1.5l-2.5-1.2l-1.9 1.6z"/><path class="q13" d="M480.9 250.6l1.9-1.5l-2.6-1.1l-1.9 1.5z"/><path class="q14" d="M485.3 250.2l1.9-1.4l-2.6-1.2l-1.8 1.5z"/><path class="q15" d="M489.7 249.9l1.9-1.4l-2.5-1.2l-1.9 1.5z"/><path class="q16" d="M494.1 249.6l1.9-1.4l-2.5-1.1l-1.9 1.4z"/><path class="q9" d="M470.1 253l1.9-1.5l-2.6-0.9l-1.9 1.6z"/><path class="q17" d="M498.5 249.4l1.9-1.4l-2.5-1.2l-1.9 1.4z"/><path class="q11" d="M474.5 252.5l1.9-1.5l-2.5-1.1l-1.9 1.6z"/><path class="q12" d="M479 252l1.9-1.4l-2.6-1.1l-1.9 1.5z"/><path class="q13" d="M483.4 251.6l1.9-1.4l-2.5-1.1l-1.9 1.5z"/><path class="q14" d="M487.9 251.2l1.8-1.3l-2.5-1.1l-1.9 1.4z"/><path class="q15" d="M492.3 250.9l1.8-1.3l-2.5-1.1l-1.9 1.4z"/><path class="q16" d="M496.7 250.7l1.8-1.3l-2.5-1.2l-1.9 1.4z"/><path class="q10" d="M472.7 253.9l1.8-1.4l-2.5-1l-1.9 1.5z"/><path class="q11" d="M477.1 253.4l1.9-1.4l-2.6-1l-1.9 1.5z"/><path class="q12" d="M481.6 252.9l1.8-1.3l-2.5-1l-1.9 1.4z"/><path class="q13" d="M486 252.5l1.9-1.3l-2.6-1l-1.9 1.4z"/><path class="q14" d="M490.4 252.2l1.9-1.3l-2.6-1l-1.8 1.3z"/><path class="q15" d="M494.8 252l1.9-1.3l-2.6-1.1l-1.8 1.3z"/><path class="q10" d="M475.2 254.8l1.9-1.4l-2.6-0.9l-1.8 1.4z"/><path class="q12" d="M479.7 254.3l1.9-1.4l-2.6-0.9l-1.9 1.4z"/><path class="q13" d="M484.1 253.8l1.9-1.3l-2.6-0.9l-1.8 1.3z"/><path class="q14" d="M488.6 253.5l1.8-1.3l-2.5-1l-1.9 1.3zM493 253.3l1.8-1.3l-2.5-1.1l-1.9 1.3z"/><path class="q11" d="M477.8 255.6l1.9-1.3l-2.6-0.9l-1.9 1.4z"/><path class="q12" d="M482.3 255.1l1.8-1.3l-2.5-0.9l-1.9 1.4z"/><path class="q13" d="M486.7 254.7l1.9-1.2l-2.6-1l-1.9 1.3z"/><path class="q14" d="M491.1 254.5l1.9-1.2l-2.6-1.1l-1.8 1.3z"/><path class="q11" d="M480.4 256.3l1.9-1.2l-2.6-0.8l-1.9 1.3z"/><path class="q12" d="M484.9 255.9l1.8-1.2l-2.6-0.9l-1.8 1.3z"/><path class="q13" d="M489.3 255.7l1.8-1.2l-2.5-1l-1.9 1.2z"/><path class="q12" d="M483 257.1l1.9-1.2l-2.6-0.8l-1.9 1.2z"/><path class="q13" d="M487.4 256.9l1.9-1.2l-2.6-1l-1.8 1.2z"/><path class="q12" d="M485.6 258l1.8-1.1l-2.5-1l-1.9 1.2z"/></g>
<path d="M419.3 243V169.4M419.3 243h-3.2M419.3 236.9h-2M419.3 230.7h-3.2M419.3 224.6h-2M419.3 218.5h-3.2M419.3 212.3h-2M419.3 206.2h-3.2M419.3 200.1h-2M419.3 193.9h-3.2M419.3 187.8h-2M419.3 181.7h-3.2M419.3 175.5h-2M419.3 169.4h-3.2M419.3 169.4H421.1M419.3 243H421.1M421.1 242.2l-0.8 3M428.2 245.5l-0.5 1.8M435.4 248.8l-0.8 3M442.6 252.1l-0.5 1.8M449.7 255.4l-0.8 3M456.9 258.7l-0.5 1.8M464 262l-0.8 3M471.2 265.3l-0.5 1.8M478.3 268.6l-0.8 3M478.3 268.6l0.8 3M484.8 265.1l0.5 1.8M488.5 263l0.5 1.8M491.2 261.6l0.5 1.8M493.3 260.5l0.5 1.8M495 259.5l0.5 1.8M496.4 258.8l0.5 1.8M497.7 258.1l0.5 1.8M498.8 257.5l0.5 1.8M499.8 257l0.8 3M506.2 253.5l0.5 1.8M510 251.4l0.5 1.8M512.7 250l0.5 1.8M514.8 248.8l0.5 1.8M516.4 247.9l0.5 1.8M517.9 247.1l0.5 1.8M519.1 246.5l0.5 1.8M520.2 245.9l0.5 1.8M521.2 245.3l0.8 3" stroke="#3a3a3a" stroke-width="0.8" fill="none"/>
<text x="413.7" y="246.8" font-size="10.6" text-anchor="end" fill="#222">0</text>
<text x="413.7" y="234.5" font-size="10.6" text-anchor="end" fill="#222">25</text>
<text x="413.7" y="222.3" font-size="10.6" text-anchor="end" fill="#222">50</text>
<text x="413.7" y="210" font-size="10.6" text-anchor="end" fill="#222">75</text>
<text x="413.7" y="197.7" font-size="10.6" text-anchor="end" fill="#222">100</text>
<text x="413.7" y="185.5" font-size="10.6" text-anchor="end" fill="#222">125</text>
<text x="413.7" y="173.2" font-size="10.6" text-anchor="end" fill="#222">150</text>
<text transform="translate(415.4 256.7) rotate(-22)" font-size="10.5" text-anchor="middle" fill="#222">700</text>
<text transform="translate(428.9 263.4) rotate(-22)" font-size="10.5" text-anchor="middle" fill="#222">600</text>
<text transform="translate(441.2 270.2) rotate(-22)" font-size="10.5" text-anchor="middle" fill="#222">500</text>
<text transform="translate(454.9 276) rotate(-22)" font-size="10.5" text-anchor="middle" fill="#222">400</text>
<text transform="translate(469.8 282.9) rotate(-22)" font-size="10.5" text-anchor="middle" fill="#222">300</text>
<text x="483.8" y="282.8" font-size="10.5" text-anchor="middle" fill="#222">1</text>
<text x="507.8" y="270" font-size="10.5" text-anchor="middle" fill="#222">10</text>
<text x="524.1" y="259.4" font-size="10.5" text-anchor="middle" fill="#222">100</text>
<text x="401.8" y="154.2" font-size="16" font-weight="bold" fill="#111">g</text>
<path d="M621.7 268.6L668.9 243L616 223L564.5 242.2Z" fill="#ececec"/>
<path d="M564.5 242.2L616 223L616.1 159.5L564.5 170Z" fill="#eaf9f7"/>
<path d="M616 223L668.9 243L674.7 170.8L616.1 159.5Z" fill="#fbfcdf"/>
<path d="M564.5 230.2L616 212.4M616 212.4L669.9 231M564.5 218.1L616 201.8M616 201.8L670.8 218.9M564.5 206.1L616 191.2M616 191.2L671.8 206.9M564.5 194.1L616.1 180.7M616.1 180.7L672.8 194.9M564.5 182L616.1 170.1M616.1 170.1L673.7 182.8M582.5 235.5L582.6 166.3M638.2 259.6L582.5 235.5M600.6 228.8L600.6 162.6M654.7 250.7L600.6 228.8M655.7 238L660.1 168M607.4 262L655.7 238M642.5 233L645.4 165.2M593.1 255.4L642.5 233M629.2 228L630.8 162.3M578.8 248.8L629.2 228" stroke="#8c8c8c" stroke-width="0.7" fill="none"/>
<path d="M564.5 170L616.1 159.5L674.7 170.8L668.9 243" fill="none" stroke="#555" stroke-width="0.8"/>
<path d="M616 223L616.1 159.5" fill="none" stroke="#666" stroke-width="0.8"/>
<path d="M564.5 170L564.5 242.2L621.7 268.6L668.9 243" fill="none" stroke="#666" stroke-width="0.8"/>
<g class="sf"><path class="q42" d="M617.3 205.2l1.2 1.5l-2.5-0.6l-1.1-1.3z"/><path class="q47" d="M616.2 202.8l1.1 2.4l-2.4-0.4l-1.2-2z"/><path class="q43" d="M619.8 205.3l1.2 1.9l-2.5-0.5l-1.2-1.5z"/><path class="q49" d="M618.7 202.5l1.1 2.8l-2.5-0.1l-1.1-2.4z"/><path class="q54" d="M615 200l1.2 2.8l-2.5 0l-1.2-2.4z"/><path class="q61" d="M613.9 196.9l1.1 3.1l-2.5 0.4l-1.1-2.7z"/><path class="q44" d="M622.3 205.5l1.2 2.2l-2.5-0.5l-1.2-1.9z"/><path class="q51" d="M621.2 202.1l1.1 3.4l-2.5-0.2l-1.1-2.8z"/><path class="q55" d="M617.9 200.3l0.8 2.2l-2.5 0.3l-0.8-1.8z"/><path class="q61" d="M617.2 197.9l0.7 2.4l-2.5 0.7l-0.7-2z"/><path class="q66" d="M616.4 195.5l0.8 2.4l-2.5 1.1l-0.8-2.1z"/><path class="q68" d="M613.1 194.6l0.8 2.3l-2.5 0.8l-0.8-2.1z"/><path class="q74" d="M612.4 191.6l0.7 3l-2.5 1l-0.8-2.8z"/><path class="q82" d="M611.6 188.3l0.8 3.3l-2.6 1.2l-0.8-3z"/><path class="q44" d="M625.2 206.6l0.7 1.5l-2.4-0.4l-0.8-1.3z"/><path class="q49" d="M624.5 204.5l0.7 2.1l-2.5-0.2l-0.7-1.9z"/><path class="q54" d="M623.7 201.9l0.8 2.6l-2.5 0l-0.8-2.4z"/><path class="q58" d="M620.5 199.5l0.7 2.6l-2.5 0.4l-0.8-2.2z"/><path class="q65" d="M619.7 196.8l0.8 2.7l-2.6 0.8l-0.7-2.4z"/><path class="q71" d="M619 194l0.7 2.8l-2.5 1.1l-0.8-2.4z"/><path class="q72" d="M615.7 192.8l0.7 2.7l-2.5 1.4l-0.8-2.3z"/><path class="q79" d="M614.9 189.4l0.8 3.4l-2.6 1.8l-0.7-3z"/><path class="q88" d="M614.2 185.8l0.7 3.6l-2.5 2.2l-0.8-3.3z"/><path class="q90" d="M610.8 184.9l0.8 3.4l-2.6 1.5l-0.8-3.2z"/><path class="q97" d="M610.1 181.8l0.7 3.1l-2.6 1.7l-0.7-2.9z"/><path class="q104" d="M609.3 179.2l0.8 2.6l-2.6 1.9l-0.8-2.6z"/><path class="q61" d="M623 199l0.7 2.9l-2.5 0.2l-0.7-2.6z"/><path class="q68" d="M622.3 196l0.7 3l-2.5 0.5l-0.8-2.7z"/><path class="q75" d="M621.6 193l0.7 3l-2.6 0.8l-0.7-2.8z"/><path class="q94" d="M612.1 183.6l0.8 3.5l-1.3 1.2l-0.8-3.4z"/><path class="q102" d="M611.4 180.4l0.7 3.2l-1.3 1.3l-0.7-3.1z"/><path class="q98" d="M613.4 182.2l0.8 3.6l-1.3 1.3l-0.8-3.5z"/><path class="q109" d="M610.6 177.7l0.8 2.7l-1.3 1.4l-0.8-2.6z"/><path class="q106" d="M612.7 178.8l0.7 3.4l-1.3 1.4l-0.7-3.2z"/><path class="q114" d="M611.9 176.1l0.8 2.7l-1.3 1.6l-0.8-2.7z"/><path class="q45" d="M627.7 206.8l0.7 1.7l-2.5-0.4l-0.7-1.5z"/><path class="q50" d="M627 204.5l0.7 2.3l-2.5-0.2l-0.7-2.1z"/><path class="q56" d="M626.3 201.7l0.7 2.8l-2.5 0l-0.8-2.6z"/><path class="q77" d="M618.5 191.9l0.5 2.1l-2.6 1.5l-0.5-1.9z"/><path class="q82" d="M617.9 189.3l0.6 2.6l-2.6 1.7l-0.6-2.4z"/><path class="q89" d="M617.4 186.4l0.5 2.9l-2.6 1.9l-0.5-2.7z"/><path class="q96" d="M616.8 183.4l0.6 3l-2.6 2.1l-0.6-2.7z"/><path class="q111" d="M608.1 176.2l1.2 3l-2.6 1.9l-1.2-3z"/><path class="q119" d="M607 173.5l1.1 2.7l-2.6 1.9l-1.1-2.9z"/><path class="q46" d="M630.2 207.1l0.7 1.8l-2.5-0.4l-0.7-1.7z"/><path class="q52" d="M629.5 204.7l0.7 2.4l-2.5-0.3l-0.7-2.3z"/><path class="q58" d="M628.8 201.7l0.7 3l-2.5-0.2l-0.7-2.8z"/><path class="q64" d="M625.6 198.5l0.7 3.2l-2.6 0.2l-0.7-2.9z"/><path class="q71" d="M624.9 195.3l0.7 3.2l-2.6 0.5l-0.7-3z"/><path class="q79" d="M624.2 192.1l0.7 3.2l-2.6 0.7l-0.7-3z"/><path class="q81" d="M621 190.8l0.6 2.2l-2.6 1l-0.5-2.1z"/><path class="q87" d="M620.5 188l0.5 2.8l-2.5 1.1l-0.6-2.6z"/><path class="q94" d="M620 184.9l0.5 3.1l-2.6 1.3l-0.5-2.9z"/><path class="q101" d="M619.4 181.8l0.6 3.1l-2.6 1.5l-0.6-3z"/><path class="q102" d="M616.3 180.5l0.5 2.9l-2.6 2.4l-0.6-2.7z"/><path class="q109" d="M615.7 177.8l0.6 2.7l-2.7 2.6l-0.5-2.6z"/><path class="q115" d="M615.2 175.3l0.5 2.5l-2.6 2.7l-0.6-2.4z"/><path class="q121" d="M614.6 173.3l0.6 2l-2.7 2.8l-0.6-2z"/><path class="q116" d="M609.5 174.8l1.1 2.9l-1.3 1.5l-1.2-3z"/><path class="q120" d="M610.8 173.2l1.1 2.9l-1.3 1.6l-1.1-2.9z"/><path class="q123" d="M608.3 172.2l1.2 2.6l-1.4 1.4l-1.1-2.7z"/><path class="q127" d="M609.7 170.8l1.1 2.4l-1.3 1.6l-1.2-2.6z"/><path class="q125" d="M605.8 171.3l1.2 2.2l-2.6 1.7l-1.2-2.4z"/><path class="q130" d="M604.7 170l1.1 1.3l-2.6 1.5l-1.2-1.4z"/><path class="q47" d="M632.7 207.7l0.7 1.7l-2.5-0.5l-0.7-1.8z"/><path class="q53" d="M632 205.2l0.7 2.5l-2.5-0.6l-0.7-2.4z"/><path class="q59" d="M631.3 202.2l0.7 3l-2.5-0.5l-0.7-3z"/><path class="q65" d="M628.3 199.2l0.5 2.5l-2.5 0l-0.6-2.4z"/><path class="q71" d="M627.8 196.6l0.5 2.6l-2.6 0.1l-0.5-2.4z"/><path class="q77" d="M627.3 194.1l0.5 2.5l-2.6 0.3l-0.5-2.5z"/><path class="q83" d="M626.8 191.6l0.5 2.5l-2.6 0.3l-0.5-2.3z"/><path class="q109" d="M618.9 178.8l0.5 3l-2.6 1.6l-0.5-2.9z"/><path class="q115" d="M618.4 175.9l0.5 2.9l-2.6 1.7l-0.6-2.7z"/><path class="q122" d="M617.8 173.5l0.6 2.4l-2.7 1.9l-0.5-2.5z"/><path class="q127" d="M617.3 171.5l0.5 2l-2.6 1.8l-0.6-2z"/><path class="q131" d="M608.5 169l1.2 1.8l-2.7 2.7l-1.2-2.2z"/><path class="q135" d="M607.3 167.9l1.2 1.1l-2.7 2.3l-1.1-1.3z"/><path class="q131" d="M602.3 171.1l2.4-1.1l-2.7 1.4l-2.3 1.4z"/><path class="q85" d="M623.6 189.7l0.6 2.4l-2.6 0.9l-0.6-2.2z"/><path class="q92" d="M623.1 186.8l0.5 2.9l-2.6 1.1l-0.5-2.8z"/><path class="q99" d="M622.6 183.6l0.5 3.2l-2.6 1.2l-0.5-3.1z"/><path class="q106" d="M622.1 180.4l0.5 3.2l-2.6 1.3l-0.6-3.1z"/><path class="q126" d="M613.5 170.6l1.1 2.7l-2.7 2.8l-1.1-2.9z"/><path class="q133" d="M612.3 168.6l1.2 2l-2.7 2.6l-1.1-2.4z"/><path class="q66" d="M630.8 199.7l0.5 2.5l-2.5-0.5l-0.5-2.5z"/><path class="q72" d="M630.3 197.2l0.5 2.5l-2.5-0.5l-0.5-2.6z"/><path class="q78" d="M629.8 194.6l0.5 2.6l-2.5-0.6l-0.5-2.5z"/><path class="q84" d="M629.3 192.2l0.5 2.4l-2.5-0.5l-0.5-2.5z"/><path class="q137" d="M605 168.4l2.3-0.5l-2.6 2.1l-2.4 1.1z"/><path class="q48" d="M635.2 208.4l0.7 1.7l-2.5-0.7l-0.7-1.7z"/><path class="q53" d="M634.5 206.1l0.7 2.3l-2.5-0.7l-0.7-2.5z"/><path class="q59" d="M633.8 203.3l0.7 2.8l-2.5-0.9l-0.7-3z"/><path class="q89" d="M626.2 189.2l0.6 2.4l-2.6 0.5l-0.6-2.4z"/><path class="q95" d="M625.7 186.2l0.5 3l-2.6 0.5l-0.5-2.9z"/><path class="q102" d="M625.2 183l0.5 3.2l-2.6 0.6l-0.5-3.2z"/><path class="q110" d="M624.7 179.7l0.5 3.3l-2.6 0.6l-0.5-3.2z"/><path class="q114" d="M621.6 177.3l0.5 3.1l-2.7 1.4l-0.5-3z"/><path class="q121" d="M621 174.4l0.6 2.9l-2.7 1.5l-0.5-2.9z"/><path class="q127" d="M620.5 172l0.5 2.4l-2.6 1.5l-0.6-2.4z"/><path class="q132" d="M620 170.2l0.5 1.8l-2.7 1.5l-0.5-2zM616.1 169.5l1.2 2l-2.7 1.8l-1.1-2.7z"/><path class="q138" d="M615 168.2l1.1 1.3l-2.6 1.1l-1.2-2z"/><path class="q139" d="M610 166.3l2.3 2.3l-2.6 2.2l-2.4-2.9z"/><path class="q128" d="M601.1 172.9l1.2-1.8l-2.6 1.7l-1.2 2.2z"/><path class="q124" d="M600 175.2l1.1-2.3l-2.6 2.1l-1.2 2.5z"/><path class="q48" d="M637.7 209.4l0.7 1.5l-2.5-0.8l-0.7-1.7z"/><path class="q52" d="M637 207.3l0.7 2.1l-2.5-1l-0.7-2.3z"/><path class="q58" d="M636.3 204.7l0.7 2.6l-2.5-1.2l-0.7-2.8z"/><path class="q66" d="M633.4 200.9l0.4 2.4l-2.5-1.1l-0.5-2.5z"/><path class="q72" d="M632.9 198.5l0.5 2.4l-2.6-1.2l-0.5-2.5z"/><path class="q78" d="M632.4 196.1l0.5 2.4l-2.6-1.3l-0.5-2.6z"/><path class="q84" d="M631.9 193.8l0.5 2.3l-2.6-1.5l-0.5-2.4z"/><path class="q90" d="M628.8 189.8l0.5 2.4l-2.5-0.6l-0.6-2.4z"/><path class="q97" d="M628.3 186.8l0.5 3l-2.6-0.6l-0.5-3z"/><path class="q104" d="M627.8 183.6l0.5 3.2l-2.6-0.6l-0.5-3.2z"/><path class="q111" d="M627.3 180.4l0.5 3.2l-2.6-0.6l-0.5-3.3z"/><path class="q117" d="M624.2 176.6l0.5 3.1l-2.6 0.7l-0.5-3.1z"/><path class="q124" d="M623.7 173.7l0.5 2.9l-2.6 0.7l-0.6-2.9z"/><path class="q131" d="M623.2 171.4l0.5 2.3l-2.7 0.7l-0.5-2.4z"/><path class="q135" d="M622.6 169.8l0.6 1.6l-2.7 0.6l-0.5-1.8z"/><path class="q136" d="M618.8 169.1l1.2 1.1l-2.7 1.3l-1.2-2z"/><path class="q140" d="M617.6 168.8l1.2 0.3l-2.7 0.4l-1.1-1.3z"/><path class="q142" d="M612.7 166.7l2.3 1.5l-2.7 0.4l-2.3-2.3z"/><path class="q143" d="M607.7 166.5l2.3-0.2l-2.7 1.6l-2.3 0.5z"/><path class="q131" d="M601.3 173.4l2.4-3.7l-1.4 1.4l-2.3 4.1z"/><path class="q135" d="M602.6 171.6l2.4-3.2l-1.3 1.3l-2.4 3.7z"/><path class="q118" d="M597.6 179.2l2.4-4l-2.7 2.3l-2.3 4z"/><path class="q48" d="M639.8 209.7l1.1 2.2l-2.5-1l-1.1-2.5z"/><path class="q56" d="M638.8 206.3l1 3.4l-2.5-1.3l-1-3.7z"/><path class="q65" d="M635.7 201.8l0.6 2.9l-2.5-1.4l-0.6-3.2z"/><path class="q73" d="M635 198.9l0.7 2.9l-2.5-1.7l-0.7-3.2z"/><path class="q80" d="M634.4 196l0.6 2.9l-2.5-2l-0.6-3.1z"/><path class="q89" d="M631.4 191.6l0.5 2.2l-2.6-1.6l-0.5-2.4z"/><path class="q95" d="M630.9 188.8l0.5 2.8l-2.6-1.8l-0.5-3z"/><path class="q102" d="M630.4 185.8l0.5 3l-2.6-2l-0.5-3.2z"/><path class="q110" d="M629.9 182.8l0.5 3l-2.6-2.2l-0.5-3.2z"/><path class="q120" d="M626.7 176.4l0.6 4l-2.6-0.7l-0.7-4.1z"/><path class="q129" d="M626 173.1l0.7 3.3l-2.7-0.8l-0.7-3.5z"/><path class="q135" d="M625.3 170.9l0.7 2.2l-2.7-1l-0.7-2.3z"/><path class="q139" d="M620.3 169.5l2.3 0.3l-2.6 0.4l-2.4-1.4z"/><path class="q143" d="M615.3 168.3l2.3 0.5l-2.6-0.6l-2.3-1.5z"/><path class="q146" d="M610.3 166.8l2.4-0.1l-2.7-0.4l-2.3 0.2z"/><path class="q140" d="M605.3 168.9l2.4-2.4l-2.7 1.9l-2.4 3.2z"/><path class="q123" d="M598.9 177.5l2.4-4.1l-1.3 1.8l-2.4 4z"/><path class="q128" d="M600.3 175.7l2.3-4.1l-1.3 1.8l-2.4 4.1z"/><path class="q112" d="M596.4 181.4l1.2-2.2l-2.6 2.3l-1.2 2z"/><path class="q108" d="M595.3 183.7l1.1-2.3l-2.6 2.1l-1.2 2z"/><path class="q47" d="M642.3 211.2l1 2l-2.4-1.3l-1.1-2.2z"/><path class="q54" d="M641.3 208.1l1 3.1l-2.5-1.5l-1-3.4z"/><path class="q63" d="M638.2 203.7l0.6 2.6l-2.5-1.6l-0.6-2.9z"/><path class="q70" d="M637.5 201l0.7 2.7l-2.5-1.9l-0.7-2.9z"/><path class="q77" d="M636.9 198.5l0.6 2.5l-2.5-2.1l-0.6-2.9z"/><path class="q86" d="M633.9 194l0.5 2l-2.5-2.2l-0.5-2.2z"/><path class="q92" d="M633.4 191.5l0.5 2.5l-2.5-2.4l-0.5-2.8z"/><path class="q98" d="M632.9 188.8l0.5 2.7l-2.5-2.7l-0.5-3z"/><path class="q105" d="M632.4 186l0.5 2.8l-2.5-3l-0.5-3z"/><path class="q118" d="M629.2 179l0.7 3.8l-2.6-2.4l-0.6-4z"/><path class="q126" d="M628.6 175.9l0.6 3.1l-2.5-2.6l-0.7-3.3z"/><path class="q132" d="M627.8 173.8l0.8 2.1l-2.6-2.8l-0.7-2.2z"/><path class="q139" d="M622.9 171.2l2.4-0.3l-2.7-1.1l-2.3-0.3z"/><path class="q141" d="M618 170.6l2.3-1.1l-2.7-0.7l-2.3-0.5z"/><path class="q144" d="M613 168.8l2.3-0.5l-2.6-1.6l-2.4 0.1zM608 168.8l2.3-2l-2.6-0.3l-2.4 2.4z"/><path class="q134" d="M602.9 173l2.4-4.1l-2.7 2.7l-2.3 4.1z"/><path class="q117" d="M597.8 179.9l1.1-2.4l-1.3 1.7l-1.2 2.2z"/><path class="q122" d="M599.1 178.2l1.2-2.5l-1.4 1.8l-1.1 2.4z"/><path class="q113" d="M596.6 182.4l1.2-2.5l-1.4 1.5l-1.1 2.3z"/><path class="q117" d="M597.9 180.9l1.2-2.7l-1.3 1.7l-1.2 2.5z"/><path class="q103" d="M594.1 186.1l1.2-2.4l-2.7 1.8l-1.1 2.1z"/><path class="q99" d="M592.9 188.4l1.2-2.3l-2.6 1.5l-1.2 2z"/><path class="q46" d="M644.7 212.9l1.1 1.8l-2.5-1.5l-1-2z"/><path class="q52" d="M643.7 210.2l1 2.7l-2.4-1.7l-1-3.1z"/><path class="q61" d="M640.6 205.8l0.7 2.3l-2.5-1.8l-0.6-2.6z"/><path class="q67" d="M640 203.3l0.6 2.5l-2.4-2.1l-0.7-2.7z"/><path class="q73" d="M639.3 201l0.7 2.3l-2.5-2.3l-0.6-2.5z"/><path class="q83" d="M636.2 195.9l0.7 2.6l-2.5-2.5l-0.7-2.8z"/><path class="q91" d="M635.6 192.7l0.6 3.2l-2.5-2.7l-0.6-3.5z"/><path class="q98" d="M634.9 189.5l0.7 3.2l-2.5-3l-0.7-3.7z"/><path class="q113" d="M631.8 182.6l0.6 3.4l-2.5-3.2l-0.7-3.8z"/><path class="q120" d="M631.1 179.7l0.7 2.9l-2.6-3.6l-0.6-3.1z"/><path class="q126" d="M630.4 177.7l0.7 2l-2.5-3.8l-0.8-2.1z"/><path class="q136" d="M625.5 173.5l2.3 0.3l-2.5-2.9l-2.4 0.3z"/><path class="q138" d="M620.6 172.7l2.3-1.5l-2.6-1.7l-2.3 1.1z"/><path class="q141" d="M615.6 171.5l2.4-0.9l-2.7-2.3l-2.3 0.5z"/><path class="q143" d="M610.6 170.5l2.4-1.7l-2.7-2l-2.3 2z"/><path class="q138" d="M605.6 172.6l2.4-3.8l-2.7 0.1l-2.4 4.1z"/><path class="q127" d="M601.8 175.6l1.1-2.6l-2.6 2.7l-1.2 2.5z"/><path class="q122" d="M600.6 178.6l1.2-3l-2.7 2.6l-1.2 2.7z"/><path class="q110" d="M596.7 183.6l1.2-2.7l-2.6 2.8l-1.2 2.4z"/><path class="q105" d="M595.5 186.3l1.2-2.7l-2.6 2.5l-1.2 2.3z"/><path class="q95" d="M590.6 191.4l2.3-3l-2.6 1.2l-2.4 2.6z"/><path class="q44" d="M647.2 214.8l1 1.5l-2.4-1.6l-1.1-1.8z"/><path class="q49" d="M646.2 212.4l1 2.4l-2.5-1.9l-1-2.7z"/><path class="q58" d="M643.1 208.1l0.6 2.1l-2.4-2.1l-0.7-2.3z"/><path class="q64" d="M642.4 205.9l0.7 2.2l-2.5-2.3l-0.6-2.5z"/><path class="q69" d="M641.8 203.8l0.6 2.1l-2.4-2.6l-0.7-2.3z"/><path class="q79" d="M638.7 198.7l0.6 2.3l-2.4-2.5l-0.7-2.6z"/><path class="q86" d="M638 195.8l0.7 2.9l-2.5-2.8l-0.6-3.2z"/><path class="q93" d="M637.4 192.9l0.6 2.9l-2.4-3.1l-0.7-3.2z"/><path class="q106" d="M634.3 186.4l0.6 3.1l-2.5-3.5l-0.6-3.4z"/><path class="q113" d="M633.6 183.7l0.7 2.7l-2.5-3.8l-0.7-2.9z"/><path class="q119" d="M632.9 181.8l0.7 1.9l-2.5-4l-0.7-2z"/><path class="q130" d="M628.1 176.4l2.3 1.3l-2.6-3.9l-2.3-0.3z"/><path class="q135" d="M623.2 174.7l2.3-1.2l-2.6-2.3l-2.3 1.5z"/><path class="q137" d="M618.2 173.7l2.4-1l-2.6-2.1l-2.4 0.9z"/><path class="q140" d="M613.3 172.9l2.3-1.4l-2.6-2.7l-2.4 1.7z"/><path class="q138" d="M608.3 173.9l2.3-3.4l-2.6-1.7l-2.4 3.8z"/><path class="q132" d="M604.4 175.2l1.2-2.6l-2.7 0.4l-1.1 2.6z"/><path class="q127" d="M603.2 178.2l1.2-3l-2.6 0.4l-1.2 3z"/><path class="q117" d="M599.4 181.6l1.2-3l-2.7 2.3l-1.2 2.7z"/><path class="q111" d="M598.2 184.6l1.2-3l-2.7 2l-1.2 2.7z"/><path class="q100" d="M593.2 189.7l2.3-3.4l-2.6 2.1l-2.3 3z"/><path class="q90" d="M588.2 194.4l2.4-3l-2.7 0.8l-2.3 2.7z"/><path class="q41" d="M649.6 216.9l1 1.2l-2.4-1.8l-1-1.5z"/><path class="q46" d="M648.6 214.9l1 2l-2.4-2.1l-1-2.4z"/><path class="q56" d="M645.2 209.6l1 2.8l-2.5-2.2l-0.9-3.2z"/><path class="q64" d="M644.2 206.9l1 2.7l-2.4-2.6l-1-3.2z"/><path class="q75" d="M641.1 201.8l0.7 2l-2.5-2.8l-0.6-2.3z"/><path class="q80" d="M640.5 199.3l0.6 2.5l-2.4-3.1l-0.7-2.9z"/><path class="q87" d="M639.8 196.7l0.7 2.6l-2.5-3.5l-0.6-2.9z"/><path class="q100" d="M636.7 190.2l0.7 2.7l-2.5-3.4l-0.6-3.1z"/><path class="q106" d="M636.1 187.8l0.6 2.4l-2.4-3.8l-0.7-2.7z"/><path class="q112" d="M635.4 186l0.7 1.8l-2.5-4.1l-0.7-1.9z"/><path class="q132" d="M625.8 177l2.3-0.6l-2.6-2.9l-2.3 1.2z"/><path class="q134" d="M620.9 175.5l2.3-0.8l-2.6-2l-2.4 1z"/><path class="q136" d="M615.9 175l2.3-1.3l-2.6-2.2l-2.3 1.4zM610.9 175.9l2.4-3l-2.7-2.4l-2.3 3.4z"/><path class="q121" d="M602 181l1.2-2.8l-2.6 0.4l-1.2 3z"/><path class="q115" d="M600.8 184l1.2-3l-2.6 0.6l-1.2 3z"/><path class="q105" d="M595.8 188.4l2.4-3.8l-2.7 1.7l-2.3 3.4z"/><path class="q94" d="M590.8 193.3l2.4-3.6l-2.6 1.7l-2.4 3z"/><path class="q85" d="M585.9 197.4l2.3-3l-2.6 0.5l-2.4 2.6z"/><path class="q124" d="M630.7 179.9l2.2 1.9l-2.5-4.1l-2.3-1.3z"/><path class="q133" d="M607.1 176.2l1.2-2.3l-2.7-1.3l-1.2 2.6z"/><path class="q128" d="M605.9 178.8l1.2-2.6l-2.7-1l-1.2 3z"/><path class="q39" d="M652 219.1l1 0.8l-2.4-1.8l-1-1.2z"/><path class="q43" d="M651 217.6l1 1.5l-2.4-2.2l-1-2z"/><path class="q52" d="M647.6 212.6l1 2.3l-2.4-2.5l-1-2.8z"/><path class="q59" d="M646.6 210.3l1 2.3l-2.4-3l-1-2.7z"/><path class="q95" d="M638 192.2l0.6 2.6l-1.2-1.9l-0.7-2.7z"/><path class="q101" d="M637.3 190l0.7 2.2l-1.3-2l-0.6-2.4z"/><path class="q91" d="M639.2 194.3l0.6 2.4l-1.2-1.9l-0.6-2.6z"/><path class="q106" d="M636.6 188.3l0.7 1.7l-1.2-2.2l-0.7-1.8z"/><path class="q97" d="M638.5 192.2l0.7 2.1l-1.2-2.1l-0.7-2.2z"/><path class="q102" d="M637.8 190.6l0.7 1.6l-1.2-2.2l-0.7-1.7z"/><path class="q131" d="M623.5 177.6l2.3-0.6l-2.6-2.3l-2.3 0.8z"/><path class="q133" d="M613.5 177.7l2.4-2.7l-2.6-2.1l-2.4 3z"/><path class="q109" d="M598.5 188.1l2.3-4.1l-2.6 0.6l-2.4 3.8z"/><path class="q88" d="M588.5 196.9l2.3-3.6l-2.6 1.1l-2.3 3z"/><path class="q81" d="M583.5 200.4l2.4-3l-2.7 0.1l-2.3 2.6z"/><path class="q70" d="M643.6 205.1l0.6 1.8l-2.4-3.1l-0.7-2z"/><path class="q75" d="M642.9 203l0.7 2.1l-2.5-3.3l-0.6-2.5z"/><path class="q80" d="M642.3 200.8l0.6 2.2l-2.4-3.7l-0.7-2.6z"/><path class="q117" d="M633.2 184l2.2 2l-2.5-4.2l-2.2-1.9z"/><path class="q127" d="M628.4 180l2.3-0.1l-2.6-3.5l-2.3 0.6z"/><path class="q133" d="M618.5 176.9l2.4-1.4l-2.7-1.8l-2.3 1.3z"/><path class="q131" d="M609.7 177.8l1.2-1.9l-2.6-2l-1.2 2.3z"/><path class="q127" d="M608.5 179.9l1.2-2.1l-2.6-1.6l-1.2 2.6z"/><path class="q122" d="M604.7 181.5l1.2-2.7l-2.7-0.6l-1.2 2.8z"/><path class="q117" d="M603.5 184.3l1.2-2.8l-2.7-0.5l-1.2 3z"/><path class="q98" d="M593.5 192.5l2.3-4.1l-2.6 1.3l-2.4 3.6z"/><path class="q48" d="M650 215.8l1 1.8l-2.4-2.7l-1-2.3z"/><path class="q53" d="M649 214.1l1 1.7l-2.4-3.2l-1-2.3z"/><path class="q83" d="M586.1 200.3l2.4-3.4l-2.6 0.5l-2.4 3z"/><path class="q38" d="M653.3 220.4l2.1 1.6l-2.4-2.1l-2-2.3z"/><path class="q67" d="M644.4 206l1 2.6l-1.2-1.7l-1-2.8z"/><path class="q64" d="M645.6 208l1 2.3l-1.2-1.7l-1-2.6z"/><path class="q74" d="M643.4 203l1 3l-1.2-1.9l-0.9-3.3z"/><path class="q70" d="M644.6 205.4l1 2.6l-1.2-2l-1-3z"/><path class="q89" d="M640.1 195.5l1 3.2l-1.3-2l-0.9-3.5z"/><path class="q85" d="M641.3 197.9l1 2.9l-1.2-2.1l-1-3.2z"/><path class="q96" d="M639 193.1l1.1 2.4l-1.2-2.3l-1.1-2.6z"/><path class="q92" d="M640.2 195.6l1.1 2.3l-1.2-2.4l-1.1-2.4z"/><path class="q111" d="M634.4 186.3l2.2 2l-1.2-2.3l-2.2-2z"/><path class="q106" d="M635.6 188.7l2.2 1.9l-1.2-2.3l-2.2-2z"/><path class="q120" d="M630.9 183.9l2.3 0.1l-2.5-4.1l-2.3 0.1z"/><path class="q127" d="M626 180.5l2.4-0.5l-2.6-3l-2.3 0.6z"/><path class="q130" d="M621.1 179l2.4-1.4l-2.6-2.1l-2.4 1.4zM616.1 179.5l2.4-2.6l-2.6-1.9l-2.4 2.7z"/><path class="q127" d="M611.1 181.4l2.4-3.7l-2.6-1.8l-2.4 4z"/><path class="q122" d="M607.3 182.4l1.2-2.5l-2.6-1.1l-1.2 2.7z"/><path class="q117" d="M606.1 185l1.2-2.6l-2.6-0.9l-1.2 2.8z"/><path class="q110" d="M601.1 188.3l2.4-4l-2.7-0.3l-2.3 4.1z"/><path class="q101" d="M596.1 192.4l2.4-4.3l-2.7 0.3l-2.3 4.1z"/><path class="q91" d="M591.1 196.6l2.4-4.1l-2.7 0.8l-2.3 3.6z"/><path class="q76" d="M581.2 203.2l2.3-2.8l-2.6-0.3l-2.3 2.6z"/><path class="q34" d="M655.7 223.3l2.1 0.9l-2.4-2.2l-2.1-1.6z"/><path class="q43" d="M652.3 219.2l1 1.2l-2.3-2.8l-1-1.8z"/><path class="q47" d="M651.3 218l1 1.2l-2.3-3.4l-1-1.7z"/><path class="q60" d="M646.8 210.2l1 2l-1.2-1.9l-1-2.3z"/><path class="q57" d="M648 212.4l1 1.7l-1.2-1.9l-1-2z"/><path class="q66" d="M645.8 207.9l1 2.3l-1.2-2.2l-1-2.6z"/><path class="q62" d="M646.9 210.5l1.1 1.9l-1.2-2.2l-1-2.3z"/><path class="q81" d="M642.5 200.3l0.9 2.7l-1.1-2.2l-1-2.9z"/><path class="q77" d="M643.6 203l1 2.4l-1.2-2.4l-0.9-2.7z"/><path class="q87" d="M641.4 198.3l1.1 2l-1.2-2.4l-1.1-2.3z"/><path class="q82" d="M642.6 201.2l1 1.8l-1.1-2.7l-1.1-2z"/><path class="q102" d="M636.8 191.3l2.2 1.8l-1.2-2.5l-2.2-1.9z"/><path class="q97" d="M638 193.9l2.2 1.7l-1.2-2.5l-2.2-1.8z"/><path class="q115" d="M632.1 186.1l2.3 0.2l-1.2-2.3l-2.3-0.1z"/><path class="q110" d="M633.4 188.4l2.2 0.3l-1.2-2.4l-2.3-0.2z"/><path class="q121" d="M628.6 184.2l2.3-0.3l-2.5-3.9l-2.4 0.5z"/><path class="q127" d="M618.8 181.6l2.3-2.6l-2.6-2.1l-2.4 2.6z"/><path class="q121" d="M609.9 183.6l1.2-2.2l-2.6-1.5l-1.2 2.5z"/><path class="q116" d="M608.7 186.2l1.2-2.6l-2.6-1.2l-1.2 2.6z"/><path class="q111" d="M603.7 189.1l2.4-4.1l-2.6-0.7l-2.4 4z"/><path class="q105" d="M599.9 190.5l1.2-2.2l-2.6-0.2l-1.2 2.1z"/><path class="q101" d="M598.7 192.8l1.2-2.3l-2.6-0.3l-1.2 2.2z"/><path class="q94" d="M593.7 196.8l2.4-4.4l-2.6 0.1l-2.4 4.1z"/><path class="q85" d="M588.8 200.5l2.3-3.9l-2.6 0.3l-2.4 3.4z"/><path class="q77" d="M583.8 203.5l2.3-3.2l-2.6 0.1l-2.3 2.8z"/><path class="q72" d="M578.8 206.2l2.4-3l-2.6-0.5l-2.4 2.8z"/><path class="q126" d="M623.7 181.9l2.3-1.4l-2.5-2.9l-2.4 1.4z"/><path class="q125" d="M613.8 183l2.3-3.5l-2.6-1.8l-2.4 3.7z"/><path class="q30" d="M658 226.4l2.1 0.4l-2.3-2.6l-2.1-0.9z"/><path class="q40" d="M653.6 221.7l2.1 1.6l-2.4-2.9l-2-2.4z"/><path class="q72" d="M644.8 205.8l1 2.1l-1.2-2.5l-1-2.4z"/><path class="q67" d="M645.9 208.7l1 1.8l-1.1-2.6l-1-2.1z"/><path class="q77" d="M643.7 204.3l1.1 1.5l-1.2-2.8l-1-1.8z"/><path class="q71" d="M644.9 207.4l1 1.3l-1.1-2.9l-1.1-1.5z"/><path class="q106" d="M634.6 190.9l2.2 0.4l-1.2-2.6l-2.2-0.3z"/><path class="q101" d="M635.8 193.6l2.2 0.3l-1.2-2.6l-2.2-0.4z"/><path class="q116" d="M629.8 186.4l2.3-0.3l-1.2-2.2l-2.3 0.3z"/><path class="q112" d="M631.1 188.8l2.3-0.4l-1.3-2.3l-2.3 0.3z"/><path class="q110" d="M606.3 190.3l2.4-4.1l-2.6-1.2l-2.4 4.1z"/><path class="q105" d="M602.5 191.3l1.2-2.2l-2.6-0.8l-1.2 2.2z"/><path class="q101" d="M601.3 193.7l1.2-2.4l-2.6-0.8l-1.2 2.3z"/><path class="q86" d="M591.4 201.1l2.3-4.3l-2.6-0.2l-2.3 3.9z"/><path class="q72" d="M581.4 206.7l2.4-3.2l-2.6-0.3l-2.4 3z"/><path class="q67" d="M576.5 209.1l2.3-2.9l-2.6-0.7l-2.3 2.8z"/><path class="q53" d="M649.1 214.6l1 1.5l-1.1-2l-1-1.7z"/><path class="q50" d="M650.3 216.8l1 1.2l-1.2-1.9l-1-1.5z"/><path class="q58" d="M648.1 213l1 1.6l-1.1-2.2l-1.1-1.9z"/><path class="q53" d="M649.2 215.5l1.1 1.3l-1.2-2.2l-1-1.6z"/><path class="q92" d="M639.2 196.7l2.2 1.6l-1.2-2.7l-2.2-1.7z"/><path class="q87" d="M640.4 199.8l2.2 1.4l-1.2-2.9l-2.2-1.6z"/><path class="q120" d="M626.2 185.7l2.4-1.5l-2.6-3.7l-2.3 1.4z"/><path class="q123" d="M621.3 184.5l2.4-2.6l-2.6-2.9l-2.3 2.6z"/><path class="q122" d="M616.4 185l2.4-3.4l-2.7-2.1l-2.3 3.5z"/><path class="q119" d="M612.6 185.2l1.2-2.2l-2.7-1.6l-1.2 2.2z"/><path class="q115" d="M611.3 187.8l1.3-2.6l-2.7-1.6l-1.2 2.6z"/><path class="q97" d="M597.5 195.2l1.2-2.4l-2.6-0.4l-1.2 2.2z"/><path class="q93" d="M596.4 197.5l1.1-2.3l-2.6-0.6l-1.2 2.2z"/><path class="q79" d="M586.4 204l2.4-3.5l-2.7-0.2l-2.3 3.2z"/><path class="q26" d="M660.3 229.5l2.2 0l-2.4-2.7l-2.1-0.4z"/><path class="q34" d="M655.9 225.6l2.1 0.8l-2.3-3.1l-2.1-1.6z"/><path class="q107" d="M632.3 191.3l2.3-0.4l-1.2-2.5l-2.3 0.4z"/><path class="q103" d="M633.5 193.9l2.3-0.3l-1.2-2.7l-2.3 0.4z"/><path class="q105" d="M605.2 192.6l1.1-2.3l-2.6-1.2l-1.2 2.2z"/><path class="q100" d="M604 195.1l1.2-2.5l-2.7-1.3l-1.2 2.4z"/><path class="q67" d="M579.1 209.9l2.3-3.2l-2.6-0.5l-2.3 2.9z"/><path class="q63" d="M574.1 211.8l2.4-2.7l-2.6-0.8l-2.4 2.6z"/><path class="q48" d="M650.4 217.9l2.1 2l-1.2-1.9l-2.1-2.5z"/><path class="q44" d="M651.5 220.2l2.1 1.5l-1.1-1.8l-2.1-2z"/><path class="q62" d="M647.1 211.6l1 1.4l-1.2-2.5l-1-1.8z"/><path class="q66" d="M646 210.5l1.1 1.1l-1.2-2.9l-1-1.3z"/><path class="q57" d="M648.2 214.4l1 1.1l-1.1-2.5l-1-1.4z"/><path class="q60" d="M647.2 213.6l1 0.8l-1.1-2.8l-1.1-1.1z"/><path class="q81" d="M641.6 203.1l2.1 1.2l-1.1-3.1l-2.2-1.4z"/><path class="q75" d="M642.7 206.4l2.2 1l-1.2-3.1l-2.1-1.2z"/><path class="q96" d="M637 196.4l2.2 0.3l-1.2-2.8l-2.2-0.3z"/><path class="q91" d="M638.2 199.5l2.2 0.3l-1.2-3.1l-2.2-0.3z"/><path class="q115" d="M627.5 187.9l2.3-1.5l-1.2-2.2l-2.4 1.5z"/><path class="q111" d="M628.7 190.2l2.4-1.4l-1.3-2.4l-2.3 1.5z"/><path class="q118" d="M623.9 188.2l2.3-2.5l-2.5-3.8l-2.4 2.6zM618.9 187.8l2.4-3.3l-2.5-2.9l-2.4 3.4z"/><path class="q117" d="M615.2 187.2l1.2-2.2l-2.6-2l-1.2 2.2z"/><path class="q113" d="M613.9 189.9l1.3-2.7l-2.6-2l-1.3 2.6z"/><path class="q109" d="M609 192.1l2.3-4.3l-2.6-1.6l-2.4 4.1z"/><path class="q97" d="M600.2 196.1l1.1-2.4l-2.6-0.9l-1.2 2.4z"/><path class="q93" d="M599 198.5l1.2-2.4l-2.7-0.9l-1.1 2.3z"/><path class="q87" d="M594 201.9l2.4-4.4l-2.7-0.7l-2.3 4.3z"/><path class="q80" d="M589 204.8l2.4-3.7l-2.6-0.6l-2.4 3.5z"/><path class="q73" d="M584.1 207.5l2.3-3.5l-2.6-0.5l-2.4 3.2z"/><path class="q29" d="M658.2 229.2l2.1 0.3l-2.3-3.1l-2.1-0.8z"/><path class="q63" d="M576.8 212.7l2.3-2.8l-2.6-0.8l-2.4 2.7z"/><path class="q22" d="M662.6 232.5l2.2-0.4l-2.3-2.6l-2.2 0z"/><path class="q39" d="M653.8 224.8l2.1 0.8l-2.3-3.9l-2.1-1.5z"/><path class="q54" d="M648.3 216.4l2.1 1.5l-1.2-2.4l-2-1.9z"/><path class="q49" d="M649.4 219.1l2.1 1.1l-1.1-2.3l-2.1-1.5z"/><path class="q69" d="M643.8 209.8l2.2 0.7l-1.1-3.1l-2.2-1z"/><path class="q64" d="M645 213l2.2 0.6l-1.2-3.1l-2.2-0.7z"/><path class="q85" d="M639.3 202.9l2.3 0.2l-1.2-3.3l-2.2-0.3z"/><path class="q78" d="M640.5 206.3l2.2 0.1l-1.1-3.3l-2.3-0.2z"/><path class="q98" d="M634.7 196.8l2.3-0.4l-1.2-2.8l-2.3 0.3z"/><path class="q92" d="M635.9 200l2.3-0.5l-1.2-3.1l-2.3 0.4z"/><path class="q107" d="M630 192.7l2.3-1.4l-1.2-2.5l-2.4 1.4z"/><path class="q102" d="M631.2 195.3l2.3-1.4l-1.2-2.6l-2.3 1.4z"/><path class="q110" d="M626.4 192.6l2.3-2.4l-2.5-4.5l-2.3 2.5z"/><path class="q113" d="M621.5 191.5l2.4-3.3l-2.6-3.7l-2.4 3.3zM617.7 190l1.2-2.2l-2.5-2.8l-1.2 2.2z"/><path class="q109" d="M616.5 192.7l1.2-2.7l-2.5-2.8l-1.3 2.7z"/><path class="q106" d="M611.6 194.4l2.3-4.5l-2.6-2.1l-2.3 4.3z"/><path class="q103" d="M607.8 194.5l1.2-2.4l-2.7-1.8l-1.1 2.3z"/><path class="q99" d="M606.6 197.2l1.2-2.7l-2.6-1.9l-1.2 2.5z"/><path class="q96" d="M602.8 197.6l1.2-2.5l-2.7-1.4l-1.1 2.4z"/><path class="q92" d="M601.6 200.2l1.2-2.6l-2.6-1.5l-1.2 2.4z"/><path class="q88" d="M597.8 200.9l1.2-2.4l-2.6-1l-1.2 2.2z"/><path class="q84" d="M596.6 203.2l1.2-2.3l-2.6-1.2l-1.2 2.2z"/><path class="q80" d="M591.6 205.9l2.4-4l-2.6-0.8l-2.4 3.7z"/><path class="q73" d="M586.7 208.5l2.3-3.7l-2.6-0.8l-2.3 3.5z"/><path class="q68" d="M581.7 210.8l2.4-3.3l-2.7-0.8l-2.3 3.2z"/><path class="q59" d="M571.8 214.1l2.3-2.3l-2.6-0.9l-2.3 2.2z"/><path class="q17" d="M664.9 235.9l2.1-0.4l-2.2-3.4l-2.2 0.4z"/><path class="q24" d="M660.5 232.7l2.1-0.2l-2.3-3l-2.1-0.3z"/><path class="q32" d="M656.1 229l2.1 0.2l-2.3-3.6l-2.1-0.8z"/><path class="q45" d="M650.6 221.7l2.1 0.8l-1.2-2.3l-2.1-1.1z"/><path class="q41" d="M651.7 224.3l2.1 0.5l-1.1-2.3l-2.1-0.8z"/><path class="q58" d="M646.1 216.1l2.2 0.3l-1.1-2.8l-2.2-0.6z"/><path class="q53" d="M647.2 219l2.2 0.1l-1.1-2.7l-2.2-0.3z"/><path class="q72" d="M641.6 209.8l2.2 0l-1.1-3.4l-2.2-0.1z"/><path class="q66" d="M642.8 213.2l2.2-0.2l-1.2-3.2l-2.2 0z"/><path class="q86" d="M637.1 203.4l2.2-0.5l-1.1-3.4l-2.3 0.5z"/><path class="q80" d="M638.2 207l2.3-0.7l-1.2-3.4l-2.2 0.5z"/><path class="q97" d="M632.4 198.2l2.3-1.4l-1.2-2.9l-2.3 1.4z"/><path class="q92" d="M633.6 201.4l2.3-1.4l-1.2-3.2l-2.3 1.4z"/><path class="q104" d="M627.6 195.1l2.4-2.4l-1.3-2.5l-2.3 2.4z"/><path class="q100" d="M628.8 197.7l2.4-2.4l-1.2-2.6l-2.4 2.4z"/><path class="q106" d="M624 195.9l2.4-3.3l-2.5-4.4l-2.4 3.3z"/><path class="q108" d="M620.3 193.6l1.2-2.1l-2.6-3.7l-1.2 2.2z"/><path class="q104" d="M619.1 196.2l1.2-2.6l-2.6-3.6l-1.2 2.7z"/><path class="q103" d="M614.1 197.2l2.4-4.5l-2.6-2.8l-2.3 4.5z"/><path class="q100" d="M610.4 197l1.2-2.6l-2.6-2.3l-1.2 2.4z"/><path class="q96" d="M609.1 199.7l1.3-2.7l-2.6-2.5l-1.2 2.7z"/><path class="q94" d="M605.4 199.8l1.2-2.6l-2.6-2.1l-1.2 2.5z"/><path class="q89" d="M604.2 202.5l1.2-2.7l-2.6-2.2l-1.2 2.6z"/><path class="q87" d="M600.4 202.6l1.2-2.4l-2.6-1.7l-1.2 2.4z"/><path class="q83" d="M599.2 205l1.2-2.4l-2.6-1.7l-1.2 2.3z"/><path class="q79" d="M594.3 207.3l2.3-4.1l-2.6-1.3l-2.4 4z"/><path class="q73" d="M589.3 209.7l2.3-3.8l-2.6-1.1l-2.3 3.7z"/><path class="q68" d="M584.3 212l2.4-3.5l-2.6-1l-2.4 3.3z"/><path class="q63" d="M579.4 213.8l2.3-3l-2.6-0.9l-2.3 2.8z"/><path class="q59" d="M574.4 215.1l2.4-2.4l-2.7-0.9l-2.3 2.3z"/><path class="q57" d="M569.5 215.1l2.3-1l-2.6-1l-2.4 0.9z"/><path class="q13" d="M667.2 238.5l2.1-0.3l-2.3-2.7l-2.1 0.4z"/><path class="q19" d="M662.8 236.1l2.1-0.2l-2.3-3.4l-2.1 0.2z"/><path class="q26" d="M658.4 232.8l2.1-0.1l-2.3-3.5l-2.1-0.2z"/><path class="q37" d="M652.8 226.8l2.2 0.1l-1.2-2.1l-2.1-0.5z"/><path class="q33" d="M653.9 229.1l2.2-0.1l-1.1-2.1l-2.2-0.1z"/><path class="q48" d="M648.4 221.9l2.2-0.2l-1.2-2.6l-2.2-0.1z"/><path class="q43" d="M649.5 224.7l2.2-0.4l-1.1-2.6l-2.2 0.2z"/><path class="q60" d="M643.9 216.4l2.2-0.3l-1.1-3.1l-2.2 0.2z"/><path class="q55" d="M645 219.5l2.2-0.5l-1.1-2.9l-2.2 0.3z"/><path class="q73" d="M639.4 210.5l2.2-0.7l-1.1-3.5l-2.3 0.7z"/><path class="q67" d="M640.5 214l2.3-0.8l-1.2-3.4l-2.2 0.7z"/><path class="q86" d="M634.8 204.9l2.3-1.5l-1.2-3.4l-2.3 1.4z"/><path class="q79" d="M635.9 208.4l2.3-1.4l-1.1-3.6l-2.3 1.5z"/><path class="q95" d="M630.1 200.5l2.3-2.3l-1.2-2.9l-2.4 2.4z"/><path class="q89" d="M631.3 203.7l2.3-2.3l-1.2-3.2l-2.3 2.3z"/><path class="q100" d="M625.2 198.3l2.4-3.2l-1.2-2.5l-2.4 3.3z"/><path class="q96" d="M626.5 200.9l2.3-3.2l-1.2-2.6l-2.4 3.2z"/><path class="q102" d="M622.8 197.9l1.2-2l-2.5-4.4l-1.2 2.1z"/><path class="q97" d="M621.6 200.4l1.2-2.5l-2.5-4.3l-1.2 2.6z"/><path class="q98" d="M616.7 200.5l2.4-4.3l-2.6-3.5l-2.4 4.5z"/><path class="q96" d="M612.9 199.8l1.2-2.6l-2.5-2.8l-1.2 2.6z"/><path class="q92" d="M611.7 202.6l1.2-2.8l-2.5-2.8l-1.3 2.7z"/><path class="q91" d="M607.9 202.5l1.2-2.8l-2.5-2.5l-1.2 2.6z"/><path class="q86" d="M606.7 205.3l1.2-2.8l-2.5-2.7l-1.2 2.7z"/><path class="q85" d="M603 205.1l1.2-2.6l-2.6-2.3l-1.2 2.4z"/><path class="q80" d="M601.8 207.6l1.2-2.5l-2.6-2.5l-1.2 2.4z"/><path class="q78" d="M596.9 209.2l2.3-4.2l-2.6-1.8l-2.3 4.1z"/><path class="q72" d="M591.9 211.3l2.4-4l-2.7-1.4l-2.3 3.8z"/><path class="q67" d="M587 213.5l2.3-3.8l-2.6-1.2l-2.4 3.5z"/><path class="q62" d="M582 215.2l2.3-3.2l-2.6-1.2l-2.3 3z"/><path class="q59" d="M577.1 216.3l2.3-2.5l-2.6-1.1l-2.4 2.4z"/><path class="q57" d="M572.1 216.1l2.3-1l-2.6-1l-2.3 1zM567.1 215.8l2.4-0.7l-2.7-1.1l-2.3 0.8z"/><path class="q14" d="M665.1 238.6l2.1-0.1l-2.3-2.6l-2.1 0.2z"/><path class="q21" d="M660.7 236.5l2.1-0.4l-2.3-3.4l-2.1 0.1z"/><path class="q28" d="M656.2 233.3l2.2-0.5l-2.3-3.8l-2.2 0.1z"/><path class="q49" d="M646.2 222.5l2.2-0.6l-1.2-2.9l-2.2 0.5z"/><path class="q44" d="M647.3 225.6l2.2-0.9l-1.1-2.8l-2.2 0.6z"/><path class="q61" d="M641.7 217.3l2.2-0.9l-1.1-3.2l-2.3 0.8z"/><path class="q55" d="M642.8 220.4l2.2-0.9l-1.1-3.1l-2.2 0.9z"/><path class="q83" d="M632.4 207.1l2.4-2.2l-1.2-3.5l-2.3 2.3z"/><path class="q77" d="M633.6 210.6l2.3-2.2l-1.1-3.5l-2.4 2.2z"/><path class="q94" d="M622.8 202.7l2.4-4.4l-1.2-2.4l-2.4 4.5z"/><path class="q89" d="M624.1 205.1l2.4-4.2l-1.3-2.6l-2.4 4.4z"/><path class="q92" d="M619.2 204.5l2.4-4.1l-2.5-4.2l-2.4 4.3zM615.5 203.1l1.2-2.6l-2.6-3.3l-1.2 2.6z"/><path class="q87" d="M614.3 205.7l1.2-2.6l-2.6-3.3l-1.2 2.8z"/><path class="q81" d="M605.6 208.1l1.1-2.8l-2.5-2.8l-1.2 2.6z"/><path class="q76" d="M604.4 210.6l1.2-2.5l-2.6-3l-1.2 2.5z"/><path class="q71" d="M594.5 213.3l2.4-4.1l-2.6-1.9l-2.4 4z"/><path class="q66" d="M589.6 215.2l2.3-3.9l-2.6-1.6l-2.3 3.8z"/><path class="q58" d="M579.7 217.8l2.3-2.6l-2.6-1.4l-2.3 2.5z"/><path class="q57" d="M574.7 217.4l2.4-1.1l-2.7-1.2l-2.3 1zM569.8 216.9l2.3-0.8l-2.6-1l-2.4 0.7z"/><path class="q39" d="M650.6 227.4l2.2-0.6l-1.1-2.5l-2.2 0.4z"/><path class="q34" d="M651.8 230l2.1-0.9l-1.1-2.3l-2.2 0.6z"/><path class="q73" d="M637.1 212l2.3-1.5l-1.2-3.5l-2.3 1.4z"/><path class="q66" d="M638.2 215.5l2.3-1.5l-1.1-3.5l-2.3 1.5z"/><path class="q91" d="M627.7 203.6l2.4-3.1l-1.3-2.8l-2.3 3.2z"/><path class="q86" d="M628.9 206.6l2.4-2.9l-1.2-3.2l-2.4 3.1z"/><path class="q87" d="M610.5 205.4l1.2-2.8l-2.6-2.9l-1.2 2.8z"/><path class="q82" d="M609.3 208.3l1.2-2.9l-2.6-2.9l-1.2 2.8z"/><path class="q75" d="M599.4 211.9l2.4-4.3l-2.6-2.6l-2.3 4.2z"/><path class="q61" d="M584.6 216.9l2.4-3.4l-2.7-1.5l-2.3 3.2z"/><path class="q22" d="M658.5 237.2l2.2-0.7l-2.3-3.7l-2.2 0.5z"/><path class="q50" d="M643.9 223.5l2.3-1l-1.2-3l-2.2 0.9z"/><path class="q44" d="M645.1 226.6l2.2-1l-1.1-3.1l-2.3 1z"/><path class="q87" d="M620.5 206.6l2.3-3.9l-1.2-2.3l-2.4 4.1z"/><path class="q83" d="M621.7 208.9l2.4-3.8l-1.3-2.4l-2.3 3.9z"/><path class="q86" d="M618 206.8l1.2-2.3l-2.5-4l-1.2 2.6z"/><path class="q82" d="M616.8 209.3l1.2-2.5l-2.5-3.7l-1.2 2.6z"/><path class="q64" d="M592.2 217.3l2.3-4l-2.6-2l-2.3 3.9z"/><path class="q56" d="M577.4 218.9l2.3-1.1l-2.6-1.5l-2.4 1.1z"/><path class="q16" d="M663 239l2.1-0.4l-2.3-2.5l-2.1 0.4z"/><path class="q29" d="M654 234.5l2.2-1.2l-2.3-4.2l-2.1 0.9z"/><path class="q39" d="M648.4 228.4l2.2-1l-1.1-2.7l-2.2 0.9z"/><path class="q35" d="M649.5 231.1l2.3-1.1l-1.2-2.6l-2.2 1z"/><path class="q60" d="M639.4 218.8l2.3-1.5l-1.2-3.3l-2.3 1.5z"/><path class="q55" d="M640.5 221.9l2.3-1.5l-1.1-3.1l-2.3 1.5z"/><path class="q71" d="M634.8 214.1l2.3-2.1l-1.2-3.6l-2.3 2.2z"/><path class="q64" d="M635.9 217.5l2.3-2l-1.1-3.5l-2.3 2.1z"/><path class="q80" d="M630.1 209.9l2.3-2.8l-1.1-3.4l-2.4 2.9z"/><path class="q74" d="M631.3 213.2l2.3-2.6l-1.2-3.5l-2.3 2.8z"/><path class="q85" d="M625.3 207.7l2.4-4.1l-1.2-2.7l-2.4 4.2z"/><path class="q80" d="M626.5 210.6l2.4-4l-1.2-3l-2.4 4.1z"/><path class="q82" d="M613.1 208.5l1.2-2.8l-2.6-3.1l-1.2 2.8z"/><path class="q77" d="M611.9 211.2l1.2-2.7l-2.6-3.1l-1.2 2.9zM608.1 211.1l1.2-2.8l-2.6-3l-1.1 2.8z"/><path class="q72" d="M606.9 213.6l1.2-2.5l-2.5-3l-1.2 2.5z"/><path class="q71" d="M602 215l2.4-4.4l-2.6-3l-2.4 4.3z"/><path class="q68" d="M597.1 216l2.3-4.1l-2.5-2.7l-2.4 4.1z"/><path class="q60" d="M587.2 218.7l2.4-3.5l-2.6-1.7l-2.4 3.4z"/><path class="q57" d="M582.3 219.6l2.3-2.7l-2.6-1.7l-2.3 2.6zM572.4 218.1l2.3-0.7l-2.6-1.3l-2.3 0.8z"/><path class="q17" d="M660.9 239.7l2.1-0.7l-2.3-2.5l-2.2 0.7z"/><path class="q28" d="M651.8 236l2.2-1.5l-2.2-4.5l-2.3 1.1z"/><path class="q39" d="M646.2 229.6l2.2-1.2l-1.1-2.8l-2.2 1z"/><path class="q34" d="M647.3 232.3l2.2-1.2l-1.1-2.7l-2.2 1.2z"/><path class="q59" d="M637.1 220.7l2.3-1.9l-1.2-3.3l-2.3 2z"/><path class="q53" d="M638.3 223.7l2.2-1.8l-1.1-3.1l-2.3 1.9z"/><path class="q75" d="M627.7 213.6l2.4-3.7l-1.2-3.3l-2.4 4z"/><path class="q69" d="M628.9 216.8l2.4-3.6l-1.2-3.3l-2.4 3.7z"/><path class="q79" d="M622.9 211.3l2.4-3.6l-1.2-2.6l-2.4 3.8z"/><path class="q74" d="M624.2 214.1l2.3-3.5l-1.2-2.9l-2.4 3.6z"/><path class="q79" d="M620.5 211.1l1.2-2.2l-2.5-4.4l-1.2 2.3z"/><path class="q76" d="M619.3 213.3l1.2-2.2l-2.5-4.3l-1.2 2.5z"/><path class="q77" d="M615.6 211.8l1.2-2.5l-2.5-3.6l-1.2 2.8z"/><path class="q73" d="M614.4 214.4l1.2-2.6l-2.5-3.3l-1.2 2.7zM610.7 213.9l1.2-2.7l-2.6-2.9l-1.2 2.8z"/><path class="q68" d="M609.5 216.4l1.2-2.5l-2.6-2.8l-1.2 2.5z"/><path class="q64" d="M599.7 219.1l2.3-4.1l-2.6-3.1l-2.3 4.1z"/><path class="q58" d="M589.8 220.9l2.4-3.6l-2.6-2.1l-2.4 3.5z"/><path class="q55" d="M584.9 221.6l2.3-2.9l-2.6-1.8l-2.3 2.7z"/><path class="q56" d="M575 219.7l2.4-0.8l-2.7-1.5l-2.3 0.7z"/><path class="q22" d="M656.3 238.4l2.2-1.2l-2.3-3.9l-2.2 1.2z"/><path class="q49" d="M641.7 225l2.2-1.5l-1.1-3.1l-2.3 1.5z"/><path class="q44" d="M642.8 228l2.3-1.4l-1.2-3.1l-2.2 1.5z"/><path class="q68" d="M632.5 216.6l2.3-2.5l-1.2-3.5l-2.3 2.6z"/><path class="q62" d="M633.6 219.9l2.3-2.4l-1.1-3.4l-2.3 2.5z"/><path class="q66" d="M604.6 218l2.3-4.4l-2.5-3l-2.4 4.4z"/><path class="q61" d="M594.8 220l2.3-4l-2.6-2.7l-2.3 4z"/><path class="q55" d="M580 220.8l2.3-1.2l-2.6-1.8l-2.3 1.1z"/><path class="q28" d="M649.6 237.2l2.2-1.2l-2.3-4.9l-2.2 1.2z"/><path class="q69" d="M625.4 217l2.3-3.4l-1.2-3l-2.3 3.5z"/><path class="q64" d="M626.6 220l2.3-3.2l-1.2-3.2l-2.3 3.4z"/><path class="q68" d="M613.2 216.9l1.2-2.5l-2.5-3.2l-1.2 2.7z"/><path class="q64" d="M612 219.2l1.2-2.3l-2.5-3l-1.2 2.5z"/><path class="q53" d="M587.5 223.8l2.3-2.9l-2.6-2.2l-2.3 2.9z"/><path class="q18" d="M658.7 241l2.2-1.3l-2.4-2.5l-2.2 1.2z"/><path class="q22" d="M654.1 239.9l2.2-1.5l-2.3-3.9l-2.2 1.5z"/><path class="q39" d="M644 230.9l2.2-1.3l-1.1-3l-2.3 1.4z"/><path class="q34" d="M645.1 233.6l2.2-1.3l-1.1-2.7l-2.2 1.3z"/><path class="q48" d="M639.4 226.7l2.3-1.7l-1.2-3.1l-2.2 1.8z"/><path class="q43" d="M640.6 229.7l2.2-1.7l-1.1-3l-2.3 1.7z"/><path class="q56" d="M634.8 222.9l2.3-2.2l-1.2-3.2l-2.3 2.4z"/><path class="q51" d="M636 225.9l2.3-2.2l-1.2-3l-2.3 2.2z"/><path class="q63" d="M630.1 219.9l2.4-3.3l-1.2-3.4l-2.4 3.6z"/><path class="q58" d="M631.3 223l2.3-3.1l-1.1-3.3l-2.4 3.3z"/><path class="q72" d="M620.6 215.6l2.3-4.3l-1.2-2.4l-2.4 4.4z"/><path class="q68" d="M621.8 218.1l2.4-4l-1.3-2.8l-2.3 4.3z"/><path class="q72" d="M618.1 215.7l1.2-2.4l-2.5-4l-1.2 2.5z"/><path class="q67" d="M616.9 218l1.2-2.3l-2.5-3.9l-1.2 2.6z"/><path class="q62" d="M607.1 220.6l2.4-4.2l-2.6-2.8l-2.3 4.4z"/><path class="q60" d="M602.2 222l2.4-4l-2.6-3l-2.3 4.1z"/><path class="q57" d="M597.3 222.8l2.4-3.7l-2.6-3.1l-2.3 4z"/><path class="q55" d="M592.4 223.5l2.4-3.5l-2.6-2.7l-2.4 3.6z"/><path class="q53" d="M582.6 222.8l2.3-1.2l-2.6-2l-2.3 1.2z"/><path class="q54" d="M577.7 221.5l2.3-0.7l-2.6-1.9l-2.4 0.8z"/><path class="q17" d="M656.5 242.4l2.2-1.4l-2.4-2.6l-2.2 1.5z"/><path class="q21" d="M651.9 241.2l2.2-1.3l-2.3-3.9l-2.2 1.2z"/><path class="q28" d="M647.4 238.5l2.2-1.3l-2.3-4.9l-2.2 1.3z"/><path class="q38" d="M641.7 232.5l2.3-1.6l-1.2-2.9l-2.2 1.7z"/><path class="q33" d="M642.9 235.1l2.2-1.5l-1.1-2.7l-2.3 1.6z"/><path class="q46" d="M637.1 228.8l2.3-2.1l-1.1-3l-2.3 2.2z"/><path class="q41" d="M638.3 231.6l2.3-1.9l-1.2-3l-2.3 2.1z"/><path class="q53" d="M632.5 225.9l2.3-3l-1.2-3l-2.3 3.1z"/><path class="q48" d="M633.7 228.6l2.3-2.7l-1.2-3l-2.3 3z"/><path class="q59" d="M627.8 223l2.3-3.1l-1.2-3.1l-2.3 3.2z"/><path class="q53" d="M629 225.9l2.3-2.9l-1.2-3.1l-2.3 3.1z"/><path class="q63" d="M623 220.8l2.4-3.8l-1.2-2.9l-2.4 4z"/><path class="q59" d="M624.2 223.7l2.4-3.7l-1.2-3l-2.4 3.8z"/><path class="q63" d="M619.4 222.4l2.4-4.3l-2.5-4.8l-2.4 4.7z"/><path class="q64" d="M615.8 220.3l1.1-2.3l-2.5-3.6l-1.2 2.5z"/><path class="q60" d="M614.6 222.5l1.2-2.2l-2.6-3.4l-1.2 2.3z"/><path class="q59" d="M609.7 223.3l2.3-4.1l-2.5-2.8l-2.4 4.2z"/><path class="q56" d="M604.8 224.6l2.3-4l-2.5-2.6l-2.4 4z"/><path class="q53" d="M599.9 225.6l2.3-3.6l-2.5-2.9l-2.4 3.7z"/><path class="q52" d="M595 226.2l2.3-3.4l-2.5-2.8l-2.4 3.5z"/><path class="q50" d="M590.1 226.3l2.3-2.8l-2.6-2.6l-2.3 2.9z"/><path class="q51" d="M585.2 225l2.3-1.2l-2.6-2.2l-2.3 1.2z"/><path class="q52" d="M580.3 223.6l2.3-0.8l-2.6-2l-2.3 0.7z"/><path class="q16" d="M654.3 243.7l2.2-1.3l-2.4-2.5l-2.2 1.3z"/><path class="q21" d="M649.7 242.5l2.2-1.3l-2.3-4l-2.2 1.3z"/><path class="q27" d="M645.2 239.9l2.2-1.4l-2.3-4.9l-2.2 1.5z"/><path class="q43" d="M634.8 231.3l2.3-2.5l-1.1-2.9l-2.3 2.7z"/><path class="q38" d="M636 234l2.3-2.4l-1.2-2.8l-2.3 2.5z"/><path class="q49" d="M630.2 228.6l2.3-2.7l-1.2-2.9l-2.3 2.9z"/><path class="q44" d="M631.4 231.2l2.3-2.6l-1.2-2.7l-2.3 2.7z"/><path class="q54" d="M625.4 226.5l2.4-3.5l-1.2-3l-2.4 3.7z"/><path class="q49" d="M626.7 229.2l2.3-3.3l-1.2-2.9l-2.4 3.5z"/><path class="q57" d="M620.7 224.9l2.3-4.1l-1.2-2.7l-2.4 4.3z"/><path class="q53" d="M621.9 227.5l2.3-3.8l-1.2-2.9l-2.3 4.1z"/><path class="q56" d="M617.1 226.5l2.3-4.1l-2.5-4.4l-2.3 4.5z"/><path class="q55" d="M612.3 226.3l2.3-3.8l-2.6-3.3l-2.3 4.1z"/><path class="q52" d="M607.4 227.1l2.3-3.8l-2.6-2.7l-2.3 4z"/><path class="q50" d="M602.5 228.2l2.3-3.6l-2.6-2.6l-2.3 3.6z"/><path class="q47" d="M592.7 229l2.3-2.8l-2.6-2.7l-2.3 2.8z"/><path class="q48" d="M587.8 227.5l2.3-1.2l-2.6-2.5l-2.3 1.2z"/><path class="q50" d="M582.9 225.8l2.3-0.8l-2.6-2.2l-2.3 0.8z"/><path class="q36" d="M639.5 234.3l2.2-1.8l-1.1-2.8l-2.3 1.9z"/><path class="q32" d="M640.6 236.8l2.3-1.7l-1.2-2.6l-2.2 1.8z"/><path class="q48" d="M597.6 228.9l2.3-3.3l-2.6-2.8l-2.3 3.4z"/><path class="q20" d="M647.6 243.9l2.1-1.4l-2.3-4l-2.2 1.4z"/><path class="q40" d="M632.6 233.7l2.2-2.4l-1.1-2.7l-2.3 2.6z"/><path class="q36" d="M633.8 236.2l2.2-2.2l-1.2-2.7l-2.2 2.4z"/><path class="q44" d="M627.9 231.7l2.3-3.1l-1.2-2.7l-2.3 3.3z"/><path class="q40" d="M629.1 234.1l2.3-2.9l-1.2-2.6l-2.3 3.1z"/><path class="q51" d="M618.3 228.9l2.4-4l-1.3-2.5l-2.3 4.1z"/><path class="q47" d="M619.6 231.3l2.3-3.8l-1.2-2.6l-2.4 4z"/><path class="q49" d="M609.9 230l2.4-3.7l-2.6-3l-2.3 3.8z"/><path class="q47" d="M605.1 230.8l2.3-3.7l-2.6-2.5l-2.3 3.6z"/><path class="q45" d="M590.4 230.2l2.3-1.2l-2.6-2.7l-2.3 1.2z"/><path class="q16" d="M652.2 245.1l2.1-1.4l-2.4-2.5l-2.2 1.3z"/><path class="q26" d="M643 241.4l2.2-1.5l-2.3-4.8l-2.3 1.7z"/><path class="q34" d="M637.2 236.5l2.3-2.2l-1.2-2.7l-2.3 2.4z"/><path class="q30" d="M638.4 238.9l2.2-2.1l-1.1-2.5l-2.3 2.2z"/><path class="q48" d="M623.1 230.2l2.3-3.7l-1.2-2.8l-2.3 3.8z"/><path class="q44" d="M624.3 232.7l2.4-3.5l-1.3-2.7l-2.3 3.7z"/><path class="q50" d="M614.8 230.1l2.3-3.6l-2.5-4l-2.3 3.8z"/><path class="q45" d="M600.2 231.5l2.3-3.3l-2.6-2.6l-2.3 3.3z"/><path class="q44" d="M595.3 231.6l2.3-2.7l-2.6-2.7l-2.3 2.8z"/><path class="q48" d="M585.5 228.4l2.3-0.9l-2.6-2.5l-2.3 0.8z"/><path class="q15" d="M650 246.5l2.2-1.4l-2.5-2.6l-2.1 1.4z"/><path class="q25" d="M640.8 243.2l2.2-1.8l-2.4-4.6l-2.2 2.1z"/><path class="q30" d="M636.2 240.8l2.2-1.9l-2.4-4.9l-2.2 2.2z"/><path class="q36" d="M630.3 236.5l2.3-2.8l-1.2-2.5l-2.3 2.9z"/><path class="q33" d="M631.5 238.8l2.3-2.6l-1.2-2.5l-2.3 2.8z"/><path class="q38" d="M626.8 237.2l2.3-3.1l-2.4-4.9l-2.4 3.5z"/><path class="q43" d="M620.8 233.7l2.3-3.5l-1.2-2.7l-2.3 3.8z"/><path class="q39" d="M622 236l2.3-3.3l-1.2-2.5l-2.3 3.5z"/><path class="q43" d="M617.3 234.5l2.3-3.2l-2.5-4.8l-2.3 3.6z"/><path class="q44" d="M612.5 233.5l2.3-3.4l-2.5-3.8l-2.4 3.7z"/><path class="q43" d="M607.6 233.6l2.3-3.6l-2.5-2.9l-2.3 3.7z"/><path class="q42" d="M602.8 234l2.3-3.2l-2.6-2.6l-2.3 3.3z"/><path class="q41" d="M597.9 234.2l2.3-2.7l-2.6-2.6l-2.3 2.7z"/><path class="q44" d="M588.1 231.1l2.3-0.9l-2.6-2.7l-2.3 0.9z"/><path class="q19" d="M645.4 245.4l2.2-1.5l-2.4-4l-2.2 1.5z"/><path class="q42" d="M593 232.8l2.3-1.2l-2.6-2.6l-2.3 1.2z"/><path class="q23" d="M638.6 244.9l2.2-1.7l-2.4-4.3l-2.2 1.9z"/><path class="q27" d="M633.9 243l2.3-2.2l-2.4-4.6l-2.3 2.6z"/><path class="q34" d="M624.5 240.2l2.3-3l-2.5-4.5l-2.3 3.3z"/><path class="q39" d="M615 237.6l2.3-3.1l-2.5-4.4l-2.3 3.4zM605.3 236.8l2.3-3.2l-2.5-2.8l-2.3 3.2z"/><path class="q38" d="M600.5 236.8l2.3-2.8l-2.6-2.5l-2.3 2.7z"/><path class="q15" d="M647.8 248l2.2-1.5l-2.4-2.6l-2.2 1.5z"/><path class="q18" d="M643.2 247l2.2-1.6l-2.4-4l-2.2 1.8z"/><path class="q31" d="M629.2 241.4l2.3-2.6l-2.4-4.7l-2.3 3.1z"/><path class="q36" d="M619.8 238.9l2.2-2.9l-2.4-4.7l-2.3 3.2z"/><path class="q39" d="M610.2 236.9l2.3-3.4l-2.6-3.5l-2.3 3.6zM595.6 235.4l2.3-1.2l-2.6-2.6l-2.3 1.2z"/><path class="q41" d="M590.7 233.7l2.3-0.9l-2.6-2.6l-2.3 0.9z"/><path class="q14" d="M645.6 249.6l2.2-1.6l-2.4-2.6l-2.2 1.6z"/><path class="q17" d="M641 248.5l2.2-1.5l-2.4-3.8l-2.2 1.7z"/><path class="q21" d="M636.4 246.7l2.2-1.8l-2.4-4.1l-2.3 2.2z"/><path class="q25" d="M631.7 245.2l2.2-2.2l-2.4-4.2l-2.3 2.6z"/><path class="q28" d="M627 244l2.2-2.6l-2.4-4.2l-2.3 3z"/><path class="q30" d="M622.2 242.7l2.3-2.5l-2.5-4.2l-2.2 2.9z"/><path class="q32" d="M617.5 241.6l2.3-2.7l-2.5-4.4l-2.3 3.1z"/><path class="q34" d="M612.7 240.5l2.3-2.9l-2.5-4.1l-2.3 3.4z"/><path class="q35" d="M607.9 239.9l2.3-3l-2.6-3.3l-2.3 3.2zM603 239.5l2.3-2.7l-2.5-2.8l-2.3 2.8z"/><path class="q36" d="M598.2 238l2.3-1.2l-2.6-2.6l-2.3 1.2z"/><path class="q38" d="M593.3 236.3l2.3-0.9l-2.6-2.6l-2.3 0.9z"/><path class="q13" d="M643.4 250.9l2.2-1.3l-2.4-2.6l-2.2 1.5z"/><path class="q16" d="M638.8 250l2.2-1.5l-2.4-3.6l-2.2 1.8z"/><path class="q19" d="M634.1 248.6l2.3-1.9l-2.5-3.7l-2.2 2.2z"/><path class="q22" d="M629.4 247.4l2.3-2.2l-2.5-3.8l-2.2 2.6z"/><path class="q27" d="M620 245.1l2.2-2.4l-2.4-3.8l-2.3 2.7z"/><path class="q30" d="M610.4 243.3l2.3-2.8l-2.5-3.6l-2.3 3z"/><path class="q31" d="M605.6 242.4l2.3-2.5l-2.6-3.1l-2.3 2.7z"/><path class="q33" d="M600.8 240.7l2.2-1.2l-2.5-2.7l-2.3 1.2z"/><path class="q35" d="M595.9 238.9l2.3-0.9l-2.6-2.6l-2.3 0.9z"/><path class="q25" d="M624.7 246.2l2.3-2.2l-2.5-3.8l-2.3 2.5z"/><path class="q29" d="M615.2 244.2l2.3-2.6l-2.5-4l-2.3 2.9z"/><path class="q18" d="M631.9 250.5l2.2-1.9l-2.4-3.4l-2.3 2.2z"/><path class="q27" d="M608.2 245.6l2.2-2.3l-2.5-3.4l-2.3 2.5z"/><path class="q13" d="M641.3 252.3l2.1-1.4l-2.4-2.4l-2.2 1.5z"/><path class="q15" d="M636.6 251.6l2.2-1.6l-2.4-3.3l-2.3 1.9z"/><path class="q22" d="M622.5 248.4l2.2-2.2l-2.5-3.5l-2.2 2.4z"/><path class="q24" d="M617.7 247.4l2.3-2.3l-2.5-3.5l-2.3 2.6z"/><path class="q29" d="M603.4 243.7l2.2-1.3l-2.6-2.9l-2.2 1.2z"/><path class="q32" d="M598.5 241.7l2.3-1l-2.6-2.7l-2.3 0.9z"/><path class="q20" d="M627.2 249.4l2.2-2l-2.4-3.4l-2.3 2.2z"/><path class="q26" d="M613 246.6l2.2-2.4l-2.5-3.7l-2.3 2.8z"/><path class="q14" d="M634.4 253.2l2.2-1.6l-2.5-3l-2.2 1.9z"/><path class="q25" d="M605.9 246.8l2.3-1.2l-2.6-3.2l-2.2 1.3z"/><path class="q12" d="M639.1 253.7l2.2-1.4l-2.5-2.3l-2.2 1.6z"/><path class="q16" d="M629.7 252.2l2.2-1.7l-2.5-3.1l-2.2 2z"/><path class="q18" d="M625 251.3l2.2-1.9l-2.5-3.2l-2.2 2.2z"/><path class="q20" d="M620.3 250.4l2.2-2l-2.5-3.3l-2.3 2.3z"/><path class="q21" d="M615.5 249.6l2.2-2.2l-2.5-3.2l-2.2 2.4z"/><path class="q23" d="M610.7 248.6l2.3-2l-2.6-3.3l-2.2 2.3z"/><path class="q29" d="M601.1 244.6l2.3-0.9l-2.6-3l-2.3 1z"/><path class="q11" d="M636.9 255l2.2-1.3l-2.5-2.1l-2.2 1.6z"/><path class="q14" d="M627.5 253.9l2.2-1.7l-2.5-2.8l-2.2 1.9z"/><path class="q16" d="M622.8 253.1l2.2-1.8l-2.5-2.9l-2.2 2z"/><path class="q18" d="M618.1 252.4l2.2-2l-2.6-3l-2.2 2.2z"/><path class="q19" d="M613.3 251.4l2.2-1.8l-2.5-3l-2.3 2z"/><path class="q25" d="M603.7 247.8l2.2-1l-2.5-3.1l-2.3 0.9z"/><path class="q13" d="M632.2 254.7l2.2-1.5l-2.5-2.7l-2.2 1.7z"/><path class="q22" d="M608.5 249.9l2.2-1.3l-2.5-3l-2.3 1.2z"/><path class="q12" d="M630.1 256.1l2.1-1.4l-2.5-2.5l-2.2 1.7z"/><path class="q13" d="M625.3 255.6l2.2-1.7l-2.5-2.6l-2.2 1.8z"/><path class="q15" d="M620.6 254.9l2.2-1.8l-2.5-2.7l-2.2 2z"/><path class="q16" d="M615.8 254.1l2.3-1.7l-2.6-2.8l-2.2 1.8z"/><path class="q18" d="M611.1 252.6l2.2-1.2l-2.6-2.8l-2.2 1.3z"/><path class="q11" d="M634.8 256.4l2.1-1.4l-2.5-1.8l-2.2 1.5z"/><path class="q21" d="M606.3 250.9l2.2-1l-2.6-3.1l-2.2 1z"/><path class="q10" d="M632.6 257.8l2.2-1.4l-2.6-1.7l-2.1 1.4z"/><path class="q11" d="M627.9 257.6l2.2-1.5l-2.6-2.2l-2.2 1.7z"/><path class="q12" d="M623.1 257.2l2.2-1.6l-2.5-2.5l-2.2 1.8z"/><path class="q13" d="M618.4 256.5l2.2-1.6l-2.5-2.5l-2.3 1.7z"/><path class="q15" d="M613.6 255.3l2.2-1.2l-2.5-2.7l-2.2 1.2z"/><path class="q18" d="M608.9 253.7l2.2-1.1l-2.6-2.7l-2.2 1z"/><path class="q9" d="M630.4 259.2l2.2-1.4l-2.5-1.7l-2.2 1.5z"/><path class="q10" d="M625.7 259.1l2.2-1.5l-2.6-2l-2.2 1.6z"/><path class="q11" d="M621 258.6l2.1-1.4l-2.5-2.3l-2.2 1.6z"/><path class="q13" d="M616.2 257.7l2.2-1.2l-2.6-2.4l-2.2 1.2z"/><path class="q15" d="M611.5 256.3l2.1-1l-2.5-2.7l-2.2 1.1z"/><path class="q9" d="M628.3 260.5l2.1-1.3l-2.5-1.6l-2.2 1.5zM623.5 260.4l2.2-1.3l-2.6-1.9l-2.1 1.4z"/><path class="q11" d="M618.8 259.8l2.2-1.2l-2.6-2.1l-2.2 1.2z"/><path class="q13" d="M614 258.7l2.2-1l-2.6-2.4l-2.1 1z"/><path class="q8" d="M626.1 261.8l2.2-1.3l-2.6-1.4l-2.2 1.3z"/><path class="q9" d="M621.4 261.6l2.1-1.2l-2.5-1.8l-2.2 1.2z"/><path class="q11" d="M616.6 260.9l2.2-1.1l-2.6-2.1l-2.2 1z"/><path class="q8" d="M624 263l2.1-1.2l-2.6-1.4l-2.1 1.2z"/><path class="q9" d="M619.2 262.7l2.2-1.1l-2.6-1.8l-2.2 1.1z"/><path class="q8" d="M621.8 264.1l2.2-1.1l-2.6-1.4l-2.2 1.1z"/></g>
<path d="M562.7 243V169.4M562.7 243h-3.2M562.7 236.9h-2M562.7 230.7h-3.2M562.7 224.6h-2M562.7 218.5h-3.2M562.7 212.3h-2M562.7 206.2h-3.2M562.7 200.1h-2M562.7 193.9h-3.2M562.7 187.8h-2M562.7 181.7h-3.2M562.7 175.5h-2M562.7 169.4h-3.2M562.7 169.4H564.5M562.7 243H564.5M564.5 242.2l-0.8 3M571.7 245.5l-0.5 1.8M578.8 248.8l-0.8 3M586 252.1l-0.5 1.8M593.1 255.4l-0.8 3M600.2 258.7l-0.5 1.8M607.4 262l-0.8 3M614.6 265.3l-0.5 1.8M621.7 268.6l-0.8 3M621.7 268.6l0.8 3M628.2 265.1l0.5 1.8M631.9 263l0.5 1.8M634.6 261.6l0.5 1.8M636.7 260.5l0.5 1.8M638.4 259.5l0.5 1.8M639.8 258.8l0.5 1.8M641.1 258.1l0.5 1.8M642.2 257.5l0.5 1.8M643.2 257l0.8 3M649.6 253.5l0.5 1.8M653.4 251.4l0.5 1.8M656.1 250l0.5 1.8M658.2 248.8l0.5 1.8M659.8 247.9l0.5 1.8M661.3 247.1l0.5 1.8M662.5 246.5l0.5 1.8M663.6 245.9l0.5 1.8M664.6 245.3l0.8 3" stroke="#3a3a3a" stroke-width="0.8" fill="none"/>
<text x="557.1" y="246.8" font-size="10.6" text-anchor="end" fill="#222">0</text>
<text x="557.1" y="234.5" font-size="10.6" text-anchor="end" fill="#222">25</text>
<text x="557.1" y="222.3" font-size="10.6" text-anchor="end" fill="#222">50</text>
<text x="557.1" y="210" font-size="10.6" text-anchor="end" fill="#222">75</text>
<text x="557.1" y="197.7" font-size="10.6" text-anchor="end" fill="#222">100</text>
<text x="557.1" y="185.5" font-size="10.6" text-anchor="end" fill="#222">125</text>
<text x="557.1" y="173.2" font-size="10.6" text-anchor="end" fill="#222">150</text>
<text transform="translate(558.8 256.7) rotate(-22)" font-size="10.5" text-anchor="middle" fill="#222">700</text>
<text transform="translate(572.3 263.4) rotate(-22)" font-size="10.5" text-anchor="middle" fill="#222">600</text>
<text transform="translate(584.6 270.2) rotate(-22)" font-size="10.5" text-anchor="middle" fill="#222">500</text>
<text transform="translate(598.3 276) rotate(-22)" font-size="10.5" text-anchor="middle" fill="#222">400</text>
<text transform="translate(613.2 282.9) rotate(-22)" font-size="10.5" text-anchor="middle" fill="#222">300</text>
<text x="627.2" y="282.8" font-size="10.5" text-anchor="middle" fill="#222">1</text>
<text x="651.2" y="270" font-size="10.5" text-anchor="middle" fill="#222">10</text>
<text x="670.8" y="259.4" font-size="10.5" text-anchor="middle" fill="#222">100</text>
<text x="547.3" y="153.8" font-size="16" font-weight="bold" fill="#111">h</text>
<style>.sf path{stroke-width:0.45;stroke-linejoin:round}.q4{fill:#8c1fdd;stroke:#8c1fdd}.q5{fill:#9020e8;stroke:#9020e8}.q6{fill:#8e1feb;stroke:#8e1feb}.q7{fill:#8c1eee;stroke:#8c1eee}.q8{fill:#8a1ef2;stroke:#8a1ef2}.q9{fill:#881df5;stroke:#881df5}.q10{fill:#861cf8;stroke:#861cf8}.q11{fill:#7b1af6;stroke:#7b1af6}.q12{fill:#7017f5;stroke:#7017f5}.q13{fill:#6615f3;stroke:#6615f3}.q14{fill:#5b12f2;stroke:#5b12f2}.q15{fill:#5010f0;stroke:#5010f0}.q16{fill:#4810f0;stroke:#4810f0}.q17{fill:#4110f0;stroke:#4110f0}.q18{fill:#3910f0;stroke:#3910f0}.q19{fill:#3110f0;stroke:#3110f0}.q20{fill:#2910f0;stroke:#2910f0}.q21{fill:#2210f0;stroke:#2210f0}.q22{fill:#1a10f0;stroke:#1a10f0}.q23{fill:#1d18f0;stroke:#1d18f0}.q24{fill:#1f20f0;stroke:#1f20f0}.q25{fill:#2228f0;stroke:#2228f0}.q26{fill:#2a40f0;stroke:#2a40f0}.q27{fill:#3258f0;stroke:#3258f0}.q28{fill:#3a70f0;stroke:#3a70f0}.q29{fill:#407ef2;stroke:#407ef2}.q30{fill:#458cf4;stroke:#458cf4}.q31{fill:#4a9af6;stroke:#4a9af6}.q32{fill:#50a8f8;stroke:#50a8f8}.q33{fill:#55b3f9;stroke:#55b3f9}.q34{fill:#5bbdf9;stroke:#5bbdf9}.q35{fill:#60c8fa;stroke:#60c8fa}.q36{fill:#65d3fb;stroke:#65d3fb}.q37{fill:#6bddfb;stroke:#6bddfb}.q38{fill:#70e8fc;stroke:#70e8fc}.q39{fill:#74edfc;stroke:#74edfc}.q40{fill:#78f2fc;stroke:#78f2fc}.q41{fill:#7cf7fc;stroke:#7cf7fc}.q42{fill:#80fcfc;stroke:#80fcfc}.q43{fill:#74f9dd;stroke:#74f9dd}.q44{fill:#68f6be;stroke:#68f6be}.q45{fill:#5cf39f;stroke:#5cf39f}.q46{fill:#50f080;stroke:#50f080}.q47{fill:#48f068;stroke:#48f068}.q48{fill:#40f050;stroke:#40f050}.q49{fill:#38f038;stroke:#38f038}.q50{fill:#30f020;stroke:#30f020}.q51{fill:#3af020;stroke:#3af020}.q52{fill:#44f020;stroke:#44f020}.q53{fill:#4ef020;stroke:#4ef020}.q54{fill:#58f020;stroke:#58f020}.q55{fill:#62f020;stroke:#62f020}.q56{fill:#6cf020;stroke:#6cf020}.q57{fill:#76f020;stroke:#76f020}.q58{fill:#80f020;stroke:#80f020}.q59{fill:#87f022;stroke:#87f022}.q60{fill:#8ef024;stroke:#8ef024}.q61{fill:#95f026;stroke:#95f026}.q62{fill:#9cf028;stroke:#9cf028}.q63{fill:#a3f02a;stroke:#a3f02a}.q64{fill:#aaf02c;stroke:#aaf02c}.q65{fill:#b1f02e;stroke:#b1f02e}.q66{fill:#b8f030;stroke:#b8f030}.q67{fill:#bef032;stroke:#bef032}.q68{fill:#c3f034;stroke:#c3f034}.q69{fill:#c9f035;stroke:#c9f035}.q70{fill:#cef037;stroke:#cef037}.q71{fill:#d4f039;stroke:#d4f039}.q72{fill:#d9f03b;stroke:#d9f03b}.q73{fill:#dff03c;stroke:#dff03c}.q74{fill:#e4f03e;stroke:#e4f03e}.q75{fill:#eaf040;stroke:#eaf040}.q76{fill:#ebed40;stroke:#ebed40}.q77{fill:#ecea40;stroke:#ecea40}.q78{fill:#eee640;stroke:#eee640}.q79{fill:#efe340;stroke:#efe340}.q80{fill:#f0e040;stroke:#f0e040}.q81{fill:#f0d840;stroke:#f0d840}.q82{fill:#f0d040;stroke:#f0d040}.q83{fill:#f0c840;stroke:#f0c840}.q84{fill:#f0c040;stroke:#f0c040}.q85{fill:#f0b840;stroke:#f0b840}.q86{fill:#f0b040;stroke:#f0b040}.q87{fill:#f0a83e;stroke:#f0a83e}.q88{fill:#f0a03c;stroke:#f0a03c}.q89{fill:#f0983a;stroke:#f0983a}.q90{fill:#f09038;stroke:#f09038}.q91{fill:#f08836;stroke:#f08836}.q92{fill:#f08034;stroke:#f08034}.q93{fill:#f07832;stroke:#f07832}.q94{fill:#f07030;stroke:#f07030}.q95{fill:#f2642c;stroke:#f2642c}.q96{fill:#f55929;stroke:#f55929}.q97{fill:#f84d25;stroke:#f84d25}.q98{fill:#fa4121;stroke:#fa4121}.q99{fill:#fc361e;stroke:#fc361e}.q100{fill:#ff2a1a;stroke:#ff2a1a}.q101{fill:#ff2a1a;stroke:#ff2a1a}.q102{fill:#ff291a;stroke:#ff291a}.q103{fill:#fe291a;stroke:#fe291a}.q104{fill:#fe281a;stroke:#fe281a}.q105{fill:#fe281a;stroke:#fe281a}.q106{fill:#fe281a;stroke:#fe281a}.q107{fill:#fe2719;stroke:#fe2719}.q108{fill:#fd2719;stroke:#fd2719}.q109{fill:#fd2619;stroke:#fd2619}.q110{fill:#fd2619;stroke:#fd2619}.q111{fill:#fd2619;stroke:#fd2619}.q112{fill:#fd2519;stroke:#fd2519}.q113{fill:#fc2519;stroke:#fc2519}.q114{fill:#fc2419;stroke:#fc2419}.q115{fill:#fc2419;stroke:#fc2419}.q116{fill:#fc2419;stroke:#fc2419}.q117{fill:#fc2319;stroke:#fc2319}.q118{fill:#fb2319;stroke:#fb2319}.q119{fill:#fb2218;stroke:#fb2218}.q120{fill:#fb2218;stroke:#fb2218}.q121{fill:#fb2218;stroke:#fb2218}.q122{fill:#fb2118;stroke:#fb2118}.q123{fill:#fa2118;stroke:#fa2118}.q124{fill:#fa2018;stroke:#fa2018}.q125{fill:#fa2018;stroke:#fa2018}.q126{fill:#f3201a;stroke:#f3201a}.q127{fill:#ec201b;stroke:#ec201b}.q128{fill:#e6201d;stroke:#e6201d}.q129{fill:#df201e;stroke:#df201e}.q130{fill:#d82020;stroke:#d82020}.q131{fill:#d31f1f;stroke:#d31f1f}.q132{fill:#ce1f1f;stroke:#ce1f1f}.q133{fill:#ca1e1e;stroke:#ca1e1e}.q134{fill:#c51e1e;stroke:#c51e1e}.q135{fill:#c01d1d;stroke:#c01d1d}.q136{fill:#bb1c1c;stroke:#bb1c1c}.q137{fill:#b61c1c;stroke:#b61c1c}.q138{fill:#b21b1b;stroke:#b21b1b}.q139{fill:#ad1b1b;stroke:#ad1b1b}.q140{fill:#a81a1a;stroke:#a81a1a}.q141{fill:#a41919;stroke:#a41919}.q142{fill:#9f1818;stroke:#9f1818}.q143{fill:#9b1717;stroke:#9b1717}.q144{fill:#961616;stroke:#961616}.q146{fill:#8e1414;stroke:#8e1414}</style>
<defs><linearGradient id="cbar" x1="0" y1="0" x2="1" y2="0"><stop offset="0.0000" stop-color="#7a1cb0"/><stop offset="0.0333" stop-color="#9020e8"/><stop offset="0.0667" stop-color="#861cf8"/><stop offset="0.1000" stop-color="#5010f0"/><stop offset="0.1467" stop-color="#1a10f0"/><stop offset="0.1667" stop-color="#2228f0"/><stop offset="0.1867" stop-color="#3a70f0"/><stop offset="0.2133" stop-color="#50a8f8"/><stop offset="0.2533" stop-color="#70e8fc"/><stop offset="0.2800" stop-color="#80fcfc"/><stop offset="0.3067" stop-color="#50f080"/><stop offset="0.3333" stop-color="#30f020"/><stop offset="0.3867" stop-color="#80f020"/><stop offset="0.4400" stop-color="#b8f030"/><stop offset="0.5000" stop-color="#eaf040"/><stop offset="0.5333" stop-color="#f0e040"/><stop offset="0.5733" stop-color="#f0b040"/><stop offset="0.6267" stop-color="#f07030"/><stop offset="0.6667" stop-color="#ff2a1a"/><stop offset="0.8333" stop-color="#fa2018"/><stop offset="0.8667" stop-color="#d82020"/><stop offset="0.9333" stop-color="#a81a1a"/><stop offset="1.0000" stop-color="#7c1010"/></linearGradient></defs>
<rect x="488.6" y="285.8" width="105.7" height="10.1" fill="url(#cbar)"/>
<path d="M506.2 285.8v2M506.2 295.9v-2M523.8 285.8v2M523.8 295.9v-2M541.5 285.8v2M541.5 295.9v-2M559.1 285.8v2M559.1 295.9v-2M576.7 285.8v2M576.7 295.9v-2" stroke="#ffffff" stroke-opacity="0.7" stroke-width="0.8"/>
<text x="489.2" y="307.2" font-size="10.5" text-anchor="middle" fill="#222" letter-spacing="-0.3">0</text>
<text x="504.7" y="307.2" font-size="10.5" text-anchor="middle" fill="#222" letter-spacing="-0.3">25</text>
<text x="523.5" y="307.2" font-size="10.5" text-anchor="middle" fill="#222" letter-spacing="-0.3">50</text>
<text x="542.4" y="307.2" font-size="10.5" text-anchor="middle" fill="#222" letter-spacing="-0.3">75</text>
<text x="560.7" y="307.2" font-size="10.5" text-anchor="middle" fill="#222" letter-spacing="-0.3">100</text>
<text x="578.2" y="307.2" font-size="10.5" text-anchor="middle" fill="#222" letter-spacing="-0.3">125</text>
<text x="597.2" y="307.2" font-size="10.5" text-anchor="middle" fill="#222" letter-spacing="-0.3">150</text>
<text transform="translate(394.2 141) rotate(-90)" font-size="10.7" text-anchor="middle" fill="#222">Cumulative surface area (m<tspan font-size="7.5" dy="-4">2</tspan><tspan dy="4">·g</tspan><tspan font-size="7.5" dy="-4">-1</tspan><tspan dy="4">)</tspan></text>
<text transform="translate(390.5 259) rotate(30.3)" font-size="10.5" fill="#222">Pyrolysis temp (<tspan font-size="7" dy="-3">o</tspan><tspan dy="3">C)</tspan></text>
<text transform="translate(614 299.3) rotate(-24.5)" font-size="10.5" fill="#222">Pore width (nm)</text>
<path d="M353.4 310 L353.4 285 Q353.4 272.8 341 272.8 L22.6 272.8 Q12.4 272.8 12.4 283 L12.4 426 Q12.4 435.9 22.6 435.9 L670 435.9 Q680.1 435.9 680.1 426 L680.1 320 Q680.1 310 670 310 L361.4 310" stroke="#0c2029" stroke-width="2.1" fill="none" stroke-dasharray="8 6.3" stroke-dashoffset="0"/>
<path d="M36.1 283.1L41.9 283.1" fill="none" stroke="#333333" stroke-width="1.1"/>
<path d="M54.9 283.1L60.7 283.1" fill="none" stroke="#333333" stroke-width="1.1"/>
<circle cx="48.4" cy="283.1" r="4.3" fill="#111111"/>
<text x="66.4" y="286.9" font-size="10.5" fill="#222">300<tspan font-size="7" dx="0.6" dy="-3.2">°</tspan><tspan dx="-1.2" dy="3.2" letter-spacing="-0.3">C</tspan></text>
<path d="M98.1 283.1L103.9 283.1" fill="none" stroke="#f07070" stroke-width="1.1"/>
<path d="M116.9 283.1L122.7 283.1" fill="none" stroke="#f07070" stroke-width="1.1"/>
<circle cx="110.4" cy="283.1" r="4.3" fill="#ec3b3b"/>
<text x="125.3" y="286.9" font-size="10.5" fill="#222">400<tspan font-size="7" dx="0.6" dy="-3.2">°</tspan><tspan dx="-1.2" dy="3.2" letter-spacing="-0.3">C</tspan></text>
<path d="M156.9 283.1L162.7 283.1" fill="none" stroke="#7aa0f0" stroke-width="1.1"/>
<path d="M175.7 283.1L181.5 283.1" fill="none" stroke="#7aa0f0" stroke-width="1.1"/>
<circle cx="169.2" cy="283.1" r="4.3" fill="#4a79ea"/>
<text x="184.7" y="286.9" font-size="10.5" fill="#222">500<tspan font-size="7" dx="0.6" dy="-3.2">°</tspan><tspan dx="-1.2" dy="3.2" letter-spacing="-0.3">C</tspan></text>
<path d="M216.3 283.1L222.1 283.1" fill="none" stroke="#80cc90" stroke-width="1.1"/>
<path d="M235.1 283.1L240.9 283.1" fill="none" stroke="#80cc90" stroke-width="1.1"/>
<circle cx="228.6" cy="283.1" r="4.3" fill="#4fb865"/>
<text x="243.8" y="286.9" font-size="10.5" fill="#222">600<tspan font-size="7" dx="0.6" dy="-3.2">°</tspan><tspan dx="-1.2" dy="3.2" letter-spacing="-0.3">C</tspan></text>
<path d="M274.9 283.1L280.7 283.1" fill="none" stroke="#c89cf4" stroke-width="1.1"/>
<path d="M293.7 283.1L299.5 283.1" fill="none" stroke="#c89cf4" stroke-width="1.1"/>
<circle cx="287.2" cy="283.1" r="4.3" fill="#b06ff0"/>
<text x="303.5" y="286.9" font-size="10.5" fill="#222">700<tspan font-size="7" dx="0.6" dy="-3.2">°</tspan><tspan dx="-1.2" dy="3.2" letter-spacing="-0.3">C</tspan></text>
<rect x="43.1" y="294.6" width="10.5" height="10.3" fill="#e3f5d0"/>
<text x="63.9" y="303.5" font-size="10.6" fill="#222">Low pressure</text>
<rect x="141.2" y="294.6" width="10.5" height="10.3" fill="#eaa577"/>
<text x="162" y="303.5" font-size="10.6" fill="#222">Middle pressure</text>
<rect x="251.2" y="294.6" width="10.5" height="10.3" fill="#dc6b80"/>
<text x="272" y="303.5" font-size="10.6" fill="#222">High pressure</text>
<rect x="55.8" y="319.1" width="11.2" height="87.3" fill="#e2f6d2"/>
<rect x="89.4" y="319.1" width="56" height="87.3" fill="#e9a878"/>
<rect x="156.6" y="319.1" width="11.2" height="87.3" fill="#d8687e"/>
<path d="M56.9 400.1L61.4 399.6L65.7 399.1L70.1 398.5L74.4 398L78.7 397.5L83.1 397L87.4 396.5L91.7 395.9L96.1 395.4L100.4 394.8L104.7 394.3L109.1 393.7L113.4 393.2L117.7 392.6L122.1 392L126.4 391.3L130.7 390.7L135.1 390L139.4 389.3L143.7 388.6L148.1 387.8L152.4 387L156.7 386.2L161.1 385.3L164.4 381.8L166.7 366.9" fill="none" stroke="#4a79ea" stroke-width="0.9"/>
<path d="M161.1 384.3L156.7 385.2L152.3 386.1L147.9 386.9L143.6 387.7L139.2 388.5L134.8 389.2L130.4 389.9L126.1 390.5L121.7 391.2L117.3 391.8L112.9 392.4L108.5 393L104.2 393.6L99.8 394.2L95.4 394.8L91 395.3L86.7 395.9L82.3 396.4L77.9 397L73.5 397.5L69.1 398.1L64.8 398.6" fill="none" stroke="#4a79ea" stroke-width="0.9"/>
<g fill="#4a79ea"><circle cx="56.9" cy="400.1" r="1.65"/><circle cx="61.4" cy="399.6" r="1.65"/><circle cx="65.7" cy="399.1" r="1.65"/><circle cx="70.1" cy="398.5" r="1.65"/><circle cx="74.4" cy="398" r="1.65"/><circle cx="78.7" cy="397.5" r="1.65"/><circle cx="83.1" cy="397" r="1.65"/><circle cx="87.4" cy="396.5" r="1.65"/><circle cx="91.7" cy="395.9" r="1.65"/><circle cx="96.1" cy="395.4" r="1.65"/><circle cx="100.4" cy="394.8" r="1.65"/><circle cx="104.7" cy="394.3" r="1.65"/><circle cx="109.1" cy="393.7" r="1.65"/><circle cx="113.4" cy="393.2" r="1.65"/><circle cx="117.7" cy="392.6" r="1.65"/><circle cx="122.1" cy="392" r="1.65"/><circle cx="126.4" cy="391.3" r="1.65"/><circle cx="130.7" cy="390.7" r="1.65"/><circle cx="135.1" cy="390" r="1.65"/><circle cx="139.4" cy="389.3" r="1.65"/><circle cx="143.7" cy="388.6" r="1.65"/><circle cx="148.1" cy="387.8" r="1.65"/><circle cx="152.4" cy="387" r="1.65"/><circle cx="156.7" cy="386.2" r="1.65"/><circle cx="161.1" cy="385.3" r="1.65"/><circle cx="164.4" cy="381.8" r="1.65"/><circle cx="166.7" cy="366.9" r="1.65"/><circle cx="161.1" cy="384.3" r="1.65"/><circle cx="156.7" cy="385.2" r="1.65"/><circle cx="152.3" cy="386.1" r="1.65"/><circle cx="147.9" cy="386.9" r="1.65"/><circle cx="143.6" cy="387.7" r="1.65"/><circle cx="139.2" cy="388.5" r="1.65"/><circle cx="134.8" cy="389.2" r="1.65"/><circle cx="130.4" cy="389.9" r="1.65"/><circle cx="126.1" cy="390.5" r="1.65"/><circle cx="121.7" cy="391.2" r="1.65"/><circle cx="117.3" cy="391.8" r="1.65"/><circle cx="112.9" cy="392.4" r="1.65"/><circle cx="108.5" cy="393" r="1.65"/><circle cx="104.2" cy="393.6" r="1.65"/><circle cx="99.8" cy="394.2" r="1.65"/><circle cx="95.4" cy="394.8" r="1.65"/><circle cx="91" cy="395.3" r="1.65"/><circle cx="86.7" cy="395.9" r="1.65"/><circle cx="82.3" cy="396.4" r="1.65"/><circle cx="77.9" cy="397" r="1.65"/><circle cx="73.5" cy="397.5" r="1.65"/><circle cx="69.1" cy="398.1" r="1.65"/><circle cx="64.8" cy="398.6" r="1.65"/></g>
<path d="M56.9 399.6L61.4 399.2L65.7 398.7L70.1 398.3L74.4 397.8L78.7 397.4L83.1 397L87.4 396.5L91.7 396.1L96.1 395.6L100.4 395.1L104.7 394.7L109.1 394.2L113.4 393.7L117.7 393.2L122.1 392.7L126.4 392.1L130.7 391.5L135.1 391L139.4 390.3L143.7 389.7L148.1 389L152.4 388.3L156.7 387.5L161.1 386.7L164.4 382.8L166.7 368.4" fill="none" stroke="#4fb865" stroke-width="0.9"/>
<path d="M161.1 385.2L156.7 386L152.3 386.8L147.9 387.6L143.6 388.3L139.2 389L134.8 389.6L130.4 390.2L126.1 390.8L121.7 391.4L117.3 391.9L112.9 392.5L108.5 393L104.2 393.5L99.8 394L95.4 394.5L91 395L86.7 395.4L82.3 395.9L77.9 396.4L73.5 396.8L69.1 397.3L64.8 397.8" fill="none" stroke="#4fb865" stroke-width="0.9"/>
<g fill="#4fb865"><circle cx="56.9" cy="399.6" r="1.65"/><circle cx="61.4" cy="399.2" r="1.65"/><circle cx="65.7" cy="398.7" r="1.65"/><circle cx="70.1" cy="398.3" r="1.65"/><circle cx="74.4" cy="397.8" r="1.65"/><circle cx="78.7" cy="397.4" r="1.65"/><circle cx="83.1" cy="397" r="1.65"/><circle cx="87.4" cy="396.5" r="1.65"/><circle cx="91.7" cy="396.1" r="1.65"/><circle cx="96.1" cy="395.6" r="1.65"/><circle cx="100.4" cy="395.1" r="1.65"/><circle cx="104.7" cy="394.7" r="1.65"/><circle cx="109.1" cy="394.2" r="1.65"/><circle cx="113.4" cy="393.7" r="1.65"/><circle cx="117.7" cy="393.2" r="1.65"/><circle cx="122.1" cy="392.7" r="1.65"/><circle cx="126.4" cy="392.1" r="1.65"/><circle cx="130.7" cy="391.5" r="1.65"/><circle cx="135.1" cy="391" r="1.65"/><circle cx="139.4" cy="390.3" r="1.65"/><circle cx="143.7" cy="389.7" r="1.65"/><circle cx="148.1" cy="389" r="1.65"/><circle cx="152.4" cy="388.3" r="1.65"/><circle cx="156.7" cy="387.5" r="1.65"/><circle cx="161.1" cy="386.7" r="1.65"/><circle cx="164.4" cy="382.8" r="1.65"/><circle cx="166.7" cy="368.4" r="1.65"/><circle cx="161.1" cy="385.2" r="1.65"/><circle cx="156.7" cy="386" r="1.65"/><circle cx="152.3" cy="386.8" r="1.65"/><circle cx="147.9" cy="387.6" r="1.65"/><circle cx="143.6" cy="388.3" r="1.65"/><circle cx="139.2" cy="389" r="1.65"/><circle cx="134.8" cy="389.6" r="1.65"/><circle cx="130.4" cy="390.2" r="1.65"/><circle cx="126.1" cy="390.8" r="1.65"/><circle cx="121.7" cy="391.4" r="1.65"/><circle cx="117.3" cy="391.9" r="1.65"/><circle cx="112.9" cy="392.5" r="1.65"/><circle cx="108.5" cy="393" r="1.65"/><circle cx="104.2" cy="393.5" r="1.65"/><circle cx="99.8" cy="394" r="1.65"/><circle cx="95.4" cy="394.5" r="1.65"/><circle cx="91" cy="395" r="1.65"/><circle cx="86.7" cy="395.4" r="1.65"/><circle cx="82.3" cy="395.9" r="1.65"/><circle cx="77.9" cy="396.4" r="1.65"/><circle cx="73.5" cy="396.8" r="1.65"/><circle cx="69.1" cy="397.3" r="1.65"/><circle cx="64.8" cy="397.8" r="1.65"/></g>
<path d="M56.9 398.8L61.4 397.4L65.6 396L69.8 394.6L74 393.2L78.2 391.8L82.5 390.4L86.7 388.9L90.9 387.5L95.1 386.1L99.3 384.6L103.5 383.1L107.7 381.7L111.9 380.2L116.1 378.6L120.4 377.1L124.6 375.6L128.8 374L133 372.4L137.2 370.8L141.4 369.1L145.6 367.4L149.8 365.7L154 364L158.3 362.2L162.5 360.4L166.7 358.6" fill="none" stroke="#ec3b3b" stroke-width="0.9"/>
<path d="M164.4 362.9L160.1 365.2L155.9 367.5L151.6 369.7L147.3 371.8L143 373.9L138.7 375.8L134.4 377.7L130.1 379.5L125.8 381.3L121.5 382.9L117.2 384.5L112.9 386L108.6 387.5L104.3 388.8L100 390.1L95.7 391.3L91.5 392.5L87.2 393.5L82.9 394.5L78.6 395.4L74.3 396.3L70 397L65.7 397.7L61.4 398.3" fill="none" stroke="#ec3b3b" stroke-width="0.9"/>
<g fill="#ec3b3b"><circle cx="56.9" cy="398.8" r="1.65"/><circle cx="61.4" cy="397.4" r="1.65"/><circle cx="65.6" cy="396" r="1.65"/><circle cx="69.8" cy="394.6" r="1.65"/><circle cx="74" cy="393.2" r="1.65"/><circle cx="78.2" cy="391.8" r="1.65"/><circle cx="82.5" cy="390.4" r="1.65"/><circle cx="86.7" cy="388.9" r="1.65"/><circle cx="90.9" cy="387.5" r="1.65"/><circle cx="95.1" cy="386.1" r="1.65"/><circle cx="99.3" cy="384.6" r="1.65"/><circle cx="103.5" cy="383.1" r="1.65"/><circle cx="107.7" cy="381.7" r="1.65"/><circle cx="111.9" cy="380.2" r="1.65"/><circle cx="116.1" cy="378.6" r="1.65"/><circle cx="120.4" cy="377.1" r="1.65"/><circle cx="124.6" cy="375.6" r="1.65"/><circle cx="128.8" cy="374" r="1.65"/><circle cx="133" cy="372.4" r="1.65"/><circle cx="137.2" cy="370.8" r="1.65"/><circle cx="141.4" cy="369.1" r="1.65"/><circle cx="145.6" cy="367.4" r="1.65"/><circle cx="149.8" cy="365.7" r="1.65"/><circle cx="154" cy="364" r="1.65"/><circle cx="158.3" cy="362.2" r="1.65"/><circle cx="162.5" cy="360.4" r="1.65"/><circle cx="166.7" cy="358.6" r="1.65"/><circle cx="164.4" cy="362.9" r="1.65"/><circle cx="160.1" cy="365.2" r="1.65"/><circle cx="155.9" cy="367.5" r="1.65"/><circle cx="151.6" cy="369.7" r="1.65"/><circle cx="147.3" cy="371.8" r="1.65"/><circle cx="143" cy="373.9" r="1.65"/><circle cx="138.7" cy="375.8" r="1.65"/><circle cx="134.4" cy="377.7" r="1.65"/><circle cx="130.1" cy="379.5" r="1.65"/><circle cx="125.8" cy="381.3" r="1.65"/><circle cx="121.5" cy="382.9" r="1.65"/><circle cx="117.2" cy="384.5" r="1.65"/><circle cx="112.9" cy="386" r="1.65"/><circle cx="108.6" cy="387.5" r="1.65"/><circle cx="104.3" cy="388.8" r="1.65"/><circle cx="100" cy="390.1" r="1.65"/><circle cx="95.7" cy="391.3" r="1.65"/><circle cx="91.5" cy="392.5" r="1.65"/><circle cx="87.2" cy="393.5" r="1.65"/><circle cx="82.9" cy="394.5" r="1.65"/><circle cx="78.6" cy="395.4" r="1.65"/><circle cx="74.3" cy="396.3" r="1.65"/><circle cx="70" cy="397" r="1.65"/><circle cx="65.7" cy="397.7" r="1.65"/><circle cx="61.4" cy="398.3" r="1.65"/></g>
<path d="M55.8 401.3L55.8 391L55.8 380.7L55.8 375.6L56.4 362.9L59.2 357.4L63.6 352.8L68.1 350.1L73.7 348.1L79 347.8L84.3 347.6L89.5 347.3L94.8 347.1L100.1 346.9L105.3 346.6L110.6 346.4L115.9 346.1L121.2 345.9L126.4 345.6L131.7 345.4L137 345.2L142.2 344.9L147.5 344.7L152.8 344.4L158 343.4L163.3 340.3L167.2 334.7" fill="none" stroke="#b06ff0" stroke-width="0.9"/>
<path d="M166.7 333.6L161.1 337.3L155.8 340.4L150.6 340.7L145.3 341.1L140 341.4L134.8 341.8L129.5 342.1L124.3 342.4L119 342.8L113.8 343.1L108.5 343.4L103.2 343.8L98 344.1L92.7 344.5L87.5 344.8L82.2 345.1L77 345.5L71.7 345.8L66.4 346.1" fill="none" stroke="#b06ff0" stroke-width="0.9"/>
<g fill="#b06ff0"><circle cx="55.8" cy="401.3" r="1.65"/><circle cx="55.8" cy="391" r="1.65"/><circle cx="55.8" cy="380.7" r="1.65"/><circle cx="55.8" cy="375.6" r="1.65"/><circle cx="56.4" cy="362.9" r="1.65"/><circle cx="59.2" cy="357.4" r="1.65"/><circle cx="63.6" cy="352.8" r="1.65"/><circle cx="68.1" cy="350.1" r="1.65"/><circle cx="73.7" cy="348.1" r="1.65"/><circle cx="79" cy="347.8" r="1.65"/><circle cx="84.3" cy="347.6" r="1.65"/><circle cx="89.5" cy="347.3" r="1.65"/><circle cx="94.8" cy="347.1" r="1.65"/><circle cx="100.1" cy="346.9" r="1.65"/><circle cx="105.3" cy="346.6" r="1.65"/><circle cx="110.6" cy="346.4" r="1.65"/><circle cx="115.9" cy="346.1" r="1.65"/><circle cx="121.2" cy="345.9" r="1.65"/><circle cx="126.4" cy="345.6" r="1.65"/><circle cx="131.7" cy="345.4" r="1.65"/><circle cx="137" cy="345.2" r="1.65"/><circle cx="142.2" cy="344.9" r="1.65"/><circle cx="147.5" cy="344.7" r="1.65"/><circle cx="152.8" cy="344.4" r="1.65"/><circle cx="158" cy="343.4" r="1.65"/><circle cx="163.3" cy="340.3" r="1.65"/><circle cx="167.2" cy="334.7" r="1.65"/><circle cx="166.7" cy="333.6" r="1.65"/><circle cx="161.1" cy="337.3" r="1.65"/><circle cx="155.8" cy="340.4" r="1.65"/><circle cx="150.6" cy="340.7" r="1.65"/><circle cx="145.3" cy="341.1" r="1.65"/><circle cx="140" cy="341.4" r="1.65"/><circle cx="134.8" cy="341.8" r="1.65"/><circle cx="129.5" cy="342.1" r="1.65"/><circle cx="124.3" cy="342.4" r="1.65"/><circle cx="119" cy="342.8" r="1.65"/><circle cx="113.8" cy="343.1" r="1.65"/><circle cx="108.5" cy="343.4" r="1.65"/><circle cx="103.2" cy="343.8" r="1.65"/><circle cx="98" cy="344.1" r="1.65"/><circle cx="92.7" cy="344.5" r="1.65"/><circle cx="87.5" cy="344.8" r="1.65"/><circle cx="82.2" cy="345.1" r="1.65"/><circle cx="77" cy="345.5" r="1.65"/><circle cx="71.7" cy="345.8" r="1.65"/><circle cx="66.4" cy="346.1" r="1.65"/></g>
<rect x="50.2" y="319.1" width="123.4" height="87.3" fill="none" stroke="#3a3a3a" stroke-width="1"/>
<path d="M55.8 406.4v3M67 406.4v2M78.2 406.4v3M89.4 406.4v2M100.6 406.4v3M111.8 406.4v2M123 406.4v3M134.2 406.4v2M145.4 406.4v3M156.6 406.4v2M167.8 406.4v3M50.2 401.3h-3M50.2 380.7h-3M50.2 360.2h-3M50.2 339.6h-3M50.2 319.1h-3M50.2 391h-2M50.2 370.5h-2M50.2 349.9h-2M50.2 329.4h-2" stroke="#3a3a3a" stroke-width="0.9" fill="none"/>
<text x="55.8" y="420" font-size="10.5" text-anchor="middle" fill="#222">0.0</text>
<text x="78.2" y="420" font-size="10.5" text-anchor="middle" fill="#222">0.2</text>
<text x="100.6" y="420" font-size="10.5" text-anchor="middle" fill="#222">0.4</text>
<text x="123" y="420" font-size="10.5" text-anchor="middle" fill="#222">0.6</text>
<text x="145.4" y="420" font-size="10.5" text-anchor="middle" fill="#222">0.8</text>
<text x="167.8" y="420" font-size="10.5" text-anchor="middle" fill="#222">1.0</text>
<text x="47.9" y="405.1" font-size="10.5" text-anchor="end" fill="#222">0</text>
<text x="47.9" y="384.5" font-size="10.5" text-anchor="end" fill="#222">20</text>
<text x="47.9" y="364" font-size="10.5" text-anchor="end" fill="#222">40</text>
<text x="47.9" y="343.4" font-size="10.5" text-anchor="end" fill="#222">60</text>
<text x="47.9" y="322.9" font-size="10.5" text-anchor="end" fill="#222">80</text>
<text x="61.8" y="337.1" font-size="15" text-anchor="middle" font-weight="bold" fill="#111">i</text>
<text x="111.9" y="431.3" font-size="10.5" font-style="italic" text-anchor="middle" fill="#222">P/P<tspan font-size="7.5" dy="-4">0</tspan></text>
<text transform="translate(25.5 362.2) rotate(-90)" font-size="10.5" text-anchor="middle" fill="#222">N<tspan font-size="7.5" dy="2.5">2</tspan><tspan dy="-2.5"> uptake (cc·g</tspan><tspan font-size="7.5" dy="-4">-1</tspan><tspan dy="4">)</tspan></text>
<rect x="218" y="319.1" width="11.3" height="87.2" fill="#e2f6d2"/>
<rect x="251.9" y="319.1" width="56.5" height="87.2" fill="#e9a878"/>
<rect x="319.7" y="319.1" width="11.3" height="87.2" fill="#d8687e"/>
<path d="M219.1 400.5L223.1 400.1L227 399.7L230.9 399.2L234.9 398.8L238.8 398.4L242.7 398L246.7 397.5L250.6 397.1L254.5 396.7L258.5 396.2L262.4 395.8L266.3 395.4L270.3 395L274.2 394.5L278.1 394.1L282.1 393.7L286 393.2L289.9 392.8L293.9 392.4L297.8 392L301.7 391.5L305.7 391.1L309.6 390.7L313.5 390.2L317.5 389.8L321.4 389.4L325.4 389L329.9 344.2" fill="none" stroke="#333333" stroke-width="0.9"/>
<g fill="#333333"><circle cx="219.1" cy="400.5" r="1.3"/><circle cx="223.1" cy="400.1" r="1.3"/><circle cx="227" cy="399.7" r="1.3"/><circle cx="230.9" cy="399.2" r="1.3"/><circle cx="234.9" cy="398.8" r="1.3"/><circle cx="238.8" cy="398.4" r="1.3"/><circle cx="242.7" cy="398" r="1.3"/><circle cx="246.7" cy="397.5" r="1.3"/><circle cx="250.6" cy="397.1" r="1.3"/><circle cx="254.5" cy="396.7" r="1.3"/><circle cx="258.5" cy="396.2" r="1.3"/><circle cx="262.4" cy="395.8" r="1.3"/><circle cx="266.3" cy="395.4" r="1.3"/><circle cx="270.3" cy="395" r="1.3"/><circle cx="274.2" cy="394.5" r="1.3"/><circle cx="278.1" cy="394.1" r="1.3"/><circle cx="282.1" cy="393.7" r="1.3"/><circle cx="286" cy="393.2" r="1.3"/><circle cx="289.9" cy="392.8" r="1.3"/><circle cx="293.9" cy="392.4" r="1.3"/><circle cx="297.8" cy="392" r="1.3"/><circle cx="301.7" cy="391.5" r="1.3"/><circle cx="305.7" cy="391.1" r="1.3"/><circle cx="309.6" cy="390.7" r="1.3"/><circle cx="313.5" cy="390.2" r="1.3"/><circle cx="317.5" cy="389.8" r="1.3"/><circle cx="321.4" cy="389.4" r="1.3"/><circle cx="325.4" cy="389" r="1.3"/><circle cx="329.9" cy="344.2" r="1.3"/></g>
<path d="M219.1 400.6L223.1 400.2L227.1 399.9L231.1 399.6L235 399.3L239 398.9L243 398.6L247 398.3L250.9 398L254.9 397.6L258.9 397.3L262.9 396.9L266.8 396.6L270.8 396.2L274.8 395.9L278.8 395.5L282.7 395.1L286.7 394.8L290.7 394.4L294.7 394L298.6 393.5L302.6 393.1L306.6 392.6L310.6 392.2L314.6 391.7L318.5 391.2L322.5 390.6L326.5 390.1L329.9 377.1" fill="none" stroke="#4a79ea" stroke-width="0.9"/>
<g fill="#4a79ea"><circle cx="219.1" cy="400.6" r="1.65"/><circle cx="223.1" cy="400.2" r="1.65"/><circle cx="227.1" cy="399.9" r="1.65"/><circle cx="231.1" cy="399.6" r="1.65"/><circle cx="235" cy="399.3" r="1.65"/><circle cx="239" cy="398.9" r="1.65"/><circle cx="243" cy="398.6" r="1.65"/><circle cx="247" cy="398.3" r="1.65"/><circle cx="250.9" cy="398" r="1.65"/><circle cx="254.9" cy="397.6" r="1.65"/><circle cx="258.9" cy="397.3" r="1.65"/><circle cx="262.9" cy="396.9" r="1.65"/><circle cx="266.8" cy="396.6" r="1.65"/><circle cx="270.8" cy="396.2" r="1.65"/><circle cx="274.8" cy="395.9" r="1.65"/><circle cx="278.8" cy="395.5" r="1.65"/><circle cx="282.7" cy="395.1" r="1.65"/><circle cx="286.7" cy="394.8" r="1.65"/><circle cx="290.7" cy="394.4" r="1.65"/><circle cx="294.7" cy="394" r="1.65"/><circle cx="298.6" cy="393.5" r="1.65"/><circle cx="302.6" cy="393.1" r="1.65"/><circle cx="306.6" cy="392.6" r="1.65"/><circle cx="310.6" cy="392.2" r="1.65"/><circle cx="314.6" cy="391.7" r="1.65"/><circle cx="318.5" cy="391.2" r="1.65"/><circle cx="322.5" cy="390.6" r="1.65"/><circle cx="326.5" cy="390.1" r="1.65"/><circle cx="329.9" cy="377.1" r="1.65"/></g>
<path d="M219.1 400.6L223.1 400.3L227.1 400L231.1 399.6L235 399.3L239 399L243 398.7L247 398.4L250.9 398.1L254.9 397.8L258.9 397.5L262.9 397.1L266.8 396.8L270.8 396.5L274.8 396.1L278.8 395.8L282.7 395.4L286.7 395.1L290.7 394.7L294.7 394.3L298.6 393.9L302.6 393.5L306.6 393L310.6 392.6L314.6 392.1L318.5 391.6L322.5 391.1L326.5 390.5L329.9 379.1" fill="none" stroke="#4fb865" stroke-width="0.9"/>
<g fill="#4fb865"><circle cx="219.1" cy="400.6" r="1.65"/><circle cx="223.1" cy="400.3" r="1.65"/><circle cx="227.1" cy="400" r="1.65"/><circle cx="231.1" cy="399.6" r="1.65"/><circle cx="235" cy="399.3" r="1.65"/><circle cx="239" cy="399" r="1.65"/><circle cx="243" cy="398.7" r="1.65"/><circle cx="247" cy="398.4" r="1.65"/><circle cx="250.9" cy="398.1" r="1.65"/><circle cx="254.9" cy="397.8" r="1.65"/><circle cx="258.9" cy="397.5" r="1.65"/><circle cx="262.9" cy="397.1" r="1.65"/><circle cx="266.8" cy="396.8" r="1.65"/><circle cx="270.8" cy="396.5" r="1.65"/><circle cx="274.8" cy="396.1" r="1.65"/><circle cx="278.8" cy="395.8" r="1.65"/><circle cx="282.7" cy="395.4" r="1.65"/><circle cx="286.7" cy="395.1" r="1.65"/><circle cx="290.7" cy="394.7" r="1.65"/><circle cx="294.7" cy="394.3" r="1.65"/><circle cx="298.6" cy="393.9" r="1.65"/><circle cx="302.6" cy="393.5" r="1.65"/><circle cx="306.6" cy="393" r="1.65"/><circle cx="310.6" cy="392.6" r="1.65"/><circle cx="314.6" cy="392.1" r="1.65"/><circle cx="318.5" cy="391.6" r="1.65"/><circle cx="322.5" cy="391.1" r="1.65"/><circle cx="326.5" cy="390.5" r="1.65"/><circle cx="329.9" cy="379.1" r="1.65"/></g>
<path d="M218 400.7L221.7 400.2L225.5 399.7L229.2 399.3L233 398.8L236.7 398.4L240.4 397.9L244.2 397.4L247.9 397L251.7 396.5L255.4 396L259.1 395.6L262.9 395.1L266.6 394.6L270.4 394.1L274.1 393.7L277.9 393.2L281.6 392.7L285.3 392.1L289.1 391.6L292.8 391.1L296.6 390.6L300.3 390L304 389.4L307.8 388.8L311.5 388.2L315.3 387.6L319 387L322.7 386.3L326.5 385.6L329.9 381.7" fill="none" stroke="#b06ff0" stroke-width="0.9"/>
<path d="M325.4 391.2L321.3 391.7L317.2 392.2L313.1 392.7L309 393.2L305 393.6L300.9 394L296.8 394.4L292.7 394.8L288.6 395.2L284.6 395.6L280.5 395.9L276.4 396.3L272.3 396.6L268.3 396.9L264.2 397.2L260.1 397.6L256 397.9L251.9 398.2L247.9 398.5L243.8 398.8L239.7 399.1L235.6 399.4L231.6 399.7" fill="none" stroke="#b06ff0" stroke-width="0.9"/>
<g fill="#b06ff0"><circle cx="218" cy="400.7" r="1.65"/><circle cx="221.7" cy="400.2" r="1.65"/><circle cx="225.5" cy="399.7" r="1.65"/><circle cx="229.2" cy="399.3" r="1.65"/><circle cx="233" cy="398.8" r="1.65"/><circle cx="236.7" cy="398.4" r="1.65"/><circle cx="240.4" cy="397.9" r="1.65"/><circle cx="244.2" cy="397.4" r="1.65"/><circle cx="247.9" cy="397" r="1.65"/><circle cx="251.7" cy="396.5" r="1.65"/><circle cx="255.4" cy="396" r="1.65"/><circle cx="259.1" cy="395.6" r="1.65"/><circle cx="262.9" cy="395.1" r="1.65"/><circle cx="266.6" cy="394.6" r="1.65"/><circle cx="270.4" cy="394.1" r="1.65"/><circle cx="274.1" cy="393.7" r="1.65"/><circle cx="277.9" cy="393.2" r="1.65"/><circle cx="281.6" cy="392.7" r="1.65"/><circle cx="285.3" cy="392.1" r="1.65"/><circle cx="289.1" cy="391.6" r="1.65"/><circle cx="292.8" cy="391.1" r="1.65"/><circle cx="296.6" cy="390.6" r="1.65"/><circle cx="300.3" cy="390" r="1.65"/><circle cx="304" cy="389.4" r="1.65"/><circle cx="307.8" cy="388.8" r="1.65"/><circle cx="311.5" cy="388.2" r="1.65"/><circle cx="315.3" cy="387.6" r="1.65"/><circle cx="319" cy="387" r="1.65"/><circle cx="322.7" cy="386.3" r="1.65"/><circle cx="326.5" cy="385.6" r="1.65"/><circle cx="329.9" cy="381.7" r="1.65"/><circle cx="325.4" cy="391.2" r="1.65"/><circle cx="321.3" cy="391.7" r="1.65"/><circle cx="317.2" cy="392.2" r="1.65"/><circle cx="313.1" cy="392.7" r="1.65"/><circle cx="309" cy="393.2" r="1.65"/><circle cx="305" cy="393.6" r="1.65"/><circle cx="300.9" cy="394" r="1.65"/><circle cx="296.8" cy="394.4" r="1.65"/><circle cx="292.7" cy="394.8" r="1.65"/><circle cx="288.6" cy="395.2" r="1.65"/><circle cx="284.6" cy="395.6" r="1.65"/><circle cx="280.5" cy="395.9" r="1.65"/><circle cx="276.4" cy="396.3" r="1.65"/><circle cx="272.3" cy="396.6" r="1.65"/><circle cx="268.3" cy="396.9" r="1.65"/><circle cx="264.2" cy="397.2" r="1.65"/><circle cx="260.1" cy="397.6" r="1.65"/><circle cx="256" cy="397.9" r="1.65"/><circle cx="251.9" cy="398.2" r="1.65"/><circle cx="247.9" cy="398.5" r="1.65"/><circle cx="243.8" cy="398.8" r="1.65"/><circle cx="239.7" cy="399.1" r="1.65"/><circle cx="235.6" cy="399.4" r="1.65"/><circle cx="231.6" cy="399.7" r="1.65"/></g>
<rect x="212.5" y="319.1" width="124.1" height="87.2" fill="none" stroke="#3a3a3a" stroke-width="1"/>
<path d="M218 406.3v3M229.3 406.3v2M240.6 406.3v3M251.9 406.3v2M263.2 406.3v3M274.5 406.3v2M285.8 406.3v3M297.1 406.3v2M308.4 406.3v3M319.7 406.3v2M331 406.3v3M212.5 401.2h-3M212.5 380.7h-3M212.5 360.1h-3M212.5 339.6h-3M212.5 319.1h-3M212.5 390.9h-2M212.5 370.4h-2M212.5 349.9h-2M212.5 329.4h-2" stroke="#3a3a3a" stroke-width="0.9" fill="none"/>
<text x="218" y="420" font-size="10.5" text-anchor="middle" fill="#222">0.0</text>
<text x="240.6" y="420" font-size="10.5" text-anchor="middle" fill="#222">0.2</text>
<text x="263.2" y="420" font-size="10.5" text-anchor="middle" fill="#222">0.4</text>
<text x="285.8" y="420" font-size="10.5" text-anchor="middle" fill="#222">0.6</text>
<text x="308.4" y="420" font-size="10.5" text-anchor="middle" fill="#222">0.8</text>
<text x="331" y="420" font-size="10.5" text-anchor="middle" fill="#222">1.0</text>
<text x="210.2" y="405" font-size="10.5" text-anchor="end" fill="#222">0</text>
<text x="210.2" y="384.5" font-size="10.5" text-anchor="end" fill="#222">20</text>
<text x="210.2" y="363.9" font-size="10.5" text-anchor="end" fill="#222">40</text>
<text x="210.2" y="343.4" font-size="10.5" text-anchor="end" fill="#222">60</text>
<text x="210.2" y="322.9" font-size="10.5" text-anchor="end" fill="#222">80</text>
<text x="225" y="337.1" font-size="15" text-anchor="middle" font-weight="bold" fill="#111">j</text>
<text x="274.6" y="431.3" font-size="10.5" font-style="italic" text-anchor="middle" fill="#222">P/P<tspan font-size="7.5" dy="-4">0</tspan></text>
<text transform="translate(187.8 362.2) rotate(-90)" font-size="10.5" text-anchor="middle" fill="#222">N<tspan font-size="7.5" dy="2.5">2</tspan><tspan dy="-2.5"> uptake (cc·g</tspan><tspan font-size="7.5" dy="-4">-1</tspan><tspan dy="4">)</tspan></text>
<rect x="380.2" y="319.6" width="11.3" height="86.7" fill="#e2f6d2"/>
<rect x="414.2" y="319.6" width="56.6" height="86.7" fill="#e9a878"/>
<rect x="482.2" y="319.6" width="11.3" height="86.7" fill="#d8687e"/>
<path d="M381.3 400.1L385.3 399.7L389.3 399.4L393.3 399L397.3 398.6L401.3 398.3L405.3 397.9L409.2 397.6L413.2 397.2L417.2 396.8L421.2 396.5L425.2 396.1L429.2 395.7L433.2 395.3L437.1 394.9L441.1 394.5L445.1 394.1L449.1 393.7L453.1 393.3L457.1 392.8L461.1 392.4L465 391.9L469 391.4L473 390.9L477 390.4L481 389.8L485 389.3L489 388.7L492.4 367.5" fill="none" stroke="#ec3b3b" stroke-width="0.9"/>
<g fill="#ec3b3b"><circle cx="381.3" cy="400.1" r="1.65"/><circle cx="385.3" cy="399.7" r="1.65"/><circle cx="389.3" cy="399.4" r="1.65"/><circle cx="393.3" cy="399" r="1.65"/><circle cx="397.3" cy="398.6" r="1.65"/><circle cx="401.3" cy="398.3" r="1.65"/><circle cx="405.3" cy="397.9" r="1.65"/><circle cx="409.2" cy="397.6" r="1.65"/><circle cx="413.2" cy="397.2" r="1.65"/><circle cx="417.2" cy="396.8" r="1.65"/><circle cx="421.2" cy="396.5" r="1.65"/><circle cx="425.2" cy="396.1" r="1.65"/><circle cx="429.2" cy="395.7" r="1.65"/><circle cx="433.2" cy="395.3" r="1.65"/><circle cx="437.1" cy="394.9" r="1.65"/><circle cx="441.1" cy="394.5" r="1.65"/><circle cx="445.1" cy="394.1" r="1.65"/><circle cx="449.1" cy="393.7" r="1.65"/><circle cx="453.1" cy="393.3" r="1.65"/><circle cx="457.1" cy="392.8" r="1.65"/><circle cx="461.1" cy="392.4" r="1.65"/><circle cx="465" cy="391.9" r="1.65"/><circle cx="469" cy="391.4" r="1.65"/><circle cx="473" cy="390.9" r="1.65"/><circle cx="477" cy="390.4" r="1.65"/><circle cx="481" cy="389.8" r="1.65"/><circle cx="485" cy="389.3" r="1.65"/><circle cx="489" cy="388.7" r="1.65"/><circle cx="492.4" cy="367.5" r="1.65"/></g>
<path d="M381.3 399.5L385.3 399.1L389.2 398.7L393.2 398.3L397.1 397.8L401.1 397.4L405 397L408.9 396.6L412.9 396.1L416.8 395.7L420.8 395.3L424.7 394.9L428.7 394.4L432.6 394L436.6 393.6L440.5 393.2L444.4 392.7L448.4 392.3L452.3 391.9L456.3 391.5L460.2 391L464.2 390.6L468.1 390.2L472.1 389.7L476 389.3L479.9 388.9L483.9 388.5L487.8 388L492.4 364.5" fill="none" stroke="#333333" stroke-width="0.9"/>
<g fill="#333333"><circle cx="381.3" cy="399.5" r="1.3"/><circle cx="385.3" cy="399.1" r="1.3"/><circle cx="389.2" cy="398.7" r="1.3"/><circle cx="393.2" cy="398.3" r="1.3"/><circle cx="397.1" cy="397.8" r="1.3"/><circle cx="401.1" cy="397.4" r="1.3"/><circle cx="405" cy="397" r="1.3"/><circle cx="408.9" cy="396.6" r="1.3"/><circle cx="412.9" cy="396.1" r="1.3"/><circle cx="416.8" cy="395.7" r="1.3"/><circle cx="420.8" cy="395.3" r="1.3"/><circle cx="424.7" cy="394.9" r="1.3"/><circle cx="428.7" cy="394.4" r="1.3"/><circle cx="432.6" cy="394" r="1.3"/><circle cx="436.6" cy="393.6" r="1.3"/><circle cx="440.5" cy="393.2" r="1.3"/><circle cx="444.4" cy="392.7" r="1.3"/><circle cx="448.4" cy="392.3" r="1.3"/><circle cx="452.3" cy="391.9" r="1.3"/><circle cx="456.3" cy="391.5" r="1.3"/><circle cx="460.2" cy="391" r="1.3"/><circle cx="464.2" cy="390.6" r="1.3"/><circle cx="468.1" cy="390.2" r="1.3"/><circle cx="472.1" cy="389.7" r="1.3"/><circle cx="476" cy="389.3" r="1.3"/><circle cx="479.9" cy="388.9" r="1.3"/><circle cx="483.9" cy="388.5" r="1.3"/><circle cx="487.8" cy="388" r="1.3"/><circle cx="492.4" cy="364.5" r="1.3"/></g>
<path d="M380.2 399.7L384.2 399.2L388.3 398.7L392.3 398.1L396.3 397.6L400.3 397.1L404.4 396.6L408.4 396.1L412.4 395.6L416.5 395.1L420.5 394.6L424.5 394L428.5 393.5L432.6 393L436.6 392.4L440.6 391.9L444.7 391.3L448.7 390.8L452.7 390.2L456.7 389.6L460.8 389L464.8 388.4L468.8 387.7L472.9 387.1L476.9 386.4L480.9 385.7L484.9 385L489 384.2L492.4 374.7" fill="none" stroke="#b06ff0" stroke-width="0.9"/>
<path d="M487.8 384.9L483.6 385.5L479.5 386.2L475.3 386.9L471.1 387.5L466.9 388.1L462.7 388.7L458.5 389.2L454.3 389.8L450.2 390.3L446 390.8L441.8 391.3L437.6 391.8L433.4 392.3L429.2 392.8L425 393.2L420.8 393.7L416.7 394.2L412.5 394.6L408.3 395.1L404.1 395.6L399.9 396L395.7 396.5L391.5 396.9" fill="none" stroke="#b06ff0" stroke-width="0.9"/>
<g fill="#b06ff0"><circle cx="380.2" cy="399.7" r="1.65"/><circle cx="384.2" cy="399.2" r="1.65"/><circle cx="388.3" cy="398.7" r="1.65"/><circle cx="392.3" cy="398.1" r="1.65"/><circle cx="396.3" cy="397.6" r="1.65"/><circle cx="400.3" cy="397.1" r="1.65"/><circle cx="404.4" cy="396.6" r="1.65"/><circle cx="408.4" cy="396.1" r="1.65"/><circle cx="412.4" cy="395.6" r="1.65"/><circle cx="416.5" cy="395.1" r="1.65"/><circle cx="420.5" cy="394.6" r="1.65"/><circle cx="424.5" cy="394" r="1.65"/><circle cx="428.5" cy="393.5" r="1.65"/><circle cx="432.6" cy="393" r="1.65"/><circle cx="436.6" cy="392.4" r="1.65"/><circle cx="440.6" cy="391.9" r="1.65"/><circle cx="444.7" cy="391.3" r="1.65"/><circle cx="448.7" cy="390.8" r="1.65"/><circle cx="452.7" cy="390.2" r="1.65"/><circle cx="456.7" cy="389.6" r="1.65"/><circle cx="460.8" cy="389" r="1.65"/><circle cx="464.8" cy="388.4" r="1.65"/><circle cx="468.8" cy="387.7" r="1.65"/><circle cx="472.9" cy="387.1" r="1.65"/><circle cx="476.9" cy="386.4" r="1.65"/><circle cx="480.9" cy="385.7" r="1.65"/><circle cx="484.9" cy="385" r="1.65"/><circle cx="489" cy="384.2" r="1.65"/><circle cx="492.4" cy="374.7" r="1.65"/><circle cx="487.8" cy="384.9" r="1.65"/><circle cx="483.6" cy="385.5" r="1.65"/><circle cx="479.5" cy="386.2" r="1.65"/><circle cx="475.3" cy="386.9" r="1.65"/><circle cx="471.1" cy="387.5" r="1.65"/><circle cx="466.9" cy="388.1" r="1.65"/><circle cx="462.7" cy="388.7" r="1.65"/><circle cx="458.5" cy="389.2" r="1.65"/><circle cx="454.3" cy="389.8" r="1.65"/><circle cx="450.2" cy="390.3" r="1.65"/><circle cx="446" cy="390.8" r="1.65"/><circle cx="441.8" cy="391.3" r="1.65"/><circle cx="437.6" cy="391.8" r="1.65"/><circle cx="433.4" cy="392.3" r="1.65"/><circle cx="429.2" cy="392.8" r="1.65"/><circle cx="425" cy="393.2" r="1.65"/><circle cx="420.8" cy="393.7" r="1.65"/><circle cx="416.7" cy="394.2" r="1.65"/><circle cx="412.5" cy="394.6" r="1.65"/><circle cx="408.3" cy="395.1" r="1.65"/><circle cx="404.1" cy="395.6" r="1.65"/><circle cx="399.9" cy="396" r="1.65"/><circle cx="395.7" cy="396.5" r="1.65"/><circle cx="391.5" cy="396.9" r="1.65"/></g>
<path d="M380.2 399.2L383.6 396.1L388.1 394.1L391.5 393L395.4 392.7L399.3 392.3L403.2 392L407.1 391.6L411 391.3L414.9 390.9L418.8 390.6L422.7 390.2L426.6 389.9L430.5 389.5L434.4 389.1L438.3 388.8L442.2 388.4L446.1 388L450 387.6L453.9 387.2L457.8 386.9L461.7 386.5L465.6 386L469.5 385.6L473.4 385.2L477.3 384.8L481.2 384.3L485.1 383.9L489 383.4L492.4 371.6" fill="none" stroke="#4fb865" stroke-width="0.9"/>
<path d="M487.8 382.4L483.6 383.1L479.5 383.7L475.3 384.2L471.1 384.7L466.9 385.1L462.7 385.4L458.5 385.8L454.3 386.1L450.2 386.3L446 386.6L441.8 386.9L437.6 387.1L433.4 387.3L429.2 387.5L425 387.7L420.8 388L416.7 388.2L412.5 388.4L408.3 388.6L404.1 388.8L399.9 389L395.7 389.2L391.5 389.4" fill="none" stroke="#4fb865" stroke-width="0.9"/>
<g fill="#4fb865"><circle cx="380.2" cy="399.2" r="1.65"/><circle cx="383.6" cy="396.1" r="1.65"/><circle cx="388.1" cy="394.1" r="1.65"/><circle cx="391.5" cy="393" r="1.65"/><circle cx="395.4" cy="392.7" r="1.65"/><circle cx="399.3" cy="392.3" r="1.65"/><circle cx="403.2" cy="392" r="1.65"/><circle cx="407.1" cy="391.6" r="1.65"/><circle cx="411" cy="391.3" r="1.65"/><circle cx="414.9" cy="390.9" r="1.65"/><circle cx="418.8" cy="390.6" r="1.65"/><circle cx="422.7" cy="390.2" r="1.65"/><circle cx="426.6" cy="389.9" r="1.65"/><circle cx="430.5" cy="389.5" r="1.65"/><circle cx="434.4" cy="389.1" r="1.65"/><circle cx="438.3" cy="388.8" r="1.65"/><circle cx="442.2" cy="388.4" r="1.65"/><circle cx="446.1" cy="388" r="1.65"/><circle cx="450" cy="387.6" r="1.65"/><circle cx="453.9" cy="387.2" r="1.65"/><circle cx="457.8" cy="386.9" r="1.65"/><circle cx="461.7" cy="386.5" r="1.65"/><circle cx="465.6" cy="386" r="1.65"/><circle cx="469.5" cy="385.6" r="1.65"/><circle cx="473.4" cy="385.2" r="1.65"/><circle cx="477.3" cy="384.8" r="1.65"/><circle cx="481.2" cy="384.3" r="1.65"/><circle cx="485.1" cy="383.9" r="1.65"/><circle cx="489" cy="383.4" r="1.65"/><circle cx="492.4" cy="371.6" r="1.65"/><circle cx="487.8" cy="382.4" r="1.65"/><circle cx="483.6" cy="383.1" r="1.65"/><circle cx="479.5" cy="383.7" r="1.65"/><circle cx="475.3" cy="384.2" r="1.65"/><circle cx="471.1" cy="384.7" r="1.65"/><circle cx="466.9" cy="385.1" r="1.65"/><circle cx="462.7" cy="385.4" r="1.65"/><circle cx="458.5" cy="385.8" r="1.65"/><circle cx="454.3" cy="386.1" r="1.65"/><circle cx="450.2" cy="386.3" r="1.65"/><circle cx="446" cy="386.6" r="1.65"/><circle cx="441.8" cy="386.9" r="1.65"/><circle cx="437.6" cy="387.1" r="1.65"/><circle cx="433.4" cy="387.3" r="1.65"/><circle cx="429.2" cy="387.5" r="1.65"/><circle cx="425" cy="387.7" r="1.65"/><circle cx="420.8" cy="388" r="1.65"/><circle cx="416.7" cy="388.2" r="1.65"/><circle cx="412.5" cy="388.4" r="1.65"/><circle cx="408.3" cy="388.6" r="1.65"/><circle cx="404.1" cy="388.8" r="1.65"/><circle cx="399.9" cy="389" r="1.65"/><circle cx="395.7" cy="389.2" r="1.65"/><circle cx="391.5" cy="389.4" r="1.65"/></g>
<path d="M380.2 400.2L382.5 398.8L386.4 398.2L390.4 397.6L394.3 397L398.2 396.4L402.2 395.8L406.1 395.2L410.1 394.6L414 394L418 393.4L421.9 392.7L425.9 392.1L429.8 391.5L433.7 390.9L437.7 390.2L441.6 389.6L445.6 388.9L449.5 388.3L453.5 387.6L457.4 386.9L461.4 386.2L465.3 385.5L469.2 384.8L473.2 384L477.1 383.2L481.1 382.4L485 381.6L489 380.8L492.4 346.6" fill="none" stroke="#4a79ea" stroke-width="0.9"/>
<path d="M487.8 379.5L483.6 380.4L479.5 381.2L475.3 382.1L471.1 382.9L466.9 383.7L462.7 384.4L458.5 385.2L454.3 385.9L450.2 386.6L446 387.3L441.8 388L437.6 388.7L433.4 389.4L429.2 390.1L425 390.7L420.8 391.4L416.7 392L412.5 392.7L408.3 393.3L404.1 394L399.9 394.6L395.7 395.3L391.5 395.9" fill="none" stroke="#4a79ea" stroke-width="0.9"/>
<g fill="#4a79ea"><circle cx="380.2" cy="400.2" r="1.65"/><circle cx="382.5" cy="398.8" r="1.65"/><circle cx="386.4" cy="398.2" r="1.65"/><circle cx="390.4" cy="397.6" r="1.65"/><circle cx="394.3" cy="397" r="1.65"/><circle cx="398.2" cy="396.4" r="1.65"/><circle cx="402.2" cy="395.8" r="1.65"/><circle cx="406.1" cy="395.2" r="1.65"/><circle cx="410.1" cy="394.6" r="1.65"/><circle cx="414" cy="394" r="1.65"/><circle cx="418" cy="393.4" r="1.65"/><circle cx="421.9" cy="392.7" r="1.65"/><circle cx="425.9" cy="392.1" r="1.65"/><circle cx="429.8" cy="391.5" r="1.65"/><circle cx="433.7" cy="390.9" r="1.65"/><circle cx="437.7" cy="390.2" r="1.65"/><circle cx="441.6" cy="389.6" r="1.65"/><circle cx="445.6" cy="388.9" r="1.65"/><circle cx="449.5" cy="388.3" r="1.65"/><circle cx="453.5" cy="387.6" r="1.65"/><circle cx="457.4" cy="386.9" r="1.65"/><circle cx="461.4" cy="386.2" r="1.65"/><circle cx="465.3" cy="385.5" r="1.65"/><circle cx="469.2" cy="384.8" r="1.65"/><circle cx="473.2" cy="384" r="1.65"/><circle cx="477.1" cy="383.2" r="1.65"/><circle cx="481.1" cy="382.4" r="1.65"/><circle cx="485" cy="381.6" r="1.65"/><circle cx="489" cy="380.8" r="1.65"/><circle cx="492.4" cy="346.6" r="1.65"/><circle cx="487.8" cy="379.5" r="1.65"/><circle cx="483.6" cy="380.4" r="1.65"/><circle cx="479.5" cy="381.2" r="1.65"/><circle cx="475.3" cy="382.1" r="1.65"/><circle cx="471.1" cy="382.9" r="1.65"/><circle cx="466.9" cy="383.7" r="1.65"/><circle cx="462.7" cy="384.4" r="1.65"/><circle cx="458.5" cy="385.2" r="1.65"/><circle cx="454.3" cy="385.9" r="1.65"/><circle cx="450.2" cy="386.6" r="1.65"/><circle cx="446" cy="387.3" r="1.65"/><circle cx="441.8" cy="388" r="1.65"/><circle cx="437.6" cy="388.7" r="1.65"/><circle cx="433.4" cy="389.4" r="1.65"/><circle cx="429.2" cy="390.1" r="1.65"/><circle cx="425" cy="390.7" r="1.65"/><circle cx="420.8" cy="391.4" r="1.65"/><circle cx="416.7" cy="392" r="1.65"/><circle cx="412.5" cy="392.7" r="1.65"/><circle cx="408.3" cy="393.3" r="1.65"/><circle cx="404.1" cy="394" r="1.65"/><circle cx="399.9" cy="394.6" r="1.65"/><circle cx="395.7" cy="395.3" r="1.65"/><circle cx="391.5" cy="395.9" r="1.65"/></g>
<rect x="374.5" y="319.6" width="124.5" height="86.7" fill="none" stroke="#3a3a3a" stroke-width="1"/>
<path d="M380.2 406.3v3M391.5 406.3v2M402.9 406.3v3M414.2 406.3v2M425.5 406.3v3M436.8 406.3v2M448.2 406.3v3M459.5 406.3v2M470.8 406.3v3M482.2 406.3v2M493.5 406.3v3M374.5 401.2h-3M374.5 380.8h-3M374.5 360.4h-3M374.5 340h-3M374.5 319.6h-3M374.5 391h-2M374.5 370.6h-2M374.5 350.2h-2M374.5 329.8h-2" stroke="#3a3a3a" stroke-width="0.9" fill="none"/>
<text x="380.2" y="420" font-size="10.5" text-anchor="middle" fill="#222">0.0</text>
<text x="402.9" y="420" font-size="10.5" text-anchor="middle" fill="#222">0.2</text>
<text x="425.5" y="420" font-size="10.5" text-anchor="middle" fill="#222">0.4</text>
<text x="448.2" y="420" font-size="10.5" text-anchor="middle" fill="#222">0.6</text>
<text x="470.8" y="420" font-size="10.5" text-anchor="middle" fill="#222">0.8</text>
<text x="493.5" y="420" font-size="10.5" text-anchor="middle" fill="#222">1.0</text>
<text x="372.2" y="405" font-size="10.5" text-anchor="end" fill="#222">0</text>
<text x="372.2" y="384.6" font-size="10.5" text-anchor="end" fill="#222">20</text>
<text x="372.2" y="364.2" font-size="10.5" text-anchor="end" fill="#222">40</text>
<text x="372.2" y="343.8" font-size="10.5" text-anchor="end" fill="#222">60</text>
<text x="372.2" y="323.4" font-size="10.5" text-anchor="end" fill="#222">80</text>
<text x="387.2" y="337.6" font-size="15" text-anchor="middle" font-weight="bold" fill="#111">k</text>
<text x="436.8" y="431.3" font-size="10.5" font-style="italic" text-anchor="middle" fill="#222">P/P<tspan font-size="7.5" dy="-4">0</tspan></text>
<text transform="translate(349.8 362.5) rotate(-90)" font-size="10.5" text-anchor="middle" fill="#222">N<tspan font-size="7.5" dy="2.5">2</tspan><tspan dy="-2.5"> uptake (cc·g</tspan><tspan font-size="7.5" dy="-4">-1</tspan><tspan dy="4">)</tspan></text>
<rect x="546.4" y="319.7" width="11.2" height="86.5" fill="#e2f6d2"/>
<rect x="580.1" y="319.7" width="56.2" height="86.5" fill="#e9a878"/>
<rect x="647.6" y="319.7" width="11.2" height="86.5" fill="#d8687e"/>
<path d="M547.5 402.1L551.4 401.8L555.4 401.6L559.3 401.3L563.2 401L567.1 400.7L571 400.5L574.9 400.2L578.9 399.9L582.8 399.6L586.7 399.3L590.6 399.1L594.5 398.8L598.4 398.5L602.4 398.2L606.3 398L610.2 397.7L614.1 397.4L618 397.1L621.9 396.8L625.9 396.6L629.8 396.3L633.7 396L637.6 395.7L641.5 395.5L645.4 395.2L649.4 394.9L653.3 394.6L657.8 371.6" fill="none" stroke="#333333" stroke-width="0.9"/>
<g fill="#333333"><circle cx="547.5" cy="402.1" r="1.3"/><circle cx="551.4" cy="401.8" r="1.3"/><circle cx="555.4" cy="401.6" r="1.3"/><circle cx="559.3" cy="401.3" r="1.3"/><circle cx="563.2" cy="401" r="1.3"/><circle cx="567.1" cy="400.7" r="1.3"/><circle cx="571" cy="400.5" r="1.3"/><circle cx="574.9" cy="400.2" r="1.3"/><circle cx="578.9" cy="399.9" r="1.3"/><circle cx="582.8" cy="399.6" r="1.3"/><circle cx="586.7" cy="399.3" r="1.3"/><circle cx="590.6" cy="399.1" r="1.3"/><circle cx="594.5" cy="398.8" r="1.3"/><circle cx="598.4" cy="398.5" r="1.3"/><circle cx="602.4" cy="398.2" r="1.3"/><circle cx="606.3" cy="398" r="1.3"/><circle cx="610.2" cy="397.7" r="1.3"/><circle cx="614.1" cy="397.4" r="1.3"/><circle cx="618" cy="397.1" r="1.3"/><circle cx="621.9" cy="396.8" r="1.3"/><circle cx="625.9" cy="396.6" r="1.3"/><circle cx="629.8" cy="396.3" r="1.3"/><circle cx="633.7" cy="396" r="1.3"/><circle cx="637.6" cy="395.7" r="1.3"/><circle cx="641.5" cy="395.5" r="1.3"/><circle cx="645.4" cy="395.2" r="1.3"/><circle cx="649.4" cy="394.9" r="1.3"/><circle cx="653.3" cy="394.6" r="1.3"/><circle cx="657.8" cy="371.6" r="1.3"/></g>
<path d="M547.5 402.1L551.5 401.8L555.4 401.6L559.4 401.3L563.4 401L567.3 400.7L571.3 400.4L575.2 400.2L579.2 399.9L583.1 399.6L587.1 399.3L591.1 399L595 398.7L599 398.4L602.9 398.1L606.9 397.7L610.9 397.4L614.8 397.1L618.8 396.7L622.7 396.4L626.7 396L630.6 395.6L634.6 395.2L638.6 394.8L642.5 394.3L646.5 393.9L650.4 393.4L654.4 392.8L657.8 356.3" fill="none" stroke="#ec3b3b" stroke-width="0.9"/>
<path d="M653.3 393L649.1 393.5L645 394L640.8 394.4L636.6 394.8L632.5 395.3L628.3 395.7L624.2 396L620 396.4L615.9 396.7L611.7 397.1L607.5 397.4L603.4 397.7L599.2 398L595.1 398.3L590.9 398.6L586.8 398.9L582.6 399.2L578.4 399.4L574.3 399.7L570.1 400L566 400.3L561.8 400.5L557.6 400.8" fill="none" stroke="#ec3b3b" stroke-width="0.9"/>
<g fill="#ec3b3b"><circle cx="547.5" cy="402.1" r="1.65"/><circle cx="551.5" cy="401.8" r="1.65"/><circle cx="555.4" cy="401.6" r="1.65"/><circle cx="559.4" cy="401.3" r="1.65"/><circle cx="563.4" cy="401" r="1.65"/><circle cx="567.3" cy="400.7" r="1.65"/><circle cx="571.3" cy="400.4" r="1.65"/><circle cx="575.2" cy="400.2" r="1.65"/><circle cx="579.2" cy="399.9" r="1.65"/><circle cx="583.1" cy="399.6" r="1.65"/><circle cx="587.1" cy="399.3" r="1.65"/><circle cx="591.1" cy="399" r="1.65"/><circle cx="595" cy="398.7" r="1.65"/><circle cx="599" cy="398.4" r="1.65"/><circle cx="602.9" cy="398.1" r="1.65"/><circle cx="606.9" cy="397.7" r="1.65"/><circle cx="610.9" cy="397.4" r="1.65"/><circle cx="614.8" cy="397.1" r="1.65"/><circle cx="618.8" cy="396.7" r="1.65"/><circle cx="622.7" cy="396.4" r="1.65"/><circle cx="626.7" cy="396" r="1.65"/><circle cx="630.6" cy="395.6" r="1.65"/><circle cx="634.6" cy="395.2" r="1.65"/><circle cx="638.6" cy="394.8" r="1.65"/><circle cx="642.5" cy="394.3" r="1.65"/><circle cx="646.5" cy="393.9" r="1.65"/><circle cx="650.4" cy="393.4" r="1.65"/><circle cx="654.4" cy="392.8" r="1.65"/><circle cx="657.8" cy="356.3" r="1.65"/><circle cx="653.3" cy="393" r="1.65"/><circle cx="649.1" cy="393.5" r="1.65"/><circle cx="645" cy="394" r="1.65"/><circle cx="640.8" cy="394.4" r="1.65"/><circle cx="636.6" cy="394.8" r="1.65"/><circle cx="632.5" cy="395.3" r="1.65"/><circle cx="628.3" cy="395.7" r="1.65"/><circle cx="624.2" cy="396" r="1.65"/><circle cx="620" cy="396.4" r="1.65"/><circle cx="615.9" cy="396.7" r="1.65"/><circle cx="611.7" cy="397.1" r="1.65"/><circle cx="607.5" cy="397.4" r="1.65"/><circle cx="603.4" cy="397.7" r="1.65"/><circle cx="599.2" cy="398" r="1.65"/><circle cx="595.1" cy="398.3" r="1.65"/><circle cx="590.9" cy="398.6" r="1.65"/><circle cx="586.8" cy="398.9" r="1.65"/><circle cx="582.6" cy="399.2" r="1.65"/><circle cx="578.4" cy="399.4" r="1.65"/><circle cx="574.3" cy="399.7" r="1.65"/><circle cx="570.1" cy="400" r="1.65"/><circle cx="566" cy="400.3" r="1.65"/><circle cx="561.8" cy="400.5" r="1.65"/><circle cx="557.6" cy="400.8" r="1.65"/></g>
<path d="M547.5 400.7L551.5 400.2L555.4 399.8L559.4 399.3L563.4 398.8L567.3 398.3L571.3 397.8L575.2 397.3L579.2 396.8L583.1 396.3L587.1 395.8L591.1 395.3L595 394.7L599 394.2L602.9 393.7L606.9 393.1L610.9 392.6L614.8 392L618.8 391.4L622.7 390.8L626.7 390.2L630.6 389.6L634.6 388.9L638.6 388.2L642.5 387.5L646.5 386.8L650.4 386L654.4 385.2L657.8 329.7" fill="none" stroke="#4a79ea" stroke-width="0.9"/>
<path d="M653.3 384.1L649.1 384.9L645 385.7L640.8 386.4L636.6 387.1L632.5 387.8L628.3 388.4L624.2 389.1L620 389.7L615.9 390.3L611.7 390.9L607.5 391.4L603.4 392L599.2 392.5L595.1 393L590.9 393.6L586.8 394.1L582.6 394.6L578.4 395.1L574.3 395.6L570.1 396.1L566 396.6L561.8 397.1L557.6 397.5" fill="none" stroke="#4a79ea" stroke-width="0.9"/>
<g fill="#4a79ea"><circle cx="547.5" cy="400.7" r="1.65"/><circle cx="551.5" cy="400.2" r="1.65"/><circle cx="555.4" cy="399.8" r="1.65"/><circle cx="559.4" cy="399.3" r="1.65"/><circle cx="563.4" cy="398.8" r="1.65"/><circle cx="567.3" cy="398.3" r="1.65"/><circle cx="571.3" cy="397.8" r="1.65"/><circle cx="575.2" cy="397.3" r="1.65"/><circle cx="579.2" cy="396.8" r="1.65"/><circle cx="583.1" cy="396.3" r="1.65"/><circle cx="587.1" cy="395.8" r="1.65"/><circle cx="591.1" cy="395.3" r="1.65"/><circle cx="595" cy="394.7" r="1.65"/><circle cx="599" cy="394.2" r="1.65"/><circle cx="602.9" cy="393.7" r="1.65"/><circle cx="606.9" cy="393.1" r="1.65"/><circle cx="610.9" cy="392.6" r="1.65"/><circle cx="614.8" cy="392" r="1.65"/><circle cx="618.8" cy="391.4" r="1.65"/><circle cx="622.7" cy="390.8" r="1.65"/><circle cx="626.7" cy="390.2" r="1.65"/><circle cx="630.6" cy="389.6" r="1.65"/><circle cx="634.6" cy="388.9" r="1.65"/><circle cx="638.6" cy="388.2" r="1.65"/><circle cx="642.5" cy="387.5" r="1.65"/><circle cx="646.5" cy="386.8" r="1.65"/><circle cx="650.4" cy="386" r="1.65"/><circle cx="654.4" cy="385.2" r="1.65"/><circle cx="657.8" cy="329.7" r="1.65"/><circle cx="653.3" cy="384.1" r="1.65"/><circle cx="649.1" cy="384.9" r="1.65"/><circle cx="645" cy="385.7" r="1.65"/><circle cx="640.8" cy="386.4" r="1.65"/><circle cx="636.6" cy="387.1" r="1.65"/><circle cx="632.5" cy="387.8" r="1.65"/><circle cx="628.3" cy="388.4" r="1.65"/><circle cx="624.2" cy="389.1" r="1.65"/><circle cx="620" cy="389.7" r="1.65"/><circle cx="615.9" cy="390.3" r="1.65"/><circle cx="611.7" cy="390.9" r="1.65"/><circle cx="607.5" cy="391.4" r="1.65"/><circle cx="603.4" cy="392" r="1.65"/><circle cx="599.2" cy="392.5" r="1.65"/><circle cx="595.1" cy="393" r="1.65"/><circle cx="590.9" cy="393.6" r="1.65"/><circle cx="586.8" cy="394.1" r="1.65"/><circle cx="582.6" cy="394.6" r="1.65"/><circle cx="578.4" cy="395.1" r="1.65"/><circle cx="574.3" cy="395.6" r="1.65"/><circle cx="570.1" cy="396.1" r="1.65"/><circle cx="566" cy="396.6" r="1.65"/><circle cx="561.8" cy="397.1" r="1.65"/><circle cx="557.6" cy="397.5" r="1.65"/></g>
<path d="M546.4 401.5L546.4 399.5L547.5 397.2L551.5 396.2L555.4 395.1L559.4 394L563.4 392.9L567.3 391.9L571.3 390.8L575.2 389.7L579.2 388.6L583.1 387.5L587.1 386.4L591.1 385.3L595 384.2L599 383.1L602.9 382L606.9 380.9L610.9 379.7L614.8 378.6L618.8 377.4L622.7 376.2L626.7 375L630.6 373.8L634.6 372.5L638.6 371.3L642.5 370L646.5 368.7L650.4 367.3L654.4 365.9L657.8 338.3" fill="none" stroke="#b06ff0" stroke-width="0.9"/>
<path d="M653.3 364.3L649 365.8L644.8 367.2L640.5 368.6L636.3 370L632 371.4L627.7 372.7L623.5 374L619.2 375.3L615 376.5L610.7 377.8L606.5 379L602.2 380.2L598 381.4L593.7 382.6L589.4 383.8L585.2 385L580.9 386.1L576.7 387.3L572.4 388.5L568.2 389.6L563.9 390.8L559.7 391.9L555.4 393.1" fill="none" stroke="#b06ff0" stroke-width="0.9"/>
<g fill="#b06ff0"><circle cx="546.4" cy="401.5" r="1.65"/><circle cx="546.4" cy="399.5" r="1.65"/><circle cx="547.5" cy="397.2" r="1.65"/><circle cx="551.5" cy="396.2" r="1.65"/><circle cx="555.4" cy="395.1" r="1.65"/><circle cx="559.4" cy="394" r="1.65"/><circle cx="563.4" cy="392.9" r="1.65"/><circle cx="567.3" cy="391.9" r="1.65"/><circle cx="571.3" cy="390.8" r="1.65"/><circle cx="575.2" cy="389.7" r="1.65"/><circle cx="579.2" cy="388.6" r="1.65"/><circle cx="583.1" cy="387.5" r="1.65"/><circle cx="587.1" cy="386.4" r="1.65"/><circle cx="591.1" cy="385.3" r="1.65"/><circle cx="595" cy="384.2" r="1.65"/><circle cx="599" cy="383.1" r="1.65"/><circle cx="602.9" cy="382" r="1.65"/><circle cx="606.9" cy="380.9" r="1.65"/><circle cx="610.9" cy="379.7" r="1.65"/><circle cx="614.8" cy="378.6" r="1.65"/><circle cx="618.8" cy="377.4" r="1.65"/><circle cx="622.7" cy="376.2" r="1.65"/><circle cx="626.7" cy="375" r="1.65"/><circle cx="630.6" cy="373.8" r="1.65"/><circle cx="634.6" cy="372.5" r="1.65"/><circle cx="638.6" cy="371.3" r="1.65"/><circle cx="642.5" cy="370" r="1.65"/><circle cx="646.5" cy="368.7" r="1.65"/><circle cx="650.4" cy="367.3" r="1.65"/><circle cx="654.4" cy="365.9" r="1.65"/><circle cx="657.8" cy="338.3" r="1.65"/><circle cx="653.3" cy="364.3" r="1.65"/><circle cx="649" cy="365.8" r="1.65"/><circle cx="644.8" cy="367.2" r="1.65"/><circle cx="640.5" cy="368.6" r="1.65"/><circle cx="636.3" cy="370" r="1.65"/><circle cx="632" cy="371.4" r="1.65"/><circle cx="627.7" cy="372.7" r="1.65"/><circle cx="623.5" cy="374" r="1.65"/><circle cx="619.2" cy="375.3" r="1.65"/><circle cx="615" cy="376.5" r="1.65"/><circle cx="610.7" cy="377.8" r="1.65"/><circle cx="606.5" cy="379" r="1.65"/><circle cx="602.2" cy="380.2" r="1.65"/><circle cx="598" cy="381.4" r="1.65"/><circle cx="593.7" cy="382.6" r="1.65"/><circle cx="589.4" cy="383.8" r="1.65"/><circle cx="585.2" cy="385" r="1.65"/><circle cx="580.9" cy="386.1" r="1.65"/><circle cx="576.7" cy="387.3" r="1.65"/><circle cx="572.4" cy="388.5" r="1.65"/><circle cx="568.2" cy="389.6" r="1.65"/><circle cx="563.9" cy="390.8" r="1.65"/><circle cx="559.7" cy="391.9" r="1.65"/><circle cx="555.4" cy="393.1" r="1.65"/></g>
<path d="M548.6 395.6L552.6 394.4L556.5 393.2L560.4 392.1L564.3 390.9L568.2 389.8L572.1 388.6L576.1 387.4L580 386.3L583.9 385.1L587.8 383.9L591.7 382.7L595.6 381.6L599.6 380.4L603.5 379.2L607.4 377.9L611.3 376.7L615.2 375.5L619.1 374.2L623.1 373L627 371.7L630.9 370.4L634.8 369.1L638.7 367.7L642.6 366.3L646.6 364.9L650.5 363.5L654.4 362L657.8 354.3" fill="none" stroke="#4fb865" stroke-width="0.9"/>
<path d="M653.3 360.4L649 362L644.8 363.6L640.5 365.1L636.3 366.6L632 368L627.7 369.4L623.5 370.8L619.2 372.2L615 373.6L610.7 374.9L606.5 376.2L602.2 377.6L598 378.9L593.7 380.2L589.4 381.4L585.2 382.7L580.9 384L576.7 385.3L572.4 386.5L568.2 387.8L563.9 389L559.7 390.3L555.4 391.6" fill="none" stroke="#4fb865" stroke-width="0.9"/>
<g fill="#4fb865"><circle cx="548.6" cy="395.6" r="1.65"/><circle cx="552.6" cy="394.4" r="1.65"/><circle cx="556.5" cy="393.2" r="1.65"/><circle cx="560.4" cy="392.1" r="1.65"/><circle cx="564.3" cy="390.9" r="1.65"/><circle cx="568.2" cy="389.8" r="1.65"/><circle cx="572.1" cy="388.6" r="1.65"/><circle cx="576.1" cy="387.4" r="1.65"/><circle cx="580" cy="386.3" r="1.65"/><circle cx="583.9" cy="385.1" r="1.65"/><circle cx="587.8" cy="383.9" r="1.65"/><circle cx="591.7" cy="382.7" r="1.65"/><circle cx="595.6" cy="381.6" r="1.65"/><circle cx="599.6" cy="380.4" r="1.65"/><circle cx="603.5" cy="379.2" r="1.65"/><circle cx="607.4" cy="377.9" r="1.65"/><circle cx="611.3" cy="376.7" r="1.65"/><circle cx="615.2" cy="375.5" r="1.65"/><circle cx="619.1" cy="374.2" r="1.65"/><circle cx="623.1" cy="373" r="1.65"/><circle cx="627" cy="371.7" r="1.65"/><circle cx="630.9" cy="370.4" r="1.65"/><circle cx="634.8" cy="369.1" r="1.65"/><circle cx="638.7" cy="367.7" r="1.65"/><circle cx="642.6" cy="366.3" r="1.65"/><circle cx="646.6" cy="364.9" r="1.65"/><circle cx="650.5" cy="363.5" r="1.65"/><circle cx="654.4" cy="362" r="1.65"/><circle cx="657.8" cy="354.3" r="1.65"/><circle cx="653.3" cy="360.4" r="1.65"/><circle cx="649" cy="362" r="1.65"/><circle cx="644.8" cy="363.6" r="1.65"/><circle cx="640.5" cy="365.1" r="1.65"/><circle cx="636.3" cy="366.6" r="1.65"/><circle cx="632" cy="368" r="1.65"/><circle cx="627.7" cy="369.4" r="1.65"/><circle cx="623.5" cy="370.8" r="1.65"/><circle cx="619.2" cy="372.2" r="1.65"/><circle cx="615" cy="373.6" r="1.65"/><circle cx="610.7" cy="374.9" r="1.65"/><circle cx="606.5" cy="376.2" r="1.65"/><circle cx="602.2" cy="377.6" r="1.65"/><circle cx="598" cy="378.9" r="1.65"/><circle cx="593.7" cy="380.2" r="1.65"/><circle cx="589.4" cy="381.4" r="1.65"/><circle cx="585.2" cy="382.7" r="1.65"/><circle cx="580.9" cy="384" r="1.65"/><circle cx="576.7" cy="385.3" r="1.65"/><circle cx="572.4" cy="386.5" r="1.65"/><circle cx="568.2" cy="387.8" r="1.65"/><circle cx="563.9" cy="389" r="1.65"/><circle cx="559.7" cy="390.3" r="1.65"/><circle cx="555.4" cy="391.6" r="1.65"/></g>
<rect x="540.7" y="319.7" width="124.8" height="86.5" fill="none" stroke="#3a3a3a" stroke-width="1"/>
<path d="M546.4 406.2v3M557.6 406.2v2M568.9 406.2v3M580.1 406.2v2M591.4 406.2v3M602.6 406.2v2M613.9 406.2v3M625.1 406.2v2M636.4 406.2v3M647.6 406.2v2M658.9 406.2v3M540.7 402.9h-3M540.7 389.6h-3M540.7 376.3h-3M540.7 362.9h-3M540.7 349.6h-3M540.7 336.3h-3M540.7 319.7h-3M540.7 396.2h-2M540.7 382.9h-2M540.7 369.6h-2M540.7 356.3h-2M540.7 343h-2M540.7 328h-2" stroke="#3a3a3a" stroke-width="0.9" fill="none"/>
<text x="546.4" y="420" font-size="10.5" text-anchor="middle" fill="#222">0.0</text>
<text x="568.9" y="420" font-size="10.5" text-anchor="middle" fill="#222">0.2</text>
<text x="591.4" y="420" font-size="10.5" text-anchor="middle" fill="#222">0.4</text>
<text x="613.9" y="420" font-size="10.5" text-anchor="middle" fill="#222">0.6</text>
<text x="636.4" y="420" font-size="10.5" text-anchor="middle" fill="#222">0.8</text>
<text x="658.9" y="420" font-size="10.5" text-anchor="middle" fill="#222">1.0</text>
<text x="538.4" y="406.7" font-size="10.5" text-anchor="end" fill="#222">0</text>
<text x="538.4" y="393.4" font-size="10.5" text-anchor="end" fill="#222">20</text>
<text x="538.4" y="380.1" font-size="10.5" text-anchor="end" fill="#222">40</text>
<text x="538.4" y="366.8" font-size="10.5" text-anchor="end" fill="#222">60</text>
<text x="538.4" y="353.4" font-size="10.5" text-anchor="end" fill="#222">80</text>
<text x="538.4" y="340.1" font-size="10.5" text-anchor="end" fill="#222">100</text>
<text x="538.4" y="323.5" font-size="10.5" text-anchor="end" fill="#222">180</text>
<text x="553.4" y="337.7" font-size="15" text-anchor="middle" font-weight="bold" fill="#111">l</text>
<text x="603.1" y="431.3" font-size="10.5" font-style="italic" text-anchor="middle" fill="#222">P/P<tspan font-size="7.5" dy="-4">0</tspan></text>
<text transform="translate(516 362.4) rotate(-90)" font-size="10.5" text-anchor="middle" fill="#222">N<tspan font-size="7.5" dy="2.5">2</tspan><tspan dy="-2.5"> uptake (cc·g</tspan><tspan font-size="7.5" dy="-4">-1</tspan><tspan dy="4">)</tspan></text>
</svg></body></html>
